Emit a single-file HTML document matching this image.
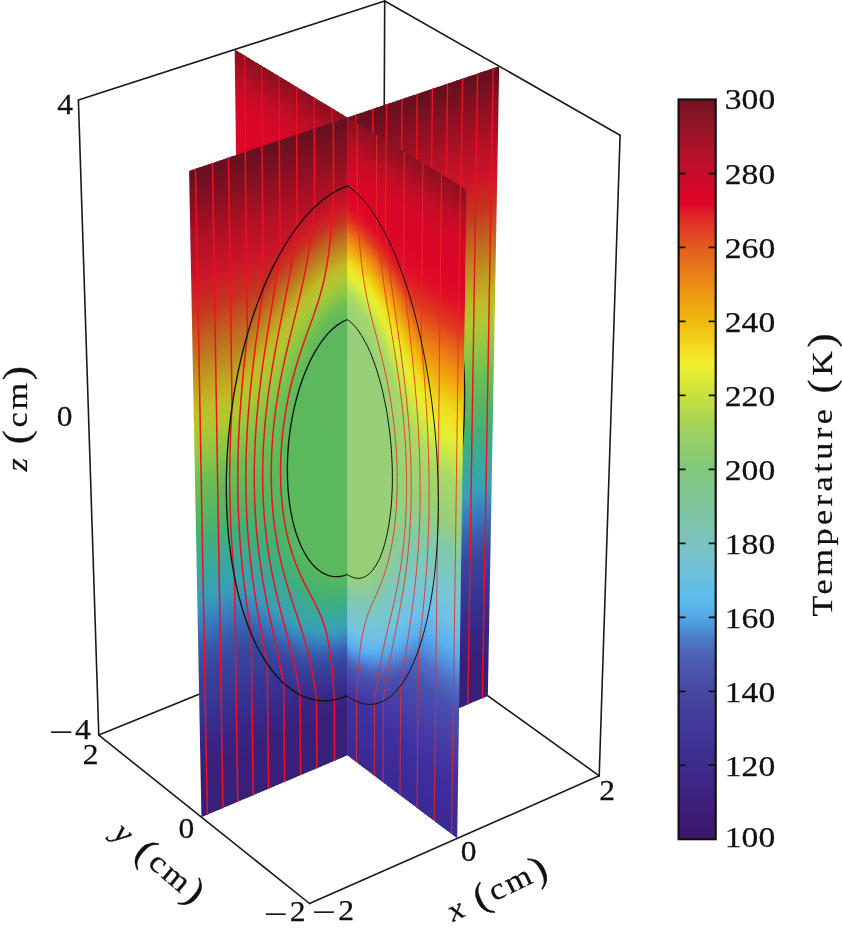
<!DOCTYPE html>
<html><head><meta charset="utf-8"><title>Temperature slices</title>
<style>html,body{margin:0;padding:0;background:#fff}svg{display:block}</style></head>
<body><svg width="842" height="928" viewBox="0 0 842 928">
<defs>
<linearGradient id="g0" gradientUnits="userSpaceOnUse" x1="0" y1="0" x2="0" y2="1" gradientTransform="matrix(-4 -2.7 0.17 637.60 345.31 116.26)"><stop offset="0" stop-color="#8a1020"/><stop offset="0.0405" stop-color="#b50e25"/><stop offset="0.0539" stop-color="#c20c26"/><stop offset="0.0874" stop-color="#d50828"/><stop offset="0.114" stop-color="#db0528"/><stop offset="0.1207" stop-color="#de0428"/><stop offset="0.1406" stop-color="#e00c28"/><stop offset="0.1604" stop-color="#e03420"/><stop offset="0.1802" stop-color="#e96f17"/><stop offset="0.1933" stop-color="#ef9011"/><stop offset="0.213" stop-color="#f0bf12"/><stop offset="0.2261" stop-color="#f0dc1e"/><stop offset="0.2391" stop-color="#ebeb2b"/><stop offset="0.2457" stop-color="#e6f031"/><stop offset="0.2652" stop-color="#c2e54e"/><stop offset="0.2782" stop-color="#abd965"/><stop offset="0.2911" stop-color="#a3d66d"/><stop offset="0.3169" stop-color="#98d078"/><stop offset="0.7164" stop-color="#98d078"/><stop offset="0.7526" stop-color="#80c8b2"/><stop offset="0.7826" stop-color="#77c7d2"/><stop offset="0.8064" stop-color="#6ebfe9"/><stop offset="0.8243" stop-color="#58afef"/><stop offset="0.8362" stop-color="#5091e1"/><stop offset="0.848" stop-color="#506cc3"/><stop offset="0.8598" stop-color="#4a56b4"/><stop offset="0.8657" stop-color="#484faf"/><stop offset="0.8893" stop-color="#473da7"/><stop offset="0.9069" stop-color="#4131a1"/><stop offset="1" stop-color="#3b2994"/></linearGradient>
<linearGradient id="g1" gradientUnits="userSpaceOnUse" x1="0" y1="0" x2="0" y2="1" gradientTransform="matrix(-4 -2.7 0.49 637.21 341.18 113.77)"><stop offset="0" stop-color="#8a1020"/><stop offset="0.0405" stop-color="#b50e25"/><stop offset="0.0539" stop-color="#c20c26"/><stop offset="0.0874" stop-color="#d50828"/><stop offset="0.114" stop-color="#db0528"/><stop offset="0.1207" stop-color="#de0428"/><stop offset="0.1406" stop-color="#e00b28"/><stop offset="0.1538" stop-color="#e02423"/><stop offset="0.1604" stop-color="#e03220"/><stop offset="0.1802" stop-color="#e86d18"/><stop offset="0.1999" stop-color="#f09e10"/><stop offset="0.213" stop-color="#f0be11"/><stop offset="0.2261" stop-color="#f0da1d"/><stop offset="0.2326" stop-color="#eee424"/><stop offset="0.2456" stop-color="#e8f030"/><stop offset="0.2652" stop-color="#c4e64c"/><stop offset="0.2781" stop-color="#addb63"/><stop offset="0.2846" stop-color="#a7d769"/><stop offset="0.3169" stop-color="#99d077"/><stop offset="0.7103" stop-color="#98d078"/><stop offset="0.7164" stop-color="#97d07b"/><stop offset="0.7526" stop-color="#7fc8b3"/><stop offset="0.7825" stop-color="#77c7d3"/><stop offset="0.8064" stop-color="#6dbee9"/><stop offset="0.8243" stop-color="#57adef"/><stop offset="0.8362" stop-color="#508fdf"/><stop offset="0.848" stop-color="#506ac1"/><stop offset="0.8598" stop-color="#4a56b4"/><stop offset="0.8657" stop-color="#484eaf"/><stop offset="0.8893" stop-color="#473da7"/><stop offset="0.9069" stop-color="#4131a1"/><stop offset="1" stop-color="#3b2994"/></linearGradient>
<linearGradient id="g2" gradientUnits="userSpaceOnUse" x1="0" y1="0" x2="0" y2="1" gradientTransform="matrix(-4 -2.7 0.80 636.82 337.05 111.28)"><stop offset="0" stop-color="#8a1020"/><stop offset="0.0405" stop-color="#b50e25"/><stop offset="0.0539" stop-color="#c20c26"/><stop offset="0.0874" stop-color="#d50828"/><stop offset="0.1207" stop-color="#dd0428"/><stop offset="0.1406" stop-color="#e00b28"/><stop offset="0.1472" stop-color="#e01426"/><stop offset="0.1604" stop-color="#e03021"/><stop offset="0.1802" stop-color="#e86a18"/><stop offset="0.1999" stop-color="#f09b10"/><stop offset="0.213" stop-color="#f0ba10"/><stop offset="0.2261" stop-color="#f0d71c"/><stop offset="0.2326" stop-color="#efe222"/><stop offset="0.2456" stop-color="#e9ee2e"/><stop offset="0.2586" stop-color="#d4eb3f"/><stop offset="0.2716" stop-color="#bde253"/><stop offset="0.2846" stop-color="#a8d868"/><stop offset="0.3233" stop-color="#98d078"/><stop offset="0.7103" stop-color="#98d078"/><stop offset="0.7285" stop-color="#8dcc91"/><stop offset="0.7465" stop-color="#81c8af"/><stop offset="0.7825" stop-color="#76c6d5"/><stop offset="0.8005" stop-color="#71c1e6"/><stop offset="0.8124" stop-color="#64b8ec"/><stop offset="0.8183" stop-color="#5cb3ef"/><stop offset="0.8243" stop-color="#56aaed"/><stop offset="0.8361" stop-color="#508bdc"/><stop offset="0.848" stop-color="#5067bf"/><stop offset="0.8598" stop-color="#4954b3"/><stop offset="0.8775" stop-color="#4845aa"/><stop offset="0.9069" stop-color="#4131a1"/><stop offset="1" stop-color="#3b2994"/></linearGradient>
<linearGradient id="g3" gradientUnits="userSpaceOnUse" x1="0" y1="0" x2="0" y2="1" gradientTransform="matrix(-3.9 -2.7 1.11 636.42 332.94 108.80)"><stop offset="0" stop-color="#8a1020"/><stop offset="0.0405" stop-color="#b50e25"/><stop offset="0.0539" stop-color="#c20c26"/><stop offset="0.0874" stop-color="#d50828"/><stop offset="0.1273" stop-color="#de0528"/><stop offset="0.1405" stop-color="#e00a28"/><stop offset="0.1472" stop-color="#e01127"/><stop offset="0.1604" stop-color="#e02c22"/><stop offset="0.167" stop-color="#e13d1f"/><stop offset="0.1867" stop-color="#ea7516"/><stop offset="0.1999" stop-color="#f09510"/><stop offset="0.213" stop-color="#f0b510"/><stop offset="0.226" stop-color="#f0d119"/><stop offset="0.2326" stop-color="#f0df20"/><stop offset="0.2456" stop-color="#eaec2c"/><stop offset="0.2521" stop-color="#e5ef32"/><stop offset="0.2716" stop-color="#c2e54e"/><stop offset="0.2846" stop-color="#acda64"/><stop offset="0.2911" stop-color="#a6d76a"/><stop offset="0.3298" stop-color="#98d078"/><stop offset="0.7042" stop-color="#98d078"/><stop offset="0.7103" stop-color="#96cf7d"/><stop offset="0.7465" stop-color="#7fc8b3"/><stop offset="0.7765" stop-color="#77c7d2"/><stop offset="0.8004" stop-color="#70c0e8"/><stop offset="0.8183" stop-color="#5ab1ef"/><stop offset="0.8302" stop-color="#5296e3"/><stop offset="0.8361" stop-color="#5086d8"/><stop offset="0.8421" stop-color="#5073c9"/><stop offset="0.848" stop-color="#4f64bd"/><stop offset="0.8598" stop-color="#4851b1"/><stop offset="0.8893" stop-color="#463ba6"/><stop offset="0.9069" stop-color="#4131a1"/><stop offset="1" stop-color="#3b2994"/></linearGradient>
<linearGradient id="g4" gradientUnits="userSpaceOnUse" x1="0" y1="0" x2="0" y2="1" gradientTransform="matrix(-3.9 -2.7 1.42 636.03 328.84 106.32)"><stop offset="0" stop-color="#8a1020"/><stop offset="0.0405" stop-color="#b50e25"/><stop offset="0.0539" stop-color="#c20c26"/><stop offset="0.0874" stop-color="#d50828"/><stop offset="0.1273" stop-color="#de0528"/><stop offset="0.1471" stop-color="#e00c28"/><stop offset="0.167" stop-color="#e03620"/><stop offset="0.1867" stop-color="#e96f17"/><stop offset="0.2064" stop-color="#f09e10"/><stop offset="0.2195" stop-color="#f0bd10"/><stop offset="0.2326" stop-color="#f0d81c"/><stop offset="0.2391" stop-color="#efe222"/><stop offset="0.2521" stop-color="#e9ee2e"/><stop offset="0.2651" stop-color="#d5eb3e"/><stop offset="0.2781" stop-color="#bfe351"/><stop offset="0.291" stop-color="#aad966"/><stop offset="0.3362" stop-color="#98d078"/><stop offset="0.6982" stop-color="#98d078"/><stop offset="0.7103" stop-color="#92ce85"/><stop offset="0.7405" stop-color="#80c8b1"/><stop offset="0.7765" stop-color="#76c6d5"/><stop offset="0.7945" stop-color="#71c1e5"/><stop offset="0.8064" stop-color="#65b9ec"/><stop offset="0.8183" stop-color="#57adee"/><stop offset="0.8302" stop-color="#5090e0"/><stop offset="0.8421" stop-color="#506cc3"/><stop offset="0.8539" stop-color="#4a57b5"/><stop offset="0.8598" stop-color="#484faf"/><stop offset="0.8834" stop-color="#473ea7"/><stop offset="0.901" stop-color="#4133a1"/><stop offset="0.9361" stop-color="#3e2e9c"/><stop offset="1" stop-color="#3b2994"/></linearGradient>
<linearGradient id="g5" gradientUnits="userSpaceOnUse" x1="0" y1="0" x2="0" y2="1" gradientTransform="matrix(-3.9 -2.7 1.73 635.64 324.74 103.85)"><stop offset="0" stop-color="#8a1020"/><stop offset="0.0405" stop-color="#b50e25"/><stop offset="0.0539" stop-color="#c20c26"/><stop offset="0.0873" stop-color="#d50828"/><stop offset="0.1273" stop-color="#de0428"/><stop offset="0.1471" stop-color="#e00b28"/><stop offset="0.1537" stop-color="#e01526"/><stop offset="0.1669" stop-color="#e03021"/><stop offset="0.1933" stop-color="#ea7716"/><stop offset="0.2064" stop-color="#f09610"/><stop offset="0.2195" stop-color="#f0b410"/><stop offset="0.226" stop-color="#f0c213"/><stop offset="0.2391" stop-color="#f0dd1f"/><stop offset="0.2586" stop-color="#e8f030"/><stop offset="0.2781" stop-color="#c8e848"/><stop offset="0.2975" stop-color="#a9d967"/><stop offset="0.3426" stop-color="#98d078"/><stop offset="0.6921" stop-color="#98d079"/><stop offset="0.7224" stop-color="#87caa0"/><stop offset="0.7344" stop-color="#80c8b1"/><stop offset="0.7705" stop-color="#77c7d3"/><stop offset="0.7945" stop-color="#6fbfe8"/><stop offset="0.8123" stop-color="#5ab1ef"/><stop offset="0.8242" stop-color="#5297e3"/><stop offset="0.8302" stop-color="#5087d9"/><stop offset="0.842" stop-color="#4f65be"/><stop offset="0.8539" stop-color="#4953b2"/><stop offset="0.8834" stop-color="#463da6"/><stop offset="0.901" stop-color="#4133a1"/><stop offset="0.9361" stop-color="#3e2e9c"/><stop offset="1" stop-color="#3b2994"/></linearGradient>
<linearGradient id="g6" gradientUnits="userSpaceOnUse" x1="0" y1="0" x2="0" y2="1" gradientTransform="matrix(-3.9 -2.7 2.04 635.25 320.65 101.39)"><stop offset="0" stop-color="#8a1020"/><stop offset="0.0405" stop-color="#b50e25"/><stop offset="0.0539" stop-color="#c20c26"/><stop offset="0.0873" stop-color="#d50828"/><stop offset="0.1339" stop-color="#de0528"/><stop offset="0.1537" stop-color="#e00e28"/><stop offset="0.1735" stop-color="#e03720"/><stop offset="0.1933" stop-color="#e86e18"/><stop offset="0.2129" stop-color="#f09b10"/><stop offset="0.226" stop-color="#f0b910"/><stop offset="0.2456" stop-color="#f0e020"/><stop offset="0.2651" stop-color="#e7f031"/><stop offset="0.2845" stop-color="#c8e848"/><stop offset="0.3039" stop-color="#abd965"/><stop offset="0.3168" stop-color="#a4d66c"/><stop offset="0.3554" stop-color="#98d078"/><stop offset="0.6799" stop-color="#98d078"/><stop offset="0.7103" stop-color="#89cb9a"/><stop offset="0.7284" stop-color="#80c8b2"/><stop offset="0.7645" stop-color="#77c7d3"/><stop offset="0.7885" stop-color="#70c0e8"/><stop offset="0.8064" stop-color="#5cb3ef"/><stop offset="0.8123" stop-color="#56aaed"/><stop offset="0.8242" stop-color="#508dde"/><stop offset="0.8361" stop-color="#506ac2"/><stop offset="0.8539" stop-color="#484faf"/><stop offset="0.8775" stop-color="#473fa7"/><stop offset="0.8951" stop-color="#4235a2"/><stop offset="0.9245" stop-color="#3f2f9e"/><stop offset="1" stop-color="#3b2994"/></linearGradient>
<linearGradient id="g7" gradientUnits="userSpaceOnUse" x1="0" y1="0" x2="0" y2="1" gradientTransform="matrix(-3.9 -2.7 2.35 634.85 316.57 98.92)"><stop offset="0" stop-color="#8a1020"/><stop offset="0.0405" stop-color="#b50e25"/><stop offset="0.0539" stop-color="#c20c26"/><stop offset="0.0873" stop-color="#d50828"/><stop offset="0.1339" stop-color="#de0428"/><stop offset="0.1537" stop-color="#e00b28"/><stop offset="0.1603" stop-color="#e01426"/><stop offset="0.1735" stop-color="#e02e21"/><stop offset="0.1867" stop-color="#e4511c"/><stop offset="0.1998" stop-color="#e97317"/><stop offset="0.2129" stop-color="#ef9111"/><stop offset="0.2325" stop-color="#f0bb10"/><stop offset="0.2521" stop-color="#f0e020"/><stop offset="0.2716" stop-color="#e8f030"/><stop offset="0.2975" stop-color="#c0e450"/><stop offset="0.3104" stop-color="#aedb62"/><stop offset="0.3168" stop-color="#a7d869"/><stop offset="0.3745" stop-color="#98d078"/><stop offset="0.6677" stop-color="#98d079"/><stop offset="0.6981" stop-color="#8bcc97"/><stop offset="0.7223" stop-color="#7fc8b4"/><stop offset="0.7585" stop-color="#77c7d3"/><stop offset="0.7825" stop-color="#70c0e7"/><stop offset="0.8004" stop-color="#5db3ee"/><stop offset="0.8064" stop-color="#57adee"/><stop offset="0.8183" stop-color="#5092e1"/><stop offset="0.8302" stop-color="#5070c6"/><stop offset="0.8361" stop-color="#4e63bd"/><stop offset="0.8479" stop-color="#4851b1"/><stop offset="0.8775" stop-color="#463da6"/><stop offset="0.901" stop-color="#4133a1"/><stop offset="0.9361" stop-color="#3e2e9c"/><stop offset="1" stop-color="#3b2994"/></linearGradient>
<linearGradient id="g8" gradientUnits="userSpaceOnUse" x1="0" y1="0" x2="0" y2="1" gradientTransform="matrix(-3.9 -2.7 2.66 634.46 312.50 96.47)"><stop offset="0" stop-color="#8a1020"/><stop offset="0.0404" stop-color="#b50e25"/><stop offset="0.0539" stop-color="#c20c26"/><stop offset="0.0873" stop-color="#d50828"/><stop offset="0.1405" stop-color="#de0528"/><stop offset="0.1603" stop-color="#e00d28"/><stop offset="0.1801" stop-color="#e03320"/><stop offset="0.1998" stop-color="#e76719"/><stop offset="0.2194" stop-color="#f09310"/><stop offset="0.239" stop-color="#f0bd10"/><stop offset="0.2586" stop-color="#f0e020"/><stop offset="0.278" stop-color="#e8ef2f"/><stop offset="0.3039" stop-color="#c4e64c"/><stop offset="0.3232" stop-color="#abd965"/><stop offset="0.3425" stop-color="#a3d66d"/><stop offset="0.3936" stop-color="#98d078"/><stop offset="0.6494" stop-color="#98d079"/><stop offset="0.6799" stop-color="#8dcc91"/><stop offset="0.7102" stop-color="#80c8b2"/><stop offset="0.7525" stop-color="#77c7d4"/><stop offset="0.7765" stop-color="#70c0e7"/><stop offset="0.8004" stop-color="#58aeef"/><stop offset="0.8123" stop-color="#5194e2"/><stop offset="0.8301" stop-color="#4f65be"/><stop offset="0.842" stop-color="#4954b2"/><stop offset="0.8657" stop-color="#4842a9"/><stop offset="0.8834" stop-color="#4438a4"/><stop offset="0.9186" stop-color="#3f2f9f"/><stop offset="1" stop-color="#3b2994"/></linearGradient>
<linearGradient id="g9" gradientUnits="userSpaceOnUse" x1="0" y1="0" x2="0" y2="1" gradientTransform="matrix(-3.9 -2.7 2.96 634.07 308.43 94.02)"><stop offset="0" stop-color="#8a1020"/><stop offset="0.0404" stop-color="#b50e25"/><stop offset="0.0539" stop-color="#c20c26"/><stop offset="0.0873" stop-color="#d50828"/><stop offset="0.1405" stop-color="#de0528"/><stop offset="0.1603" stop-color="#e00b28"/><stop offset="0.1669" stop-color="#e01127"/><stop offset="0.1867" stop-color="#e03720"/><stop offset="0.2063" stop-color="#e86b18"/><stop offset="0.226" stop-color="#f09510"/><stop offset="0.2455" stop-color="#f0bc10"/><stop offset="0.265" stop-color="#f0df1f"/><stop offset="0.2845" stop-color="#e9ee2e"/><stop offset="0.2974" stop-color="#daec3b"/><stop offset="0.3168" stop-color="#c0e450"/><stop offset="0.3361" stop-color="#a9d967"/><stop offset="0.4063" stop-color="#99d077"/><stop offset="0.6249" stop-color="#98d078"/><stop offset="0.6555" stop-color="#90cd8a"/><stop offset="0.6859" stop-color="#85caa5"/><stop offset="0.7042" stop-color="#7fc8b5"/><stop offset="0.7464" stop-color="#76c6d5"/><stop offset="0.7705" stop-color="#70c0e8"/><stop offset="0.7944" stop-color="#58aeef"/><stop offset="0.8063" stop-color="#5195e2"/><stop offset="0.8242" stop-color="#4f66bf"/><stop offset="0.842" stop-color="#484faf"/><stop offset="0.8716" stop-color="#463ba6"/><stop offset="0.9186" stop-color="#3f2f9f"/><stop offset="1" stop-color="#3b2994"/></linearGradient>
<linearGradient id="g10" gradientUnits="userSpaceOnUse" x1="0" y1="0" x2="0" y2="1" gradientTransform="matrix(-3.9 -2.7 3.27 633.68 304.37 91.57)"><stop offset="0" stop-color="#8a1020"/><stop offset="0.0404" stop-color="#b50e25"/><stop offset="0.0539" stop-color="#c20c26"/><stop offset="0.0873" stop-color="#d50828"/><stop offset="0.1405" stop-color="#de0528"/><stop offset="0.1669" stop-color="#e00b28"/><stop offset="0.1735" stop-color="#e01426"/><stop offset="0.1932" stop-color="#e13a1f"/><stop offset="0.2129" stop-color="#e86c18"/><stop offset="0.2325" stop-color="#f09510"/><stop offset="0.252" stop-color="#f0bb10"/><stop offset="0.2715" stop-color="#f0dc1e"/><stop offset="0.2845" stop-color="#ece828"/><stop offset="0.2974" stop-color="#e7f031"/><stop offset="0.3296" stop-color="#bfe351"/><stop offset="0.3489" stop-color="#a9d967"/><stop offset="0.4127" stop-color="#9cd274"/><stop offset="0.4695" stop-color="#98d078"/><stop offset="0.5941" stop-color="#98d079"/><stop offset="0.631" stop-color="#92ce87"/><stop offset="0.6616" stop-color="#89cb9c"/><stop offset="0.692" stop-color="#7fc8b5"/><stop offset="0.7344" stop-color="#77c7d3"/><stop offset="0.7645" stop-color="#6fbfe8"/><stop offset="0.7824" stop-color="#5db3ee"/><stop offset="0.7884" stop-color="#57adef"/><stop offset="0.8004" stop-color="#5194e2"/><stop offset="0.8182" stop-color="#5067bf"/><stop offset="0.8361" stop-color="#484fb0"/><stop offset="0.8657" stop-color="#473da7"/><stop offset="0.9186" stop-color="#3f2f9f"/><stop offset="1" stop-color="#3b2994"/></linearGradient>
<linearGradient id="g11" gradientUnits="userSpaceOnUse" x1="0" y1="0" x2="0" y2="1" gradientTransform="matrix(-3.9 -2.7 3.57 633.29 300.32 89.13)"><stop offset="0" stop-color="#8a1020"/><stop offset="0.0404" stop-color="#b50e25"/><stop offset="0.0539" stop-color="#c20c26"/><stop offset="0.0873" stop-color="#d50828"/><stop offset="0.1405" stop-color="#de0528"/><stop offset="0.1735" stop-color="#e00c28"/><stop offset="0.1932" stop-color="#e02e21"/><stop offset="0.2129" stop-color="#e65d1a"/><stop offset="0.2259" stop-color="#eb7a15"/><stop offset="0.239" stop-color="#f09410"/><stop offset="0.2585" stop-color="#f0b910"/><stop offset="0.278" stop-color="#f0d91d"/><stop offset="0.2845" stop-color="#efe121"/><stop offset="0.3039" stop-color="#e9ee2e"/><stop offset="0.3168" stop-color="#dbed3a"/><stop offset="0.3425" stop-color="#bee352"/><stop offset="0.3617" stop-color="#abd965"/><stop offset="0.3808" stop-color="#a5d66b"/><stop offset="0.4632" stop-color="#9ad176"/><stop offset="0.5632" stop-color="#97d07b"/><stop offset="0.6064" stop-color="#92ce87"/><stop offset="0.6432" stop-color="#89cb9b"/><stop offset="0.6798" stop-color="#7fc8b5"/><stop offset="0.7283" stop-color="#76c6d5"/><stop offset="0.7524" stop-color="#71c1e6"/><stop offset="0.7704" stop-color="#61b6ed"/><stop offset="0.7764" stop-color="#5bb2ef"/><stop offset="0.7824" stop-color="#57abee"/><stop offset="0.7944" stop-color="#5193e2"/><stop offset="0.8123" stop-color="#5067bf"/><stop offset="0.8301" stop-color="#484fb0"/><stop offset="0.8538" stop-color="#4841a8"/><stop offset="0.9186" stop-color="#3f2f9f"/><stop offset="1" stop-color="#3b2994"/></linearGradient>
<linearGradient id="g12" gradientUnits="userSpaceOnUse" x1="0" y1="0" x2="0" y2="1" gradientTransform="matrix(-3.9 -2.6 3.87 632.90 296.28 86.69)"><stop offset="0" stop-color="#8a1020"/><stop offset="0.0404" stop-color="#b50e25"/><stop offset="0.0539" stop-color="#c20c26"/><stop offset="0.0873" stop-color="#d50828"/><stop offset="0.1405" stop-color="#de0528"/><stop offset="0.18" stop-color="#e00d28"/><stop offset="0.1997" stop-color="#e03021"/><stop offset="0.2259" stop-color="#e86d18"/><stop offset="0.2455" stop-color="#f09310"/><stop offset="0.265" stop-color="#f0b610"/><stop offset="0.2844" stop-color="#f0d51b"/><stop offset="0.2909" stop-color="#f0df20"/><stop offset="0.3167" stop-color="#e8f030"/><stop offset="0.3553" stop-color="#bee352"/><stop offset="0.3808" stop-color="#a8d868"/><stop offset="0.4821" stop-color="#9ad176"/><stop offset="0.5321" stop-color="#97d07a"/><stop offset="0.5879" stop-color="#91ce89"/><stop offset="0.631" stop-color="#88cb9e"/><stop offset="0.6615" stop-color="#7fc8b3"/><stop offset="0.7162" stop-color="#77c7d4"/><stop offset="0.7464" stop-color="#70c0e8"/><stop offset="0.7704" stop-color="#5ab1ef"/><stop offset="0.7824" stop-color="#539de6"/><stop offset="0.7884" stop-color="#5091e1"/><stop offset="0.8063" stop-color="#4f66bf"/><stop offset="0.8242" stop-color="#484fb0"/><stop offset="0.8479" stop-color="#4843a9"/><stop offset="0.9186" stop-color="#3f2f9f"/><stop offset="1" stop-color="#3b2994"/></linearGradient>
<linearGradient id="g13" gradientUnits="userSpaceOnUse" x1="0" y1="0" x2="0" y2="1" gradientTransform="matrix(-3.9 -2.6 4.17 632.51 292.25 84.26)"><stop offset="0" stop-color="#8a1020"/><stop offset="0.0404" stop-color="#b50e25"/><stop offset="0.0539" stop-color="#c20c26"/><stop offset="0.0873" stop-color="#d50828"/><stop offset="0.1405" stop-color="#de0528"/><stop offset="0.18" stop-color="#e00d28"/><stop offset="0.1932" stop-color="#e01a25"/><stop offset="0.2063" stop-color="#e03121"/><stop offset="0.2324" stop-color="#e86c18"/><stop offset="0.2585" stop-color="#f09d10"/><stop offset="0.278" stop-color="#f0be11"/><stop offset="0.2974" stop-color="#f0db1e"/><stop offset="0.3103" stop-color="#ede626"/><stop offset="0.3296" stop-color="#e6ef32"/><stop offset="0.368" stop-color="#bee352"/><stop offset="0.3935" stop-color="#a9d867"/><stop offset="0.5008" stop-color="#9ad176"/><stop offset="0.5321" stop-color="#97d07b"/><stop offset="0.594" stop-color="#8ccc93"/><stop offset="0.6554" stop-color="#7ec8b7"/><stop offset="0.7041" stop-color="#77c7d3"/><stop offset="0.7343" stop-color="#71c1e6"/><stop offset="0.7524" stop-color="#63b7ec"/><stop offset="0.7644" stop-color="#58b0f0"/><stop offset="0.7824" stop-color="#508edf"/><stop offset="0.8003" stop-color="#4f65be"/><stop offset="0.8182" stop-color="#484fb0"/><stop offset="0.836" stop-color="#4846ab"/><stop offset="0.8833" stop-color="#4438a4"/><stop offset="0.9186" stop-color="#3f2f9f"/><stop offset="1" stop-color="#3b2994"/></linearGradient>
<linearGradient id="g14" gradientUnits="userSpaceOnUse" x1="0" y1="0" x2="0" y2="1" gradientTransform="matrix(-3.9 -2.6 4.47 632.12 288.23 81.83)"><stop offset="0" stop-color="#8a1020"/><stop offset="0.0404" stop-color="#b50e25"/><stop offset="0.0539" stop-color="#c20c26"/><stop offset="0.0873" stop-color="#d50828"/><stop offset="0.1404" stop-color="#de0528"/><stop offset="0.18" stop-color="#e00d28"/><stop offset="0.2063" stop-color="#e02723"/><stop offset="0.2128" stop-color="#e03121"/><stop offset="0.239" stop-color="#e86c18"/><stop offset="0.265" stop-color="#f09a10"/><stop offset="0.2844" stop-color="#f0bb10"/><stop offset="0.3103" stop-color="#f0e020"/><stop offset="0.336" stop-color="#e9ef2f"/><stop offset="0.3744" stop-color="#c4e64c"/><stop offset="0.4062" stop-color="#a9d967"/><stop offset="0.5133" stop-color="#99d177"/><stop offset="0.5383" stop-color="#95cf7f"/><stop offset="0.6002" stop-color="#87ca9f"/><stop offset="0.637" stop-color="#7fc8b5"/><stop offset="0.6919" stop-color="#77c7d3"/><stop offset="0.7283" stop-color="#70c0e8"/><stop offset="0.7524" stop-color="#5bb2ef"/><stop offset="0.7584" stop-color="#57acee"/><stop offset="0.7764" stop-color="#508bdc"/><stop offset="0.7884" stop-color="#506fc6"/><stop offset="0.7943" stop-color="#4f64be"/><stop offset="0.8122" stop-color="#484fb0"/><stop offset="0.8656" stop-color="#473da7"/><stop offset="0.9186" stop-color="#3f2f9f"/><stop offset="1" stop-color="#3b2994"/></linearGradient>
<linearGradient id="g15" gradientUnits="userSpaceOnUse" x1="0" y1="0" x2="0" y2="1" gradientTransform="matrix(-3.9 -2.6 4.77 631.73 284.21 79.41)"><stop offset="0" stop-color="#8a1020"/><stop offset="0.0404" stop-color="#b50e25"/><stop offset="0.0539" stop-color="#c20c26"/><stop offset="0.0873" stop-color="#d50828"/><stop offset="0.1404" stop-color="#de0528"/><stop offset="0.18" stop-color="#e00d28"/><stop offset="0.2194" stop-color="#e03520"/><stop offset="0.2259" stop-color="#e2401e"/><stop offset="0.2455" stop-color="#e86b18"/><stop offset="0.2714" stop-color="#f09810"/><stop offset="0.2909" stop-color="#f0b810"/><stop offset="0.3167" stop-color="#f0dc1e"/><stop offset="0.336" stop-color="#ebe929"/><stop offset="0.3488" stop-color="#e7f030"/><stop offset="0.3871" stop-color="#c3e54d"/><stop offset="0.4189" stop-color="#a9d867"/><stop offset="0.5258" stop-color="#97d07a"/><stop offset="0.6063" stop-color="#82c9aa"/><stop offset="0.6859" stop-color="#76c6d5"/><stop offset="0.7162" stop-color="#71c1e6"/><stop offset="0.7463" stop-color="#59b1f0"/><stop offset="0.7644" stop-color="#5194e2"/><stop offset="0.7824" stop-color="#506cc3"/><stop offset="0.8003" stop-color="#4954b3"/><stop offset="0.8122" stop-color="#484eaf"/><stop offset="0.8656" stop-color="#473da7"/><stop offset="0.9185" stop-color="#3f2f9f"/><stop offset="1" stop-color="#3b2994"/></linearGradient>
<linearGradient id="g16" gradientUnits="userSpaceOnUse" x1="0" y1="0" x2="0" y2="1" gradientTransform="matrix(-3.9 -2.6 5.07 631.35 280.20 76.99)"><stop offset="0" stop-color="#8a1020"/><stop offset="0.0404" stop-color="#b50e25"/><stop offset="0.0538" stop-color="#c20c26"/><stop offset="0.0873" stop-color="#d50828"/><stop offset="0.1404" stop-color="#de0528"/><stop offset="0.18" stop-color="#e00d28"/><stop offset="0.2193" stop-color="#e03520"/><stop offset="0.2454" stop-color="#e65c1a"/><stop offset="0.2584" stop-color="#ea7616"/><stop offset="0.2779" stop-color="#f09710"/><stop offset="0.3038" stop-color="#f0bf11"/><stop offset="0.3295" stop-color="#f0e121"/><stop offset="0.3552" stop-color="#e9ef2f"/><stop offset="0.3808" stop-color="#d2ea41"/><stop offset="0.4252" stop-color="#acda64"/><stop offset="0.4379" stop-color="#a7d769"/><stop offset="0.5195" stop-color="#98d078"/><stop offset="0.594" stop-color="#83c9a9"/><stop offset="0.6186" stop-color="#7ec8b7"/><stop offset="0.6737" stop-color="#77c7d4"/><stop offset="0.7101" stop-color="#70c0e8"/><stop offset="0.7403" stop-color="#58afef"/><stop offset="0.7584" stop-color="#5091e0"/><stop offset="0.7764" stop-color="#5069c1"/><stop offset="0.7883" stop-color="#4c5db8"/><stop offset="0.8063" stop-color="#4850b0"/><stop offset="0.8656" stop-color="#473da7"/><stop offset="0.9185" stop-color="#3f2f9f"/><stop offset="1" stop-color="#3b2994"/></linearGradient>
<linearGradient id="g17" gradientUnits="userSpaceOnUse" x1="0" y1="0" x2="0" y2="1" gradientTransform="matrix(-3.8 -2.6 5.36 630.96 276.20 74.58)"><stop offset="0" stop-color="#8a1020"/><stop offset="0.0404" stop-color="#b50e25"/><stop offset="0.0538" stop-color="#c20c26"/><stop offset="0.0873" stop-color="#d50828"/><stop offset="0.1404" stop-color="#de0528"/><stop offset="0.18" stop-color="#e00d28"/><stop offset="0.2193" stop-color="#e03520"/><stop offset="0.2714" stop-color="#ec8014"/><stop offset="0.2908" stop-color="#f0a010"/><stop offset="0.3102" stop-color="#f0bd11"/><stop offset="0.3359" stop-color="#f0df20"/><stop offset="0.368" stop-color="#e7f031"/><stop offset="0.4062" stop-color="#c3e54d"/><stop offset="0.4379" stop-color="#a8d868"/><stop offset="0.5195" stop-color="#98d078"/><stop offset="0.6001" stop-color="#7fc8b2"/><stop offset="0.6615" stop-color="#77c7d3"/><stop offset="0.698" stop-color="#71c1e6"/><stop offset="0.7282" stop-color="#5bb2ef"/><stop offset="0.7343" stop-color="#57acee"/><stop offset="0.7523" stop-color="#508dde"/><stop offset="0.7644" stop-color="#5074c9"/><stop offset="0.7764" stop-color="#4f65be"/><stop offset="0.8062" stop-color="#4850b0"/><stop offset="0.8656" stop-color="#473da7"/><stop offset="0.9185" stop-color="#3f2f9f"/><stop offset="1" stop-color="#3b2994"/></linearGradient>
<linearGradient id="g18" gradientUnits="userSpaceOnUse" x1="0" y1="0" x2="0" y2="1" gradientTransform="matrix(-3.8 -2.6 5.66 630.57 272.20 72.17)"><stop offset="0" stop-color="#8a1020"/><stop offset="0.0404" stop-color="#b50e25"/><stop offset="0.0538" stop-color="#c20c26"/><stop offset="0.0873" stop-color="#d50828"/><stop offset="0.1404" stop-color="#de0528"/><stop offset="0.18" stop-color="#e00d28"/><stop offset="0.2193" stop-color="#e03520"/><stop offset="0.2649" stop-color="#ea7516"/><stop offset="0.2908" stop-color="#f09510"/><stop offset="0.3166" stop-color="#f0bc10"/><stop offset="0.3423" stop-color="#f0de1f"/><stop offset="0.3743" stop-color="#e8f030"/><stop offset="0.4125" stop-color="#c3e64d"/><stop offset="0.4442" stop-color="#a8d868"/><stop offset="0.5195" stop-color="#99d077"/><stop offset="0.5939" stop-color="#7fc8b2"/><stop offset="0.6553" stop-color="#77c7d4"/><stop offset="0.6919" stop-color="#70c0e8"/><stop offset="0.7222" stop-color="#59b1f0"/><stop offset="0.7463" stop-color="#508ede"/><stop offset="0.7703" stop-color="#506bc2"/><stop offset="0.8062" stop-color="#4850b0"/><stop offset="0.8656" stop-color="#473da7"/><stop offset="0.9185" stop-color="#3f2f9f"/><stop offset="1" stop-color="#3b2994"/></linearGradient>
<linearGradient id="g19" gradientUnits="userSpaceOnUse" x1="0" y1="0" x2="0" y2="1" gradientTransform="matrix(-3.8 -2.6 5.95 630.18 268.22 69.76)"><stop offset="0" stop-color="#8a1020"/><stop offset="0.0404" stop-color="#b50e25"/><stop offset="0.0538" stop-color="#c20c26"/><stop offset="0.0873" stop-color="#d50828"/><stop offset="0.1404" stop-color="#de0528"/><stop offset="0.18" stop-color="#e00d28"/><stop offset="0.2193" stop-color="#e03520"/><stop offset="0.2649" stop-color="#ea7516"/><stop offset="0.2973" stop-color="#f09c10"/><stop offset="0.3231" stop-color="#f0bc10"/><stop offset="0.3487" stop-color="#f0dd1f"/><stop offset="0.3807" stop-color="#e8f030"/><stop offset="0.4188" stop-color="#c3e64d"/><stop offset="0.4505" stop-color="#a8d868"/><stop offset="0.5195" stop-color="#99d077"/><stop offset="0.5754" stop-color="#84c9a8"/><stop offset="0.5939" stop-color="#7fc8b5"/><stop offset="0.6492" stop-color="#77c7d4"/><stop offset="0.6858" stop-color="#6fc0e8"/><stop offset="0.7161" stop-color="#59b0f0"/><stop offset="0.7463" stop-color="#508ede"/><stop offset="0.7703" stop-color="#506bc2"/><stop offset="0.8062" stop-color="#4850b0"/><stop offset="0.8656" stop-color="#473da7"/><stop offset="0.9185" stop-color="#3f2f9f"/><stop offset="1" stop-color="#3b2994"/></linearGradient>
<linearGradient id="g20" gradientUnits="userSpaceOnUse" x1="0" y1="0" x2="0" y2="1" gradientTransform="matrix(-3.8 -2.6 6.24 629.79 264.24 67.36)"><stop offset="0" stop-color="#8a1020"/><stop offset="0.0404" stop-color="#b50e25"/><stop offset="0.0538" stop-color="#c20c26"/><stop offset="0.0873" stop-color="#d50828"/><stop offset="0.1404" stop-color="#de0528"/><stop offset="0.18" stop-color="#e00d28"/><stop offset="0.2193" stop-color="#e03520"/><stop offset="0.2649" stop-color="#ea7516"/><stop offset="0.2973" stop-color="#f09c10"/><stop offset="0.323" stop-color="#f0bb10"/><stop offset="0.3551" stop-color="#f0de1f"/><stop offset="0.3871" stop-color="#e8f030"/><stop offset="0.4252" stop-color="#c2e54e"/><stop offset="0.4504" stop-color="#aad966"/><stop offset="0.5195" stop-color="#99d077"/><stop offset="0.5568" stop-color="#8acb99"/><stop offset="0.5816" stop-color="#80c8b1"/><stop offset="0.6431" stop-color="#76c6d5"/><stop offset="0.6797" stop-color="#6fbfe8"/><stop offset="0.7161" stop-color="#59b0f0"/><stop offset="0.7463" stop-color="#508ede"/><stop offset="0.7703" stop-color="#506bc2"/><stop offset="0.8062" stop-color="#4850b0"/><stop offset="0.8656" stop-color="#473da7"/><stop offset="0.9185" stop-color="#3f2f9f"/><stop offset="1" stop-color="#3b2994"/></linearGradient>
<linearGradient id="g21" gradientUnits="userSpaceOnUse" x1="0" y1="0" x2="0" y2="1" gradientTransform="matrix(-3.8 -2.6 6.54 629.41 260.27 64.97)"><stop offset="0" stop-color="#8a1020"/><stop offset="0.0404" stop-color="#b50e25"/><stop offset="0.0538" stop-color="#c20c26"/><stop offset="0.0873" stop-color="#d50828"/><stop offset="0.1404" stop-color="#de0528"/><stop offset="0.1799" stop-color="#e00d28"/><stop offset="0.2193" stop-color="#e03520"/><stop offset="0.2649" stop-color="#ea7516"/><stop offset="0.2972" stop-color="#f09c10"/><stop offset="0.323" stop-color="#f0bb10"/><stop offset="0.3551" stop-color="#f0de1f"/><stop offset="0.387" stop-color="#e9ee2e"/><stop offset="0.3998" stop-color="#dfee37"/><stop offset="0.4315" stop-color="#bfe451"/><stop offset="0.4567" stop-color="#a8d868"/><stop offset="0.5194" stop-color="#99d077"/><stop offset="0.5444" stop-color="#8ecd8e"/><stop offset="0.5815" stop-color="#7fc8b3"/><stop offset="0.6369" stop-color="#77c7d4"/><stop offset="0.6797" stop-color="#6fbfe8"/><stop offset="0.7161" stop-color="#59b0f0"/><stop offset="0.7463" stop-color="#508ede"/><stop offset="0.7703" stop-color="#506bc2"/><stop offset="0.8062" stop-color="#4850b0"/><stop offset="0.8656" stop-color="#473da7"/><stop offset="0.9185" stop-color="#3f2f9f"/><stop offset="1" stop-color="#3b2994"/></linearGradient>
<linearGradient id="g22" gradientUnits="userSpaceOnUse" x1="0" y1="0" x2="0" y2="1" gradientTransform="matrix(-3.8 -2.6 6.83 629.02 256.30 62.58)"><stop offset="0" stop-color="#8a1020"/><stop offset="0.0404" stop-color="#b50e25"/><stop offset="0.0538" stop-color="#c20c26"/><stop offset="0.0872" stop-color="#d50828"/><stop offset="0.1404" stop-color="#de0528"/><stop offset="0.1799" stop-color="#e00d28"/><stop offset="0.2193" stop-color="#e03520"/><stop offset="0.2649" stop-color="#ea7516"/><stop offset="0.2972" stop-color="#f09c10"/><stop offset="0.323" stop-color="#f0bb10"/><stop offset="0.3551" stop-color="#f0de1f"/><stop offset="0.387" stop-color="#e9ee2e"/><stop offset="0.3998" stop-color="#dfee37"/><stop offset="0.4315" stop-color="#c1e44f"/><stop offset="0.4567" stop-color="#a8d868"/><stop offset="0.5194" stop-color="#99d077"/><stop offset="0.5443" stop-color="#8ecd8f"/><stop offset="0.5753" stop-color="#80c8b0"/><stop offset="0.6369" stop-color="#77c7d4"/><stop offset="0.6797" stop-color="#6fbfe8"/><stop offset="0.7161" stop-color="#59b0f0"/><stop offset="0.7463" stop-color="#508ede"/><stop offset="0.7703" stop-color="#506bc2"/><stop offset="0.8062" stop-color="#4850b0"/><stop offset="0.8656" stop-color="#473da7"/><stop offset="0.9185" stop-color="#3f2f9f"/><stop offset="1" stop-color="#3b2994"/></linearGradient>
<linearGradient id="g23" gradientUnits="userSpaceOnUse" x1="0" y1="0" x2="0" y2="1" gradientTransform="matrix(-3.8 -2.6 7.12 628.64 252.35 60.19)"><stop offset="0" stop-color="#8a1020"/><stop offset="0.0404" stop-color="#b50e25"/><stop offset="0.0538" stop-color="#c20c26"/><stop offset="0.0872" stop-color="#d50828"/><stop offset="0.1404" stop-color="#de0528"/><stop offset="0.1799" stop-color="#e00d28"/><stop offset="0.2193" stop-color="#e03520"/><stop offset="0.2648" stop-color="#ea7516"/><stop offset="0.2972" stop-color="#f09c10"/><stop offset="0.323" stop-color="#f0bb10"/><stop offset="0.3551" stop-color="#f0de1f"/><stop offset="0.387" stop-color="#e9ee2e"/><stop offset="0.3997" stop-color="#dfee37"/><stop offset="0.4314" stop-color="#c1e44f"/><stop offset="0.4567" stop-color="#a8d868"/><stop offset="0.5194" stop-color="#99d077"/><stop offset="0.5443" stop-color="#8ecd8f"/><stop offset="0.5753" stop-color="#80c8b0"/><stop offset="0.6369" stop-color="#77c7d4"/><stop offset="0.6796" stop-color="#6fbfe8"/><stop offset="0.7161" stop-color="#59b0f0"/><stop offset="0.7462" stop-color="#508ede"/><stop offset="0.7703" stop-color="#506bc2"/><stop offset="0.8062" stop-color="#4850b0"/><stop offset="0.8655" stop-color="#473da7"/><stop offset="0.9185" stop-color="#3f2f9f"/><stop offset="1" stop-color="#3b2994"/></linearGradient>
<linearGradient id="g24" gradientUnits="userSpaceOnUse" x1="0" y1="0" x2="0" y2="1" gradientTransform="matrix(-3.8 -2.6 7.40 628.25 248.40 57.81)"><stop offset="0" stop-color="#8a1020"/><stop offset="0.0404" stop-color="#b50e25"/><stop offset="0.0538" stop-color="#c20c26"/><stop offset="0.0872" stop-color="#d50828"/><stop offset="0.1404" stop-color="#de0528"/><stop offset="0.1799" stop-color="#e00d28"/><stop offset="0.2192" stop-color="#e03520"/><stop offset="0.2648" stop-color="#ea7516"/><stop offset="0.2972" stop-color="#f09c10"/><stop offset="0.323" stop-color="#f0bb10"/><stop offset="0.3551" stop-color="#f0de1f"/><stop offset="0.387" stop-color="#e9ee2e"/><stop offset="0.3997" stop-color="#dfee37"/><stop offset="0.4314" stop-color="#c1e44f"/><stop offset="0.4567" stop-color="#a8d868"/><stop offset="0.5194" stop-color="#99d077"/><stop offset="0.5443" stop-color="#8ecd8f"/><stop offset="0.5753" stop-color="#80c8b0"/><stop offset="0.6369" stop-color="#77c7d4"/><stop offset="0.6796" stop-color="#6fbfe8"/><stop offset="0.716" stop-color="#59b0f0"/><stop offset="0.7462" stop-color="#508ede"/><stop offset="0.7703" stop-color="#506bc2"/><stop offset="0.8062" stop-color="#4850b0"/><stop offset="0.8655" stop-color="#473da7"/><stop offset="0.9185" stop-color="#3f2f9f"/><stop offset="1" stop-color="#3b2994"/></linearGradient>
<linearGradient id="g25" gradientUnits="userSpaceOnUse" x1="0" y1="0" x2="0" y2="1" gradientTransform="matrix(-3.8 -2.6 7.69 627.86 244.46 55.43)"><stop offset="0" stop-color="#8a1020"/><stop offset="0.0404" stop-color="#b50e25"/><stop offset="0.0538" stop-color="#c20c26"/><stop offset="0.0872" stop-color="#d50828"/><stop offset="0.1403" stop-color="#de0528"/><stop offset="0.1799" stop-color="#e00d28"/><stop offset="0.2192" stop-color="#e03520"/><stop offset="0.2648" stop-color="#ea7516"/><stop offset="0.2972" stop-color="#f09c10"/><stop offset="0.323" stop-color="#f0bb10"/><stop offset="0.355" stop-color="#f0de1f"/><stop offset="0.387" stop-color="#e9ee2e"/><stop offset="0.3997" stop-color="#dfee37"/><stop offset="0.4314" stop-color="#c1e44f"/><stop offset="0.4567" stop-color="#a8d868"/><stop offset="0.5194" stop-color="#99d077"/><stop offset="0.5443" stop-color="#8ecd8f"/><stop offset="0.5753" stop-color="#80c8b0"/><stop offset="0.6369" stop-color="#77c7d4"/><stop offset="0.6796" stop-color="#6fbfe8"/><stop offset="0.716" stop-color="#59b0f0"/><stop offset="0.7462" stop-color="#508ede"/><stop offset="0.7703" stop-color="#506bc2"/><stop offset="0.8062" stop-color="#4850b0"/><stop offset="0.8655" stop-color="#473da7"/><stop offset="0.9185" stop-color="#3f2f9f"/><stop offset="1" stop-color="#3b2994"/></linearGradient>
<linearGradient id="g26" gradientUnits="userSpaceOnUse" x1="0" y1="0" x2="0" y2="1" gradientTransform="matrix(-3.8 -2.6 7.98 627.48 240.53 53.06)"><stop offset="0" stop-color="#8a1020"/><stop offset="0.0404" stop-color="#b50e25"/><stop offset="0.0538" stop-color="#c20c26"/><stop offset="0.0872" stop-color="#d50828"/><stop offset="0.1403" stop-color="#de0528"/><stop offset="0.1799" stop-color="#e00d28"/><stop offset="0.2192" stop-color="#e03520"/><stop offset="0.2648" stop-color="#ea7516"/><stop offset="0.2972" stop-color="#f09c10"/><stop offset="0.3229" stop-color="#f0bb10"/><stop offset="0.355" stop-color="#f0de1f"/><stop offset="0.387" stop-color="#e9ee2e"/><stop offset="0.3997" stop-color="#dfee37"/><stop offset="0.4314" stop-color="#c1e44f"/><stop offset="0.4566" stop-color="#a8d868"/><stop offset="0.5194" stop-color="#99d077"/><stop offset="0.5443" stop-color="#8ecd8f"/><stop offset="0.5753" stop-color="#80c8b0"/><stop offset="0.6368" stop-color="#77c7d4"/><stop offset="0.6796" stop-color="#6fbfe8"/><stop offset="0.716" stop-color="#59b0f0"/><stop offset="0.7462" stop-color="#508ede"/><stop offset="0.7702" stop-color="#506bc2"/><stop offset="0.8061" stop-color="#4850b0"/><stop offset="0.8655" stop-color="#473da7"/><stop offset="0.9185" stop-color="#3f2f9f"/><stop offset="1" stop-color="#3b2994"/></linearGradient>
<linearGradient id="g27" gradientUnits="userSpaceOnUse" x1="0" y1="0" x2="0" y2="1" gradientTransform="matrix(-3.8 -2.6 8.26 627.09 236.60 50.70)"><stop offset="0" stop-color="#8a1020"/><stop offset="0.0404" stop-color="#b50e25"/><stop offset="0.0538" stop-color="#c20c26"/><stop offset="0.0872" stop-color="#d50828"/><stop offset="0.1403" stop-color="#de0528"/><stop offset="0.1799" stop-color="#e00d28"/><stop offset="0.2192" stop-color="#e03520"/><stop offset="0.2648" stop-color="#ea7516"/><stop offset="0.2972" stop-color="#f09c10"/><stop offset="0.3229" stop-color="#f0bb10"/><stop offset="0.355" stop-color="#f0de1f"/><stop offset="0.3869" stop-color="#e9ee2e"/><stop offset="0.3997" stop-color="#dfee37"/><stop offset="0.4314" stop-color="#c1e44f"/><stop offset="0.4566" stop-color="#a8d868"/><stop offset="0.5193" stop-color="#99d077"/><stop offset="0.5443" stop-color="#8ecd8f"/><stop offset="0.5753" stop-color="#80c8b0"/><stop offset="0.6368" stop-color="#77c7d4"/><stop offset="0.6796" stop-color="#6fbfe8"/><stop offset="0.716" stop-color="#59b0f0"/><stop offset="0.7462" stop-color="#508ede"/><stop offset="0.7702" stop-color="#506bc2"/><stop offset="0.8061" stop-color="#4850b0"/><stop offset="0.8655" stop-color="#473da7"/><stop offset="0.9185" stop-color="#3f2f9f"/><stop offset="1" stop-color="#3b2994"/></linearGradient>
<linearGradient id="g28" gradientUnits="userSpaceOnUse" x1="0" y1="0" x2="0" y2="1" gradientTransform="matrix(3.9 -1.5 -0.14 637.69 349.41 116.82)"><stop offset="0" stop-color="#661020"/><stop offset="0.0135" stop-color="#6a1020"/><stop offset="0.1007" stop-color="#aa1024"/><stop offset="0.1074" stop-color="#ad1125"/><stop offset="0.1339" stop-color="#ca1428"/><stop offset="0.1538" stop-color="#c92a22"/><stop offset="0.1604" stop-color="#c83220"/><stop offset="0.1802" stop-color="#c05d20"/><stop offset="0.2196" stop-color="#c0a622"/><stop offset="0.2326" stop-color="#c0bc28"/><stop offset="0.2522" stop-color="#adc832"/><stop offset="0.2717" stop-color="#91c743"/><stop offset="0.2911" stop-color="#71c050"/><stop offset="0.3169" stop-color="#5cb85c"/><stop offset="0.7164" stop-color="#5cb85c"/><stop offset="0.7526" stop-color="#3faf7b"/><stop offset="0.7766" stop-color="#38a8a0"/><stop offset="0.7945" stop-color="#38a2b3"/><stop offset="0.8005" stop-color="#389db9"/><stop offset="0.8124" stop-color="#3886be"/><stop offset="0.8184" stop-color="#387abd"/><stop offset="0.8302" stop-color="#3862b1"/><stop offset="0.848" stop-color="#38479f"/><stop offset="0.8775" stop-color="#383494"/><stop offset="0.9011" stop-color="#382684"/><stop offset="0.9128" stop-color="#38237e"/><stop offset="0.9362" stop-color="#382078"/><stop offset="1" stop-color="#36207a"/></linearGradient>
<linearGradient id="g29" gradientUnits="userSpaceOnUse" x1="0" y1="0" x2="0" y2="1" gradientTransform="matrix(3.9 -1.5 -0.45 637.47 353.49 115.44)"><stop offset="0" stop-color="#661020"/><stop offset="0.0135" stop-color="#6a1020"/><stop offset="0.1007" stop-color="#aa1024"/><stop offset="0.1074" stop-color="#ad1125"/><stop offset="0.1339" stop-color="#ca1428"/><stop offset="0.1472" stop-color="#ca2124"/><stop offset="0.1604" stop-color="#c83220"/><stop offset="0.1802" stop-color="#c05c20"/><stop offset="0.2195" stop-color="#c0a522"/><stop offset="0.2326" stop-color="#c0bb28"/><stop offset="0.2522" stop-color="#adc832"/><stop offset="0.2717" stop-color="#92c743"/><stop offset="0.2911" stop-color="#72c04f"/><stop offset="0.3169" stop-color="#5db85c"/><stop offset="0.7164" stop-color="#5bb85d"/><stop offset="0.7466" stop-color="#43b175"/><stop offset="0.7586" stop-color="#3eae84"/><stop offset="0.7766" stop-color="#38a8a0"/><stop offset="0.7945" stop-color="#38a2b3"/><stop offset="0.8005" stop-color="#389db9"/><stop offset="0.8124" stop-color="#3885bf"/><stop offset="0.8183" stop-color="#3879bd"/><stop offset="0.8302" stop-color="#3861b1"/><stop offset="0.848" stop-color="#38479f"/><stop offset="0.8775" stop-color="#383393"/><stop offset="0.9011" stop-color="#382684"/><stop offset="0.9186" stop-color="#38227c"/><stop offset="0.942" stop-color="#382078"/><stop offset="1" stop-color="#36207a"/></linearGradient>
<linearGradient id="g30" gradientUnits="userSpaceOnUse" x1="0" y1="0" x2="0" y2="1" gradientTransform="matrix(3.9 -1.5 -0.76 637.26 357.56 114.07)"><stop offset="0" stop-color="#661020"/><stop offset="0.0135" stop-color="#6a1020"/><stop offset="0.1007" stop-color="#aa1024"/><stop offset="0.114" stop-color="#b41125"/><stop offset="0.1339" stop-color="#c91428"/><stop offset="0.1406" stop-color="#cb1927"/><stop offset="0.1604" stop-color="#c83020"/><stop offset="0.1802" stop-color="#c05b20"/><stop offset="0.2195" stop-color="#c0a421"/><stop offset="0.2326" stop-color="#c0b927"/><stop offset="0.2522" stop-color="#afc831"/><stop offset="0.2717" stop-color="#94c742"/><stop offset="0.2911" stop-color="#74c14e"/><stop offset="0.3105" stop-color="#63bb58"/><stop offset="0.3234" stop-color="#5cb85c"/><stop offset="0.7103" stop-color="#5cb85c"/><stop offset="0.7224" stop-color="#56b662"/><stop offset="0.7465" stop-color="#42b176"/><stop offset="0.7766" stop-color="#38a8a1"/><stop offset="0.7945" stop-color="#38a1b4"/><stop offset="0.8005" stop-color="#389bb9"/><stop offset="0.8124" stop-color="#3884bf"/><stop offset="0.8243" stop-color="#386cb6"/><stop offset="0.8362" stop-color="#3857aa"/><stop offset="0.848" stop-color="#38469f"/><stop offset="0.8775" stop-color="#383393"/><stop offset="0.901" stop-color="#382683"/><stop offset="0.9303" stop-color="#382079"/><stop offset="1" stop-color="#36207a"/></linearGradient>
<linearGradient id="g31" gradientUnits="userSpaceOnUse" x1="0" y1="0" x2="0" y2="1" gradientTransform="matrix(3.9 -1.5 -1.07 637.04 361.62 112.69)"><stop offset="0" stop-color="#661020"/><stop offset="0.0135" stop-color="#6a1020"/><stop offset="0.1007" stop-color="#aa1024"/><stop offset="0.114" stop-color="#b31125"/><stop offset="0.1339" stop-color="#c81428"/><stop offset="0.1406" stop-color="#cb1827"/><stop offset="0.1604" stop-color="#c82f20"/><stop offset="0.1802" stop-color="#c05920"/><stop offset="0.2195" stop-color="#c0a220"/><stop offset="0.2326" stop-color="#c0b727"/><stop offset="0.2456" stop-color="#b7c32d"/><stop offset="0.2522" stop-color="#b1c730"/><stop offset="0.2716" stop-color="#97c841"/><stop offset="0.2975" stop-color="#6fbf51"/><stop offset="0.3233" stop-color="#5cb85c"/><stop offset="0.7103" stop-color="#5cb85c"/><stop offset="0.7465" stop-color="#40b078"/><stop offset="0.7766" stop-color="#38a7a3"/><stop offset="0.7945" stop-color="#38a1b6"/><stop offset="0.8005" stop-color="#3899ba"/><stop offset="0.8124" stop-color="#3881c0"/><stop offset="0.8302" stop-color="#385eaf"/><stop offset="0.8421" stop-color="#384ca2"/><stop offset="0.8598" stop-color="#383e9b"/><stop offset="0.8834" stop-color="#382f8f"/><stop offset="0.901" stop-color="#382583"/><stop offset="0.9362" stop-color="#382078"/><stop offset="1" stop-color="#36207a"/></linearGradient>
<linearGradient id="g32" gradientUnits="userSpaceOnUse" x1="0" y1="0" x2="0" y2="1" gradientTransform="matrix(3.9 -1.5 -1.38 636.82 365.68 111.32)"><stop offset="0" stop-color="#661020"/><stop offset="0.0135" stop-color="#6a1020"/><stop offset="0.1007" stop-color="#aa1024"/><stop offset="0.114" stop-color="#b21125"/><stop offset="0.1339" stop-color="#c71327"/><stop offset="0.1406" stop-color="#cc1727"/><stop offset="0.1604" stop-color="#c82e21"/><stop offset="0.1802" stop-color="#c05620"/><stop offset="0.2195" stop-color="#c09f20"/><stop offset="0.2391" stop-color="#bfbd29"/><stop offset="0.2521" stop-color="#b3c62f"/><stop offset="0.2716" stop-color="#9ac83f"/><stop offset="0.2975" stop-color="#72c04f"/><stop offset="0.3233" stop-color="#5eb95b"/><stop offset="0.349" stop-color="#5cb85c"/><stop offset="0.7043" stop-color="#5cb85c"/><stop offset="0.7164" stop-color="#56b662"/><stop offset="0.7465" stop-color="#3faf7b"/><stop offset="0.7706" stop-color="#38a89e"/><stop offset="0.7945" stop-color="#38a0b8"/><stop offset="0.8124" stop-color="#387ebf"/><stop offset="0.8302" stop-color="#385cad"/><stop offset="0.8421" stop-color="#384aa1"/><stop offset="0.8716" stop-color="#383696"/><stop offset="0.8952" stop-color="#382786"/><stop offset="0.9128" stop-color="#38237e"/><stop offset="0.9362" stop-color="#382078"/><stop offset="1" stop-color="#36207a"/></linearGradient>
<linearGradient id="g33" gradientUnits="userSpaceOnUse" x1="0" y1="0" x2="0" y2="1" gradientTransform="matrix(3.9 -1.5 -1.69 636.61 369.74 109.95)"><stop offset="0" stop-color="#661020"/><stop offset="0.0135" stop-color="#6a1020"/><stop offset="0.1007" stop-color="#aa1024"/><stop offset="0.114" stop-color="#b11125"/><stop offset="0.1405" stop-color="#cc1528"/><stop offset="0.1604" stop-color="#c92c21"/><stop offset="0.167" stop-color="#c73620"/><stop offset="0.1867" stop-color="#c05f20"/><stop offset="0.2261" stop-color="#c0a622"/><stop offset="0.2391" stop-color="#c0bb28"/><stop offset="0.2586" stop-color="#afc831"/><stop offset="0.2846" stop-color="#8bc545"/><stop offset="0.304" stop-color="#6fc051"/><stop offset="0.3298" stop-color="#5db85c"/><stop offset="0.7043" stop-color="#5bb85d"/><stop offset="0.7405" stop-color="#41b077"/><stop offset="0.7705" stop-color="#38a8a1"/><stop offset="0.7885" stop-color="#38a1b4"/><stop offset="0.7945" stop-color="#389db9"/><stop offset="0.8064" stop-color="#3886be"/><stop offset="0.8124" stop-color="#387bbd"/><stop offset="0.8302" stop-color="#3859ac"/><stop offset="0.8421" stop-color="#3848a0"/><stop offset="0.8716" stop-color="#383595"/><stop offset="0.8952" stop-color="#382785"/><stop offset="0.9128" stop-color="#38237e"/><stop offset="0.9361" stop-color="#382078"/><stop offset="1" stop-color="#36207a"/></linearGradient>
<linearGradient id="g34" gradientUnits="userSpaceOnUse" x1="0" y1="0" x2="0" y2="1" gradientTransform="matrix(3.9 -1.5 -2.00 636.39 373.79 108.58)"><stop offset="0" stop-color="#661020"/><stop offset="0.0135" stop-color="#6a1020"/><stop offset="0.1007" stop-color="#aa1024"/><stop offset="0.1206" stop-color="#b61226"/><stop offset="0.1405" stop-color="#cb1428"/><stop offset="0.167" stop-color="#c73320"/><stop offset="0.1867" stop-color="#c05b20"/><stop offset="0.226" stop-color="#c0a220"/><stop offset="0.2391" stop-color="#c0b626"/><stop offset="0.2456" stop-color="#bdbe29"/><stop offset="0.2586" stop-color="#b2c62f"/><stop offset="0.2781" stop-color="#9ac83e"/><stop offset="0.304" stop-color="#74c14e"/><stop offset="0.3233" stop-color="#65bb57"/><stop offset="0.3362" stop-color="#5cb85c"/><stop offset="0.6982" stop-color="#5cb85c"/><stop offset="0.7345" stop-color="#43b175"/><stop offset="0.7525" stop-color="#3cac8c"/><stop offset="0.7705" stop-color="#38a7a4"/><stop offset="0.7885" stop-color="#38a1b6"/><stop offset="0.8004" stop-color="#388dbd"/><stop offset="0.8064" stop-color="#3882c0"/><stop offset="0.8243" stop-color="#385faf"/><stop offset="0.8421" stop-color="#38469f"/><stop offset="0.8716" stop-color="#383494"/><stop offset="0.8952" stop-color="#382684"/><stop offset="0.9361" stop-color="#382078"/><stop offset="1" stop-color="#36207a"/></linearGradient>
<linearGradient id="g35" gradientUnits="userSpaceOnUse" x1="0" y1="0" x2="0" y2="1" gradientTransform="matrix(3.9 -1.5 -2.30 636.17 377.84 107.22)"><stop offset="0" stop-color="#661020"/><stop offset="0.0135" stop-color="#6a1020"/><stop offset="0.1007" stop-color="#aa1024"/><stop offset="0.1206" stop-color="#b41125"/><stop offset="0.1405" stop-color="#c91428"/><stop offset="0.1472" stop-color="#cb1827"/><stop offset="0.167" stop-color="#c82f20"/><stop offset="0.1867" stop-color="#c05720"/><stop offset="0.226" stop-color="#c09d20"/><stop offset="0.2456" stop-color="#c0bb28"/><stop offset="0.2651" stop-color="#b0c830"/><stop offset="0.291" stop-color="#8ec644"/><stop offset="0.3104" stop-color="#72c04f"/><stop offset="0.3426" stop-color="#5db85c"/><stop offset="0.6921" stop-color="#5bb85d"/><stop offset="0.7345" stop-color="#40b07a"/><stop offset="0.7645" stop-color="#38a7a2"/><stop offset="0.7825" stop-color="#38a2b3"/><stop offset="0.7885" stop-color="#389db9"/><stop offset="0.8004" stop-color="#3888be"/><stop offset="0.8064" stop-color="#387cbe"/><stop offset="0.8243" stop-color="#385bad"/><stop offset="0.8361" stop-color="#384aa1"/><stop offset="0.8657" stop-color="#383696"/><stop offset="0.8952" stop-color="#382683"/><stop offset="0.9361" stop-color="#382078"/><stop offset="1" stop-color="#36207a"/></linearGradient>
<linearGradient id="g36" gradientUnits="userSpaceOnUse" x1="0" y1="0" x2="0" y2="1" gradientTransform="matrix(3.9 -1.5 -2.61 635.96 381.88 105.85)"><stop offset="0" stop-color="#661020"/><stop offset="0.0135" stop-color="#6a1020"/><stop offset="0.1007" stop-color="#aa1024"/><stop offset="0.1273" stop-color="#b91226"/><stop offset="0.1471" stop-color="#cc1627"/><stop offset="0.167" stop-color="#c92c21"/><stop offset="0.1735" stop-color="#c73720"/><stop offset="0.1933" stop-color="#c05e20"/><stop offset="0.2326" stop-color="#c0a221"/><stop offset="0.2521" stop-color="#bebd29"/><stop offset="0.2716" stop-color="#adc832"/><stop offset="0.2975" stop-color="#8cc645"/><stop offset="0.3169" stop-color="#72c04f"/><stop offset="0.349" stop-color="#5eb95b"/><stop offset="0.4381" stop-color="#5cb85c"/><stop offset="0.686" stop-color="#5bb85d"/><stop offset="0.7284" stop-color="#40b079"/><stop offset="0.7585" stop-color="#38a8a0"/><stop offset="0.7825" stop-color="#38a0b7"/><stop offset="0.8004" stop-color="#3882c0"/><stop offset="0.8183" stop-color="#3860b0"/><stop offset="0.8361" stop-color="#3847a0"/><stop offset="0.8657" stop-color="#383595"/><stop offset="0.8893" stop-color="#382786"/><stop offset="0.9361" stop-color="#382078"/><stop offset="1" stop-color="#36207a"/></linearGradient>
<linearGradient id="g37" gradientUnits="userSpaceOnUse" x1="0" y1="0" x2="0" y2="1" gradientTransform="matrix(3.9 -1.5 -2.91 635.74 385.92 104.49)"><stop offset="0" stop-color="#661020"/><stop offset="0.0135" stop-color="#6a1020"/><stop offset="0.1007" stop-color="#aa1024"/><stop offset="0.1273" stop-color="#b81226"/><stop offset="0.1471" stop-color="#cb1428"/><stop offset="0.1735" stop-color="#c83120"/><stop offset="0.1933" stop-color="#c05820"/><stop offset="0.2391" stop-color="#c0a622"/><stop offset="0.2521" stop-color="#c0b927"/><stop offset="0.2716" stop-color="#b2c72f"/><stop offset="0.2975" stop-color="#94c742"/><stop offset="0.3233" stop-color="#72c04f"/><stop offset="0.3618" stop-color="#5cb85c"/><stop offset="0.6738" stop-color="#5cb85c"/><stop offset="0.7163" stop-color="#44b174"/><stop offset="0.7284" stop-color="#3faf7f"/><stop offset="0.7585" stop-color="#38a7a4"/><stop offset="0.7765" stop-color="#38a1b5"/><stop offset="0.7825" stop-color="#389bb9"/><stop offset="0.7945" stop-color="#3886be"/><stop offset="0.8004" stop-color="#387bbe"/><stop offset="0.8183" stop-color="#385cad"/><stop offset="0.8302" stop-color="#384aa2"/><stop offset="0.8657" stop-color="#383393"/><stop offset="0.8893" stop-color="#382685"/><stop offset="0.9361" stop-color="#382078"/><stop offset="1" stop-color="#36207a"/></linearGradient>
<linearGradient id="g38" gradientUnits="userSpaceOnUse" x1="0" y1="0" x2="0" y2="1" gradientTransform="matrix(3.9 -1.5 -3.22 635.52 389.96 103.13)"><stop offset="0" stop-color="#661020"/><stop offset="0.0135" stop-color="#6a1020"/><stop offset="0.1007" stop-color="#aa1024"/><stop offset="0.1339" stop-color="#bb1226"/><stop offset="0.1471" stop-color="#c91428"/><stop offset="0.1537" stop-color="#cb1827"/><stop offset="0.1735" stop-color="#c82d21"/><stop offset="0.1998" stop-color="#c05e20"/><stop offset="0.2391" stop-color="#c0a020"/><stop offset="0.2586" stop-color="#c0bc28"/><stop offset="0.2781" stop-color="#b1c730"/><stop offset="0.3039" stop-color="#94c742"/><stop offset="0.3297" stop-color="#74c14e"/><stop offset="0.3426" stop-color="#6bbe53"/><stop offset="0.3746" stop-color="#5cb85c"/><stop offset="0.6616" stop-color="#5cb85c"/><stop offset="0.7042" stop-color="#47b271"/><stop offset="0.7163" stop-color="#40b079"/><stop offset="0.7525" stop-color="#38a7a3"/><stop offset="0.7765" stop-color="#389eb9"/><stop offset="0.7944" stop-color="#387fc0"/><stop offset="0.8123" stop-color="#385faf"/><stop offset="0.8302" stop-color="#3847a0"/><stop offset="0.8598" stop-color="#383595"/><stop offset="0.8834" stop-color="#382787"/><stop offset="0.9361" stop-color="#382078"/><stop offset="1" stop-color="#36207a"/></linearGradient>
<linearGradient id="g39" gradientUnits="userSpaceOnUse" x1="0" y1="0" x2="0" y2="1" gradientTransform="matrix(3.9 -1.5 -3.52 635.31 393.99 101.77)"><stop offset="0" stop-color="#661020"/><stop offset="0.0135" stop-color="#6a1020"/><stop offset="0.1007" stop-color="#aa1024"/><stop offset="0.1405" stop-color="#bf1327"/><stop offset="0.1537" stop-color="#cc1528"/><stop offset="0.1801" stop-color="#c83220"/><stop offset="0.1998" stop-color="#c05820"/><stop offset="0.2456" stop-color="#c0a221"/><stop offset="0.2651" stop-color="#bfbd28"/><stop offset="0.2845" stop-color="#b0c830"/><stop offset="0.3168" stop-color="#8dc644"/><stop offset="0.3425" stop-color="#70c050"/><stop offset="0.3873" stop-color="#5cb85c"/><stop offset="0.6494" stop-color="#5cb85c"/><stop offset="0.6921" stop-color="#49b36f"/><stop offset="0.7103" stop-color="#40b07a"/><stop offset="0.7465" stop-color="#38a7a3"/><stop offset="0.7705" stop-color="#38a0b8"/><stop offset="0.7885" stop-color="#3882bf"/><stop offset="0.8123" stop-color="#385aac"/><stop offset="0.8242" stop-color="#3849a1"/><stop offset="0.8598" stop-color="#383494"/><stop offset="0.8775" stop-color="#382989"/><stop offset="0.9361" stop-color="#382078"/><stop offset="1" stop-color="#36207a"/></linearGradient>
<linearGradient id="g40" gradientUnits="userSpaceOnUse" x1="0" y1="0" x2="0" y2="1" gradientTransform="matrix(3.9 -1.5 -3.83 635.09 398.01 100.41)"><stop offset="0" stop-color="#661020"/><stop offset="0.0135" stop-color="#6a1020"/><stop offset="0.1007" stop-color="#aa1024"/><stop offset="0.1471" stop-color="#c31327"/><stop offset="0.1537" stop-color="#ca1428"/><stop offset="0.1669" stop-color="#ca1f25"/><stop offset="0.1801" stop-color="#c82d21"/><stop offset="0.2064" stop-color="#c05c20"/><stop offset="0.2521" stop-color="#c0a421"/><stop offset="0.2716" stop-color="#bfbd29"/><stop offset="0.291" stop-color="#b0c830"/><stop offset="0.3233" stop-color="#8fc644"/><stop offset="0.349" stop-color="#73c14f"/><stop offset="0.3745" stop-color="#66bc56"/><stop offset="0.4064" stop-color="#5cb85c"/><stop offset="0.6372" stop-color="#5bb85d"/><stop offset="0.6799" stop-color="#4bb36d"/><stop offset="0.7042" stop-color="#3faf7c"/><stop offset="0.7404" stop-color="#38a7a3"/><stop offset="0.7645" stop-color="#38a0b7"/><stop offset="0.7825" stop-color="#3885bf"/><stop offset="0.7885" stop-color="#387bbd"/><stop offset="0.8064" stop-color="#385dae"/><stop offset="0.8242" stop-color="#38469f"/><stop offset="0.8539" stop-color="#383595"/><stop offset="0.8775" stop-color="#382888"/><stop offset="0.9361" stop-color="#382078"/><stop offset="1" stop-color="#36207a"/></linearGradient>
<linearGradient id="g41" gradientUnits="userSpaceOnUse" x1="0" y1="0" x2="0" y2="1" gradientTransform="matrix(3.9 -1.5 -4.13 634.87 402.03 99.05)"><stop offset="0" stop-color="#661020"/><stop offset="0.0135" stop-color="#6a1020"/><stop offset="0.1007" stop-color="#aa1024"/><stop offset="0.1537" stop-color="#c61327"/><stop offset="0.1603" stop-color="#cc1528"/><stop offset="0.1867" stop-color="#c83020"/><stop offset="0.2129" stop-color="#c06020"/><stop offset="0.2586" stop-color="#c0a622"/><stop offset="0.278" stop-color="#bebd29"/><stop offset="0.2975" stop-color="#b1c830"/><stop offset="0.3297" stop-color="#91c743"/><stop offset="0.3618" stop-color="#71c050"/><stop offset="0.4064" stop-color="#61ba59"/><stop offset="0.4317" stop-color="#5cb85c"/><stop offset="0.6188" stop-color="#5bb85d"/><stop offset="0.6677" stop-color="#4bb36d"/><stop offset="0.6921" stop-color="#40b079"/><stop offset="0.7344" stop-color="#38a7a3"/><stop offset="0.7585" stop-color="#38a0b7"/><stop offset="0.7765" stop-color="#3886be"/><stop offset="0.7825" stop-color="#387cbe"/><stop offset="0.8004" stop-color="#385faf"/><stop offset="0.8183" stop-color="#3848a0"/><stop offset="0.8479" stop-color="#383797"/><stop offset="0.8716" stop-color="#382a8a"/><stop offset="0.9361" stop-color="#382078"/><stop offset="1" stop-color="#36207a"/></linearGradient>
<linearGradient id="g42" gradientUnits="userSpaceOnUse" x1="0" y1="0" x2="0" y2="1" gradientTransform="matrix(3.9 -1.5 -4.43 634.66 406.05 97.69)"><stop offset="0" stop-color="#661020"/><stop offset="0.0135" stop-color="#6a1020"/><stop offset="0.1007" stop-color="#aa1024"/><stop offset="0.1603" stop-color="#ca1428"/><stop offset="0.1735" stop-color="#ca1f25"/><stop offset="0.1867" stop-color="#c92c21"/><stop offset="0.1932" stop-color="#c73520"/><stop offset="0.2129" stop-color="#c05920"/><stop offset="0.2586" stop-color="#c09e20"/><stop offset="0.278" stop-color="#c0b727"/><stop offset="0.291" stop-color="#bac12b"/><stop offset="0.3039" stop-color="#b1c72f"/><stop offset="0.3361" stop-color="#94c742"/><stop offset="0.3745" stop-color="#70c050"/><stop offset="0.4254" stop-color="#61ba59"/><stop offset="0.4696" stop-color="#5cb85c"/><stop offset="0.5941" stop-color="#5bb85d"/><stop offset="0.6433" stop-color="#50b568"/><stop offset="0.6799" stop-color="#41b077"/><stop offset="0.7163" stop-color="#39a999"/><stop offset="0.7404" stop-color="#38a4ad"/><stop offset="0.7525" stop-color="#38a0b7"/><stop offset="0.7705" stop-color="#3887be"/><stop offset="0.7765" stop-color="#387ebf"/><stop offset="0.7944" stop-color="#3860b0"/><stop offset="0.8123" stop-color="#3849a1"/><stop offset="0.8479" stop-color="#383595"/><stop offset="0.8657" stop-color="#382c8c"/><stop offset="0.9361" stop-color="#382078"/><stop offset="1" stop-color="#36207a"/></linearGradient>
<linearGradient id="g43" gradientUnits="userSpaceOnUse" x1="0" y1="0" x2="0" y2="1" gradientTransform="matrix(3.9 -1.5 -4.73 634.44 410.06 96.34)"><stop offset="0" stop-color="#661020"/><stop offset="0.0135" stop-color="#6a1020"/><stop offset="0.1007" stop-color="#aa1024"/><stop offset="0.1669" stop-color="#cc1428"/><stop offset="0.1932" stop-color="#c82f20"/><stop offset="0.2194" stop-color="#c05c20"/><stop offset="0.2651" stop-color="#c09f20"/><stop offset="0.291" stop-color="#bebd29"/><stop offset="0.3168" stop-color="#adc832"/><stop offset="0.3489" stop-color="#90c643"/><stop offset="0.3873" stop-color="#70c050"/><stop offset="0.4444" stop-color="#61ba59"/><stop offset="0.5197" stop-color="#5cb85c"/><stop offset="0.5941" stop-color="#57b761"/><stop offset="0.6494" stop-color="#49b36f"/><stop offset="0.6738" stop-color="#40b07a"/><stop offset="0.7223" stop-color="#38a6a5"/><stop offset="0.7464" stop-color="#38a0b7"/><stop offset="0.7705" stop-color="#387fbf"/><stop offset="0.7944" stop-color="#385aac"/><stop offset="0.8063" stop-color="#384ba2"/><stop offset="0.842" stop-color="#383696"/><stop offset="0.8598" stop-color="#382d8d"/><stop offset="0.9069" stop-color="#382480"/><stop offset="0.9361" stop-color="#382078"/><stop offset="1" stop-color="#36207a"/></linearGradient>
<linearGradient id="g44" gradientUnits="userSpaceOnUse" x1="0" y1="0" x2="0" y2="1" gradientTransform="matrix(3.8 -1.5 -5.04 634.23 414.07 94.99)"><stop offset="0" stop-color="#661020"/><stop offset="0.0135" stop-color="#6a1020"/><stop offset="0.1007" stop-color="#aa1024"/><stop offset="0.1669" stop-color="#cc1428"/><stop offset="0.1801" stop-color="#cb1e25"/><stop offset="0.1998" stop-color="#c83220"/><stop offset="0.226" stop-color="#c05f20"/><stop offset="0.2715" stop-color="#c0a020"/><stop offset="0.2974" stop-color="#bfbd29"/><stop offset="0.3232" stop-color="#aec831"/><stop offset="0.3617" stop-color="#8ec644"/><stop offset="0.4" stop-color="#71c050"/><stop offset="0.457" stop-color="#63bb58"/><stop offset="0.5818" stop-color="#56b662"/><stop offset="0.6371" stop-color="#49b36f"/><stop offset="0.6616" stop-color="#40b079"/><stop offset="0.7163" stop-color="#38a6a6"/><stop offset="0.7404" stop-color="#38a0b8"/><stop offset="0.7645" stop-color="#387fbf"/><stop offset="0.7884" stop-color="#385bad"/><stop offset="0.8063" stop-color="#38479f"/><stop offset="0.8361" stop-color="#383797"/><stop offset="0.8598" stop-color="#382d8d"/><stop offset="0.9069" stop-color="#382480"/><stop offset="0.9361" stop-color="#382078"/><stop offset="1" stop-color="#36207a"/></linearGradient>
<linearGradient id="g45" gradientUnits="userSpaceOnUse" x1="0" y1="0" x2="0" y2="1" gradientTransform="matrix(3.8 -1.5 -5.34 634.01 418.08 93.63)"><stop offset="0" stop-color="#661020"/><stop offset="0.0135" stop-color="#6a1020"/><stop offset="0.1007" stop-color="#aa1024"/><stop offset="0.1669" stop-color="#cc1428"/><stop offset="0.1867" stop-color="#ca2024"/><stop offset="0.1998" stop-color="#c82d21"/><stop offset="0.2129" stop-color="#c54120"/><stop offset="0.2325" stop-color="#c06120"/><stop offset="0.278" stop-color="#c0a020"/><stop offset="0.3039" stop-color="#bfbd28"/><stop offset="0.3296" stop-color="#b0c830"/><stop offset="0.3681" stop-color="#91c743"/><stop offset="0.4127" stop-color="#71c050"/><stop offset="0.4758" stop-color="#62ba58"/><stop offset="0.5756" stop-color="#54b664"/><stop offset="0.6371" stop-color="#45b173"/><stop offset="0.6555" stop-color="#3faf7c"/><stop offset="0.7102" stop-color="#38a6a7"/><stop offset="0.7344" stop-color="#38a0b8"/><stop offset="0.7585" stop-color="#387fbf"/><stop offset="0.7824" stop-color="#385cad"/><stop offset="0.8004" stop-color="#3847a0"/><stop offset="0.8361" stop-color="#383595"/><stop offset="0.8892" stop-color="#382685"/><stop offset="0.9361" stop-color="#382078"/><stop offset="1" stop-color="#36207a"/></linearGradient>
<linearGradient id="g46" gradientUnits="userSpaceOnUse" x1="0" y1="0" x2="0" y2="1" gradientTransform="matrix(3.8 -1.5 -5.64 633.80 422.08 92.28)"><stop offset="0" stop-color="#661020"/><stop offset="0.0135" stop-color="#6a1020"/><stop offset="0.1006" stop-color="#aa1024"/><stop offset="0.1669" stop-color="#cc1428"/><stop offset="0.1932" stop-color="#ca2324"/><stop offset="0.2063" stop-color="#c82f20"/><stop offset="0.2325" stop-color="#c05920"/><stop offset="0.2845" stop-color="#c0a020"/><stop offset="0.3103" stop-color="#c0bc28"/><stop offset="0.3361" stop-color="#b1c730"/><stop offset="0.3809" stop-color="#8fc644"/><stop offset="0.4254" stop-color="#70c050"/><stop offset="0.5072" stop-color="#5eb95b"/><stop offset="0.5941" stop-color="#4eb46a"/><stop offset="0.6371" stop-color="#41b077"/><stop offset="0.6799" stop-color="#3aaa96"/><stop offset="0.7041" stop-color="#38a5a8"/><stop offset="0.7283" stop-color="#389fb8"/><stop offset="0.7524" stop-color="#387fbf"/><stop offset="0.7764" stop-color="#385cae"/><stop offset="0.7944" stop-color="#3848a0"/><stop offset="0.8361" stop-color="#383494"/><stop offset="0.8892" stop-color="#382685"/><stop offset="0.9361" stop-color="#382078"/><stop offset="1" stop-color="#36207a"/></linearGradient>
<linearGradient id="g47" gradientUnits="userSpaceOnUse" x1="0" y1="0" x2="0" y2="1" gradientTransform="matrix(3.8 -1.5 -5.94 633.58 426.07 90.94)"><stop offset="0" stop-color="#661020"/><stop offset="0.0135" stop-color="#6a1020"/><stop offset="0.1006" stop-color="#aa1024"/><stop offset="0.1669" stop-color="#cc1428"/><stop offset="0.2063" stop-color="#c92b22"/><stop offset="0.2129" stop-color="#c83120"/><stop offset="0.239" stop-color="#c05b20"/><stop offset="0.2909" stop-color="#c0a020"/><stop offset="0.3168" stop-color="#c0bc28"/><stop offset="0.3489" stop-color="#aec832"/><stop offset="0.3936" stop-color="#8dc645"/><stop offset="0.438" stop-color="#70c050"/><stop offset="0.5446" stop-color="#57b761"/><stop offset="0.6248" stop-color="#41b077"/><stop offset="0.6616" stop-color="#3bab8f"/><stop offset="0.692" stop-color="#38a6a6"/><stop offset="0.7162" stop-color="#38a1b5"/><stop offset="0.7223" stop-color="#389db9"/><stop offset="0.7464" stop-color="#387ebf"/><stop offset="0.7764" stop-color="#3856a9"/><stop offset="0.7884" stop-color="#3848a0"/><stop offset="0.8242" stop-color="#383797"/><stop offset="0.8892" stop-color="#382685"/><stop offset="0.9361" stop-color="#382078"/><stop offset="1" stop-color="#36207a"/></linearGradient>
<linearGradient id="g48" gradientUnits="userSpaceOnUse" x1="0" y1="0" x2="0" y2="1" gradientTransform="matrix(3.8 -1.5 -6.23 633.37 430.06 89.59)"><stop offset="0" stop-color="#661020"/><stop offset="0.0135" stop-color="#6a1020"/><stop offset="0.1006" stop-color="#aa1024"/><stop offset="0.1669" stop-color="#cc1428"/><stop offset="0.2129" stop-color="#c82e21"/><stop offset="0.2194" stop-color="#c73520"/><stop offset="0.2455" stop-color="#c05d20"/><stop offset="0.2974" stop-color="#c0a020"/><stop offset="0.3232" stop-color="#c0bb28"/><stop offset="0.3553" stop-color="#afc831"/><stop offset="0.3999" stop-color="#8fc644"/><stop offset="0.4443" stop-color="#71c050"/><stop offset="0.5383" stop-color="#58b760"/><stop offset="0.6187" stop-color="#40b078"/><stop offset="0.6677" stop-color="#39a99b"/><stop offset="0.7102" stop-color="#38a1b6"/><stop offset="0.7223" stop-color="#3895bb"/><stop offset="0.7404" stop-color="#387ebf"/><stop offset="0.7704" stop-color="#3856aa"/><stop offset="0.7824" stop-color="#3849a1"/><stop offset="0.8182" stop-color="#383999"/><stop offset="0.8892" stop-color="#382685"/><stop offset="0.9361" stop-color="#382078"/><stop offset="1" stop-color="#36207a"/></linearGradient>
<linearGradient id="g49" gradientUnits="userSpaceOnUse" x1="0" y1="0" x2="0" y2="1" gradientTransform="matrix(3.8 -1.5 -6.53 633.15 434.05 88.24)"><stop offset="0" stop-color="#661020"/><stop offset="0.0135" stop-color="#6a1020"/><stop offset="0.1006" stop-color="#aa1024"/><stop offset="0.1669" stop-color="#cc1428"/><stop offset="0.2194" stop-color="#c73420"/><stop offset="0.2325" stop-color="#c44220"/><stop offset="0.252" stop-color="#c05f20"/><stop offset="0.3038" stop-color="#c0a120"/><stop offset="0.3296" stop-color="#c0bb28"/><stop offset="0.3617" stop-color="#b0c830"/><stop offset="0.4063" stop-color="#90c643"/><stop offset="0.4506" stop-color="#71c050"/><stop offset="0.5321" stop-color="#59b75f"/><stop offset="0.6125" stop-color="#40b079"/><stop offset="0.6737" stop-color="#38a7a4"/><stop offset="0.7041" stop-color="#38a0b7"/><stop offset="0.7223" stop-color="#388dbd"/><stop offset="0.7343" stop-color="#387dbf"/><stop offset="0.7644" stop-color="#3857aa"/><stop offset="0.7764" stop-color="#384aa1"/><stop offset="0.8063" stop-color="#383c9a"/><stop offset="0.8656" stop-color="#382c8c"/><stop offset="0.9361" stop-color="#382078"/><stop offset="1" stop-color="#36207a"/></linearGradient>
<linearGradient id="g50" gradientUnits="userSpaceOnUse" x1="0" y1="0" x2="0" y2="1" gradientTransform="matrix(3.8 -1.5 -6.83 632.94 438.03 86.90)"><stop offset="0" stop-color="#661020"/><stop offset="0.0135" stop-color="#6a1020"/><stop offset="0.1006" stop-color="#aa1024"/><stop offset="0.1669" stop-color="#cc1428"/><stop offset="0.2194" stop-color="#c73420"/><stop offset="0.2455" stop-color="#c24f20"/><stop offset="0.278" stop-color="#c07a20"/><stop offset="0.3103" stop-color="#c0a120"/><stop offset="0.336" stop-color="#c0bb28"/><stop offset="0.3681" stop-color="#b0c830"/><stop offset="0.4126" stop-color="#91c743"/><stop offset="0.4569" stop-color="#71c050"/><stop offset="0.5321" stop-color="#59b75f"/><stop offset="0.6064" stop-color="#40b07a"/><stop offset="0.6676" stop-color="#38a6a5"/><stop offset="0.698" stop-color="#38a0b7"/><stop offset="0.7223" stop-color="#3884bf"/><stop offset="0.7283" stop-color="#387dbe"/><stop offset="0.7584" stop-color="#3857aa"/><stop offset="0.7704" stop-color="#384aa1"/><stop offset="0.7884" stop-color="#38429d"/><stop offset="0.836" stop-color="#383494"/><stop offset="0.8892" stop-color="#382685"/><stop offset="0.9361" stop-color="#382078"/><stop offset="1" stop-color="#36207a"/></linearGradient>
<linearGradient id="g51" gradientUnits="userSpaceOnUse" x1="0" y1="0" x2="0" y2="1" gradientTransform="matrix(3.8 -1.5 -7.13 632.72 442.01 85.55)"><stop offset="0" stop-color="#661020"/><stop offset="0.0135" stop-color="#6a1020"/><stop offset="0.1006" stop-color="#aa1024"/><stop offset="0.1669" stop-color="#cc1428"/><stop offset="0.2194" stop-color="#c73420"/><stop offset="0.2585" stop-color="#c05c20"/><stop offset="0.3167" stop-color="#c0a120"/><stop offset="0.3424" stop-color="#c0bb28"/><stop offset="0.3744" stop-color="#b0c830"/><stop offset="0.419" stop-color="#90c643"/><stop offset="0.4632" stop-color="#70c050"/><stop offset="0.5321" stop-color="#58b760"/><stop offset="0.6002" stop-color="#40b07a"/><stop offset="0.6615" stop-color="#38a6a6"/><stop offset="0.692" stop-color="#38a0b8"/><stop offset="0.7162" stop-color="#3884bf"/><stop offset="0.7223" stop-color="#387dbe"/><stop offset="0.7524" stop-color="#3857aa"/><stop offset="0.7644" stop-color="#384ba2"/><stop offset="0.7824" stop-color="#38439e"/><stop offset="0.836" stop-color="#383494"/><stop offset="0.8892" stop-color="#382685"/><stop offset="0.9361" stop-color="#382078"/><stop offset="1" stop-color="#36207a"/></linearGradient>
<linearGradient id="g52" gradientUnits="userSpaceOnUse" x1="0" y1="0" x2="0" y2="1" gradientTransform="matrix(3.8 -1.5 -7.42 632.51 445.98 84.21)"><stop offset="0" stop-color="#661020"/><stop offset="0.0135" stop-color="#6a1020"/><stop offset="0.1006" stop-color="#aa1024"/><stop offset="0.1669" stop-color="#cc1428"/><stop offset="0.2194" stop-color="#c73420"/><stop offset="0.2585" stop-color="#c05c20"/><stop offset="0.2844" stop-color="#c07520"/><stop offset="0.3232" stop-color="#c0a221"/><stop offset="0.3488" stop-color="#c0bb28"/><stop offset="0.3808" stop-color="#b0c830"/><stop offset="0.4253" stop-color="#90c643"/><stop offset="0.4695" stop-color="#6fc051"/><stop offset="0.5321" stop-color="#58b760"/><stop offset="0.594" stop-color="#40b079"/><stop offset="0.6493" stop-color="#38a7a2"/><stop offset="0.6859" stop-color="#38a0b8"/><stop offset="0.7101" stop-color="#3884bf"/><stop offset="0.7162" stop-color="#387dbe"/><stop offset="0.7464" stop-color="#3858ab"/><stop offset="0.7644" stop-color="#3849a1"/><stop offset="0.836" stop-color="#383494"/><stop offset="0.8892" stop-color="#382685"/><stop offset="0.9361" stop-color="#382078"/><stop offset="1" stop-color="#36207a"/></linearGradient>
<linearGradient id="g53" gradientUnits="userSpaceOnUse" x1="0" y1="0" x2="0" y2="1" gradientTransform="matrix(3.8 -1.5 -7.72 632.29 449.95 82.87)"><stop offset="0" stop-color="#661020"/><stop offset="0.0135" stop-color="#6a1020"/><stop offset="0.1006" stop-color="#aa1024"/><stop offset="0.1669" stop-color="#cc1428"/><stop offset="0.2194" stop-color="#c73420"/><stop offset="0.2585" stop-color="#c05c20"/><stop offset="0.3038" stop-color="#c08720"/><stop offset="0.3296" stop-color="#c0a421"/><stop offset="0.3552" stop-color="#c0bc28"/><stop offset="0.3872" stop-color="#afc831"/><stop offset="0.4316" stop-color="#8ec644"/><stop offset="0.4695" stop-color="#70c050"/><stop offset="0.5258" stop-color="#5ab85e"/><stop offset="0.5879" stop-color="#40b078"/><stop offset="0.6432" stop-color="#38a7a2"/><stop offset="0.6798" stop-color="#38a0b8"/><stop offset="0.7041" stop-color="#3884bf"/><stop offset="0.7101" stop-color="#387dbe"/><stop offset="0.7343" stop-color="#385faf"/><stop offset="0.7704" stop-color="#38479f"/><stop offset="0.836" stop-color="#383494"/><stop offset="0.8892" stop-color="#382685"/><stop offset="0.9361" stop-color="#382078"/><stop offset="1" stop-color="#36207a"/></linearGradient>
<linearGradient id="g54" gradientUnits="userSpaceOnUse" x1="0" y1="0" x2="0" y2="1" gradientTransform="matrix(3.8 -1.5 -8.01 632.08 453.92 81.53)"><stop offset="0" stop-color="#661020"/><stop offset="0.0135" stop-color="#6a1020"/><stop offset="0.1006" stop-color="#aa1024"/><stop offset="0.1669" stop-color="#cc1428"/><stop offset="0.2194" stop-color="#c73420"/><stop offset="0.2585" stop-color="#c05c20"/><stop offset="0.3296" stop-color="#c09f20"/><stop offset="0.3616" stop-color="#bfbd28"/><stop offset="0.3935" stop-color="#aec831"/><stop offset="0.4379" stop-color="#8cc645"/><stop offset="0.4757" stop-color="#6ebf51"/><stop offset="0.5258" stop-color="#5ab85e"/><stop offset="0.5878" stop-color="#3faf7b"/><stop offset="0.637" stop-color="#38a7a2"/><stop offset="0.6737" stop-color="#38a0b8"/><stop offset="0.7041" stop-color="#387ebf"/><stop offset="0.7283" stop-color="#3864b2"/><stop offset="0.7644" stop-color="#3849a1"/><stop offset="0.836" stop-color="#383494"/><stop offset="0.8892" stop-color="#382685"/><stop offset="0.9361" stop-color="#382078"/><stop offset="1" stop-color="#36207a"/></linearGradient>
<linearGradient id="g55" gradientUnits="userSpaceOnUse" x1="0" y1="0" x2="0" y2="1" gradientTransform="matrix(3.8 -1.5 -8.31 631.86 457.88 80.20)"><stop offset="0" stop-color="#661020"/><stop offset="0.0135" stop-color="#6a1020"/><stop offset="0.1006" stop-color="#aa1024"/><stop offset="0.1669" stop-color="#cc1428"/><stop offset="0.2194" stop-color="#c73420"/><stop offset="0.2585" stop-color="#c05c20"/><stop offset="0.336" stop-color="#c0a221"/><stop offset="0.3616" stop-color="#c0b927"/><stop offset="0.3935" stop-color="#b1c730"/><stop offset="0.4379" stop-color="#8fc644"/><stop offset="0.4757" stop-color="#6fc050"/><stop offset="0.5258" stop-color="#5ab85e"/><stop offset="0.5817" stop-color="#40b078"/><stop offset="0.637" stop-color="#38a7a4"/><stop offset="0.6676" stop-color="#38a0b7"/><stop offset="0.698" stop-color="#3881c0"/><stop offset="0.7403" stop-color="#385bac"/><stop offset="0.7704" stop-color="#38479f"/><stop offset="0.836" stop-color="#383494"/><stop offset="0.8892" stop-color="#382685"/><stop offset="0.9361" stop-color="#382078"/><stop offset="1" stop-color="#36207a"/></linearGradient>
<linearGradient id="g56" gradientUnits="userSpaceOnUse" x1="0" y1="0" x2="0" y2="1" gradientTransform="matrix(3.8 -1.5 -8.60 631.65 461.83 78.86)"><stop offset="0" stop-color="#661020"/><stop offset="0.0135" stop-color="#6a1020"/><stop offset="0.1006" stop-color="#aa1024"/><stop offset="0.1668" stop-color="#cc1428"/><stop offset="0.2194" stop-color="#c73420"/><stop offset="0.2585" stop-color="#c05c20"/><stop offset="0.336" stop-color="#c0a221"/><stop offset="0.368" stop-color="#c0bc28"/><stop offset="0.3999" stop-color="#afc831"/><stop offset="0.4379" stop-color="#92c743"/><stop offset="0.4757" stop-color="#70c050"/><stop offset="0.5258" stop-color="#5ab75e"/><stop offset="0.5817" stop-color="#40b07a"/><stop offset="0.6309" stop-color="#38a7a3"/><stop offset="0.6676" stop-color="#389eb8"/><stop offset="0.698" stop-color="#3881c0"/><stop offset="0.7403" stop-color="#385bac"/><stop offset="0.7704" stop-color="#38479f"/><stop offset="0.836" stop-color="#383494"/><stop offset="0.8892" stop-color="#382685"/><stop offset="0.9361" stop-color="#382078"/><stop offset="1" stop-color="#36207a"/></linearGradient>
<linearGradient id="g57" gradientUnits="userSpaceOnUse" x1="0" y1="0" x2="0" y2="1" gradientTransform="matrix(3.8 -1.5 -8.89 631.43 465.79 77.53)"><stop offset="0" stop-color="#661020"/><stop offset="0.0135" stop-color="#6a1020"/><stop offset="0.1006" stop-color="#aa1024"/><stop offset="0.1668" stop-color="#cc1428"/><stop offset="0.2193" stop-color="#c73420"/><stop offset="0.2585" stop-color="#c05c20"/><stop offset="0.336" stop-color="#c0a221"/><stop offset="0.368" stop-color="#c0bc28"/><stop offset="0.3999" stop-color="#b0c830"/><stop offset="0.4379" stop-color="#94c742"/><stop offset="0.4757" stop-color="#72c04f"/><stop offset="0.5258" stop-color="#5ab75e"/><stop offset="0.5755" stop-color="#41b077"/><stop offset="0.6248" stop-color="#38a8a1"/><stop offset="0.6676" stop-color="#389eb8"/><stop offset="0.698" stop-color="#3881c0"/><stop offset="0.7403" stop-color="#385bac"/><stop offset="0.7704" stop-color="#38479f"/><stop offset="0.836" stop-color="#383494"/><stop offset="0.8892" stop-color="#382685"/><stop offset="0.9361" stop-color="#382078"/><stop offset="1" stop-color="#36207a"/></linearGradient>
<linearGradient id="g58" gradientUnits="userSpaceOnUse" x1="0" y1="0" x2="0" y2="1" gradientTransform="matrix(3.8 -1.4 -9.19 631.22 469.73 76.19)"><stop offset="0" stop-color="#661020"/><stop offset="0.0135" stop-color="#6a1020"/><stop offset="0.1006" stop-color="#aa1024"/><stop offset="0.1668" stop-color="#cc1428"/><stop offset="0.2193" stop-color="#c73420"/><stop offset="0.2584" stop-color="#c05c20"/><stop offset="0.336" stop-color="#c0a221"/><stop offset="0.368" stop-color="#c0bc28"/><stop offset="0.3999" stop-color="#b0c830"/><stop offset="0.4442" stop-color="#8fc644"/><stop offset="0.482" stop-color="#6ebf51"/><stop offset="0.5258" stop-color="#5ab75e"/><stop offset="0.5754" stop-color="#40b078"/><stop offset="0.6247" stop-color="#38a8a1"/><stop offset="0.6676" stop-color="#389eb8"/><stop offset="0.698" stop-color="#3881c0"/><stop offset="0.7403" stop-color="#385bac"/><stop offset="0.7704" stop-color="#38479f"/><stop offset="0.836" stop-color="#383494"/><stop offset="0.8892" stop-color="#382685"/><stop offset="0.9361" stop-color="#382078"/><stop offset="1" stop-color="#36207a"/></linearGradient>
<linearGradient id="g59" gradientUnits="userSpaceOnUse" x1="0" y1="0" x2="0" y2="1" gradientTransform="matrix(3.8 -1.4 -9.48 631.00 473.68 74.86)"><stop offset="0" stop-color="#661020"/><stop offset="0.0135" stop-color="#6a1020"/><stop offset="0.1006" stop-color="#aa1024"/><stop offset="0.1668" stop-color="#cc1428"/><stop offset="0.2193" stop-color="#c73420"/><stop offset="0.2584" stop-color="#c05c20"/><stop offset="0.3359" stop-color="#c0a221"/><stop offset="0.368" stop-color="#c0bc28"/><stop offset="0.3998" stop-color="#b0c830"/><stop offset="0.4442" stop-color="#8fc644"/><stop offset="0.482" stop-color="#6ebf51"/><stop offset="0.5258" stop-color="#5ab75e"/><stop offset="0.5754" stop-color="#40b078"/><stop offset="0.6247" stop-color="#38a8a1"/><stop offset="0.6676" stop-color="#389eb8"/><stop offset="0.698" stop-color="#3881c0"/><stop offset="0.7403" stop-color="#385bac"/><stop offset="0.7704" stop-color="#38479f"/><stop offset="0.836" stop-color="#383494"/><stop offset="0.8892" stop-color="#382685"/><stop offset="0.9361" stop-color="#382078"/><stop offset="1" stop-color="#36207a"/></linearGradient>
<linearGradient id="g60" gradientUnits="userSpaceOnUse" x1="0" y1="0" x2="0" y2="1" gradientTransform="matrix(3.8 -1.4 -9.77 630.79 477.62 73.53)"><stop offset="0" stop-color="#661020"/><stop offset="0.0135" stop-color="#6a1020"/><stop offset="0.1006" stop-color="#aa1024"/><stop offset="0.1668" stop-color="#cc1428"/><stop offset="0.2193" stop-color="#c73420"/><stop offset="0.2584" stop-color="#c05c20"/><stop offset="0.3359" stop-color="#c0a221"/><stop offset="0.368" stop-color="#c0bc28"/><stop offset="0.3998" stop-color="#b0c830"/><stop offset="0.4442" stop-color="#8fc644"/><stop offset="0.482" stop-color="#6ebf51"/><stop offset="0.5257" stop-color="#5ab75e"/><stop offset="0.5754" stop-color="#40b078"/><stop offset="0.6247" stop-color="#38a8a1"/><stop offset="0.6675" stop-color="#389eb8"/><stop offset="0.698" stop-color="#3881c0"/><stop offset="0.7403" stop-color="#385bac"/><stop offset="0.7704" stop-color="#38479f"/><stop offset="0.836" stop-color="#383494"/><stop offset="0.8892" stop-color="#382685"/><stop offset="0.9361" stop-color="#382078"/><stop offset="1" stop-color="#36207a"/></linearGradient>
<linearGradient id="g61" gradientUnits="userSpaceOnUse" x1="0" y1="0" x2="0" y2="1" gradientTransform="matrix(3.8 -1.4 -10.06 630.58 481.55 72.20)"><stop offset="0" stop-color="#661020"/><stop offset="0.0135" stop-color="#6a1020"/><stop offset="0.1006" stop-color="#aa1024"/><stop offset="0.1668" stop-color="#cc1428"/><stop offset="0.2193" stop-color="#c73420"/><stop offset="0.2584" stop-color="#c05c20"/><stop offset="0.3359" stop-color="#c0a221"/><stop offset="0.368" stop-color="#c0bc28"/><stop offset="0.3998" stop-color="#b0c830"/><stop offset="0.4442" stop-color="#8fc644"/><stop offset="0.4819" stop-color="#6ebf51"/><stop offset="0.5257" stop-color="#5ab75e"/><stop offset="0.5754" stop-color="#40b078"/><stop offset="0.6247" stop-color="#38a8a1"/><stop offset="0.6675" stop-color="#389eb8"/><stop offset="0.698" stop-color="#3881c0"/><stop offset="0.7403" stop-color="#385bac"/><stop offset="0.7703" stop-color="#38479f"/><stop offset="0.836" stop-color="#383494"/><stop offset="0.8892" stop-color="#382685"/><stop offset="0.9361" stop-color="#382078"/><stop offset="1" stop-color="#36207a"/></linearGradient>
<linearGradient id="g62" gradientUnits="userSpaceOnUse" x1="0" y1="0" x2="0" y2="1" gradientTransform="matrix(3.8 -1.4 -10.35 630.36 485.48 70.88)"><stop offset="0" stop-color="#661020"/><stop offset="0.0135" stop-color="#6a1020"/><stop offset="0.1006" stop-color="#aa1024"/><stop offset="0.1668" stop-color="#cc1428"/><stop offset="0.2193" stop-color="#c73420"/><stop offset="0.2584" stop-color="#c05c20"/><stop offset="0.3359" stop-color="#c0a221"/><stop offset="0.3679" stop-color="#c0bc28"/><stop offset="0.3998" stop-color="#b0c830"/><stop offset="0.4442" stop-color="#8fc644"/><stop offset="0.4819" stop-color="#6ebf51"/><stop offset="0.5257" stop-color="#5ab75e"/><stop offset="0.5754" stop-color="#40b078"/><stop offset="0.6247" stop-color="#38a8a1"/><stop offset="0.6675" stop-color="#389eb8"/><stop offset="0.6979" stop-color="#3881c0"/><stop offset="0.7403" stop-color="#385bac"/><stop offset="0.7703" stop-color="#38479f"/><stop offset="0.836" stop-color="#383494"/><stop offset="0.8892" stop-color="#382685"/><stop offset="0.9361" stop-color="#382078"/><stop offset="1" stop-color="#36207a"/></linearGradient>
<linearGradient id="g63" gradientUnits="userSpaceOnUse" x1="0" y1="0" x2="0" y2="1" gradientTransform="matrix(3.8 -1.4 -10.64 630.15 489.41 69.55)"><stop offset="0" stop-color="#661020"/><stop offset="0.0135" stop-color="#6a1020"/><stop offset="0.1006" stop-color="#aa1024"/><stop offset="0.1668" stop-color="#cc1428"/><stop offset="0.2193" stop-color="#c73420"/><stop offset="0.2584" stop-color="#c05c20"/><stop offset="0.3359" stop-color="#c0a221"/><stop offset="0.3679" stop-color="#c0bc28"/><stop offset="0.3998" stop-color="#b0c830"/><stop offset="0.4442" stop-color="#8fc644"/><stop offset="0.4819" stop-color="#6ebf51"/><stop offset="0.5257" stop-color="#5ab75e"/><stop offset="0.5754" stop-color="#40b078"/><stop offset="0.6247" stop-color="#38a8a1"/><stop offset="0.6675" stop-color="#389eb8"/><stop offset="0.6979" stop-color="#3881c0"/><stop offset="0.7403" stop-color="#385bac"/><stop offset="0.7703" stop-color="#38479f"/><stop offset="0.836" stop-color="#383494"/><stop offset="0.8892" stop-color="#382685"/><stop offset="0.9361" stop-color="#382078"/><stop offset="1" stop-color="#36207a"/></linearGradient>
<linearGradient id="g64" gradientUnits="userSpaceOnUse" x1="0" y1="0" x2="0" y2="1" gradientTransform="matrix(3.8 -1.4 -10.93 629.94 493.33 68.23)"><stop offset="0" stop-color="#661020"/><stop offset="0.0135" stop-color="#6a1020"/><stop offset="0.1006" stop-color="#aa1024"/><stop offset="0.1668" stop-color="#cc1428"/><stop offset="0.2193" stop-color="#c73420"/><stop offset="0.2584" stop-color="#c05c20"/><stop offset="0.3359" stop-color="#c0a221"/><stop offset="0.3679" stop-color="#c0bc28"/><stop offset="0.3998" stop-color="#b0c830"/><stop offset="0.4441" stop-color="#8fc644"/><stop offset="0.4819" stop-color="#6ebf51"/><stop offset="0.5257" stop-color="#5ab75e"/><stop offset="0.5754" stop-color="#40b078"/><stop offset="0.6247" stop-color="#38a8a1"/><stop offset="0.6675" stop-color="#389eb8"/><stop offset="0.6979" stop-color="#3881c0"/><stop offset="0.7403" stop-color="#385bac"/><stop offset="0.7703" stop-color="#38479f"/><stop offset="0.836" stop-color="#383494"/><stop offset="0.8892" stop-color="#382685"/><stop offset="0.9361" stop-color="#382078"/><stop offset="1" stop-color="#36207a"/></linearGradient>
<linearGradient id="g65" gradientUnits="userSpaceOnUse" x1="0" y1="0" x2="0" y2="1" gradientTransform="matrix(3.8 -1.4 -11.22 629.72 497.25 66.90)"><stop offset="0" stop-color="#661020"/><stop offset="0.0135" stop-color="#6a1020"/><stop offset="0.1006" stop-color="#aa1024"/><stop offset="0.1668" stop-color="#cc1428"/><stop offset="0.2193" stop-color="#c73420"/><stop offset="0.2584" stop-color="#c05c20"/><stop offset="0.3359" stop-color="#c0a221"/><stop offset="0.3679" stop-color="#c0bc28"/><stop offset="0.3998" stop-color="#b0c830"/><stop offset="0.4441" stop-color="#8fc644"/><stop offset="0.4819" stop-color="#6ebf51"/><stop offset="0.5257" stop-color="#5ab75e"/><stop offset="0.5754" stop-color="#40b078"/><stop offset="0.6247" stop-color="#38a8a1"/><stop offset="0.6675" stop-color="#389eb8"/><stop offset="0.6979" stop-color="#3881c0"/><stop offset="0.7403" stop-color="#385bac"/><stop offset="0.7703" stop-color="#38479f"/><stop offset="0.836" stop-color="#383494"/><stop offset="0.8892" stop-color="#382685"/><stop offset="0.9361" stop-color="#382078"/><stop offset="1" stop-color="#36207a"/></linearGradient>
<linearGradient id="g66" gradientUnits="userSpaceOnUse" x1="0" y1="0" x2="0" y2="1" gradientTransform="matrix(-3.7 1.4 0.16 637.90 345.44 118.16)"><stop offset="0" stop-color="#661020"/><stop offset="0.0135" stop-color="#6a1020"/><stop offset="0.1007" stop-color="#aa1024"/><stop offset="0.1074" stop-color="#ad1125"/><stop offset="0.1339" stop-color="#ca1428"/><stop offset="0.1538" stop-color="#c92a22"/><stop offset="0.1604" stop-color="#c73320"/><stop offset="0.1802" stop-color="#c05d20"/><stop offset="0.2196" stop-color="#c0a622"/><stop offset="0.2326" stop-color="#c0bc28"/><stop offset="0.2522" stop-color="#adc832"/><stop offset="0.2717" stop-color="#91c743"/><stop offset="0.2911" stop-color="#71c050"/><stop offset="0.3169" stop-color="#5cb85c"/><stop offset="0.7164" stop-color="#5cb85c"/><stop offset="0.7526" stop-color="#3faf7b"/><stop offset="0.7766" stop-color="#38a8a0"/><stop offset="0.7945" stop-color="#38a2b3"/><stop offset="0.8005" stop-color="#389db9"/><stop offset="0.8124" stop-color="#3886be"/><stop offset="0.8184" stop-color="#387abd"/><stop offset="0.8302" stop-color="#3862b1"/><stop offset="0.848" stop-color="#38479f"/><stop offset="0.8775" stop-color="#383494"/><stop offset="0.9011" stop-color="#382684"/><stop offset="0.9128" stop-color="#38237e"/><stop offset="0.9362" stop-color="#382078"/><stop offset="1" stop-color="#36207a"/></linearGradient>
<linearGradient id="g67" gradientUnits="userSpaceOnUse" x1="0" y1="0" x2="0" y2="1" gradientTransform="matrix(-3.7 1.4 0.46 638.11 341.56 119.47)"><stop offset="0" stop-color="#661020"/><stop offset="0.0135" stop-color="#6a1020"/><stop offset="0.1007" stop-color="#aa1024"/><stop offset="0.1074" stop-color="#ad1125"/><stop offset="0.134" stop-color="#ca1428"/><stop offset="0.1472" stop-color="#ca2124"/><stop offset="0.1604" stop-color="#c83220"/><stop offset="0.1802" stop-color="#c05c20"/><stop offset="0.2196" stop-color="#c0a522"/><stop offset="0.2326" stop-color="#c0bb28"/><stop offset="0.2522" stop-color="#adc832"/><stop offset="0.2717" stop-color="#92c743"/><stop offset="0.2911" stop-color="#72c04f"/><stop offset="0.3169" stop-color="#5db85c"/><stop offset="0.7164" stop-color="#5bb85d"/><stop offset="0.7466" stop-color="#43b175"/><stop offset="0.7586" stop-color="#3eae84"/><stop offset="0.7766" stop-color="#38a8a0"/><stop offset="0.7945" stop-color="#38a2b3"/><stop offset="0.8005" stop-color="#389db9"/><stop offset="0.8124" stop-color="#3885bf"/><stop offset="0.8184" stop-color="#3879bd"/><stop offset="0.8302" stop-color="#3861b1"/><stop offset="0.848" stop-color="#38479f"/><stop offset="0.8775" stop-color="#383393"/><stop offset="0.9011" stop-color="#382684"/><stop offset="0.9186" stop-color="#38227c"/><stop offset="0.942" stop-color="#382078"/><stop offset="1" stop-color="#36207a"/></linearGradient>
<linearGradient id="g68" gradientUnits="userSpaceOnUse" x1="0" y1="0" x2="0" y2="1" gradientTransform="matrix(-3.7 1.4 0.76 638.32 337.67 120.78)"><stop offset="0" stop-color="#661020"/><stop offset="0.0135" stop-color="#6a1020"/><stop offset="0.1007" stop-color="#aa1024"/><stop offset="0.1074" stop-color="#ad1125"/><stop offset="0.134" stop-color="#c91428"/><stop offset="0.1472" stop-color="#ca2124"/><stop offset="0.1604" stop-color="#c83120"/><stop offset="0.1802" stop-color="#c05b20"/><stop offset="0.2196" stop-color="#c0a421"/><stop offset="0.2326" stop-color="#c0ba27"/><stop offset="0.2522" stop-color="#afc831"/><stop offset="0.2717" stop-color="#93c742"/><stop offset="0.2911" stop-color="#74c14f"/><stop offset="0.3105" stop-color="#63bb58"/><stop offset="0.3234" stop-color="#5cb85c"/><stop offset="0.7104" stop-color="#5cb85c"/><stop offset="0.7225" stop-color="#56b662"/><stop offset="0.7466" stop-color="#42b176"/><stop offset="0.7766" stop-color="#38a8a1"/><stop offset="0.7945" stop-color="#38a1b4"/><stop offset="0.8005" stop-color="#389bb9"/><stop offset="0.8124" stop-color="#3884bf"/><stop offset="0.8184" stop-color="#3878bc"/><stop offset="0.8303" stop-color="#3860b0"/><stop offset="0.848" stop-color="#38469f"/><stop offset="0.8776" stop-color="#383393"/><stop offset="0.9011" stop-color="#382683"/><stop offset="0.9245" stop-color="#38217b"/><stop offset="0.9478" stop-color="#372078"/><stop offset="1" stop-color="#36207a"/></linearGradient>
<linearGradient id="g69" gradientUnits="userSpaceOnUse" x1="0" y1="0" x2="0" y2="1" gradientTransform="matrix(-3.7 1.4 1.05 638.52 333.79 122.09)"><stop offset="0" stop-color="#661020"/><stop offset="0.0135" stop-color="#6a1020"/><stop offset="0.1007" stop-color="#aa1024"/><stop offset="0.114" stop-color="#b31125"/><stop offset="0.134" stop-color="#c91428"/><stop offset="0.1406" stop-color="#cb1827"/><stop offset="0.1604" stop-color="#c82f20"/><stop offset="0.1802" stop-color="#c05920"/><stop offset="0.2196" stop-color="#c0a221"/><stop offset="0.2326" stop-color="#c0b827"/><stop offset="0.2457" stop-color="#b6c32d"/><stop offset="0.2522" stop-color="#b0c830"/><stop offset="0.2717" stop-color="#96c841"/><stop offset="0.2911" stop-color="#77c14d"/><stop offset="0.2976" stop-color="#6ebf51"/><stop offset="0.3234" stop-color="#5cb85c"/><stop offset="0.7104" stop-color="#5cb85c"/><stop offset="0.7466" stop-color="#41b077"/><stop offset="0.7766" stop-color="#38a7a3"/><stop offset="0.7945" stop-color="#38a1b6"/><stop offset="0.8005" stop-color="#3899ba"/><stop offset="0.8124" stop-color="#3882c0"/><stop offset="0.8303" stop-color="#385eaf"/><stop offset="0.8421" stop-color="#384ca3"/><stop offset="0.854" stop-color="#38429d"/><stop offset="0.8776" stop-color="#383393"/><stop offset="0.9011" stop-color="#382583"/><stop offset="0.9362" stop-color="#382078"/><stop offset="1" stop-color="#36207a"/></linearGradient>
<linearGradient id="g70" gradientUnits="userSpaceOnUse" x1="0" y1="0" x2="0" y2="1" gradientTransform="matrix(-3.7 1.4 1.35 638.73 329.90 123.40)"><stop offset="0" stop-color="#661020"/><stop offset="0.0135" stop-color="#6a1020"/><stop offset="0.1007" stop-color="#aa1024"/><stop offset="0.114" stop-color="#b21125"/><stop offset="0.134" stop-color="#c81428"/><stop offset="0.1406" stop-color="#cc1727"/><stop offset="0.1604" stop-color="#c82e21"/><stop offset="0.1802" stop-color="#c05720"/><stop offset="0.2196" stop-color="#c09f20"/><stop offset="0.2392" stop-color="#bebd29"/><stop offset="0.2522" stop-color="#b2c62f"/><stop offset="0.2717" stop-color="#99c83f"/><stop offset="0.2976" stop-color="#71c050"/><stop offset="0.3234" stop-color="#5db95b"/><stop offset="0.7104" stop-color="#5bb85d"/><stop offset="0.7466" stop-color="#40b07a"/><stop offset="0.7706" stop-color="#39a99d"/><stop offset="0.7945" stop-color="#38a0b7"/><stop offset="0.8124" stop-color="#387fc0"/><stop offset="0.8303" stop-color="#385cae"/><stop offset="0.8421" stop-color="#384aa1"/><stop offset="0.8717" stop-color="#383696"/><stop offset="0.8952" stop-color="#382786"/><stop offset="0.9128" stop-color="#38237e"/><stop offset="0.9362" stop-color="#382078"/><stop offset="1" stop-color="#36207a"/></linearGradient>
<linearGradient id="g71" gradientUnits="userSpaceOnUse" x1="0" y1="0" x2="0" y2="1" gradientTransform="matrix(-3.7 1.4 1.65 638.94 326.00 124.72)"><stop offset="0" stop-color="#661020"/><stop offset="0.0135" stop-color="#6a1020"/><stop offset="0.1007" stop-color="#aa1024"/><stop offset="0.1141" stop-color="#b11125"/><stop offset="0.1406" stop-color="#cc1528"/><stop offset="0.1604" stop-color="#c92c21"/><stop offset="0.1736" stop-color="#c44520"/><stop offset="0.1868" stop-color="#c06020"/><stop offset="0.2196" stop-color="#c09c20"/><stop offset="0.2392" stop-color="#c0bc28"/><stop offset="0.2587" stop-color="#aec831"/><stop offset="0.2847" stop-color="#89c546"/><stop offset="0.2976" stop-color="#76c14e"/><stop offset="0.3105" stop-color="#69bd54"/><stop offset="0.3299" stop-color="#5cb85c"/><stop offset="0.7043" stop-color="#5cb85c"/><stop offset="0.7406" stop-color="#42b076"/><stop offset="0.7706" stop-color="#38a8a1"/><stop offset="0.7946" stop-color="#389eb9"/><stop offset="0.8065" stop-color="#3887be"/><stop offset="0.8124" stop-color="#387cbe"/><stop offset="0.8303" stop-color="#385aac"/><stop offset="0.8421" stop-color="#3848a0"/><stop offset="0.8717" stop-color="#383595"/><stop offset="0.8952" stop-color="#382786"/><stop offset="0.9128" stop-color="#38237e"/><stop offset="0.9362" stop-color="#382078"/><stop offset="1" stop-color="#36207a"/></linearGradient>
<linearGradient id="g72" gradientUnits="userSpaceOnUse" x1="0" y1="0" x2="0" y2="1" gradientTransform="matrix(-3.7 1.4 1.95 639.14 322.10 126.04)"><stop offset="0" stop-color="#661020"/><stop offset="0.0135" stop-color="#6a1020"/><stop offset="0.1007" stop-color="#aa1024"/><stop offset="0.1141" stop-color="#b11125"/><stop offset="0.1406" stop-color="#cc1428"/><stop offset="0.167" stop-color="#c73420"/><stop offset="0.1868" stop-color="#c05d20"/><stop offset="0.2261" stop-color="#c0a321"/><stop offset="0.2392" stop-color="#c0b827"/><stop offset="0.2522" stop-color="#b7c32d"/><stop offset="0.2587" stop-color="#b1c72f"/><stop offset="0.2782" stop-color="#99c83f"/><stop offset="0.3041" stop-color="#72c04f"/><stop offset="0.3363" stop-color="#5cb85c"/><stop offset="0.6983" stop-color="#5cb85c"/><stop offset="0.7346" stop-color="#44b174"/><stop offset="0.7466" stop-color="#3eae82"/><stop offset="0.7706" stop-color="#38a7a3"/><stop offset="0.7886" stop-color="#38a1b5"/><stop offset="0.7946" stop-color="#3899ba"/><stop offset="0.8065" stop-color="#3883bf"/><stop offset="0.8184" stop-color="#386cb6"/><stop offset="0.8303" stop-color="#3857aa"/><stop offset="0.8421" stop-color="#38479f"/><stop offset="0.8717" stop-color="#383494"/><stop offset="0.8952" stop-color="#382685"/><stop offset="0.9362" stop-color="#382078"/><stop offset="1" stop-color="#36207a"/></linearGradient>
<linearGradient id="g73" gradientUnits="userSpaceOnUse" x1="0" y1="0" x2="0" y2="1" gradientTransform="matrix(-3.7 1.4 2.25 639.35 318.20 127.35)"><stop offset="0" stop-color="#661020"/><stop offset="0.0135" stop-color="#6a1020"/><stop offset="0.1007" stop-color="#aa1024"/><stop offset="0.1207" stop-color="#b51125"/><stop offset="0.1406" stop-color="#ca1428"/><stop offset="0.1538" stop-color="#ca2124"/><stop offset="0.167" stop-color="#c83020"/><stop offset="0.1868" stop-color="#c05920"/><stop offset="0.2261" stop-color="#c09f20"/><stop offset="0.2457" stop-color="#bfbd28"/><stop offset="0.2652" stop-color="#aec832"/><stop offset="0.2912" stop-color="#8bc545"/><stop offset="0.3106" stop-color="#70c050"/><stop offset="0.3427" stop-color="#5cb85c"/><stop offset="0.6922" stop-color="#5cb85c"/><stop offset="0.7285" stop-color="#45b173"/><stop offset="0.7406" stop-color="#3faf7f"/><stop offset="0.7646" stop-color="#38a8a1"/><stop offset="0.7886" stop-color="#389fb8"/><stop offset="0.8065" stop-color="#387ebf"/><stop offset="0.8243" stop-color="#385dae"/><stop offset="0.8362" stop-color="#384ba2"/><stop offset="0.8717" stop-color="#383393"/><stop offset="0.8952" stop-color="#382684"/><stop offset="0.9362" stop-color="#382078"/><stop offset="1" stop-color="#36207a"/></linearGradient>
<linearGradient id="g74" gradientUnits="userSpaceOnUse" x1="0" y1="0" x2="0" y2="1" gradientTransform="matrix(-3.8 1.4 2.55 639.56 314.29 128.67)"><stop offset="0" stop-color="#661020"/><stop offset="0.0135" stop-color="#6a1020"/><stop offset="0.1007" stop-color="#aa1024"/><stop offset="0.1207" stop-color="#b41125"/><stop offset="0.1406" stop-color="#c81428"/><stop offset="0.1472" stop-color="#cc1727"/><stop offset="0.1671" stop-color="#c82d21"/><stop offset="0.1934" stop-color="#c06020"/><stop offset="0.2327" stop-color="#c0a421"/><stop offset="0.2457" stop-color="#c0b827"/><stop offset="0.2587" stop-color="#b7c32c"/><stop offset="0.2717" stop-color="#abc834"/><stop offset="0.2912" stop-color="#92c742"/><stop offset="0.317" stop-color="#6fc051"/><stop offset="0.3491" stop-color="#5cb85c"/><stop offset="0.6862" stop-color="#5cb85c"/><stop offset="0.7286" stop-color="#41b077"/><stop offset="0.7647" stop-color="#38a7a4"/><stop offset="0.7826" stop-color="#38a1b5"/><stop offset="0.7886" stop-color="#389aba"/><stop offset="0.8005" stop-color="#3884bf"/><stop offset="0.8065" stop-color="#3879bd"/><stop offset="0.8243" stop-color="#3859ab"/><stop offset="0.8362" stop-color="#3848a0"/><stop offset="0.8658" stop-color="#383595"/><stop offset="0.8893" stop-color="#382786"/><stop offset="0.9362" stop-color="#382078"/><stop offset="1" stop-color="#36207a"/></linearGradient>
<linearGradient id="g75" gradientUnits="userSpaceOnUse" x1="0" y1="0" x2="0" y2="1" gradientTransform="matrix(-3.8 1.4 2.85 639.77 310.38 129.99)"><stop offset="0" stop-color="#661020"/><stop offset="0.0135" stop-color="#6a1020"/><stop offset="0.1008" stop-color="#aa1024"/><stop offset="0.1274" stop-color="#b81226"/><stop offset="0.1472" stop-color="#cc1528"/><stop offset="0.1737" stop-color="#c73420"/><stop offset="0.1934" stop-color="#c05b20"/><stop offset="0.2327" stop-color="#c09f20"/><stop offset="0.2523" stop-color="#c0bc28"/><stop offset="0.2718" stop-color="#b0c830"/><stop offset="0.2977" stop-color="#90c643"/><stop offset="0.3235" stop-color="#6fc051"/><stop offset="0.3556" stop-color="#5db85c"/><stop offset="0.6801" stop-color="#5bb85d"/><stop offset="0.7225" stop-color="#42b176"/><stop offset="0.7466" stop-color="#3bab93"/><stop offset="0.7647" stop-color="#38a5a8"/><stop offset="0.7826" stop-color="#389eb8"/><stop offset="0.8005" stop-color="#387fbf"/><stop offset="0.8184" stop-color="#385eaf"/><stop offset="0.8303" stop-color="#384da3"/><stop offset="0.8421" stop-color="#38439d"/><stop offset="0.8658" stop-color="#383494"/><stop offset="0.8893" stop-color="#382785"/><stop offset="0.9362" stop-color="#382078"/><stop offset="1" stop-color="#36207a"/></linearGradient>
<linearGradient id="g76" gradientUnits="userSpaceOnUse" x1="0" y1="0" x2="0" y2="1" gradientTransform="matrix(-3.8 1.4 3.15 639.97 306.46 131.32)"><stop offset="0" stop-color="#661020"/><stop offset="0.0135" stop-color="#6a1020"/><stop offset="0.1008" stop-color="#aa1024"/><stop offset="0.134" stop-color="#bd1226"/><stop offset="0.1472" stop-color="#ca1428"/><stop offset="0.1671" stop-color="#c92822"/><stop offset="0.1737" stop-color="#c82f20"/><stop offset="0.1934" stop-color="#c15520"/><stop offset="0.2392" stop-color="#c0a321"/><stop offset="0.2588" stop-color="#bebd29"/><stop offset="0.2782" stop-color="#aec831"/><stop offset="0.3041" stop-color="#90c643"/><stop offset="0.3299" stop-color="#70c050"/><stop offset="0.3684" stop-color="#5cb85c"/><stop offset="0.6679" stop-color="#5cb85c"/><stop offset="0.7104" stop-color="#46b272"/><stop offset="0.7225" stop-color="#3faf7c"/><stop offset="0.7527" stop-color="#38a8a1"/><stop offset="0.7767" stop-color="#38a0b7"/><stop offset="0.7946" stop-color="#3883bf"/><stop offset="0.8065" stop-color="#386db7"/><stop offset="0.8184" stop-color="#3859ac"/><stop offset="0.8303" stop-color="#3848a0"/><stop offset="0.8599" stop-color="#383696"/><stop offset="0.8835" stop-color="#382888"/><stop offset="0.9362" stop-color="#382078"/><stop offset="1" stop-color="#36207a"/></linearGradient>
<linearGradient id="g77" gradientUnits="userSpaceOnUse" x1="0" y1="0" x2="0" y2="1" gradientTransform="matrix(-3.8 1.4 3.46 640.18 302.54 132.64)"><stop offset="0" stop-color="#661020"/><stop offset="0.0135" stop-color="#6a1020"/><stop offset="0.1008" stop-color="#aa1024"/><stop offset="0.134" stop-color="#bb1226"/><stop offset="0.1539" stop-color="#cc1627"/><stop offset="0.1737" stop-color="#c92c21"/><stop offset="0.1803" stop-color="#c73520"/><stop offset="0.2" stop-color="#c05b20"/><stop offset="0.2392" stop-color="#c09c20"/><stop offset="0.2588" stop-color="#c0b927"/><stop offset="0.2783" stop-color="#b3c62f"/><stop offset="0.2977" stop-color="#9fc83c"/><stop offset="0.3363" stop-color="#71c050"/><stop offset="0.3748" stop-color="#5eb95b"/><stop offset="0.4066" stop-color="#5cb85c"/><stop offset="0.6557" stop-color="#5cb85c"/><stop offset="0.6923" stop-color="#4cb36c"/><stop offset="0.7165" stop-color="#3faf7c"/><stop offset="0.7467" stop-color="#38a8a0"/><stop offset="0.7707" stop-color="#38a1b5"/><stop offset="0.7767" stop-color="#389bb9"/><stop offset="0.7886" stop-color="#3887be"/><stop offset="0.7946" stop-color="#387cbe"/><stop offset="0.8125" stop-color="#385dae"/><stop offset="0.8244" stop-color="#384ca3"/><stop offset="0.8362" stop-color="#38439d"/><stop offset="0.8599" stop-color="#383595"/><stop offset="0.8835" stop-color="#382787"/><stop offset="0.9362" stop-color="#382078"/><stop offset="1" stop-color="#36207a"/></linearGradient>
<linearGradient id="g78" gradientUnits="userSpaceOnUse" x1="0" y1="0" x2="0" y2="1" gradientTransform="matrix(-3.8 1.4 3.76 640.39 298.62 133.96)"><stop offset="0" stop-color="#661020"/><stop offset="0.0135" stop-color="#6a1020"/><stop offset="0.1008" stop-color="#aa1024"/><stop offset="0.1406" stop-color="#bf1327"/><stop offset="0.1539" stop-color="#cb1428"/><stop offset="0.1803" stop-color="#c83020"/><stop offset="0.2065" stop-color="#c06020"/><stop offset="0.2458" stop-color="#c0a020"/><stop offset="0.2653" stop-color="#c0bb28"/><stop offset="0.2847" stop-color="#b2c62f"/><stop offset="0.3106" stop-color="#98c840"/><stop offset="0.3428" stop-color="#73c14f"/><stop offset="0.3684" stop-color="#65bc56"/><stop offset="0.3939" stop-color="#5cb85c"/><stop offset="0.6435" stop-color="#5cb85c"/><stop offset="0.6862" stop-color="#4bb36d"/><stop offset="0.7044" stop-color="#41b077"/><stop offset="0.7467" stop-color="#38a6a5"/><stop offset="0.7647" stop-color="#38a1b4"/><stop offset="0.7707" stop-color="#389db9"/><stop offset="0.7886" stop-color="#387fc0"/><stop offset="0.8065" stop-color="#3860b0"/><stop offset="0.8244" stop-color="#3848a0"/><stop offset="0.854" stop-color="#383696"/><stop offset="0.8776" stop-color="#382888"/><stop offset="0.9362" stop-color="#382078"/><stop offset="1" stop-color="#36207a"/></linearGradient>
<linearGradient id="g79" gradientUnits="userSpaceOnUse" x1="0" y1="0" x2="0" y2="1" gradientTransform="matrix(-3.8 1.4 4.06 640.60 294.69 135.29)"><stop offset="0" stop-color="#661020"/><stop offset="0.0135" stop-color="#6a1020"/><stop offset="0.1008" stop-color="#aa1024"/><stop offset="0.1473" stop-color="#c21327"/><stop offset="0.1539" stop-color="#c91428"/><stop offset="0.1605" stop-color="#cc1727"/><stop offset="0.1803" stop-color="#c92c21"/><stop offset="0.1868" stop-color="#c73520"/><stop offset="0.2065" stop-color="#c05a20"/><stop offset="0.2523" stop-color="#c0a221"/><stop offset="0.2718" stop-color="#c0bc28"/><stop offset="0.2912" stop-color="#b2c72f"/><stop offset="0.3235" stop-color="#92c742"/><stop offset="0.3556" stop-color="#70c050"/><stop offset="0.4066" stop-color="#5db95b"/><stop offset="0.6313" stop-color="#5bb85d"/><stop offset="0.6741" stop-color="#4cb36c"/><stop offset="0.6984" stop-color="#40b079"/><stop offset="0.7407" stop-color="#38a6a5"/><stop offset="0.7647" stop-color="#389fb8"/><stop offset="0.7827" stop-color="#3882c0"/><stop offset="0.8065" stop-color="#385bac"/><stop offset="0.8184" stop-color="#384ba2"/><stop offset="0.854" stop-color="#383595"/><stop offset="0.8776" stop-color="#382888"/><stop offset="0.9362" stop-color="#382078"/><stop offset="1" stop-color="#36207a"/></linearGradient>
<linearGradient id="g80" gradientUnits="userSpaceOnUse" x1="0" y1="0" x2="0" y2="1" gradientTransform="matrix(-3.8 1.4 4.37 640.80 290.76 136.62)"><stop offset="0" stop-color="#661020"/><stop offset="0.0135" stop-color="#6a1020"/><stop offset="0.1008" stop-color="#aa1024"/><stop offset="0.1539" stop-color="#c61327"/><stop offset="0.1605" stop-color="#cc1428"/><stop offset="0.1869" stop-color="#c82f20"/><stop offset="0.2131" stop-color="#c05e20"/><stop offset="0.2588" stop-color="#c0a421"/><stop offset="0.2783" stop-color="#bfbc28"/><stop offset="0.3042" stop-color="#adc832"/><stop offset="0.3364" stop-color="#8dc644"/><stop offset="0.3684" stop-color="#6fc050"/><stop offset="0.4193" stop-color="#5fb95a"/><stop offset="0.4573" stop-color="#5cb85c"/><stop offset="0.6129" stop-color="#5bb85d"/><stop offset="0.6619" stop-color="#4db46b"/><stop offset="0.6923" stop-color="#3faf7b"/><stop offset="0.7346" stop-color="#38a6a5"/><stop offset="0.7587" stop-color="#38a0b8"/><stop offset="0.7767" stop-color="#3884bf"/><stop offset="0.7827" stop-color="#387abd"/><stop offset="0.8065" stop-color="#3855a9"/><stop offset="0.8184" stop-color="#38479f"/><stop offset="0.8481" stop-color="#383696"/><stop offset="0.8717" stop-color="#382a8a"/><stop offset="0.9362" stop-color="#382078"/><stop offset="1" stop-color="#36207a"/></linearGradient>
<linearGradient id="g81" gradientUnits="userSpaceOnUse" x1="0" y1="0" x2="0" y2="1" gradientTransform="matrix(-3.8 1.4 4.67 641.01 286.82 137.95)"><stop offset="0" stop-color="#661020"/><stop offset="0.0135" stop-color="#6a1020"/><stop offset="0.1008" stop-color="#aa1024"/><stop offset="0.1605" stop-color="#c91428"/><stop offset="0.1671" stop-color="#cc1727"/><stop offset="0.1934" stop-color="#c73420"/><stop offset="0.2131" stop-color="#c05720"/><stop offset="0.2588" stop-color="#c09c20"/><stop offset="0.2848" stop-color="#bfbd28"/><stop offset="0.3106" stop-color="#adc832"/><stop offset="0.3428" stop-color="#8fc643"/><stop offset="0.3748" stop-color="#73c14f"/><stop offset="0.413" stop-color="#65bb57"/><stop offset="0.4699" stop-color="#5cb85c"/><stop offset="0.5883" stop-color="#5bb85d"/><stop offset="0.6374" stop-color="#51b567"/><stop offset="0.6802" stop-color="#40b079"/><stop offset="0.7286" stop-color="#38a6a5"/><stop offset="0.7527" stop-color="#38a0b8"/><stop offset="0.7707" stop-color="#3885bf"/><stop offset="0.7767" stop-color="#387cbe"/><stop offset="0.7946" stop-color="#385faf"/><stop offset="0.8125" stop-color="#3848a0"/><stop offset="0.8481" stop-color="#383494"/><stop offset="0.8658" stop-color="#382c8c"/><stop offset="0.9362" stop-color="#382078"/><stop offset="1" stop-color="#36207a"/></linearGradient>
<linearGradient id="g82" gradientUnits="userSpaceOnUse" x1="0" y1="0" x2="0" y2="1" gradientTransform="matrix(-3.8 1.4 4.98 641.22 282.88 139.28)"><stop offset="0" stop-color="#661020"/><stop offset="0.0135" stop-color="#6a1020"/><stop offset="0.1008" stop-color="#aa1024"/><stop offset="0.1671" stop-color="#cc1428"/><stop offset="0.1934" stop-color="#c82e21"/><stop offset="0.2197" stop-color="#c05b20"/><stop offset="0.2653" stop-color="#c09e20"/><stop offset="0.2912" stop-color="#bfbd28"/><stop offset="0.3171" stop-color="#aec831"/><stop offset="0.3492" stop-color="#92c742"/><stop offset="0.3876" stop-color="#72c04f"/><stop offset="0.432" stop-color="#64bb57"/><stop offset="0.495" stop-color="#5db85b"/><stop offset="0.5883" stop-color="#58b760"/><stop offset="0.6436" stop-color="#4ab36e"/><stop offset="0.6741" stop-color="#3faf7b"/><stop offset="0.7226" stop-color="#38a6a6"/><stop offset="0.7467" stop-color="#38a0b8"/><stop offset="0.7647" stop-color="#3886be"/><stop offset="0.7707" stop-color="#387dbe"/><stop offset="0.7887" stop-color="#3860b0"/><stop offset="0.8066" stop-color="#384aa1"/><stop offset="0.8422" stop-color="#383595"/><stop offset="0.8599" stop-color="#382d8d"/><stop offset="0.907" stop-color="#382480"/><stop offset="0.9362" stop-color="#382078"/><stop offset="1" stop-color="#36207a"/></linearGradient>
<linearGradient id="g83" gradientUnits="userSpaceOnUse" x1="0" y1="0" x2="0" y2="1" gradientTransform="matrix(-3.8 1.4 5.28 641.43 278.94 140.61)"><stop offset="0" stop-color="#661020"/><stop offset="0.0135" stop-color="#6a1020"/><stop offset="0.1008" stop-color="#aa1024"/><stop offset="0.1671" stop-color="#cc1428"/><stop offset="0.1869" stop-color="#ca2423"/><stop offset="0.2" stop-color="#c83120"/><stop offset="0.2262" stop-color="#c05e20"/><stop offset="0.2718" stop-color="#c09f20"/><stop offset="0.2977" stop-color="#bfbd28"/><stop offset="0.3235" stop-color="#afc831"/><stop offset="0.362" stop-color="#8fc644"/><stop offset="0.4003" stop-color="#72c04f"/><stop offset="0.451" stop-color="#64bb57"/><stop offset="0.5821" stop-color="#56b662"/><stop offset="0.6375" stop-color="#48b270"/><stop offset="0.6619" stop-color="#40b07a"/><stop offset="0.7166" stop-color="#38a6a7"/><stop offset="0.7407" stop-color="#38a0b8"/><stop offset="0.7647" stop-color="#387ebf"/><stop offset="0.7887" stop-color="#385aac"/><stop offset="0.8066" stop-color="#38469f"/><stop offset="0.8363" stop-color="#383696"/><stop offset="0.8658" stop-color="#382c8c"/><stop offset="0.9362" stop-color="#382078"/><stop offset="1" stop-color="#36207a"/></linearGradient>
<linearGradient id="g84" gradientUnits="userSpaceOnUse" x1="0" y1="0" x2="0" y2="1" gradientTransform="matrix(-3.8 1.4 5.59 641.64 274.99 141.94)"><stop offset="0" stop-color="#661020"/><stop offset="0.0135" stop-color="#6a1020"/><stop offset="0.1008" stop-color="#aa1024"/><stop offset="0.1671" stop-color="#cc1428"/><stop offset="0.1869" stop-color="#ca2025"/><stop offset="0.2066" stop-color="#c73520"/><stop offset="0.2328" stop-color="#c06020"/><stop offset="0.2783" stop-color="#c09f20"/><stop offset="0.3042" stop-color="#bfbc28"/><stop offset="0.33" stop-color="#b0c830"/><stop offset="0.3684" stop-color="#92c742"/><stop offset="0.413" stop-color="#71c04f"/><stop offset="0.4699" stop-color="#63bb58"/><stop offset="0.5697" stop-color="#55b663"/><stop offset="0.6313" stop-color="#46b272"/><stop offset="0.6558" stop-color="#3faf7d"/><stop offset="0.7045" stop-color="#38a7a4"/><stop offset="0.7347" stop-color="#389fb8"/><stop offset="0.7587" stop-color="#387ebf"/><stop offset="0.7827" stop-color="#385bad"/><stop offset="0.8006" stop-color="#3847a0"/><stop offset="0.8422" stop-color="#383292"/><stop offset="0.8894" stop-color="#382685"/><stop offset="0.9362" stop-color="#382078"/><stop offset="1" stop-color="#36207a"/></linearGradient>
<linearGradient id="g85" gradientUnits="userSpaceOnUse" x1="0" y1="0" x2="0" y2="1" gradientTransform="matrix(-3.8 1.4 5.90 641.84 271.04 143.28)"><stop offset="0" stop-color="#661020"/><stop offset="0.0135" stop-color="#6a1020"/><stop offset="0.1008" stop-color="#aa1024"/><stop offset="0.1671" stop-color="#cc1428"/><stop offset="0.2" stop-color="#c92922"/><stop offset="0.2066" stop-color="#c82f20"/><stop offset="0.2328" stop-color="#c05920"/><stop offset="0.2848" stop-color="#c0a020"/><stop offset="0.3107" stop-color="#c0bc28"/><stop offset="0.3364" stop-color="#b1c730"/><stop offset="0.3812" stop-color="#8fc644"/><stop offset="0.4257" stop-color="#71c050"/><stop offset="0.5075" stop-color="#5eb95b"/><stop offset="0.5945" stop-color="#4eb46a"/><stop offset="0.6375" stop-color="#40b078"/><stop offset="0.6802" stop-color="#3aaa97"/><stop offset="0.7045" stop-color="#38a5a8"/><stop offset="0.7286" stop-color="#389eb8"/><stop offset="0.7527" stop-color="#387ebf"/><stop offset="0.7767" stop-color="#385cae"/><stop offset="0.7946" stop-color="#3848a0"/><stop offset="0.8363" stop-color="#383494"/><stop offset="0.8894" stop-color="#382685"/><stop offset="0.9362" stop-color="#382078"/><stop offset="1" stop-color="#36207a"/></linearGradient>
<linearGradient id="g86" gradientUnits="userSpaceOnUse" x1="0" y1="0" x2="0" y2="1" gradientTransform="matrix(-3.8 1.5 6.20 642.05 267.08 144.61)"><stop offset="0" stop-color="#661020"/><stop offset="0.0135" stop-color="#6a1020"/><stop offset="0.1008" stop-color="#aa1024"/><stop offset="0.1671" stop-color="#cc1428"/><stop offset="0.2066" stop-color="#c92b21"/><stop offset="0.2131" stop-color="#c83220"/><stop offset="0.2393" stop-color="#c05c20"/><stop offset="0.2913" stop-color="#c0a020"/><stop offset="0.3171" stop-color="#c0bc28"/><stop offset="0.3493" stop-color="#adc832"/><stop offset="0.394" stop-color="#8cc645"/><stop offset="0.4384" stop-color="#70c050"/><stop offset="0.545" stop-color="#57b761"/><stop offset="0.6252" stop-color="#41b077"/><stop offset="0.6619" stop-color="#3bab8f"/><stop offset="0.6923" stop-color="#38a6a6"/><stop offset="0.7166" stop-color="#38a1b5"/><stop offset="0.7226" stop-color="#389eb9"/><stop offset="0.7467" stop-color="#387ebf"/><stop offset="0.7767" stop-color="#3856a9"/><stop offset="0.7887" stop-color="#3848a0"/><stop offset="0.8244" stop-color="#383797"/><stop offset="0.8894" stop-color="#382685"/><stop offset="0.9362" stop-color="#382078"/><stop offset="1" stop-color="#36207a"/></linearGradient>
<linearGradient id="g87" gradientUnits="userSpaceOnUse" x1="0" y1="0" x2="0" y2="1" gradientTransform="matrix(-3.8 1.5 6.51 642.26 263.12 145.95)"><stop offset="0" stop-color="#661020"/><stop offset="0.0135" stop-color="#6a1020"/><stop offset="0.1008" stop-color="#aa1024"/><stop offset="0.1671" stop-color="#cc1428"/><stop offset="0.2132" stop-color="#c82e21"/><stop offset="0.2197" stop-color="#c73520"/><stop offset="0.2458" stop-color="#c05e20"/><stop offset="0.2978" stop-color="#c0a120"/><stop offset="0.3236" stop-color="#c0bc28"/><stop offset="0.3557" stop-color="#aec831"/><stop offset="0.4004" stop-color="#8ec644"/><stop offset="0.4447" stop-color="#70c050"/><stop offset="0.5388" stop-color="#58b760"/><stop offset="0.6191" stop-color="#40b078"/><stop offset="0.6619" stop-color="#3aaa95"/><stop offset="0.6863" stop-color="#38a6a6"/><stop offset="0.7105" stop-color="#38a1b6"/><stop offset="0.7166" stop-color="#389db9"/><stop offset="0.7407" stop-color="#387ebf"/><stop offset="0.7707" stop-color="#3857aa"/><stop offset="0.7827" stop-color="#3849a1"/><stop offset="0.8185" stop-color="#383999"/><stop offset="0.8894" stop-color="#382685"/><stop offset="0.9362" stop-color="#382078"/><stop offset="1" stop-color="#36207a"/></linearGradient>
<linearGradient id="g88" gradientUnits="userSpaceOnUse" x1="0" y1="0" x2="0" y2="1" gradientTransform="matrix(-3.8 1.5 6.82 642.47 259.16 147.29)"><stop offset="0" stop-color="#661020"/><stop offset="0.0135" stop-color="#6a1020"/><stop offset="0.1008" stop-color="#aa1024"/><stop offset="0.1671" stop-color="#cc1428"/><stop offset="0.2197" stop-color="#c73420"/><stop offset="0.2328" stop-color="#c44320"/><stop offset="0.2524" stop-color="#c06020"/><stop offset="0.3042" stop-color="#c0a120"/><stop offset="0.33" stop-color="#c0bc28"/><stop offset="0.3621" stop-color="#afc831"/><stop offset="0.4067" stop-color="#8fc644"/><stop offset="0.451" stop-color="#71c050"/><stop offset="0.5325" stop-color="#59b75f"/><stop offset="0.613" stop-color="#40b079"/><stop offset="0.6619" stop-color="#39a99b"/><stop offset="0.7045" stop-color="#38a1b6"/><stop offset="0.7166" stop-color="#3895bb"/><stop offset="0.7347" stop-color="#387ebf"/><stop offset="0.7648" stop-color="#3858aa"/><stop offset="0.7767" stop-color="#384aa2"/><stop offset="0.8066" stop-color="#383c9a"/><stop offset="0.8659" stop-color="#382c8c"/><stop offset="0.9362" stop-color="#382078"/><stop offset="1" stop-color="#36207a"/></linearGradient>
<linearGradient id="g89" gradientUnits="userSpaceOnUse" x1="0" y1="0" x2="0" y2="1" gradientTransform="matrix(-3.8 1.5 7.13 642.68 255.19 148.63)"><stop offset="0" stop-color="#661020"/><stop offset="0.0135" stop-color="#6a1020"/><stop offset="0.1008" stop-color="#aa1024"/><stop offset="0.1671" stop-color="#cc1428"/><stop offset="0.2197" stop-color="#c73420"/><stop offset="0.2458" stop-color="#c25020"/><stop offset="0.2913" stop-color="#c08b20"/><stop offset="0.3171" stop-color="#c0a922"/><stop offset="0.3364" stop-color="#c0bc28"/><stop offset="0.3685" stop-color="#afc830"/><stop offset="0.4131" stop-color="#90c643"/><stop offset="0.4574" stop-color="#70c050"/><stop offset="0.5325" stop-color="#59b75f"/><stop offset="0.6068" stop-color="#40b079"/><stop offset="0.6681" stop-color="#38a7a4"/><stop offset="0.6984" stop-color="#38a0b7"/><stop offset="0.7166" stop-color="#388dbd"/><stop offset="0.7287" stop-color="#387ebf"/><stop offset="0.7588" stop-color="#3858ab"/><stop offset="0.7767" stop-color="#38479f"/><stop offset="0.8422" stop-color="#383292"/><stop offset="0.8894" stop-color="#382685"/><stop offset="0.9362" stop-color="#382078"/><stop offset="1" stop-color="#36207a"/></linearGradient>
<linearGradient id="g90" gradientUnits="userSpaceOnUse" x1="0" y1="0" x2="0" y2="1" gradientTransform="matrix(-3.8 1.5 7.44 642.89 251.21 149.97)"><stop offset="0" stop-color="#661020"/><stop offset="0.0135" stop-color="#6a1020"/><stop offset="0.1008" stop-color="#aa1024"/><stop offset="0.1671" stop-color="#cc1428"/><stop offset="0.2197" stop-color="#c73420"/><stop offset="0.2589" stop-color="#c05c20"/><stop offset="0.3107" stop-color="#c09c20"/><stop offset="0.3429" stop-color="#c0bc28"/><stop offset="0.3749" stop-color="#afc830"/><stop offset="0.4194" stop-color="#8fc643"/><stop offset="0.4637" stop-color="#6fc050"/><stop offset="0.5326" stop-color="#58b760"/><stop offset="0.6007" stop-color="#40b079"/><stop offset="0.662" stop-color="#38a6a5"/><stop offset="0.6924" stop-color="#38a0b7"/><stop offset="0.7166" stop-color="#3886bf"/><stop offset="0.7226" stop-color="#387ebf"/><stop offset="0.7528" stop-color="#3859ab"/><stop offset="0.7708" stop-color="#38479f"/><stop offset="0.8363" stop-color="#383494"/><stop offset="0.8894" stop-color="#382685"/><stop offset="0.9362" stop-color="#382078"/><stop offset="1" stop-color="#36207a"/></linearGradient>
<linearGradient id="g91" gradientUnits="userSpaceOnUse" x1="0" y1="0" x2="0" y2="1" gradientTransform="matrix(-3.8 1.5 7.75 643.10 247.24 151.31)"><stop offset="0" stop-color="#661020"/><stop offset="0.0135" stop-color="#6a1020"/><stop offset="0.1008" stop-color="#aa1024"/><stop offset="0.1672" stop-color="#cc1428"/><stop offset="0.2197" stop-color="#c73420"/><stop offset="0.2589" stop-color="#c05c20"/><stop offset="0.2784" stop-color="#c06f20"/><stop offset="0.3236" stop-color="#c0a421"/><stop offset="0.3493" stop-color="#c0bc28"/><stop offset="0.3813" stop-color="#afc831"/><stop offset="0.4258" stop-color="#8fc644"/><stop offset="0.47" stop-color="#6fbf51"/><stop offset="0.5326" stop-color="#58b760"/><stop offset="0.5945" stop-color="#40b078"/><stop offset="0.6559" stop-color="#38a6a5"/><stop offset="0.6863" stop-color="#38a0b7"/><stop offset="0.7106" stop-color="#3886be"/><stop offset="0.7166" stop-color="#387fbf"/><stop offset="0.7468" stop-color="#3859ac"/><stop offset="0.7648" stop-color="#3849a1"/><stop offset="0.8363" stop-color="#383494"/><stop offset="0.8894" stop-color="#382685"/><stop offset="0.9362" stop-color="#382078"/><stop offset="1" stop-color="#36207a"/></linearGradient>
<linearGradient id="g92" gradientUnits="userSpaceOnUse" x1="0" y1="0" x2="0" y2="1" gradientTransform="matrix(-3.8 1.5 8.07 643.31 243.25 152.66)"><stop offset="0" stop-color="#661020"/><stop offset="0.0135" stop-color="#6a1020"/><stop offset="0.1008" stop-color="#aa1024"/><stop offset="0.1672" stop-color="#cc1428"/><stop offset="0.2197" stop-color="#c73420"/><stop offset="0.2589" stop-color="#c05c20"/><stop offset="0.2978" stop-color="#c08120"/><stop offset="0.33" stop-color="#c0a521"/><stop offset="0.3557" stop-color="#bfbd29"/><stop offset="0.3877" stop-color="#aec831"/><stop offset="0.4321" stop-color="#8dc644"/><stop offset="0.47" stop-color="#70c050"/><stop offset="0.5326" stop-color="#58b760"/><stop offset="0.5945" stop-color="#3faf7c"/><stop offset="0.6498" stop-color="#38a6a5"/><stop offset="0.6803" stop-color="#38a0b7"/><stop offset="0.6985" stop-color="#388ebd"/><stop offset="0.7106" stop-color="#387fc0"/><stop offset="0.7408" stop-color="#385bac"/><stop offset="0.7708" stop-color="#38479f"/><stop offset="0.8363" stop-color="#383494"/><stop offset="0.8894" stop-color="#382685"/><stop offset="0.9362" stop-color="#382078"/><stop offset="1" stop-color="#36207a"/></linearGradient>
<linearGradient id="g93" gradientUnits="userSpaceOnUse" x1="0" y1="0" x2="0" y2="1" gradientTransform="matrix(-3.8 1.5 8.38 643.51 239.27 154.00)"><stop offset="0" stop-color="#661020"/><stop offset="0.0135" stop-color="#6a1020"/><stop offset="0.1008" stop-color="#aa1024"/><stop offset="0.1672" stop-color="#cc1428"/><stop offset="0.2197" stop-color="#c73420"/><stop offset="0.2589" stop-color="#c05c20"/><stop offset="0.3172" stop-color="#c09220"/><stop offset="0.3365" stop-color="#c0a722"/><stop offset="0.3557" stop-color="#c0b927"/><stop offset="0.3877" stop-color="#b1c730"/><stop offset="0.4321" stop-color="#90c643"/><stop offset="0.47" stop-color="#71c04f"/><stop offset="0.5264" stop-color="#5ab85e"/><stop offset="0.5884" stop-color="#40b07a"/><stop offset="0.6437" stop-color="#38a7a4"/><stop offset="0.6742" stop-color="#38a1b6"/><stop offset="0.6863" stop-color="#3895bb"/><stop offset="0.7045" stop-color="#3880c0"/><stop offset="0.7287" stop-color="#3864b2"/><stop offset="0.7648" stop-color="#3849a1"/><stop offset="0.8363" stop-color="#383494"/><stop offset="0.8894" stop-color="#382685"/><stop offset="0.9362" stop-color="#382078"/><stop offset="1" stop-color="#36207a"/></linearGradient>
<linearGradient id="g94" gradientUnits="userSpaceOnUse" x1="0" y1="0" x2="0" y2="1" gradientTransform="matrix(-3.8 1.5 8.69 643.72 235.28 155.35)"><stop offset="0" stop-color="#661020"/><stop offset="0.0135" stop-color="#6a1020"/><stop offset="0.1008" stop-color="#aa1024"/><stop offset="0.1672" stop-color="#cc1428"/><stop offset="0.2198" stop-color="#c73420"/><stop offset="0.2589" stop-color="#c05c20"/><stop offset="0.3365" stop-color="#c0a221"/><stop offset="0.3621" stop-color="#c0bb28"/><stop offset="0.3941" stop-color="#b0c830"/><stop offset="0.4385" stop-color="#8ec644"/><stop offset="0.4763" stop-color="#6fc051"/><stop offset="0.5264" stop-color="#5ab85e"/><stop offset="0.5822" stop-color="#40b078"/><stop offset="0.6376" stop-color="#38a7a3"/><stop offset="0.6681" stop-color="#38a1b6"/><stop offset="0.6742" stop-color="#389db9"/><stop offset="0.6985" stop-color="#3881c0"/><stop offset="0.7408" stop-color="#385bac"/><stop offset="0.7708" stop-color="#38479f"/><stop offset="0.8363" stop-color="#383494"/><stop offset="0.8894" stop-color="#382685"/><stop offset="0.9362" stop-color="#382078"/><stop offset="1" stop-color="#36207a"/></linearGradient>
<linearGradient id="g95" gradientUnits="userSpaceOnUse" x1="0" y1="0" x2="0" y2="1" gradientTransform="matrix(-3.8 1.5 9.00 643.93 231.28 156.70)"><stop offset="0" stop-color="#661020"/><stop offset="0.0135" stop-color="#6a1020"/><stop offset="0.1008" stop-color="#aa1024"/><stop offset="0.1672" stop-color="#cc1428"/><stop offset="0.2198" stop-color="#c73420"/><stop offset="0.2589" stop-color="#c05c20"/><stop offset="0.3365" stop-color="#c0a221"/><stop offset="0.3686" stop-color="#bfbd28"/><stop offset="0.4004" stop-color="#aec831"/><stop offset="0.4385" stop-color="#90c643"/><stop offset="0.4763" stop-color="#70c050"/><stop offset="0.5264" stop-color="#5ab75e"/><stop offset="0.5822" stop-color="#40b079"/><stop offset="0.6314" stop-color="#38a7a2"/><stop offset="0.6681" stop-color="#389fb8"/><stop offset="0.6985" stop-color="#3881c0"/><stop offset="0.7408" stop-color="#385bac"/><stop offset="0.7708" stop-color="#38479f"/><stop offset="0.8363" stop-color="#383494"/><stop offset="0.8894" stop-color="#382685"/><stop offset="0.9362" stop-color="#382078"/><stop offset="1" stop-color="#36207a"/></linearGradient>
<linearGradient id="g96" gradientUnits="userSpaceOnUse" x1="0" y1="0" x2="0" y2="1" gradientTransform="matrix(-3.8 1.5 9.32 644.14 227.28 158.05)"><stop offset="0" stop-color="#661020"/><stop offset="0.0135" stop-color="#6a1020"/><stop offset="0.1008" stop-color="#aa1024"/><stop offset="0.1672" stop-color="#cc1428"/><stop offset="0.2198" stop-color="#c73420"/><stop offset="0.2589" stop-color="#c05c20"/><stop offset="0.3365" stop-color="#c0a221"/><stop offset="0.3686" stop-color="#c0bc28"/><stop offset="0.4004" stop-color="#b0c830"/><stop offset="0.4385" stop-color="#93c742"/><stop offset="0.4763" stop-color="#71c050"/><stop offset="0.5264" stop-color="#5ab75e"/><stop offset="0.5822" stop-color="#3faf7b"/><stop offset="0.6315" stop-color="#38a7a4"/><stop offset="0.6681" stop-color="#389eb8"/><stop offset="0.6985" stop-color="#3881c0"/><stop offset="0.7408" stop-color="#385bac"/><stop offset="0.7708" stop-color="#38479f"/><stop offset="0.8363" stop-color="#383494"/><stop offset="0.8894" stop-color="#382685"/><stop offset="0.9362" stop-color="#382078"/><stop offset="1" stop-color="#36207a"/></linearGradient>
<linearGradient id="g97" gradientUnits="userSpaceOnUse" x1="0" y1="0" x2="0" y2="1" gradientTransform="matrix(-3.8 1.5 9.63 644.35 223.28 159.40)"><stop offset="0" stop-color="#661020"/><stop offset="0.0135" stop-color="#6a1020"/><stop offset="0.1008" stop-color="#aa1024"/><stop offset="0.1672" stop-color="#cc1428"/><stop offset="0.2198" stop-color="#c73420"/><stop offset="0.2589" stop-color="#c05c20"/><stop offset="0.3365" stop-color="#c0a221"/><stop offset="0.3686" stop-color="#c0bc28"/><stop offset="0.4005" stop-color="#b0c830"/><stop offset="0.4448" stop-color="#8fc644"/><stop offset="0.4763" stop-color="#72c04f"/><stop offset="0.5264" stop-color="#5ab75e"/><stop offset="0.5761" stop-color="#40b078"/><stop offset="0.6253" stop-color="#38a8a1"/><stop offset="0.6681" stop-color="#389eb8"/><stop offset="0.6985" stop-color="#3881c0"/><stop offset="0.7408" stop-color="#385bac"/><stop offset="0.7708" stop-color="#38479f"/><stop offset="0.8363" stop-color="#383494"/><stop offset="0.8894" stop-color="#382685"/><stop offset="0.9362" stop-color="#382078"/><stop offset="1" stop-color="#36207a"/></linearGradient>
<linearGradient id="g98" gradientUnits="userSpaceOnUse" x1="0" y1="0" x2="0" y2="1" gradientTransform="matrix(-3.8 1.5 9.95 644.56 219.27 160.75)"><stop offset="0" stop-color="#661020"/><stop offset="0.0135" stop-color="#6a1020"/><stop offset="0.1008" stop-color="#aa1024"/><stop offset="0.1672" stop-color="#cc1428"/><stop offset="0.2198" stop-color="#c73420"/><stop offset="0.2589" stop-color="#c05c20"/><stop offset="0.3365" stop-color="#c0a221"/><stop offset="0.3686" stop-color="#c0bc28"/><stop offset="0.4005" stop-color="#b0c830"/><stop offset="0.4448" stop-color="#8fc644"/><stop offset="0.4826" stop-color="#6ebf51"/><stop offset="0.5264" stop-color="#5ab75e"/><stop offset="0.5761" stop-color="#40b078"/><stop offset="0.6253" stop-color="#38a8a1"/><stop offset="0.6681" stop-color="#389eb8"/><stop offset="0.6985" stop-color="#3881c0"/><stop offset="0.7408" stop-color="#385bac"/><stop offset="0.7708" stop-color="#38479f"/><stop offset="0.8364" stop-color="#383494"/><stop offset="0.8894" stop-color="#382685"/><stop offset="0.9362" stop-color="#382078"/><stop offset="1" stop-color="#36207a"/></linearGradient>
<linearGradient id="g99" gradientUnits="userSpaceOnUse" x1="0" y1="0" x2="0" y2="1" gradientTransform="matrix(-3.8 1.5 10.26 644.77 215.26 162.11)"><stop offset="0" stop-color="#661020"/><stop offset="0.0135" stop-color="#6a1020"/><stop offset="0.1008" stop-color="#aa1024"/><stop offset="0.1672" stop-color="#cc1428"/><stop offset="0.2198" stop-color="#c73420"/><stop offset="0.2589" stop-color="#c05c20"/><stop offset="0.3365" stop-color="#c0a221"/><stop offset="0.3686" stop-color="#c0bc28"/><stop offset="0.4005" stop-color="#b0c830"/><stop offset="0.4448" stop-color="#8fc644"/><stop offset="0.4826" stop-color="#6ebf51"/><stop offset="0.5264" stop-color="#5ab75e"/><stop offset="0.5761" stop-color="#40b078"/><stop offset="0.6254" stop-color="#38a8a1"/><stop offset="0.6681" stop-color="#389eb8"/><stop offset="0.6985" stop-color="#3881c0"/><stop offset="0.7408" stop-color="#385bac"/><stop offset="0.7708" stop-color="#38479f"/><stop offset="0.8364" stop-color="#383494"/><stop offset="0.8894" stop-color="#382685"/><stop offset="0.9362" stop-color="#382078"/><stop offset="1" stop-color="#36207a"/></linearGradient>
<linearGradient id="g100" gradientUnits="userSpaceOnUse" x1="0" y1="0" x2="0" y2="1" gradientTransform="matrix(-3.9 1.5 10.58 644.98 211.25 163.46)"><stop offset="0" stop-color="#661020"/><stop offset="0.0135" stop-color="#6a1020"/><stop offset="0.1008" stop-color="#aa1024"/><stop offset="0.1672" stop-color="#cc1428"/><stop offset="0.2198" stop-color="#c73420"/><stop offset="0.259" stop-color="#c05c20"/><stop offset="0.3365" stop-color="#c0a221"/><stop offset="0.3686" stop-color="#c0bc28"/><stop offset="0.4005" stop-color="#b0c830"/><stop offset="0.4449" stop-color="#8fc644"/><stop offset="0.4826" stop-color="#6ebf51"/><stop offset="0.5264" stop-color="#5ab75e"/><stop offset="0.5761" stop-color="#40b078"/><stop offset="0.6254" stop-color="#38a8a1"/><stop offset="0.6682" stop-color="#389eb8"/><stop offset="0.6985" stop-color="#3881c0"/><stop offset="0.7408" stop-color="#385bac"/><stop offset="0.7708" stop-color="#38479f"/><stop offset="0.8364" stop-color="#383494"/><stop offset="0.8894" stop-color="#382685"/><stop offset="0.9362" stop-color="#382078"/><stop offset="1" stop-color="#36207a"/></linearGradient>
<linearGradient id="g101" gradientUnits="userSpaceOnUse" x1="0" y1="0" x2="0" y2="1" gradientTransform="matrix(-3.9 1.5 10.90 645.19 207.23 164.82)"><stop offset="0" stop-color="#661020"/><stop offset="0.0135" stop-color="#6a1020"/><stop offset="0.1008" stop-color="#aa1024"/><stop offset="0.1672" stop-color="#cc1428"/><stop offset="0.2198" stop-color="#c73420"/><stop offset="0.259" stop-color="#c05c20"/><stop offset="0.3366" stop-color="#c0a221"/><stop offset="0.3686" stop-color="#c0bc28"/><stop offset="0.4005" stop-color="#b0c830"/><stop offset="0.4449" stop-color="#8fc644"/><stop offset="0.4826" stop-color="#6ebf51"/><stop offset="0.5264" stop-color="#5ab75e"/><stop offset="0.5761" stop-color="#40b078"/><stop offset="0.6254" stop-color="#38a8a1"/><stop offset="0.6682" stop-color="#389eb8"/><stop offset="0.6985" stop-color="#3881c0"/><stop offset="0.7408" stop-color="#385bac"/><stop offset="0.7708" stop-color="#38479f"/><stop offset="0.8364" stop-color="#383494"/><stop offset="0.8895" stop-color="#382685"/><stop offset="0.9362" stop-color="#382078"/><stop offset="1" stop-color="#36207a"/></linearGradient>
<linearGradient id="g102" gradientUnits="userSpaceOnUse" x1="0" y1="0" x2="0" y2="1" gradientTransform="matrix(-3.9 1.5 11.22 645.40 203.20 166.18)"><stop offset="0" stop-color="#661020"/><stop offset="0.0135" stop-color="#6a1020"/><stop offset="0.1009" stop-color="#aa1024"/><stop offset="0.1672" stop-color="#cc1428"/><stop offset="0.2198" stop-color="#c73420"/><stop offset="0.259" stop-color="#c05c20"/><stop offset="0.3366" stop-color="#c0a221"/><stop offset="0.3686" stop-color="#c0bc28"/><stop offset="0.4005" stop-color="#b0c830"/><stop offset="0.4449" stop-color="#8fc644"/><stop offset="0.4827" stop-color="#6ebf51"/><stop offset="0.5264" stop-color="#5ab75e"/><stop offset="0.5761" stop-color="#40b078"/><stop offset="0.6254" stop-color="#38a8a1"/><stop offset="0.6682" stop-color="#389eb8"/><stop offset="0.6986" stop-color="#3881c0"/><stop offset="0.7408" stop-color="#385bac"/><stop offset="0.7709" stop-color="#38479f"/><stop offset="0.8364" stop-color="#383494"/><stop offset="0.8895" stop-color="#382685"/><stop offset="0.9363" stop-color="#382078"/><stop offset="1" stop-color="#36207a"/></linearGradient>
<linearGradient id="g103" gradientUnits="userSpaceOnUse" x1="0" y1="0" x2="0" y2="1" gradientTransform="matrix(-3.9 1.5 11.54 645.61 199.17 167.54)"><stop offset="0" stop-color="#661020"/><stop offset="0.0135" stop-color="#6a1020"/><stop offset="0.1009" stop-color="#aa1024"/><stop offset="0.1672" stop-color="#cc1428"/><stop offset="0.2198" stop-color="#c73420"/><stop offset="0.259" stop-color="#c05c20"/><stop offset="0.3366" stop-color="#c0a221"/><stop offset="0.3686" stop-color="#c0bc28"/><stop offset="0.4005" stop-color="#b0c830"/><stop offset="0.4449" stop-color="#8fc644"/><stop offset="0.4827" stop-color="#6ebf51"/><stop offset="0.5265" stop-color="#5ab75e"/><stop offset="0.5761" stop-color="#40b078"/><stop offset="0.6254" stop-color="#38a8a1"/><stop offset="0.6682" stop-color="#389eb8"/><stop offset="0.6986" stop-color="#3881c0"/><stop offset="0.7408" stop-color="#385bac"/><stop offset="0.7709" stop-color="#38479f"/><stop offset="0.8364" stop-color="#383494"/><stop offset="0.8895" stop-color="#382685"/><stop offset="0.9363" stop-color="#382078"/><stop offset="1" stop-color="#36207a"/></linearGradient>
<linearGradient id="g104" gradientUnits="userSpaceOnUse" x1="0" y1="0" x2="0" y2="1" gradientTransform="matrix(-3.9 1.5 11.85 645.82 195.14 168.90)"><stop offset="0" stop-color="#661020"/><stop offset="0.0135" stop-color="#6a1020"/><stop offset="0.1009" stop-color="#aa1024"/><stop offset="0.1672" stop-color="#cc1428"/><stop offset="0.2198" stop-color="#c73420"/><stop offset="0.259" stop-color="#c05c20"/><stop offset="0.3366" stop-color="#c0a221"/><stop offset="0.3686" stop-color="#c0bc28"/><stop offset="0.4005" stop-color="#b0c830"/><stop offset="0.4449" stop-color="#8fc644"/><stop offset="0.4827" stop-color="#6ebf51"/><stop offset="0.5265" stop-color="#5ab75e"/><stop offset="0.5761" stop-color="#40b078"/><stop offset="0.6254" stop-color="#38a8a1"/><stop offset="0.6682" stop-color="#389eb8"/><stop offset="0.6986" stop-color="#3881c0"/><stop offset="0.7408" stop-color="#385bac"/><stop offset="0.7709" stop-color="#38479f"/><stop offset="0.8364" stop-color="#383494"/><stop offset="0.8895" stop-color="#382685"/><stop offset="0.9363" stop-color="#382078"/><stop offset="1" stop-color="#36207a"/></linearGradient>
<linearGradient id="g105" gradientUnits="userSpaceOnUse" x1="0" y1="0" x2="0" y2="1" gradientTransform="matrix(-3.9 1.5 12.17 646.03 191.11 170.26)"><stop offset="0" stop-color="#661020"/><stop offset="0.0135" stop-color="#6a1020"/><stop offset="0.1009" stop-color="#aa1024"/><stop offset="0.1672" stop-color="#cc1428"/><stop offset="0.2198" stop-color="#c73420"/><stop offset="0.259" stop-color="#c05c20"/><stop offset="0.3366" stop-color="#c0a221"/><stop offset="0.3686" stop-color="#c0bc28"/><stop offset="0.4005" stop-color="#b0c830"/><stop offset="0.4449" stop-color="#8fc644"/><stop offset="0.4827" stop-color="#6ebf51"/><stop offset="0.5265" stop-color="#5ab75e"/><stop offset="0.5761" stop-color="#40b078"/><stop offset="0.6254" stop-color="#38a8a1"/><stop offset="0.6682" stop-color="#389eb8"/><stop offset="0.6986" stop-color="#3881c0"/><stop offset="0.7409" stop-color="#385bac"/><stop offset="0.7709" stop-color="#38479f"/><stop offset="0.8364" stop-color="#383494"/><stop offset="0.8895" stop-color="#382685"/><stop offset="0.9363" stop-color="#382078"/><stop offset="1" stop-color="#36207a"/></linearGradient>
<clipPath id="cf"><path d="M345.4 115.5L461.4 186.3Q466.5 189.4 466.5 195.4L458.2 839.3L345.4 756.3Z"/></clipPath>
<linearGradient id="g106" gradientUnits="userSpaceOnUse" x1="0" y1="0" x2="0" y2="1" gradientTransform="matrix(3.7 2.5 -0.13 637.98 349.31 118.67)"><stop offset="0" stop-color="#8a1020"/><stop offset="0.0405" stop-color="#b50e25"/><stop offset="0.0539" stop-color="#c20c26"/><stop offset="0.0874" stop-color="#d50828"/><stop offset="0.114" stop-color="#db0528"/><stop offset="0.1207" stop-color="#de0428"/><stop offset="0.1406" stop-color="#e00c28"/><stop offset="0.1604" stop-color="#e03420"/><stop offset="0.1802" stop-color="#e96f17"/><stop offset="0.1933" stop-color="#ef9011"/><stop offset="0.213" stop-color="#f0bf12"/><stop offset="0.2261" stop-color="#f0dc1e"/><stop offset="0.2392" stop-color="#ebeb2b"/><stop offset="0.2457" stop-color="#e6f031"/><stop offset="0.2652" stop-color="#c2e54e"/><stop offset="0.2782" stop-color="#abd965"/><stop offset="0.2911" stop-color="#a3d66d"/><stop offset="0.3169" stop-color="#98d078"/><stop offset="0.7164" stop-color="#98d078"/><stop offset="0.7526" stop-color="#80c8b2"/><stop offset="0.7826" stop-color="#77c7d2"/><stop offset="0.8065" stop-color="#6ebfe9"/><stop offset="0.8243" stop-color="#58aff0"/><stop offset="0.8362" stop-color="#5091e1"/><stop offset="0.848" stop-color="#506cc3"/><stop offset="0.8599" stop-color="#4a57b4"/><stop offset="0.8658" stop-color="#484faf"/><stop offset="0.8893" stop-color="#473da7"/><stop offset="0.9069" stop-color="#4131a1"/><stop offset="1" stop-color="#3b2994"/></linearGradient>
<linearGradient id="g107" gradientUnits="userSpaceOnUse" x1="0" y1="0" x2="0" y2="1" gradientTransform="matrix(3.7 2.5 -0.43 638.35 353.17 121.00)"><stop offset="0" stop-color="#8a1020"/><stop offset="0.0405" stop-color="#b50e25"/><stop offset="0.0539" stop-color="#c20c26"/><stop offset="0.0874" stop-color="#d50828"/><stop offset="0.114" stop-color="#db0528"/><stop offset="0.1207" stop-color="#de0428"/><stop offset="0.1406" stop-color="#e00b28"/><stop offset="0.1538" stop-color="#e02523"/><stop offset="0.1604" stop-color="#e03320"/><stop offset="0.1802" stop-color="#e86d18"/><stop offset="0.1999" stop-color="#f09e10"/><stop offset="0.213" stop-color="#f0be11"/><stop offset="0.2261" stop-color="#f0da1e"/><stop offset="0.2326" stop-color="#eee424"/><stop offset="0.2457" stop-color="#e8f030"/><stop offset="0.2652" stop-color="#c4e64c"/><stop offset="0.2782" stop-color="#adda63"/><stop offset="0.2847" stop-color="#a6d76a"/><stop offset="0.317" stop-color="#99d077"/><stop offset="0.7104" stop-color="#98d078"/><stop offset="0.7164" stop-color="#97d07a"/><stop offset="0.7526" stop-color="#7fc8b3"/><stop offset="0.7826" stop-color="#77c7d3"/><stop offset="0.8065" stop-color="#6ebee9"/><stop offset="0.8243" stop-color="#57aeef"/><stop offset="0.8362" stop-color="#5090e0"/><stop offset="0.848" stop-color="#506ac2"/><stop offset="0.8599" stop-color="#4a56b4"/><stop offset="0.8658" stop-color="#484eaf"/><stop offset="0.8893" stop-color="#473da7"/><stop offset="0.9069" stop-color="#4131a1"/><stop offset="1" stop-color="#3b2994"/></linearGradient>
<linearGradient id="g108" gradientUnits="userSpaceOnUse" x1="0" y1="0" x2="0" y2="1" gradientTransform="matrix(3.7 2.5 -0.73 638.72 357.05 123.34)"><stop offset="0" stop-color="#8a1020"/><stop offset="0.0405" stop-color="#b50e25"/><stop offset="0.0539" stop-color="#c20c26"/><stop offset="0.0874" stop-color="#d50828"/><stop offset="0.1207" stop-color="#de0428"/><stop offset="0.1406" stop-color="#e00b28"/><stop offset="0.1472" stop-color="#e01526"/><stop offset="0.1604" stop-color="#e03121"/><stop offset="0.1802" stop-color="#e86a18"/><stop offset="0.1999" stop-color="#f09b10"/><stop offset="0.213" stop-color="#f0bb10"/><stop offset="0.2261" stop-color="#f0d71c"/><stop offset="0.2327" stop-color="#efe222"/><stop offset="0.2457" stop-color="#e9ef2f"/><stop offset="0.2652" stop-color="#c7e849"/><stop offset="0.2782" stop-color="#b0dc60"/><stop offset="0.2847" stop-color="#a7d869"/><stop offset="0.3234" stop-color="#98d078"/><stop offset="0.7104" stop-color="#98d078"/><stop offset="0.7225" stop-color="#92ce87"/><stop offset="0.7466" stop-color="#81c8ae"/><stop offset="0.7826" stop-color="#77c7d4"/><stop offset="0.8005" stop-color="#71c1e5"/><stop offset="0.8124" stop-color="#64b8ec"/><stop offset="0.8184" stop-color="#5db3ee"/><stop offset="0.8243" stop-color="#57abed"/><stop offset="0.8362" stop-color="#508cdd"/><stop offset="0.848" stop-color="#5067c0"/><stop offset="0.8599" stop-color="#4954b3"/><stop offset="0.8717" stop-color="#4849ad"/><stop offset="0.8893" stop-color="#463da6"/><stop offset="0.9069" stop-color="#4131a1"/><stop offset="1" stop-color="#3b2994"/></linearGradient>
<linearGradient id="g109" gradientUnits="userSpaceOnUse" x1="0" y1="0" x2="0" y2="1" gradientTransform="matrix(3.7 2.5 -1.02 639.09 360.93 125.68)"><stop offset="0" stop-color="#8a1020"/><stop offset="0.0405" stop-color="#b50e25"/><stop offset="0.0539" stop-color="#c20c26"/><stop offset="0.0874" stop-color="#d50828"/><stop offset="0.1207" stop-color="#dd0428"/><stop offset="0.1406" stop-color="#e00b28"/><stop offset="0.1472" stop-color="#e01227"/><stop offset="0.1604" stop-color="#e02d21"/><stop offset="0.1736" stop-color="#e4521c"/><stop offset="0.1868" stop-color="#ea7716"/><stop offset="0.1999" stop-color="#f09710"/><stop offset="0.2131" stop-color="#f0b610"/><stop offset="0.2261" stop-color="#f0d31a"/><stop offset="0.2327" stop-color="#f0e020"/><stop offset="0.2457" stop-color="#eaec2c"/><stop offset="0.2522" stop-color="#e3ef33"/><stop offset="0.2717" stop-color="#c1e44f"/><stop offset="0.2847" stop-color="#abd965"/><stop offset="0.3041" stop-color="#a1d56f"/><stop offset="0.3299" stop-color="#98d078"/><stop offset="0.7044" stop-color="#98d078"/><stop offset="0.7104" stop-color="#97d07b"/><stop offset="0.7466" stop-color="#80c8b2"/><stop offset="0.7826" stop-color="#76c6d6"/><stop offset="0.8005" stop-color="#70c0e7"/><stop offset="0.8184" stop-color="#5bb2ef"/><stop offset="0.8243" stop-color="#56a6eb"/><stop offset="0.8303" stop-color="#5298e4"/><stop offset="0.8362" stop-color="#5087d9"/><stop offset="0.8481" stop-color="#4f65be"/><stop offset="0.8599" stop-color="#4952b1"/><stop offset="0.8893" stop-color="#463ca6"/><stop offset="0.9069" stop-color="#4131a1"/><stop offset="1" stop-color="#3b2994"/></linearGradient>
<linearGradient id="g110" gradientUnits="userSpaceOnUse" x1="0" y1="0" x2="0" y2="1" gradientTransform="matrix(3.7 2.6 -1.32 639.46 364.83 128.03)"><stop offset="0" stop-color="#8a1020"/><stop offset="0.0405" stop-color="#b50e25"/><stop offset="0.0539" stop-color="#c20c26"/><stop offset="0.0874" stop-color="#d50828"/><stop offset="0.1274" stop-color="#de0528"/><stop offset="0.1472" stop-color="#e00e28"/><stop offset="0.1671" stop-color="#e1381f"/><stop offset="0.1868" stop-color="#e97117"/><stop offset="0.2" stop-color="#ef9111"/><stop offset="0.2196" stop-color="#f0bf11"/><stop offset="0.2327" stop-color="#f0da1d"/><stop offset="0.2392" stop-color="#eee323"/><stop offset="0.2522" stop-color="#e8ef2f"/><stop offset="0.2717" stop-color="#c7e849"/><stop offset="0.2912" stop-color="#a8d868"/><stop offset="0.3363" stop-color="#98d078"/><stop offset="0.6983" stop-color="#98d078"/><stop offset="0.7044" stop-color="#97d07b"/><stop offset="0.7346" stop-color="#84c9a6"/><stop offset="0.7406" stop-color="#80c8b0"/><stop offset="0.7766" stop-color="#77c7d4"/><stop offset="0.8005" stop-color="#6ebee9"/><stop offset="0.8184" stop-color="#58aff0"/><stop offset="0.8303" stop-color="#5192e1"/><stop offset="0.8421" stop-color="#506ec5"/><stop offset="0.854" stop-color="#4b58b6"/><stop offset="0.8599" stop-color="#484fb0"/><stop offset="0.8835" stop-color="#473fa7"/><stop offset="0.9011" stop-color="#4133a1"/><stop offset="0.9362" stop-color="#3e2e9c"/><stop offset="1" stop-color="#3b2994"/></linearGradient>
<linearGradient id="g111" gradientUnits="userSpaceOnUse" x1="0" y1="0" x2="0" y2="1" gradientTransform="matrix(3.7 2.6 -1.62 639.83 368.72 130.38)"><stop offset="0" stop-color="#8a1020"/><stop offset="0.0405" stop-color="#b50e25"/><stop offset="0.0539" stop-color="#c20c26"/><stop offset="0.0874" stop-color="#d50828"/><stop offset="0.1274" stop-color="#de0428"/><stop offset="0.1472" stop-color="#e00b28"/><stop offset="0.1605" stop-color="#e02423"/><stop offset="0.1671" stop-color="#e03220"/><stop offset="0.1868" stop-color="#e86a18"/><stop offset="0.2065" stop-color="#f09910"/><stop offset="0.2196" stop-color="#f0b710"/><stop offset="0.2392" stop-color="#f0e020"/><stop offset="0.2588" stop-color="#e5ef32"/><stop offset="0.2782" stop-color="#c5e64b"/><stop offset="0.2912" stop-color="#b0dc60"/><stop offset="0.2977" stop-color="#a7d869"/><stop offset="0.3427" stop-color="#98d078"/><stop offset="0.6923" stop-color="#98d078"/><stop offset="0.6983" stop-color="#96cf7c"/><stop offset="0.7286" stop-color="#85caa5"/><stop offset="0.7406" stop-color="#7fc8b4"/><stop offset="0.7707" stop-color="#77c7d2"/><stop offset="0.7946" stop-color="#70c0e7"/><stop offset="0.8125" stop-color="#5bb2ef"/><stop offset="0.8184" stop-color="#56a8ec"/><stop offset="0.8303" stop-color="#508adc"/><stop offset="0.8422" stop-color="#5067bf"/><stop offset="0.854" stop-color="#4954b3"/><stop offset="0.8658" stop-color="#484aad"/><stop offset="0.8835" stop-color="#473da7"/><stop offset="0.9011" stop-color="#4133a1"/><stop offset="0.9362" stop-color="#3e2e9c"/><stop offset="1" stop-color="#3b2994"/></linearGradient>
<linearGradient id="g112" gradientUnits="userSpaceOnUse" x1="0" y1="0" x2="0" y2="1" gradientTransform="matrix(3.8 2.6 -1.92 640.20 372.63 132.74)"><stop offset="0" stop-color="#8a1020"/><stop offset="0.0405" stop-color="#b50e25"/><stop offset="0.0539" stop-color="#c20c26"/><stop offset="0.0874" stop-color="#d50828"/><stop offset="0.1274" stop-color="#dd0428"/><stop offset="0.1472" stop-color="#e00b28"/><stop offset="0.1539" stop-color="#e01127"/><stop offset="0.1737" stop-color="#e13b1f"/><stop offset="0.1934" stop-color="#e97217"/><stop offset="0.2065" stop-color="#ef9111"/><stop offset="0.2262" stop-color="#f0bd11"/><stop offset="0.2392" stop-color="#f0d71c"/><stop offset="0.2458" stop-color="#efe222"/><stop offset="0.2588" stop-color="#e9ed2d"/><stop offset="0.2653" stop-color="#e3ef34"/><stop offset="0.2847" stop-color="#c3e64d"/><stop offset="0.3041" stop-color="#a7d869"/><stop offset="0.3492" stop-color="#98d078"/><stop offset="0.6862" stop-color="#98d079"/><stop offset="0.7165" stop-color="#88cb9d"/><stop offset="0.7286" stop-color="#81c8ae"/><stop offset="0.7707" stop-color="#76c6d6"/><stop offset="0.7886" stop-color="#71c1e6"/><stop offset="0.8006" stop-color="#65b9ec"/><stop offset="0.8125" stop-color="#57aeef"/><stop offset="0.8244" stop-color="#5092e1"/><stop offset="0.8362" stop-color="#506fc6"/><stop offset="0.8422" stop-color="#4e62bc"/><stop offset="0.854" stop-color="#4850b0"/><stop offset="0.8835" stop-color="#463ca6"/><stop offset="0.9011" stop-color="#4133a1"/><stop offset="0.9362" stop-color="#3e2e9c"/><stop offset="1" stop-color="#3b2994"/></linearGradient>
<linearGradient id="g113" gradientUnits="userSpaceOnUse" x1="0" y1="0" x2="0" y2="1" gradientTransform="matrix(3.8 2.6 -2.23 640.57 376.54 135.10)"><stop offset="0" stop-color="#8a1020"/><stop offset="0.0405" stop-color="#b50e25"/><stop offset="0.0539" stop-color="#c20c26"/><stop offset="0.0874" stop-color="#d50828"/><stop offset="0.134" stop-color="#de0528"/><stop offset="0.1539" stop-color="#e00c28"/><stop offset="0.1737" stop-color="#e03220"/><stop offset="0.1934" stop-color="#e86918"/><stop offset="0.2131" stop-color="#f09610"/><stop offset="0.2327" stop-color="#f0c112"/><stop offset="0.2458" stop-color="#f0da1d"/><stop offset="0.2523" stop-color="#efe323"/><stop offset="0.2653" stop-color="#e9ee2e"/><stop offset="0.2718" stop-color="#e2ef34"/><stop offset="0.2912" stop-color="#c4e64c"/><stop offset="0.3106" stop-color="#a8d868"/><stop offset="0.362" stop-color="#98d078"/><stop offset="0.6741" stop-color="#98d078"/><stop offset="0.7044" stop-color="#8acb98"/><stop offset="0.7226" stop-color="#80c8b0"/><stop offset="0.7647" stop-color="#76c6d5"/><stop offset="0.7886" stop-color="#6ebee9"/><stop offset="0.8065" stop-color="#59b1f0"/><stop offset="0.8184" stop-color="#5297e3"/><stop offset="0.8244" stop-color="#5087d9"/><stop offset="0.8362" stop-color="#4f66bf"/><stop offset="0.8481" stop-color="#4954b3"/><stop offset="0.8658" stop-color="#4846ab"/><stop offset="0.8894" stop-color="#4336a3"/><stop offset="0.9187" stop-color="#3f2f9f"/><stop offset="1" stop-color="#3b2994"/></linearGradient>
<linearGradient id="g114" gradientUnits="userSpaceOnUse" x1="0" y1="0" x2="0" y2="1" gradientTransform="matrix(3.8 2.6 -2.53 640.94 380.46 137.46)"><stop offset="0" stop-color="#8a1020"/><stop offset="0.0405" stop-color="#b50e25"/><stop offset="0.0539" stop-color="#c20c26"/><stop offset="0.0874" stop-color="#d50828"/><stop offset="0.134" stop-color="#de0428"/><stop offset="0.1539" stop-color="#e00b28"/><stop offset="0.1605" stop-color="#e01127"/><stop offset="0.1803" stop-color="#e1391f"/><stop offset="0.2" stop-color="#e86e18"/><stop offset="0.2197" stop-color="#f09a10"/><stop offset="0.2327" stop-color="#f0b610"/><stop offset="0.2458" stop-color="#f0cf19"/><stop offset="0.2523" stop-color="#f0dc1e"/><stop offset="0.2653" stop-color="#ece929"/><stop offset="0.2718" stop-color="#e9ee2e"/><stop offset="0.2783" stop-color="#e2ef34"/><stop offset="0.3042" stop-color="#bde253"/><stop offset="0.3171" stop-color="#abda65"/><stop offset="0.3299" stop-color="#a5d66b"/><stop offset="0.3812" stop-color="#98d078"/><stop offset="0.6558" stop-color="#98d078"/><stop offset="0.668" stop-color="#95cf7f"/><stop offset="0.6984" stop-color="#88cb9d"/><stop offset="0.7165" stop-color="#7fc8b2"/><stop offset="0.7587" stop-color="#76c6d5"/><stop offset="0.7827" stop-color="#6ebfe9"/><stop offset="0.8006" stop-color="#5bb2ef"/><stop offset="0.8065" stop-color="#56a8ec"/><stop offset="0.8184" stop-color="#508cdd"/><stop offset="0.8303" stop-color="#506ac2"/><stop offset="0.8481" stop-color="#484fb0"/><stop offset="0.8776" stop-color="#463ca6"/><stop offset="0.907" stop-color="#4131a1"/><stop offset="1" stop-color="#3b2994"/></linearGradient>
<linearGradient id="g115" gradientUnits="userSpaceOnUse" x1="0" y1="0" x2="0" y2="1" gradientTransform="matrix(3.8 2.6 -2.83 641.31 384.39 139.83)"><stop offset="0" stop-color="#8a1020"/><stop offset="0.0405" stop-color="#b50e25"/><stop offset="0.0539" stop-color="#c20c26"/><stop offset="0.0874" stop-color="#d50828"/><stop offset="0.1407" stop-color="#de0528"/><stop offset="0.1605" stop-color="#e00c28"/><stop offset="0.1803" stop-color="#e02f21"/><stop offset="0.2066" stop-color="#e97217"/><stop offset="0.2262" stop-color="#f09d10"/><stop offset="0.2393" stop-color="#f0b810"/><stop offset="0.2588" stop-color="#f0dc1e"/><stop offset="0.2718" stop-color="#ece828"/><stop offset="0.2783" stop-color="#e9ed2d"/><stop offset="0.2848" stop-color="#e4ef33"/><stop offset="0.3106" stop-color="#c0e450"/><stop offset="0.33" stop-color="#a8d868"/><stop offset="0.4003" stop-color="#98d078"/><stop offset="0.6375" stop-color="#98d078"/><stop offset="0.6497" stop-color="#96cf7d"/><stop offset="0.6802" stop-color="#8bcc96"/><stop offset="0.7044" stop-color="#80c8b0"/><stop offset="0.7467" stop-color="#77c7d2"/><stop offset="0.7767" stop-color="#6fbfe8"/><stop offset="0.7946" stop-color="#5bb2ef"/><stop offset="0.8006" stop-color="#56aaed"/><stop offset="0.8125" stop-color="#508fdf"/><stop offset="0.8244" stop-color="#506ec5"/><stop offset="0.8363" stop-color="#4b5ab7"/><stop offset="0.8422" stop-color="#4851b1"/><stop offset="0.8717" stop-color="#473da7"/><stop offset="0.9128" stop-color="#4030a0"/><stop offset="1" stop-color="#3b2994"/></linearGradient>
<linearGradient id="g116" gradientUnits="userSpaceOnUse" x1="0" y1="0" x2="0" y2="1" gradientTransform="matrix(3.8 2.6 -3.14 641.68 388.32 142.20)"><stop offset="0" stop-color="#8a1020"/><stop offset="0.0405" stop-color="#b50e25"/><stop offset="0.0539" stop-color="#c20c26"/><stop offset="0.0874" stop-color="#d50828"/><stop offset="0.1407" stop-color="#de0528"/><stop offset="0.1605" stop-color="#e00a28"/><stop offset="0.1671" stop-color="#e00e28"/><stop offset="0.1869" stop-color="#e03320"/><stop offset="0.2066" stop-color="#e76619"/><stop offset="0.2262" stop-color="#ef9111"/><stop offset="0.2458" stop-color="#f0b810"/><stop offset="0.2653" stop-color="#f0db1e"/><stop offset="0.2783" stop-color="#ece727"/><stop offset="0.2913" stop-color="#e7f031"/><stop offset="0.3171" stop-color="#c4e64c"/><stop offset="0.3428" stop-color="#a8d868"/><stop offset="0.4194" stop-color="#98d078"/><stop offset="0.6191" stop-color="#98d079"/><stop offset="0.6497" stop-color="#91ce89"/><stop offset="0.6802" stop-color="#86caa2"/><stop offset="0.6984" stop-color="#7fc8b3"/><stop offset="0.7407" stop-color="#77c7d3"/><stop offset="0.7707" stop-color="#6ebfe9"/><stop offset="0.7887" stop-color="#5bb2ef"/><stop offset="0.7946" stop-color="#57aaed"/><stop offset="0.8066" stop-color="#5091e0"/><stop offset="0.8185" stop-color="#5071c7"/><stop offset="0.8244" stop-color="#4f64bd"/><stop offset="0.8363" stop-color="#4953b2"/><stop offset="0.8658" stop-color="#473ea7"/><stop offset="0.9128" stop-color="#4030a0"/><stop offset="1" stop-color="#3b2994"/></linearGradient>
<linearGradient id="g117" gradientUnits="userSpaceOnUse" x1="0" y1="0" x2="0" y2="1" gradientTransform="matrix(3.8 2.6 -3.45 642.05 392.26 144.58)"><stop offset="0" stop-color="#8a1020"/><stop offset="0.0405" stop-color="#b50e25"/><stop offset="0.054" stop-color="#c20c26"/><stop offset="0.0874" stop-color="#d50828"/><stop offset="0.1407" stop-color="#de0528"/><stop offset="0.1671" stop-color="#e00b28"/><stop offset="0.1737" stop-color="#e01227"/><stop offset="0.1935" stop-color="#e03720"/><stop offset="0.2131" stop-color="#e86918"/><stop offset="0.2328" stop-color="#f09210"/><stop offset="0.2523" stop-color="#f0b810"/><stop offset="0.2718" stop-color="#f0d91d"/><stop offset="0.2783" stop-color="#efe222"/><stop offset="0.2978" stop-color="#e8ef2f"/><stop offset="0.33" stop-color="#c2e54e"/><stop offset="0.3557" stop-color="#a8d868"/><stop offset="0.4384" stop-color="#9ad176"/><stop offset="0.5821" stop-color="#98d079"/><stop offset="0.6191" stop-color="#93ce84"/><stop offset="0.6558" stop-color="#8acb9a"/><stop offset="0.6863" stop-color="#7fc8b3"/><stop offset="0.7347" stop-color="#76c6d5"/><stop offset="0.7587" stop-color="#71c1e6"/><stop offset="0.7767" stop-color="#61b6ed"/><stop offset="0.7827" stop-color="#5bb2ef"/><stop offset="0.7887" stop-color="#56aaed"/><stop offset="0.8006" stop-color="#5091e1"/><stop offset="0.8185" stop-color="#4f65be"/><stop offset="0.8363" stop-color="#484eaf"/><stop offset="0.8658" stop-color="#473da7"/><stop offset="0.9187" stop-color="#3f2f9f"/><stop offset="1" stop-color="#3b2994"/></linearGradient>
<linearGradient id="g118" gradientUnits="userSpaceOnUse" x1="0" y1="0" x2="0" y2="1" gradientTransform="matrix(3.8 2.6 -3.75 642.42 396.21 146.96)"><stop offset="0" stop-color="#8a1020"/><stop offset="0.0405" stop-color="#b50e25"/><stop offset="0.054" stop-color="#c20c26"/><stop offset="0.0874" stop-color="#d50828"/><stop offset="0.1407" stop-color="#de0528"/><stop offset="0.1737" stop-color="#e00c28"/><stop offset="0.1935" stop-color="#e02d21"/><stop offset="0.2066" stop-color="#e34a1d"/><stop offset="0.2197" stop-color="#e86b18"/><stop offset="0.2393" stop-color="#f09210"/><stop offset="0.2589" stop-color="#f0b710"/><stop offset="0.2783" stop-color="#f0d71c"/><stop offset="0.2848" stop-color="#f0e020"/><stop offset="0.3042" stop-color="#e9ed2d"/><stop offset="0.3107" stop-color="#e5ef32"/><stop offset="0.3429" stop-color="#c0e450"/><stop offset="0.3685" stop-color="#a8d868"/><stop offset="0.4574" stop-color="#9bd175"/><stop offset="0.5574" stop-color="#97d07b"/><stop offset="0.6007" stop-color="#92ce86"/><stop offset="0.6375" stop-color="#8acb98"/><stop offset="0.6741" stop-color="#7fc8b3"/><stop offset="0.7226" stop-color="#77c7d3"/><stop offset="0.7527" stop-color="#70c0e7"/><stop offset="0.7767" stop-color="#5ab1ef"/><stop offset="0.7887" stop-color="#539de6"/><stop offset="0.7947" stop-color="#5091e0"/><stop offset="0.8125" stop-color="#4f66be"/><stop offset="0.8304" stop-color="#484faf"/><stop offset="0.86" stop-color="#473fa7"/><stop offset="0.9187" stop-color="#3f2f9f"/><stop offset="1" stop-color="#3b2994"/></linearGradient>
<linearGradient id="g119" gradientUnits="userSpaceOnUse" x1="0" y1="0" x2="0" y2="1" gradientTransform="matrix(3.8 2.6 -4.06 642.79 400.17 149.35)"><stop offset="0" stop-color="#8a1020"/><stop offset="0.0405" stop-color="#b50e25"/><stop offset="0.054" stop-color="#c20c26"/><stop offset="0.0875" stop-color="#d50828"/><stop offset="0.1407" stop-color="#de0528"/><stop offset="0.1803" stop-color="#e00d28"/><stop offset="0.2001" stop-color="#e02f21"/><stop offset="0.2263" stop-color="#e86c18"/><stop offset="0.2524" stop-color="#f09d10"/><stop offset="0.2719" stop-color="#f0c012"/><stop offset="0.2913" stop-color="#f0de1f"/><stop offset="0.3171" stop-color="#e8ef2f"/><stop offset="0.3493" stop-color="#c6e74a"/><stop offset="0.3813" stop-color="#a8d868"/><stop offset="0.4825" stop-color="#9bd175"/><stop offset="0.5326" stop-color="#97d07a"/><stop offset="0.5883" stop-color="#91ce89"/><stop offset="0.6314" stop-color="#87ca9f"/><stop offset="0.662" stop-color="#7fc8b4"/><stop offset="0.7166" stop-color="#76c6d5"/><stop offset="0.7468" stop-color="#6fc0e8"/><stop offset="0.7708" stop-color="#59b1f0"/><stop offset="0.7887" stop-color="#5090e0"/><stop offset="0.8066" stop-color="#4f66be"/><stop offset="0.8244" stop-color="#484fb0"/><stop offset="0.8481" stop-color="#4843a9"/><stop offset="0.9187" stop-color="#3f2f9f"/><stop offset="1" stop-color="#3b2994"/></linearGradient>
<linearGradient id="g120" gradientUnits="userSpaceOnUse" x1="0" y1="0" x2="0" y2="1" gradientTransform="matrix(3.8 2.6 -4.37 643.16 404.13 151.74)"><stop offset="0" stop-color="#8a1020"/><stop offset="0.0405" stop-color="#b50e25"/><stop offset="0.054" stop-color="#c20c26"/><stop offset="0.0875" stop-color="#d50828"/><stop offset="0.1407" stop-color="#de0528"/><stop offset="0.1803" stop-color="#e00d28"/><stop offset="0.1935" stop-color="#e01a25"/><stop offset="0.2066" stop-color="#e03021"/><stop offset="0.2328" stop-color="#e86c18"/><stop offset="0.2589" stop-color="#f09c10"/><stop offset="0.2784" stop-color="#f0be11"/><stop offset="0.2978" stop-color="#f0db1e"/><stop offset="0.3043" stop-color="#efe222"/><stop offset="0.33" stop-color="#e6ef32"/><stop offset="0.3685" stop-color="#bfe351"/><stop offset="0.394" stop-color="#a9d967"/><stop offset="0.4888" stop-color="#9bd275"/><stop offset="0.5263" stop-color="#97d079"/><stop offset="0.5945" stop-color="#8ccc94"/><stop offset="0.6559" stop-color="#7ec8b7"/><stop offset="0.7045" stop-color="#77c7d3"/><stop offset="0.7347" stop-color="#71c1e6"/><stop offset="0.7528" stop-color="#63b7ec"/><stop offset="0.7648" stop-color="#58b0f0"/><stop offset="0.7827" stop-color="#508ede"/><stop offset="0.7947" stop-color="#5071c7"/><stop offset="0.8007" stop-color="#4f65be"/><stop offset="0.8185" stop-color="#484fb0"/><stop offset="0.8363" stop-color="#4846ab"/><stop offset="0.8835" stop-color="#4438a4"/><stop offset="0.9187" stop-color="#3f2f9f"/><stop offset="1" stop-color="#3b2994"/></linearGradient>
<linearGradient id="g121" gradientUnits="userSpaceOnUse" x1="0" y1="0" x2="0" y2="1" gradientTransform="matrix(3.8 2.6 -4.68 643.54 408.11 154.13)"><stop offset="0" stop-color="#8a1020"/><stop offset="0.0405" stop-color="#b50e25"/><stop offset="0.054" stop-color="#c20c26"/><stop offset="0.0875" stop-color="#d50828"/><stop offset="0.1407" stop-color="#de0528"/><stop offset="0.1803" stop-color="#e00d28"/><stop offset="0.2066" stop-color="#e02723"/><stop offset="0.2132" stop-color="#e03220"/><stop offset="0.2394" stop-color="#e86c18"/><stop offset="0.2654" stop-color="#f09b10"/><stop offset="0.2849" stop-color="#f0bc10"/><stop offset="0.3107" stop-color="#f0e020"/><stop offset="0.3365" stop-color="#e8ef2f"/><stop offset="0.3749" stop-color="#c4e64c"/><stop offset="0.4068" stop-color="#a9d967"/><stop offset="0.5264" stop-color="#97d07a"/><stop offset="0.6007" stop-color="#88cb9e"/><stop offset="0.6376" stop-color="#7fc8b4"/><stop offset="0.6924" stop-color="#77c7d2"/><stop offset="0.7287" stop-color="#70c0e8"/><stop offset="0.7528" stop-color="#5cb2ef"/><stop offset="0.7588" stop-color="#57adee"/><stop offset="0.7768" stop-color="#508cdc"/><stop offset="0.7887" stop-color="#5070c6"/><stop offset="0.7947" stop-color="#4f65be"/><stop offset="0.8126" stop-color="#484fb0"/><stop offset="0.8659" stop-color="#473da7"/><stop offset="0.9187" stop-color="#3f2f9f"/><stop offset="1" stop-color="#3b2994"/></linearGradient>
<linearGradient id="g122" gradientUnits="userSpaceOnUse" x1="0" y1="0" x2="0" y2="1" gradientTransform="matrix(3.8 2.6 -5.00 643.91 412.09 156.53)"><stop offset="0" stop-color="#8a1020"/><stop offset="0.0405" stop-color="#b50e25"/><stop offset="0.054" stop-color="#c20c26"/><stop offset="0.0875" stop-color="#d50828"/><stop offset="0.1407" stop-color="#de0528"/><stop offset="0.1804" stop-color="#e00d28"/><stop offset="0.2198" stop-color="#e03520"/><stop offset="0.2328" stop-color="#e4501c"/><stop offset="0.2459" stop-color="#e86c18"/><stop offset="0.2719" stop-color="#f09a10"/><stop offset="0.2914" stop-color="#f0b910"/><stop offset="0.3172" stop-color="#f0dd1f"/><stop offset="0.3429" stop-color="#e9ed2d"/><stop offset="0.3493" stop-color="#e6f031"/><stop offset="0.3877" stop-color="#c2e54e"/><stop offset="0.4195" stop-color="#a8d868"/><stop offset="0.5264" stop-color="#97d07a"/><stop offset="0.6007" stop-color="#85caa5"/><stop offset="0.6253" stop-color="#7fc8b4"/><stop offset="0.6864" stop-color="#77c7d4"/><stop offset="0.7227" stop-color="#6ebfe9"/><stop offset="0.7468" stop-color="#5ab1ef"/><stop offset="0.7588" stop-color="#54a0e8"/><stop offset="0.7708" stop-color="#5089da"/><stop offset="0.7828" stop-color="#506ec5"/><stop offset="0.7947" stop-color="#4c5db8"/><stop offset="0.8066" stop-color="#4850b0"/><stop offset="0.8659" stop-color="#473da7"/><stop offset="0.9187" stop-color="#3f2f9f"/><stop offset="1" stop-color="#3b2994"/></linearGradient>
<linearGradient id="g123" gradientUnits="userSpaceOnUse" x1="0" y1="0" x2="0" y2="1" gradientTransform="matrix(3.8 2.6 -5.31 644.28 416.07 158.94)"><stop offset="0" stop-color="#8a1020"/><stop offset="0.0405" stop-color="#b50e25"/><stop offset="0.054" stop-color="#c20c26"/><stop offset="0.0875" stop-color="#d50828"/><stop offset="0.1407" stop-color="#de0528"/><stop offset="0.1804" stop-color="#e00d28"/><stop offset="0.2198" stop-color="#e03520"/><stop offset="0.2394" stop-color="#e4521c"/><stop offset="0.2589" stop-color="#ea7816"/><stop offset="0.2784" stop-color="#f09910"/><stop offset="0.2978" stop-color="#f0b810"/><stop offset="0.3237" stop-color="#f0db1e"/><stop offset="0.3365" stop-color="#ede525"/><stop offset="0.3558" stop-color="#e8ef2f"/><stop offset="0.3941" stop-color="#c5e64b"/><stop offset="0.4258" stop-color="#aad966"/><stop offset="0.4511" stop-color="#a4d66c"/><stop offset="0.5202" stop-color="#98d078"/><stop offset="0.5946" stop-color="#84c9a8"/><stop offset="0.6131" stop-color="#7fc8b3"/><stop offset="0.6742" stop-color="#77c7d3"/><stop offset="0.7106" stop-color="#70c0e7"/><stop offset="0.7408" stop-color="#59b0f0"/><stop offset="0.7588" stop-color="#5193e1"/><stop offset="0.7768" stop-color="#506cc3"/><stop offset="0.7888" stop-color="#4c5db8"/><stop offset="0.8066" stop-color="#4850b0"/><stop offset="0.8659" stop-color="#473da7"/><stop offset="0.9187" stop-color="#3f2f9f"/><stop offset="1" stop-color="#3b2994"/></linearGradient>
<linearGradient id="g124" gradientUnits="userSpaceOnUse" x1="0" y1="0" x2="0" y2="1" gradientTransform="matrix(3.8 2.6 -5.62 644.65 420.07 161.35)"><stop offset="0" stop-color="#8a1020"/><stop offset="0.0405" stop-color="#b50e25"/><stop offset="0.054" stop-color="#c20c26"/><stop offset="0.0875" stop-color="#d50828"/><stop offset="0.1407" stop-color="#de0528"/><stop offset="0.1804" stop-color="#e00d28"/><stop offset="0.2198" stop-color="#e03520"/><stop offset="0.2654" stop-color="#ea7816"/><stop offset="0.2849" stop-color="#f09810"/><stop offset="0.3108" stop-color="#f0c012"/><stop offset="0.3365" stop-color="#f0e121"/><stop offset="0.3622" stop-color="#e9ee2e"/><stop offset="0.375" stop-color="#deee37"/><stop offset="0.4068" stop-color="#c1e44f"/><stop offset="0.4385" stop-color="#a8d868"/><stop offset="0.5202" stop-color="#98d078"/><stop offset="0.6008" stop-color="#80c8b1"/><stop offset="0.6681" stop-color="#76c6d5"/><stop offset="0.7046" stop-color="#6fbfe8"/><stop offset="0.7348" stop-color="#58afef"/><stop offset="0.7528" stop-color="#5091e0"/><stop offset="0.7708" stop-color="#506bc2"/><stop offset="0.8067" stop-color="#4850b0"/><stop offset="0.8659" stop-color="#473da7"/><stop offset="0.9187" stop-color="#3f2f9f"/><stop offset="1" stop-color="#3b2994"/></linearGradient>
<linearGradient id="g125" gradientUnits="userSpaceOnUse" x1="0" y1="0" x2="0" y2="1" gradientTransform="matrix(3.8 2.6 -5.94 645.03 424.07 163.76)"><stop offset="0" stop-color="#8a1020"/><stop offset="0.0405" stop-color="#b50e25"/><stop offset="0.054" stop-color="#c20c26"/><stop offset="0.0875" stop-color="#d50828"/><stop offset="0.1407" stop-color="#de0528"/><stop offset="0.1804" stop-color="#e00d28"/><stop offset="0.2198" stop-color="#e03520"/><stop offset="0.2655" stop-color="#ea7516"/><stop offset="0.2849" stop-color="#ef8e11"/><stop offset="0.3172" stop-color="#f0bf11"/><stop offset="0.343" stop-color="#f0e020"/><stop offset="0.3686" stop-color="#e9ee2e"/><stop offset="0.375" stop-color="#e6ef32"/><stop offset="0.4132" stop-color="#c1e54f"/><stop offset="0.4449" stop-color="#a8d868"/><stop offset="0.5202" stop-color="#99d077"/><stop offset="0.5946" stop-color="#80c8b1"/><stop offset="0.656" stop-color="#77c7d3"/><stop offset="0.6985" stop-color="#6ebfe9"/><stop offset="0.7227" stop-color="#5bb2ef"/><stop offset="0.7288" stop-color="#57acee"/><stop offset="0.7468" stop-color="#508fdf"/><stop offset="0.7708" stop-color="#506bc2"/><stop offset="0.8067" stop-color="#4850b0"/><stop offset="0.8659" stop-color="#473da7"/><stop offset="0.9187" stop-color="#3f2f9f"/><stop offset="1" stop-color="#3b2994"/></linearGradient>
<linearGradient id="g126" gradientUnits="userSpaceOnUse" x1="0" y1="0" x2="0" y2="1" gradientTransform="matrix(3.8 2.6 -6.26 645.40 428.08 166.18)"><stop offset="0" stop-color="#8a1020"/><stop offset="0.0405" stop-color="#b50e25"/><stop offset="0.054" stop-color="#c20c26"/><stop offset="0.0875" stop-color="#d50828"/><stop offset="0.1408" stop-color="#de0528"/><stop offset="0.1804" stop-color="#e00d28"/><stop offset="0.2198" stop-color="#e03520"/><stop offset="0.2655" stop-color="#ea7516"/><stop offset="0.2979" stop-color="#f09c10"/><stop offset="0.3237" stop-color="#f0bf11"/><stop offset="0.3494" stop-color="#f0e020"/><stop offset="0.3814" stop-color="#e6ef32"/><stop offset="0.4196" stop-color="#c1e54f"/><stop offset="0.4449" stop-color="#aad966"/><stop offset="0.4764" stop-color="#a2d56e"/><stop offset="0.5202" stop-color="#99d077"/><stop offset="0.5885" stop-color="#80c8b1"/><stop offset="0.6499" stop-color="#77c7d3"/><stop offset="0.6864" stop-color="#70c0e7"/><stop offset="0.7167" stop-color="#5ab1ef"/><stop offset="0.7408" stop-color="#5195e3"/><stop offset="0.7529" stop-color="#5085d7"/><stop offset="0.7709" stop-color="#506bc2"/><stop offset="0.8067" stop-color="#4850b0"/><stop offset="0.8659" stop-color="#473da7"/><stop offset="0.9187" stop-color="#3f2f9f"/><stop offset="1" stop-color="#3b2994"/></linearGradient>
<linearGradient id="g127" gradientUnits="userSpaceOnUse" x1="0" y1="0" x2="0" y2="1" gradientTransform="matrix(3.9 2.6 -6.57 645.78 432.09 168.60)"><stop offset="0" stop-color="#8a1020"/><stop offset="0.0405" stop-color="#b50e25"/><stop offset="0.054" stop-color="#c20c26"/><stop offset="0.0875" stop-color="#d50828"/><stop offset="0.1408" stop-color="#de0528"/><stop offset="0.1804" stop-color="#e00d28"/><stop offset="0.2198" stop-color="#e03520"/><stop offset="0.2655" stop-color="#ea7516"/><stop offset="0.2979" stop-color="#f09c10"/><stop offset="0.3237" stop-color="#f0bb10"/><stop offset="0.3558" stop-color="#f0e020"/><stop offset="0.3814" stop-color="#e9ee2e"/><stop offset="0.3942" stop-color="#dfee37"/><stop offset="0.4259" stop-color="#c0e450"/><stop offset="0.4512" stop-color="#a8d868"/><stop offset="0.5202" stop-color="#99d077"/><stop offset="0.5638" stop-color="#88cb9e"/><stop offset="0.5823" stop-color="#80c8b0"/><stop offset="0.6438" stop-color="#77c7d3"/><stop offset="0.6804" stop-color="#70c0e7"/><stop offset="0.7167" stop-color="#59b0f0"/><stop offset="0.7469" stop-color="#508ede"/><stop offset="0.7709" stop-color="#506bc2"/><stop offset="0.8067" stop-color="#4850b0"/><stop offset="0.8659" stop-color="#473da7"/><stop offset="0.9188" stop-color="#3f2f9f"/><stop offset="1" stop-color="#3b2994"/></linearGradient>
<linearGradient id="g128" gradientUnits="userSpaceOnUse" x1="0" y1="0" x2="0" y2="1" gradientTransform="matrix(3.9 2.6 -6.89 646.15 436.12 171.03)"><stop offset="0" stop-color="#8a1020"/><stop offset="0.0405" stop-color="#b50e25"/><stop offset="0.054" stop-color="#c20c26"/><stop offset="0.0875" stop-color="#d50828"/><stop offset="0.1408" stop-color="#de0528"/><stop offset="0.1804" stop-color="#e00d28"/><stop offset="0.2198" stop-color="#e03520"/><stop offset="0.2655" stop-color="#ea7516"/><stop offset="0.2979" stop-color="#f09c10"/><stop offset="0.3237" stop-color="#f0bb10"/><stop offset="0.3559" stop-color="#f0de1f"/><stop offset="0.3878" stop-color="#e9ef2f"/><stop offset="0.4196" stop-color="#cae946"/><stop offset="0.4512" stop-color="#abda65"/><stop offset="0.4638" stop-color="#a6d76a"/><stop offset="0.5202" stop-color="#99d077"/><stop offset="0.5514" stop-color="#8ccc94"/><stop offset="0.5823" stop-color="#80c8b2"/><stop offset="0.6377" stop-color="#77c7d3"/><stop offset="0.6804" stop-color="#6fbfe8"/><stop offset="0.7167" stop-color="#59b0f0"/><stop offset="0.7469" stop-color="#508ede"/><stop offset="0.7709" stop-color="#506bc2"/><stop offset="0.8067" stop-color="#4850b0"/><stop offset="0.8659" stop-color="#473da7"/><stop offset="0.9188" stop-color="#3f2f9f"/><stop offset="1" stop-color="#3b2994"/></linearGradient>
<linearGradient id="g129" gradientUnits="userSpaceOnUse" x1="0" y1="0" x2="0" y2="1" gradientTransform="matrix(3.9 2.6 -7.21 646.52 440.15 173.46)"><stop offset="0" stop-color="#8a1020"/><stop offset="0.0405" stop-color="#b50e25"/><stop offset="0.054" stop-color="#c20c26"/><stop offset="0.0875" stop-color="#d50828"/><stop offset="0.1408" stop-color="#de0528"/><stop offset="0.1804" stop-color="#e00d28"/><stop offset="0.2198" stop-color="#e03520"/><stop offset="0.2655" stop-color="#ea7516"/><stop offset="0.2979" stop-color="#f09c10"/><stop offset="0.3237" stop-color="#f0bb10"/><stop offset="0.3559" stop-color="#f0de1f"/><stop offset="0.3878" stop-color="#e9ee2e"/><stop offset="0.4006" stop-color="#dfee37"/><stop offset="0.4323" stop-color="#c1e44f"/><stop offset="0.4576" stop-color="#a8d868"/><stop offset="0.5203" stop-color="#99d077"/><stop offset="0.5452" stop-color="#8ecd8f"/><stop offset="0.5762" stop-color="#80c8af"/><stop offset="0.6377" stop-color="#77c7d4"/><stop offset="0.6804" stop-color="#6fbfe8"/><stop offset="0.7168" stop-color="#59b0f0"/><stop offset="0.7469" stop-color="#508ede"/><stop offset="0.7709" stop-color="#506bc2"/><stop offset="0.8067" stop-color="#4850b0"/><stop offset="0.8659" stop-color="#473da7"/><stop offset="0.9188" stop-color="#3f2f9f"/><stop offset="1" stop-color="#3b2994"/></linearGradient>
<linearGradient id="g130" gradientUnits="userSpaceOnUse" x1="0" y1="0" x2="0" y2="1" gradientTransform="matrix(3.9 2.6 -7.53 646.90 444.19 175.90)"><stop offset="0" stop-color="#8a1020"/><stop offset="0.0405" stop-color="#b50e25"/><stop offset="0.054" stop-color="#c20c26"/><stop offset="0.0875" stop-color="#d50828"/><stop offset="0.1408" stop-color="#de0528"/><stop offset="0.1804" stop-color="#e00d28"/><stop offset="0.2199" stop-color="#e03520"/><stop offset="0.2655" stop-color="#ea7516"/><stop offset="0.2979" stop-color="#f09c10"/><stop offset="0.3238" stop-color="#f0bb10"/><stop offset="0.3559" stop-color="#f0de1f"/><stop offset="0.3878" stop-color="#e9ee2e"/><stop offset="0.4006" stop-color="#dfee37"/><stop offset="0.4323" stop-color="#c1e44f"/><stop offset="0.4576" stop-color="#a8d868"/><stop offset="0.5203" stop-color="#99d077"/><stop offset="0.5452" stop-color="#8ecd8f"/><stop offset="0.5762" stop-color="#80c8b0"/><stop offset="0.6377" stop-color="#77c7d4"/><stop offset="0.6804" stop-color="#6fbfe8"/><stop offset="0.7168" stop-color="#59b0f0"/><stop offset="0.7469" stop-color="#508ede"/><stop offset="0.7709" stop-color="#506bc2"/><stop offset="0.8067" stop-color="#4850b0"/><stop offset="0.866" stop-color="#473da7"/><stop offset="0.9188" stop-color="#3f2f9f"/><stop offset="1" stop-color="#3b2994"/></linearGradient>
<linearGradient id="g131" gradientUnits="userSpaceOnUse" x1="0" y1="0" x2="0" y2="1" gradientTransform="matrix(3.9 2.7 -7.86 647.27 448.24 178.34)"><stop offset="0" stop-color="#8a1020"/><stop offset="0.0405" stop-color="#b50e25"/><stop offset="0.054" stop-color="#c20c26"/><stop offset="0.0875" stop-color="#d50828"/><stop offset="0.1408" stop-color="#de0528"/><stop offset="0.1805" stop-color="#e00d28"/><stop offset="0.2199" stop-color="#e03520"/><stop offset="0.2655" stop-color="#ea7516"/><stop offset="0.298" stop-color="#f09c10"/><stop offset="0.3238" stop-color="#f0bb10"/><stop offset="0.3559" stop-color="#f0de1f"/><stop offset="0.3879" stop-color="#e9ee2e"/><stop offset="0.4006" stop-color="#dfee37"/><stop offset="0.4323" stop-color="#c1e44f"/><stop offset="0.4576" stop-color="#a8d868"/><stop offset="0.5203" stop-color="#99d077"/><stop offset="0.5452" stop-color="#8ecd8f"/><stop offset="0.5762" stop-color="#80c8b0"/><stop offset="0.6377" stop-color="#77c7d4"/><stop offset="0.6804" stop-color="#6fbfe8"/><stop offset="0.7168" stop-color="#59b0f0"/><stop offset="0.7469" stop-color="#508ede"/><stop offset="0.7709" stop-color="#506bc2"/><stop offset="0.8067" stop-color="#4850b0"/><stop offset="0.866" stop-color="#473da7"/><stop offset="0.9188" stop-color="#3f2f9f"/><stop offset="1" stop-color="#3b2994"/></linearGradient>
<linearGradient id="g132" gradientUnits="userSpaceOnUse" x1="0" y1="0" x2="0" y2="1" gradientTransform="matrix(3.9 2.7 -8.18 647.65 452.29 180.78)"><stop offset="0" stop-color="#8a1020"/><stop offset="0.0405" stop-color="#b50e25"/><stop offset="0.054" stop-color="#c20c26"/><stop offset="0.0875" stop-color="#d50828"/><stop offset="0.1408" stop-color="#de0528"/><stop offset="0.1805" stop-color="#e00d28"/><stop offset="0.2199" stop-color="#e03520"/><stop offset="0.2656" stop-color="#ea7516"/><stop offset="0.298" stop-color="#f09c10"/><stop offset="0.3238" stop-color="#f0bb10"/><stop offset="0.3559" stop-color="#f0de1f"/><stop offset="0.3879" stop-color="#e9ee2e"/><stop offset="0.4006" stop-color="#dfee37"/><stop offset="0.4323" stop-color="#c1e44f"/><stop offset="0.4576" stop-color="#a8d868"/><stop offset="0.5203" stop-color="#99d077"/><stop offset="0.5452" stop-color="#8ecd8f"/><stop offset="0.5762" stop-color="#80c8b0"/><stop offset="0.6377" stop-color="#77c7d4"/><stop offset="0.6804" stop-color="#6fbfe8"/><stop offset="0.7168" stop-color="#59b0f0"/><stop offset="0.7469" stop-color="#508ede"/><stop offset="0.7709" stop-color="#506bc2"/><stop offset="0.8067" stop-color="#4850b0"/><stop offset="0.866" stop-color="#473da7"/><stop offset="0.9188" stop-color="#3f2f9f"/><stop offset="1" stop-color="#3b2994"/></linearGradient>
<linearGradient id="g133" gradientUnits="userSpaceOnUse" x1="0" y1="0" x2="0" y2="1" gradientTransform="matrix(3.9 2.7 -8.51 648.03 456.35 183.23)"><stop offset="0" stop-color="#8a1020"/><stop offset="0.0406" stop-color="#b50e25"/><stop offset="0.054" stop-color="#c20c26"/><stop offset="0.0875" stop-color="#d50828"/><stop offset="0.1408" stop-color="#de0528"/><stop offset="0.1805" stop-color="#e00d28"/><stop offset="0.2199" stop-color="#e03520"/><stop offset="0.2656" stop-color="#ea7516"/><stop offset="0.298" stop-color="#f09c10"/><stop offset="0.3238" stop-color="#f0bb10"/><stop offset="0.3559" stop-color="#f0de1f"/><stop offset="0.3879" stop-color="#e9ee2e"/><stop offset="0.4006" stop-color="#dfee37"/><stop offset="0.4324" stop-color="#c1e44f"/><stop offset="0.4576" stop-color="#a8d868"/><stop offset="0.5203" stop-color="#99d077"/><stop offset="0.5452" stop-color="#8ecd8f"/><stop offset="0.5762" stop-color="#80c8b0"/><stop offset="0.6378" stop-color="#77c7d4"/><stop offset="0.6805" stop-color="#6fbfe8"/><stop offset="0.7168" stop-color="#59b0f0"/><stop offset="0.7469" stop-color="#508ede"/><stop offset="0.7709" stop-color="#506bc2"/><stop offset="0.8068" stop-color="#4850b0"/><stop offset="0.866" stop-color="#473da7"/><stop offset="0.9188" stop-color="#3f2f9f"/><stop offset="1" stop-color="#3b2994"/></linearGradient>
<linearGradient id="g134" gradientUnits="userSpaceOnUse" x1="0" y1="0" x2="0" y2="1" gradientTransform="matrix(3.9 2.7 -8.83 648.40 460.42 185.69)"><stop offset="0" stop-color="#8a1020"/><stop offset="0.0406" stop-color="#b50e25"/><stop offset="0.054" stop-color="#c20c26"/><stop offset="0.0875" stop-color="#d50828"/><stop offset="0.1408" stop-color="#de0528"/><stop offset="0.1805" stop-color="#e00d28"/><stop offset="0.2199" stop-color="#e03520"/><stop offset="0.2656" stop-color="#ea7516"/><stop offset="0.298" stop-color="#f09c10"/><stop offset="0.3238" stop-color="#f0bb10"/><stop offset="0.356" stop-color="#f0de1f"/><stop offset="0.3879" stop-color="#e9ee2e"/><stop offset="0.4006" stop-color="#dfee37"/><stop offset="0.4324" stop-color="#c1e44f"/><stop offset="0.4576" stop-color="#a8d868"/><stop offset="0.5204" stop-color="#99d077"/><stop offset="0.5453" stop-color="#8ecd8f"/><stop offset="0.5763" stop-color="#80c8b0"/><stop offset="0.6378" stop-color="#77c7d4"/><stop offset="0.6805" stop-color="#6fbfe8"/><stop offset="0.7168" stop-color="#59b0f0"/><stop offset="0.747" stop-color="#508ede"/><stop offset="0.771" stop-color="#506bc2"/><stop offset="0.8068" stop-color="#4850b0"/><stop offset="0.866" stop-color="#473da7"/><stop offset="0.9188" stop-color="#3f2f9f"/><stop offset="1" stop-color="#3b2994"/></linearGradient>
<linearGradient id="g135" gradientUnits="userSpaceOnUse" x1="0" y1="0" x2="0" y2="1" gradientTransform="matrix(3.9 2.7 -9.16 648.78 464.50 188.15)"><stop offset="0" stop-color="#8a1020"/><stop offset="0.0406" stop-color="#b50e25"/><stop offset="0.054" stop-color="#c20c26"/><stop offset="0.0875" stop-color="#d50828"/><stop offset="0.1408" stop-color="#de0528"/><stop offset="0.1805" stop-color="#e00d28"/><stop offset="0.2199" stop-color="#e03520"/><stop offset="0.2656" stop-color="#ea7516"/><stop offset="0.298" stop-color="#f09c10"/><stop offset="0.3238" stop-color="#f0bb10"/><stop offset="0.356" stop-color="#f0de1f"/><stop offset="0.3879" stop-color="#e9ee2e"/><stop offset="0.4007" stop-color="#dfee37"/><stop offset="0.4324" stop-color="#c1e44f"/><stop offset="0.4577" stop-color="#a8d868"/><stop offset="0.5204" stop-color="#99d077"/><stop offset="0.5453" stop-color="#8ecd8f"/><stop offset="0.5763" stop-color="#80c8b0"/><stop offset="0.6378" stop-color="#77c7d4"/><stop offset="0.6805" stop-color="#6fbfe8"/><stop offset="0.7168" stop-color="#59b0f0"/><stop offset="0.747" stop-color="#508ede"/><stop offset="0.771" stop-color="#506bc2"/><stop offset="0.8068" stop-color="#4850b0"/><stop offset="0.866" stop-color="#473da7"/><stop offset="0.9188" stop-color="#3f2f9f"/><stop offset="1" stop-color="#3b2994"/></linearGradient>
<linearGradient id="cb" x1="0" y1="0" x2="0" y2="1"><stop offset="0.0000" stop-color="#701420"/><stop offset="0.0500" stop-color="#a01428"/><stop offset="0.1000" stop-color="#c80c2c"/><stop offset="0.1400" stop-color="#e00428"/><stop offset="0.1600" stop-color="#e02828"/><stop offset="0.2000" stop-color="#e45c20"/><stop offset="0.2500" stop-color="#ec8c14"/><stop offset="0.3000" stop-color="#f0b810"/><stop offset="0.3400" stop-color="#f4e020"/><stop offset="0.3600" stop-color="#f0f030"/><stop offset="0.4000" stop-color="#c8e040"/><stop offset="0.4500" stop-color="#9cd060"/><stop offset="0.5000" stop-color="#80c87c"/><stop offset="0.5500" stop-color="#7ec49c"/><stop offset="0.6000" stop-color="#7cc4c0"/><stop offset="0.6500" stop-color="#68c0e0"/><stop offset="0.6750" stop-color="#5bbcec"/><stop offset="0.7000" stop-color="#52a8e4"/><stop offset="0.7250" stop-color="#4c82cc"/><stop offset="0.7500" stop-color="#4d62b4"/><stop offset="0.8000" stop-color="#4846a0"/><stop offset="0.8500" stop-color="#41389a"/><stop offset="0.9000" stop-color="#3c2b8c"/><stop offset="0.9500" stop-color="#3d1f7c"/><stop offset="1.0000" stop-color="#3b1765"/></linearGradient>
</defs>
<g stroke="#1a1a1a" stroke-width="1.6" fill="none" stroke-linecap="round"><path d="M78.4 100.1L384.7 1.0"/><path d="M384.7 1.0L620.1 135.2"/><path d="M384.7 1.0L382.0 619.9"/><path d="M98.8 735.1L382.0 619.9"/><path d="M382.0 619.9L599.2 775.8"/><path d="M78.4 100.1L98.8 735.1"/><path d="M620.1 135.2L599.2 775.8"/></g>
<g>
<path d="M347.37 117.50L340.76 113.52L341.28 750.69L347.39 755.30 Z" fill="url(#g0)"/>
<path d="M343.24 115.01L336.64 111.03L337.47 747.81L343.57 752.42 Z" fill="url(#g1)"/>
<path d="M339.11 112.52L332.53 108.55L333.67 744.94L339.76 749.53 Z" fill="url(#g2)"/>
<path d="M335.00 110.04L328.43 106.08L329.88 742.07L335.95 746.66 Z" fill="url(#g3)"/>
<path d="M330.89 107.56L324.33 103.61L326.09 739.20L332.16 743.79 Z" fill="url(#g4)"/>
<path d="M326.79 105.09L320.24 101.14L322.31 736.35L328.36 740.92 Z" fill="url(#g5)"/>
<path d="M322.69 102.62L316.16 98.68L318.54 733.49L324.58 738.06 Z" fill="url(#g6)"/>
<path d="M318.61 100.15L312.09 96.22L314.78 730.65L320.80 735.20 Z" fill="url(#g7)"/>
<path d="M314.53 97.70L308.02 93.77L311.02 727.80L317.03 732.35 Z" fill="url(#g8)"/>
<path d="M310.46 95.24L303.97 91.33L307.26 724.97L313.27 729.51 Z" fill="url(#g9)"/>
<path d="M306.40 92.79L299.92 88.88L303.52 722.14L309.51 726.67 Z" fill="url(#g10)"/>
<path d="M302.35 90.35L295.88 86.45L299.78 719.31L305.77 723.83 Z" fill="url(#g11)"/>
<path d="M298.30 87.91L291.85 84.01L296.05 716.49L302.02 721.00 Z" fill="url(#g12)"/>
<path d="M294.27 85.47L287.82 81.59L292.32 713.67L298.29 718.18 Z" fill="url(#g13)"/>
<path d="M290.24 83.04L283.81 79.16L288.60 710.86L294.56 715.36 Z" fill="url(#g14)"/>
<path d="M286.22 80.62L279.80 76.75L284.89 708.05L290.84 712.55 Z" fill="url(#g15)"/>
<path d="M282.20 78.20L275.80 74.33L281.19 705.25L287.12 709.74 Z" fill="url(#g16)"/>
<path d="M278.20 75.78L271.80 71.93L277.49 702.46L283.41 706.93 Z" fill="url(#g17)"/>
<path d="M274.20 73.37L267.82 69.52L273.80 699.67L279.71 704.13 Z" fill="url(#g18)"/>
<path d="M270.21 70.96L263.84 67.12L270.11 696.88L276.01 701.34 Z" fill="url(#g19)"/>
<path d="M266.23 68.56L259.87 64.73L266.44 694.10L272.32 698.55 Z" fill="url(#g20)"/>
<path d="M262.25 66.16L255.91 62.34L262.76 691.32L268.64 695.77 Z" fill="url(#g21)"/>
<path d="M258.29 63.77L251.95 59.95L259.10 688.55L264.97 692.99 Z" fill="url(#g22)"/>
<path d="M254.33 61.38L248.01 57.57L255.44 685.78L261.30 690.21 Z" fill="url(#g23)"/>
<path d="M250.37 59.00L244.07 55.20L251.79 683.02L257.63 687.44 Z" fill="url(#g24)"/>
<path d="M246.43 56.62L240.14 52.83L248.14 680.27L253.98 684.68 Z" fill="url(#g25)"/>
<path d="M242.49 54.25L236.21 50.46L244.50 677.52L250.33 681.92 Z" fill="url(#g26)"/>
<path d="M238.57 51.88L234.65 49.51L243.05 676.42L246.69 679.17 Z" fill="url(#g27)"/>
<path d="M331.8 108.1L331.8 110.3L331.8 112.4L331.8 114.6L331.8 116.7L331.8 118.9L331.8 121.0L331.8 123.1L331.8 125.3L331.8 127.4L331.8 129.6L331.8 131.7L331.8 133.9L331.8 136.0L331.8 138.1L331.9 140.3L331.9 142.4L331.9 144.5L331.9 146.7L331.9 148.8L331.9 150.9L331.9 153.1L331.9 155.2L331.9 157.3L331.9 159.4L331.9 161.6L331.9 163.7L331.9 165.8L331.9 167.9L331.9 170.1L331.9 172.2L331.9 174.3L331.9 176.4L331.9 178.5L331.9 180.6L331.8 182.7L331.7 184.7L331.6 186.7L331.4 188.8L331.3 190.8L331.2 192.8L331.0 194.9L330.9 196.9L330.8 198.9L330.6 200.9L330.5 202.9L330.3 204.9L330.1 206.9L330.0 208.9L329.8 210.9L329.6 212.8L329.4 214.8L329.2 216.8L329.0 218.8L328.8 220.7L328.6 222.7L328.4 224.6L328.2 226.6L327.9 228.5L327.7 230.4L327.4 232.3L327.1 234.3L326.9 236.2L326.6 238.1L326.3 240.0L326.0 241.8L325.7 243.7L325.4 245.6L325.0 247.5L324.7 249.3L324.3 251.1L324.0 253.0L323.6 254.8L323.2 256.6L322.8 258.4L322.4 260.2L321.9 262.0L321.5 263.8L321.1 265.6L320.6 267.4L320.2 269.1L319.7 270.9L319.2 272.6L318.7 274.4L318.2 276.1L317.7 277.8L317.2 279.5L316.7 281.3L316.2 283.0L315.7 284.7L315.2 286.4L314.6 288.1L314.1 289.8L313.6 291.5L313.1 293.2L312.6 294.9L312.1 296.6L311.6 298.3L311.1 300.1L310.6 301.8L310.1 303.5L309.6 305.2L309.1 306.9L308.7 308.6L308.2 310.4L307.7 312.1L307.3 313.8L306.9 315.6L306.4 317.3L306.0 319.0L305.6 320.8L305.2 322.5L304.8 324.3L304.4 326.1L304.0 327.8L303.7 329.6L303.3 331.4L302.9 333.2L302.6 334.9L302.3 336.7L301.9 338.5L301.6 340.3L301.3 342.1L301.0 343.9L300.7 345.7L300.5 347.6L300.2 349.4L299.9 351.2L299.7 353.0L299.4 354.9L299.2 356.7L299.0 358.6L298.8 360.4L298.5 362.3L298.3 364.1L298.2 366.0L298.0 367.9L297.8 369.7L297.6 371.6L297.5 373.5L297.3 375.4L297.2 377.3L297.0 379.2L296.9 381.1L296.8 383.0L296.7 384.9L296.6 386.8L296.5 388.7L296.4 390.6L296.3 392.5L296.3 394.5L296.2 396.4L296.2 398.3L296.1 400.3L296.1 402.2L296.0 404.2L296.0 406.1L296.0 408.1L296.0 410.1L296.0 412.0L296.0 414.0L296.0 416.0L296.0 417.9L296.1 419.9L296.1 421.9L296.2 423.9L296.2 425.9L296.3 427.9L296.4 429.9L296.4 431.9L296.5 433.9L296.6 436.0L296.7 438.0L296.8 440.0L296.9 442.1L297.1 444.1L297.2 446.1L297.3 448.2L297.5 450.2L297.6 452.3L297.8 454.4L298.0 456.4L298.2 458.5L298.4 460.6L298.6 462.6L298.8 464.7L299.0 466.8L299.2 468.9L299.4 471.0L299.7 473.1L299.9 475.2L300.2 477.4L300.4 479.5L300.7 481.6L301.0 483.7L301.3 485.9L301.6 488.0L301.9 490.2L302.2 492.3L302.5 494.5L302.8 496.6L303.2 498.8L303.5 501.0L303.9 503.1L304.2 505.3L304.6 507.5L305.0 509.7L305.4 511.9L305.8 514.1L306.2 516.3L306.6 518.5L307.0 520.8L307.5 523.0L307.9 525.2L308.3 527.5L308.8 529.7L309.3 531.9L309.7 534.2L310.2 536.4L310.7 538.7L311.2 541.0L311.7 543.2L312.2 545.5L312.7 547.8L313.2 550.0L313.7 552.3L314.2 554.6L314.7 556.9L315.2 559.2L315.7 561.4L316.3 563.7L316.8 566.0L317.3 568.3L317.8 570.5L318.3 572.8L318.8 575.1L319.3 577.3L319.8 579.6L320.3 581.8L320.7 584.1L321.2 586.3L321.7 588.5L322.1 590.8L322.6 593.0L323.0 595.2L323.4 597.4L323.8 599.6L324.2 601.8L324.6 603.9L325.0 606.1L325.3 608.3L325.7 610.4L326.0 612.6L326.4 614.7L326.7 616.8L327.0 618.9L327.3 621.0L327.6 623.1L327.9 625.2L328.1 627.3L328.4 629.4L328.6 631.5L328.9 633.5L329.1 635.6L329.3 637.6L329.6 639.7L329.8 641.7L330.0 643.7L330.2 645.8L330.4 647.8L330.6 649.8L330.7 651.8L330.9 653.8L331.1 655.8L331.2 657.8L331.4 659.8L331.6 661.8L331.7 663.8L331.8 665.7L332.0 667.7L332.1 669.7L332.3 671.7L332.4 673.6L332.5 675.6L332.6 677.5L332.7 679.5L332.9 681.4L332.9 683.3L332.9 685.2L332.9 687.0L332.9 688.9L332.9 690.8L332.9 692.6L332.9 694.5L332.9 696.4L332.9 698.2L332.9 700.1L332.9 701.9L332.9 703.8L332.9 705.6L332.9 707.5L332.9 709.4L332.9 711.2L332.9 713.1L332.9 714.9L332.9 716.8L332.9 718.6L332.9 720.5L332.9 722.3L333.0 724.2L333.0 726.0L333.0 727.8L333.0 729.7L333.0 731.5L333.0 733.4L333.0 735.2L333.0 737.1L333.0 738.9L333.0 740.7L333.0 742.6L333.0 744.4" fill="none" stroke="#f01020" stroke-width="1.1" />
<path d="M314.0 97.4L314.1 99.5L314.1 101.7L314.1 103.8L314.1 106.0L314.1 108.1L314.1 110.3L314.1 112.4L314.1 114.5L314.1 116.7L314.1 118.8L314.1 120.9L314.1 123.1L314.2 125.2L314.2 127.3L314.2 129.5L314.2 131.6L314.2 133.7L314.2 135.8L314.2 138.0L314.2 140.1L314.2 142.2L314.2 144.3L314.2 146.5L314.2 148.6L314.3 150.7L314.3 152.8L314.3 154.9L314.3 157.1L314.3 159.2L314.3 161.3L314.3 163.4L314.3 165.5L314.3 167.6L314.3 169.7L314.3 171.8L314.3 173.9L314.4 176.0L314.4 178.2L314.4 180.3L314.4 182.4L314.3 184.4L314.1 186.4L313.9 188.4L313.7 190.3L313.5 192.3L313.3 194.2L313.0 196.2L312.8 198.1L312.6 200.1L312.3 202.0L312.1 203.9L311.8 205.9L311.6 207.8L311.3 209.7L311.1 211.6L310.8 213.5L310.5 215.4L310.3 217.3L310.0 219.2L309.7 221.1L309.4 223.0L309.1 224.9L308.8 226.8L308.5 228.7L308.2 230.6L307.9 232.4L307.6 234.3L307.3 236.2L307.0 238.0L306.7 239.9L306.4 241.7L306.0 243.6L305.7 245.4L305.4 247.3L305.1 249.1L304.7 251.0L304.4 252.8L304.1 254.7L303.7 256.5L303.4 258.3L303.0 260.2L302.7 262.0L302.4 263.8L302.0 265.6L301.7 267.5L301.4 269.3L301.0 271.1L300.7 272.9L300.4 274.8L300.0 276.6L299.7 278.4L299.4 280.2L299.0 282.0L298.7 283.9L298.4 285.7L298.1 287.5L297.7 289.3L297.4 291.2L297.1 293.0L296.8 294.8L296.5 296.6L296.2 298.5L295.9 300.3L295.6 302.1L295.3 304.0L295.1 305.8L294.8 307.6L294.5 309.5L294.2 311.3L294.0 313.1L293.7 315.0L293.4 316.8L293.2 318.7L293.0 320.5L292.7 322.4L292.5 324.2L292.2 326.1L292.0 327.9L291.8 329.8L291.6 331.7L291.4 333.5L291.2 335.4L291.0 337.2L290.8 339.1L290.6 341.0L290.4 342.9L290.2 344.7L290.1 346.6L289.9 348.5L289.7 350.4L289.6 352.3L289.4 354.2L289.3 356.1L289.2 358.0L289.0 359.9L288.9 361.8L288.8 363.7L288.7 365.6L288.6 367.5L288.5 369.4L288.4 371.3L288.3 373.2L288.2 375.2L288.1 377.1L288.0 379.0L288.0 380.9L287.9 382.9L287.8 384.8L287.8 386.7L287.7 388.7L287.7 390.6L287.7 392.6L287.6 394.5L287.6 396.5L287.6 398.4L287.6 400.4L287.6 402.4L287.6 404.3L287.6 406.3L287.6 408.3L287.6 410.2L287.7 412.2L287.7 414.2L287.7 416.2L287.8 418.2L287.8 420.1L287.9 422.1L287.9 424.1L288.0 426.1L288.0 428.1L288.1 430.1L288.2 432.1L288.3 434.1L288.4 436.1L288.5 438.2L288.6 440.2L288.7 442.2L288.8 444.2L288.9 446.2L289.0 448.3L289.2 450.3L289.3 452.3L289.4 454.4L289.6 456.4L289.7 458.5L289.9 460.5L290.1 462.6L290.2 464.6L290.4 466.7L290.6 468.7L290.8 470.8L291.0 472.9L291.2 474.9L291.4 477.0L291.6 479.1L291.8 481.2L292.0 483.2L292.2 485.3L292.4 487.4L292.7 489.5L292.9 491.6L293.1 493.7L293.4 495.8L293.6 497.9L293.9 500.0L294.2 502.1L294.4 504.2L294.7 506.3L295.0 508.4L295.3 510.5L295.5 512.6L295.8 514.8L296.1 516.9L296.4 519.0L296.7 521.1L297.0 523.3L297.3 525.4L297.7 527.5L298.0 529.7L298.3 531.8L298.6 533.9L298.9 536.1L299.3 538.2L299.6 540.4L299.9 542.5L300.3 544.7L300.6 546.8L300.9 548.9L301.3 551.1L301.6 553.2L302.0 555.4L302.3 557.5L302.7 559.7L303.0 561.8L303.4 564.0L303.7 566.1L304.0 568.3L304.4 570.4L304.7 572.6L305.1 574.7L305.4 576.8L305.8 579.0L306.1 581.1L306.5 583.3L306.8 585.4L307.1 587.5L307.5 589.7L307.8 591.8L308.1 593.9L308.5 596.0L308.8 598.2L309.1 600.3L309.4 602.4L309.7 604.5L310.0 606.6L310.3 608.7L310.6 610.8L310.9 612.9L311.2 615.0L311.5 617.1L311.8 619.2L312.1 621.3L312.4 623.3L312.6 625.4L312.9 627.5L313.2 629.6L313.4 631.6L313.7 633.7L313.9 635.7L314.2 637.8L314.4 639.8L314.7 641.9L314.9 643.9L315.1 646.0L315.4 648.0L315.6 650.0L315.8 652.0L316.0 654.1L316.2 656.1L316.3 658.0L316.3 659.9L316.3 661.7L316.3 663.6L316.3 665.5L316.3 667.3L316.3 669.2L316.3 671.1L316.3 672.9L316.4 674.8L316.4 676.6L316.4 678.5L316.4 680.3L316.4 682.2L316.4 684.1L316.4 685.9L316.4 687.8L316.4 689.6L316.4 691.5L316.4 693.3L316.4 695.2L316.4 697.0L316.4 698.9L316.5 700.7L316.5 702.6L316.5 704.4L316.5 706.3L316.5 708.1L316.5 710.0L316.5 711.8L316.5 713.6L316.5 715.5L316.5 717.3L316.5 719.2L316.5 721.0L316.5 722.8L316.6 724.7L316.6 726.5L316.6 728.3L316.6 730.2L316.6 732.0" fill="none" stroke="#f01020" stroke-width="1.1" />
<path d="M296.4 86.8L296.5 88.9L296.5 91.1L296.5 93.2L296.5 95.3L296.5 97.5L296.5 99.6L296.5 101.7L296.5 103.9L296.6 106.0L296.6 108.1L296.6 110.3L296.6 112.4L296.6 114.5L296.6 116.6L296.6 118.8L296.7 120.9L296.7 123.0L296.7 125.1L296.7 127.2L296.7 129.4L296.7 131.5L296.7 133.6L296.7 135.7L296.8 137.8L296.8 139.9L296.8 142.0L296.8 144.2L296.8 146.3L296.8 148.4L296.8 150.5L296.8 152.6L296.9 154.7L296.9 156.8L296.9 158.9L296.9 161.0L296.9 163.1L296.9 165.2L296.9 167.3L296.9 169.4L297.0 171.5L297.0 173.6L297.0 175.7L297.0 177.8L297.0 179.9L297.0 182.0L297.0 184.1L297.1 186.1L297.1 188.2L297.1 190.3L297.1 192.4L297.1 194.5L297.1 196.6L297.1 198.7L297.0 200.7L296.8 202.6L296.6 204.5L296.3 206.5L296.1 208.4L295.9 210.3L295.6 212.2L295.4 214.1L295.1 216.0L294.9 217.9L294.6 219.8L294.4 221.7L294.1 223.6L293.9 225.5L293.6 227.4L293.4 229.3L293.1 231.2L292.9 233.1L292.6 235.0L292.3 236.9L292.1 238.8L291.8 240.7L291.6 242.5L291.3 244.4L291.1 246.3L290.8 248.2L290.6 250.1L290.3 251.9L290.1 253.8L289.8 255.7L289.6 257.6L289.3 259.5L289.1 261.3L288.8 263.2L288.6 265.1L288.3 267.0L288.1 268.8L287.8 270.7L287.6 272.6L287.4 274.5L287.1 276.3L286.9 278.2L286.7 280.1L286.4 282.0L286.2 283.8L286.0 285.7L285.8 287.6L285.5 289.5L285.3 291.3L285.1 293.2L284.9 295.1L284.7 297.0L284.5 298.9L284.3 300.7L284.1 302.6L283.9 304.5L283.7 306.4L283.5 308.3L283.4 310.2L283.2 312.1L283.0 313.9L282.8 315.8L282.7 317.7L282.5 319.6L282.3 321.5L282.2 323.4L282.0 325.3L281.9 327.2L281.7 329.1L281.6 331.0L281.4 332.9L281.3 334.8L281.2 336.7L281.0 338.6L280.9 340.5L280.8 342.4L280.7 344.4L280.6 346.3L280.5 348.2L280.4 350.1L280.3 352.0L280.2 353.9L280.1 355.9L280.0 357.8L279.9 359.7L279.9 361.6L279.8 363.6L279.7 365.5L279.7 367.4L279.6 369.4L279.5 371.3L279.5 373.2L279.4 375.2L279.4 377.1L279.4 379.1L279.3 381.0L279.3 383.0L279.3 384.9L279.3 386.9L279.2 388.8L279.2 390.8L279.2 392.7L279.2 394.7L279.2 396.7L279.2 398.6L279.2 400.6L279.3 402.6L279.3 404.5L279.3 406.5L279.3 408.5L279.4 410.4L279.4 412.4L279.4 414.4L279.5 416.4L279.5 418.4L279.6 420.4L279.6 422.3L279.7 424.3L279.8 426.3L279.8 428.3L279.9 430.3L280.0 432.3L280.1 434.3L280.2 436.3L280.2 438.3L280.3 440.3L280.4 442.3L280.5 444.3L280.7 446.4L280.8 448.4L280.9 450.4L281.0 452.4L281.1 454.4L281.3 456.4L281.4 458.5L281.5 460.5L281.7 462.5L281.8 464.6L282.0 466.6L282.1 468.6L282.3 470.7L282.4 472.7L282.6 474.7L282.8 476.8L282.9 478.8L283.1 480.9L283.3 482.9L283.5 485.0L283.7 487.0L283.8 489.1L284.0 491.1L284.2 493.2L284.4 495.2L284.6 497.3L284.8 499.3L285.1 501.4L285.3 503.5L285.5 505.5L285.7 507.6L285.9 509.7L286.1 511.7L286.4 513.8L286.6 515.9L286.8 518.0L287.1 520.0L287.3 522.1L287.6 524.2L287.8 526.3L288.0 528.3L288.3 530.4L288.5 532.5L288.8 534.6L289.0 536.7L289.3 538.7L289.6 540.8L289.8 542.9L290.1 545.0L290.3 547.1L290.6 549.1L290.9 551.2L291.1 553.3L291.4 555.4L291.7 557.5L291.9 559.6L292.2 561.7L292.5 563.7L292.8 565.8L293.0 567.9L293.3 570.0L293.6 572.1L293.8 574.2L294.1 576.2L294.4 578.3L294.6 580.4L294.9 582.5L295.2 584.5L295.5 586.6L295.7 588.7L296.0 590.8L296.3 592.8L296.5 594.9L296.8 597.0L297.1 599.0L297.3 601.1L297.6 603.2L297.8 605.2L298.1 607.3L298.4 609.4L298.6 611.4L298.9 613.5L299.1 615.5L299.4 617.6L299.6 619.6L299.7 621.6L299.7 623.4L299.7 625.3L299.7 627.2L299.8 629.1L299.8 630.9L299.8 632.8L299.8 634.7L299.8 636.5L299.8 638.4L299.8 640.3L299.8 642.1L299.8 644.0L299.9 645.9L299.9 647.7L299.9 649.6L299.9 651.5L299.9 653.3L299.9 655.2L299.9 657.0L299.9 658.9L299.9 660.7L300.0 662.6L300.0 664.5L300.0 666.3L300.0 668.2L300.0 670.0L300.0 671.9L300.0 673.7L300.0 675.6L300.0 677.4L300.1 679.3L300.1 681.1L300.1 683.0L300.1 684.8L300.1 686.6L300.1 688.5L300.1 690.3L300.1 692.2L300.1 694.0L300.2 695.9L300.2 697.7L300.2 699.5L300.2 701.4L300.2 703.2L300.2 705.0L300.2 706.9L300.2 708.7L300.2 710.6L300.3 712.4L300.3 714.2L300.3 716.0L300.3 717.9L300.3 719.7" fill="none" stroke="#f01020" stroke-width="1.1" />
<path d="M279.0 76.3L279.0 78.4L279.0 80.5L279.0 82.7L279.1 84.8L279.1 86.9L279.1 89.0L279.1 91.2L279.1 93.3L279.2 95.4L279.2 97.5L279.2 99.7L279.2 101.8L279.2 103.9L279.2 106.0L279.3 108.1L279.3 110.3L279.3 112.4L279.3 114.5L279.3 116.6L279.3 118.7L279.4 120.8L279.4 122.9L279.4 125.0L279.4 127.1L279.4 129.3L279.4 131.4L279.5 133.5L279.5 135.6L279.5 137.7L279.5 139.8L279.5 141.9L279.5 144.0L279.6 146.1L279.6 148.2L279.6 150.3L279.6 152.4L279.6 154.4L279.7 156.5L279.7 158.6L279.7 160.7L279.7 162.8L279.7 164.9L279.7 167.0L279.8 169.1L279.8 171.2L279.8 173.2L279.8 175.3L279.8 177.4L279.8 179.5L279.9 181.6L279.9 183.7L279.9 185.7L279.9 187.8L279.9 189.9L279.9 192.0L280.0 194.0L280.0 196.1L280.0 198.2L280.0 200.3L280.0 202.3L280.0 204.4L280.1 206.5L280.1 208.5L280.1 210.6L280.1 212.7L280.1 214.7L280.1 216.8L280.2 218.8L280.2 220.9L280.2 223.0L280.2 225.0L280.2 227.1L280.2 229.1L280.3 231.2L280.3 233.2L280.2 235.2L280.0 237.1L279.8 239.0L279.6 240.9L279.4 242.9L279.2 244.8L279.0 246.7L278.8 248.6L278.6 250.5L278.4 252.4L278.2 254.3L278.0 256.2L277.8 258.1L277.6 260.0L277.4 261.9L277.3 263.8L277.1 265.7L276.9 267.7L276.7 269.6L276.5 271.5L276.4 273.4L276.2 275.3L276.0 277.2L275.8 279.1L275.7 281.0L275.5 282.9L275.4 284.8L275.2 286.7L275.0 288.6L274.9 290.5L274.7 292.4L274.6 294.4L274.4 296.3L274.3 298.2L274.1 300.1L274.0 302.0L273.9 303.9L273.7 305.8L273.6 307.7L273.5 309.7L273.3 311.6L273.2 313.5L273.1 315.4L273.0 317.3L272.9 319.2L272.8 321.2L272.6 323.1L272.5 325.0L272.4 326.9L272.3 328.8L272.2 330.8L272.2 332.7L272.1 334.6L272.0 336.5L271.9 338.5L271.8 340.4L271.7 342.3L271.7 344.3L271.6 346.2L271.5 348.1L271.5 350.1L271.4 352.0L271.3 353.9L271.3 355.9L271.2 357.8L271.2 359.8L271.1 361.7L271.1 363.6L271.1 365.6L271.0 367.5L271.0 369.5L271.0 371.4L270.9 373.4L270.9 375.3L270.9 377.3L270.9 379.2L270.9 381.2L270.9 383.1L270.9 385.1L270.9 387.1L270.9 389.0L270.9 391.0L270.9 392.9L270.9 394.9L270.9 396.9L270.9 398.8L271.0 400.8L271.0 402.8L271.0 404.7L271.1 406.7L271.1 408.7L271.1 410.7L271.2 412.6L271.2 414.6L271.3 416.6L271.3 418.6L271.4 420.6L271.5 422.5L271.5 424.5L271.6 426.5L271.7 428.5L271.7 430.5L271.8 432.5L271.9 434.5L272.0 436.5L272.1 438.5L272.2 440.5L272.2 442.5L272.3 444.5L272.4 446.5L272.5 448.5L272.7 450.5L272.8 452.5L272.9 454.5L273.0 456.5L273.1 458.5L273.2 460.5L273.4 462.5L273.5 464.5L273.6 466.5L273.7 468.5L273.9 470.6L274.0 472.6L274.2 474.6L274.3 476.6L274.5 478.6L274.6 480.7L274.8 482.7L274.9 484.7L275.1 486.7L275.2 488.8L275.4 490.8L275.6 492.8L275.7 494.8L275.9 496.9L276.1 498.9L276.3 500.9L276.4 503.0L276.6 505.0L276.8 507.0L277.0 509.1L277.2 511.1L277.4 513.1L277.6 515.2L277.8 517.2L277.9 519.2L278.1 521.3L278.3 523.3L278.5 525.4L278.7 527.4L279.0 529.5L279.2 531.5L279.4 533.5L279.6 535.6L279.8 537.6L280.0 539.7L280.2 541.7L280.4 543.7L280.6 545.8L280.9 547.8L281.1 549.9L281.3 551.9L281.5 554.0L281.7 556.0L282.0 558.1L282.2 560.1L282.4 562.1L282.6 564.2L282.9 566.2L283.0 568.2L283.0 570.1L283.0 572.0L283.1 573.9L283.1 575.8L283.1 577.7L283.1 579.5L283.1 581.4L283.1 583.3L283.2 585.2L283.2 587.1L283.2 589.0L283.2 590.8L283.2 592.7L283.2 594.6L283.2 596.5L283.3 598.3L283.3 600.2L283.3 602.1L283.3 604.0L283.3 605.8L283.3 607.7L283.4 609.6L283.4 611.5L283.4 613.3L283.4 615.2L283.4 617.1L283.4 618.9L283.4 620.8L283.5 622.7L283.5 624.5L283.5 626.4L283.5 628.2L283.5 630.1L283.5 632.0L283.6 633.8L283.6 635.7L283.6 637.5L283.6 639.4L283.6 641.3L283.6 643.1L283.6 645.0L283.7 646.8L283.7 648.7L283.7 650.5L283.7 652.4L283.7 654.2L283.7 656.1L283.7 657.9L283.8 659.8L283.8 661.6L283.8 663.5L283.8 665.3L283.8 667.2L283.8 669.0L283.9 670.8L283.9 672.7L283.9 674.5L283.9 676.4L283.9 678.2L283.9 680.0L283.9 681.9L284.0 683.7L284.0 685.5L284.0 687.4L284.0 689.2L284.0 691.0L284.0 692.9L284.0 694.7L284.1 696.5L284.1 698.4L284.1 700.2L284.1 702.0L284.1 703.8L284.1 705.7L284.2 707.5" fill="none" stroke="#f01020" stroke-width="1.1" />
<path d="M261.7 65.8L261.7 68.0L261.7 70.1L261.8 72.2L261.8 74.3L261.8 76.4L261.8 78.6L261.8 80.7L261.9 82.8L261.9 84.9L261.9 87.0L261.9 89.2L262.0 91.3L262.0 93.4L262.0 95.5L262.0 97.6L262.0 99.7L262.1 101.8L262.1 103.9L262.1 106.0L262.1 108.1L262.1 110.3L262.2 112.4L262.2 114.5L262.2 116.6L262.2 118.7L262.3 120.8L262.3 122.9L262.3 125.0L262.3 127.1L262.3 129.1L262.4 131.2L262.4 133.3L262.4 135.4L262.4 137.5L262.4 139.6L262.5 141.7L262.5 143.8L262.5 145.9L262.5 148.0L262.6 150.0L262.6 152.1L262.6 154.2L262.6 156.3L262.6 158.4L262.7 160.4L262.7 162.5L262.7 164.6L262.7 166.7L262.7 168.8L262.8 170.8L262.8 172.9L262.8 175.0L262.8 177.0L262.9 179.1L262.9 181.2L262.9 183.3L262.9 185.3L262.9 187.4L263.0 189.5L263.0 191.5L263.0 193.6L263.0 195.6L263.0 197.7L263.1 199.8L263.1 201.8L263.1 203.9L263.1 205.9L263.1 208.0L263.2 210.0L263.2 212.1L263.2 214.2L263.2 216.2L263.3 218.3L263.3 220.3L263.3 222.4L263.3 224.4L263.3 226.4L263.4 228.5L263.4 230.5L263.4 232.6L263.4 234.6L263.4 236.7L263.5 238.7L263.5 240.7L263.5 242.8L263.5 244.8L263.5 246.9L263.6 248.9L263.6 250.9L263.6 253.0L263.6 255.0L263.6 257.0L263.7 259.1L263.7 261.1L263.7 263.1L263.7 265.1L263.8 267.2L263.8 269.2L263.8 271.2L263.8 273.2L263.8 275.3L263.9 277.3L263.9 279.3L263.9 281.3L263.9 283.3L263.9 285.4L264.0 287.4L264.0 289.4L264.0 291.4L264.0 293.4L264.0 295.4L264.1 297.4L264.1 299.5L264.1 301.5L264.1 303.5L264.1 305.5L264.2 307.5L264.1 309.5L264.1 311.4L264.0 313.3L263.9 315.3L263.8 317.2L263.7 319.1L263.7 321.1L263.6 323.0L263.5 324.9L263.4 326.9L263.4 328.8L263.3 330.8L263.2 332.7L263.2 334.6L263.1 336.6L263.1 338.5L263.0 340.5L263.0 342.4L262.9 344.3L262.9 346.3L262.8 348.2L262.8 350.2L262.8 352.1L262.7 354.1L262.7 356.0L262.7 358.0L262.7 359.9L262.6 361.9L262.6 363.8L262.6 365.8L262.6 367.7L262.6 369.7L262.6 371.6L262.6 373.6L262.6 375.5L262.6 377.5L262.6 379.4L262.6 381.4L262.6 383.4L262.6 385.3L262.6 387.3L262.6 389.2L262.6 391.2L262.7 393.2L262.7 395.1L262.7 397.1L262.7 399.1L262.8 401.0L262.8 403.0L262.8 405.0L262.9 406.9L262.9 408.9L263.0 410.9L263.0 412.9L263.1 414.8L263.1 416.8L263.2 418.8L263.2 420.8L263.3 422.7L263.4 424.7L263.4 426.7L263.5 428.7L263.6 430.7L263.7 432.7L263.7 434.6L263.8 436.6L263.9 438.6L264.0 440.6L264.1 442.6L264.2 444.6L264.3 446.6L264.4 448.5L264.5 450.5L264.6 452.5L264.7 454.5L264.8 456.5L264.9 458.5L265.0 460.5L265.1 462.5L265.2 464.5L265.3 466.5L265.5 468.5L265.6 470.5L265.7 472.5L265.8 474.5L265.9 476.4L265.9 478.4L265.9 480.3L265.9 482.2L266.0 484.1L266.0 486.0L266.0 488.0L266.0 489.9L266.0 491.8L266.1 493.7L266.1 495.6L266.1 497.5L266.1 499.5L266.1 501.4L266.2 503.3L266.2 505.2L266.2 507.1L266.2 509.0L266.2 510.9L266.3 512.8L266.3 514.7L266.3 516.6L266.3 518.5L266.3 520.4L266.4 522.4L266.4 524.3L266.4 526.2L266.4 528.1L266.4 530.0L266.5 531.8L266.5 533.7L266.5 535.6L266.5 537.5L266.5 539.4L266.6 541.3L266.6 543.2L266.6 545.1L266.6 547.0L266.6 548.9L266.6 550.8L266.7 552.7L266.7 554.6L266.7 556.4L266.7 558.3L266.7 560.2L266.8 562.1L266.8 564.0L266.8 565.9L266.8 567.7L266.8 569.6L266.9 571.5L266.9 573.4L266.9 575.2L266.9 577.1L266.9 579.0L267.0 580.9L267.0 582.7L267.0 584.6L267.0 586.5L267.0 588.4L267.1 590.2L267.1 592.1L267.1 594.0L267.1 595.8L267.1 597.7L267.1 599.6L267.2 601.4L267.2 603.3L267.2 605.2L267.2 607.0L267.2 608.9L267.3 610.7L267.3 612.6L267.3 614.5L267.3 616.3L267.3 618.2L267.4 620.0L267.4 621.9L267.4 623.7L267.4 625.6L267.4 627.4L267.5 629.3L267.5 631.2L267.5 633.0L267.5 634.8L267.5 636.7L267.5 638.5L267.6 640.4L267.6 642.2L267.6 644.1L267.6 645.9L267.6 647.8L267.7 649.6L267.7 651.4L267.7 653.3L267.7 655.1L267.7 657.0L267.8 658.8L267.8 660.6L267.8 662.5L267.8 664.3L267.8 666.1L267.8 668.0L267.9 669.8L267.9 671.6L267.9 673.5L267.9 675.3L267.9 677.1L268.0 679.0L268.0 680.8L268.0 682.6L268.0 684.4L268.0 686.3L268.1 688.1L268.1 689.9L268.1 691.7L268.1 693.6L268.1 695.4" fill="none" stroke="#f01020" stroke-width="1.1" />
<path d="M244.5 55.5L244.6 57.6L244.6 59.7L244.6 61.8L244.6 64.0L244.7 66.1L244.7 68.2L244.7 70.3L244.7 72.4L244.8 74.5L244.8 76.6L244.8 78.7L244.9 80.8L244.9 83.0L244.9 85.1L244.9 87.2L245.0 89.3L245.0 91.4L245.0 93.5L245.0 95.6L245.1 97.7L245.1 99.8L245.1 101.9L245.1 104.0L245.2 106.1L245.2 108.2L245.2 110.3L245.2 112.3L245.3 114.4L245.3 116.5L245.3 118.6L245.3 120.7L245.4 122.8L245.4 124.9L245.4 127.0L245.4 129.0L245.5 131.1L245.5 133.2L245.5 135.3L245.5 137.4L245.6 139.4L245.6 141.5L245.6 143.6L245.6 145.7L245.7 147.8L245.7 149.8L245.7 151.9L245.7 154.0L245.8 156.0L245.8 158.1L245.8 160.2L245.8 162.2L245.9 164.3L245.9 166.4L245.9 168.4L245.9 170.5L246.0 172.6L246.0 174.6L246.0 176.7L246.0 178.7L246.1 180.8L246.1 182.9L246.1 184.9L246.1 187.0L246.2 189.0L246.2 191.1L246.2 193.1L246.3 195.2L246.3 197.2L246.3 199.3L246.3 201.3L246.4 203.4L246.4 205.4L246.4 207.5L246.4 209.5L246.5 211.6L246.5 213.6L246.5 215.6L246.5 217.7L246.6 219.7L246.6 221.8L246.6 223.8L246.6 225.8L246.7 227.9L246.7 229.9L246.7 231.9L246.7 234.0L246.7 236.0L246.8 238.0L246.8 240.0L246.8 242.1L246.8 244.1L246.9 246.1L246.9 248.2L246.9 250.2L246.9 252.2L247.0 254.2L247.0 256.2L247.0 258.3L247.0 260.3L247.1 262.3L247.1 264.3L247.1 266.3L247.1 268.3L247.2 270.4L247.2 272.4L247.2 274.4L247.2 276.4L247.3 278.4L247.3 280.4L247.3 282.4L247.3 284.4L247.4 286.4L247.4 288.4L247.4 290.4L247.4 292.4L247.5 294.5L247.5 296.5L247.5 298.5L247.5 300.5L247.6 302.4L247.6 304.4L247.6 306.4L247.6 308.4L247.7 310.4L247.7 312.4L247.7 314.4L247.7 316.4L247.8 318.4L247.8 320.4L247.8 322.4L247.8 324.4L247.9 326.4L247.9 328.3L247.9 330.3L247.9 332.3L248.0 334.3L248.0 336.3L248.0 338.2L248.0 340.2L248.0 342.2L248.1 344.2L248.1 346.2L248.1 348.1L248.1 350.1L248.2 352.1L248.2 354.1L248.2 356.0L248.2 358.0L248.3 360.0L248.3 361.9L248.3 363.9L248.3 365.9L248.4 367.8L248.4 369.8L248.4 371.8L248.4 373.7L248.5 375.7L248.5 377.7L248.5 379.6L248.5 381.6L248.6 383.5L248.6 385.5L248.6 387.5L248.6 389.4L248.7 391.4L248.7 393.3L248.7 395.3L248.7 397.2L248.7 399.2L248.8 401.1L248.8 403.1L248.8 405.0L248.8 407.0L248.9 408.9L248.9 410.9L248.9 412.8L248.9 414.8L249.0 416.7L249.0 418.6L249.0 420.6L249.0 422.5L249.1 424.5L249.1 426.4L249.1 428.3L249.1 430.3L249.2 432.2L249.2 434.1L249.2 436.1L249.2 438.0L249.2 439.9L249.3 441.9L249.3 443.8L249.3 445.7L249.3 447.6L249.4 449.6L249.4 451.5L249.4 453.4L249.4 455.4L249.5 457.3L249.5 459.2L249.5 461.1L249.5 463.0L249.6 465.0L249.6 466.9L249.6 468.8L249.6 470.7L249.6 472.6L249.7 474.5L249.7 476.5L249.7 478.4L249.7 480.3L249.8 482.2L249.8 484.1L249.8 486.0L249.8 487.9L249.9 489.8L249.9 491.7L249.9 493.6L249.9 495.5L250.0 497.4L250.0 499.4L250.0 501.3L250.0 503.2L250.0 505.1L250.1 507.0L250.1 508.9L250.1 510.7L250.1 512.6L250.2 514.5L250.2 516.4L250.2 518.3L250.2 520.2L250.3 522.1L250.3 524.0L250.3 525.9L250.3 527.8L250.3 529.7L250.4 531.6L250.4 533.4L250.4 535.3L250.4 537.2L250.5 539.1L250.5 541.0L250.5 542.9L250.5 544.8L250.6 546.6L250.6 548.5L250.6 550.4L250.6 552.3L250.6 554.1L250.7 556.0L250.7 557.9L250.7 559.8L250.7 561.6L250.8 563.5L250.8 565.4L250.8 567.3L250.8 569.1L250.9 571.0L250.9 572.9L250.9 574.7L250.9 576.6L250.9 578.5L251.0 580.3L251.0 582.2L251.0 584.1L251.0 585.9L251.1 587.8L251.1 589.6L251.1 591.5L251.1 593.4L251.1 595.2L251.2 597.1L251.2 598.9L251.2 600.8L251.2 602.6L251.3 604.5L251.3 606.3L251.3 608.2L251.3 610.0L251.4 611.9L251.4 613.7L251.4 615.6L251.4 617.4L251.4 619.3L251.5 621.1L251.5 623.0L251.5 624.8L251.5 626.7L251.6 628.5L251.6 630.3L251.6 632.2L251.6 634.0L251.6 635.9L251.7 637.7L251.7 639.5L251.7 641.4L251.7 643.2L251.8 645.0L251.8 646.9L251.8 648.7L251.8 650.5L251.8 652.4L251.9 654.2L251.9 656.0L251.9 657.9L251.9 659.7L252.0 661.5L252.0 663.3L252.0 665.2L252.0 667.0L252.0 668.8L252.1 670.6L252.1 672.4L252.1 674.3L252.1 676.1L252.2 677.9L252.2 679.7L252.2 681.5L252.2 683.4" fill="none" stroke="#f01020" stroke-width="1.1" />
<path d="M347.4 186.0L344.1 184.2L340.9 182.7L337.7 181.5L334.5 180.7L331.3 180.2L328.2 180.1L325.0 180.3L321.9 180.9L318.9 181.8L315.9 183.1L312.9 184.7L310.0 186.6L307.2 188.8L304.4 191.4L301.7 194.3L299.0 197.5L296.4 201.0L293.9 204.8L291.4 209.0L289.0 213.4L286.7 218.1L284.5 223.0L282.4 228.3L280.3 233.8L278.4 239.6L276.5 245.6L274.7 251.8L273.1 258.3L271.5 265.0L270.0 271.9L268.6 279.0L267.4 286.3L266.2 293.8L265.1 301.4L264.1 309.2L263.3 317.2L262.5 325.3L261.9 333.5L261.3 341.9L260.9 350.4L260.5 358.9L260.3 367.6L260.2 376.3L260.2 385.1L260.3 394.0L260.5 402.9L260.8 411.9L261.2 420.9L261.7 429.9L262.3 438.9L263.1 447.9L263.9 456.8L264.8 465.8L265.8 474.7L266.9 483.6L268.2 492.4L269.5 501.2L270.9 509.9L272.3 518.5L273.9 527.0L275.6 535.4L277.3 543.7L279.2 551.8L281.1 559.9L283.1 567.8L285.1 575.5L287.3 583.1L289.5 590.6L291.8 597.8L294.1 604.9L296.5 611.8L299.0 618.5L301.5 625.0L304.1 631.3L306.7 637.3L309.4 643.2L312.1 648.8L314.9 654.1L317.7 659.3L320.6 664.1L323.5 668.8L326.4 673.1L329.3 677.2L332.3 681.0L335.3 684.6L338.3 687.9L341.3 690.8L344.3 693.5L347.4 695.9" fill="none" stroke="#111" stroke-width="1.0" />
<path d="M347.4 319.6L345.8 318.7L344.2 317.9L342.6 317.3L341.0 316.8L339.5 316.5L337.9 316.4L336.4 316.4L334.8 316.7L333.3 317.0L331.8 317.6L330.3 318.3L328.9 319.2L327.5 320.2L326.1 321.4L324.7 322.7L323.4 324.3L322.1 325.9L320.8 327.7L319.6 329.7L318.4 331.8L317.2 334.1L316.1 336.5L315.0 339.0L313.9 341.7L312.9 344.5L312.0 347.4L311.1 350.5L310.2 353.7L309.4 356.9L308.6 360.3L307.9 363.8L307.3 367.4L306.6 371.1L306.1 374.9L305.6 378.8L305.1 382.8L304.7 386.8L304.3 390.9L304.0 395.1L303.8 399.3L303.6 403.6L303.5 408.0L303.4 412.3L303.3 416.8L303.4 421.2L303.4 425.7L303.6 430.2L303.8 434.8L304.0 439.3L304.3 443.9L304.6 448.4L305.0 453.0L305.5 457.6L306.0 462.1L306.5 466.6L307.1 471.1L307.8 475.5L308.5 480.0L309.2 484.3L310.0 488.7L310.9 493.0L311.7 497.2L312.7 501.4L313.6 505.5L314.6 509.5L315.7 513.5L316.8 517.3L317.9 521.1L319.0 524.8L320.2 528.4L321.5 531.9L322.7 535.4L324.0 538.7L325.3 541.9L326.7 544.9L328.0 547.9L329.4 550.8L330.8 553.5L332.3 556.1L333.7 558.5L335.2 560.9L336.7 563.1L338.2 565.1L339.7 567.0L341.2 568.8L342.8 570.4L344.3 571.9L345.8 573.3L347.4 574.4" fill="none" stroke="#111" stroke-width="1.0" />
</g>
<g>
<path d="M347.37 117.50L353.89 115.30L353.41 752.75L347.39 755.30 Z" fill="url(#g28)"/>
<path d="M351.45 116.13L357.96 113.93L357.17 751.16L351.15 753.71 Z" fill="url(#g29)"/>
<path d="M355.52 114.75L362.03 112.56L360.93 749.57L354.91 752.12 Z" fill="url(#g30)"/>
<path d="M359.59 113.38L366.09 111.19L364.68 747.99L358.67 750.53 Z" fill="url(#g31)"/>
<path d="M363.65 112.01L370.14 109.82L368.43 746.40L362.43 748.94 Z" fill="url(#g32)"/>
<path d="M367.71 110.64L374.20 108.45L372.17 744.82L366.18 747.35 Z" fill="url(#g33)"/>
<path d="M371.77 109.27L378.24 107.08L375.91 743.23L369.92 745.77 Z" fill="url(#g34)"/>
<path d="M375.82 107.90L382.29 105.72L379.65 741.65L373.67 744.18 Z" fill="url(#g35)"/>
<path d="M379.86 106.54L386.33 104.35L383.38 740.07L377.41 742.60 Z" fill="url(#g36)"/>
<path d="M383.90 105.17L390.36 102.99L387.11 738.49L381.14 741.02 Z" fill="url(#g37)"/>
<path d="M387.94 103.81L394.39 101.63L390.83 736.92L384.87 739.44 Z" fill="url(#g38)"/>
<path d="M391.97 102.45L398.41 100.27L394.56 735.34L388.60 737.86 Z" fill="url(#g39)"/>
<path d="M396.00 101.09L402.44 98.91L398.27 733.77L392.32 736.29 Z" fill="url(#g40)"/>
<path d="M400.02 99.73L406.45 97.56L401.99 732.20L396.04 734.71 Z" fill="url(#g41)"/>
<path d="M404.04 98.37L410.46 96.20L405.70 730.63L399.76 733.14 Z" fill="url(#g42)"/>
<path d="M408.06 97.02L414.47 94.85L409.41 729.06L403.47 731.57 Z" fill="url(#g43)"/>
<path d="M412.07 95.66L418.48 93.50L413.11 727.49L407.18 730.00 Z" fill="url(#g44)"/>
<path d="M416.07 94.31L422.47 92.15L416.81 725.92L410.89 728.43 Z" fill="url(#g45)"/>
<path d="M420.08 92.96L426.47 90.80L420.50 724.36L414.59 726.86 Z" fill="url(#g46)"/>
<path d="M424.07 91.61L430.46 89.45L424.20 722.80L418.29 725.30 Z" fill="url(#g47)"/>
<path d="M428.07 90.26L434.45 88.11L427.88 721.24L421.98 723.73 Z" fill="url(#g48)"/>
<path d="M432.06 88.91L438.43 86.76L431.57 719.68L425.67 722.17 Z" fill="url(#g49)"/>
<path d="M436.04 87.57L442.41 85.42L435.25 718.12L429.36 720.61 Z" fill="url(#g50)"/>
<path d="M440.02 86.23L446.38 84.08L438.93 716.56L433.04 719.05 Z" fill="url(#g51)"/>
<path d="M444.00 84.88L450.35 82.74L442.60 715.01L436.72 717.50 Z" fill="url(#g52)"/>
<path d="M447.97 83.54L454.31 81.40L446.27 713.45L440.40 715.94 Z" fill="url(#g53)"/>
<path d="M451.93 82.20L458.27 80.06L449.94 711.90L444.07 714.39 Z" fill="url(#g54)"/>
<path d="M455.90 80.87L462.23 78.73L453.60 710.35L447.74 712.83 Z" fill="url(#g55)"/>
<path d="M459.86 79.53L466.18 77.39L457.26 708.80L451.40 711.28 Z" fill="url(#g56)"/>
<path d="M463.81 78.19L470.13 76.06L460.91 707.26L455.06 709.73 Z" fill="url(#g57)"/>
<path d="M467.76 76.86L474.07 74.73L464.57 705.71L458.72 708.19 Z" fill="url(#g58)"/>
<path d="M471.71 75.53L478.01 73.40L468.21 704.17L462.38 706.64 Z" fill="url(#g59)"/>
<path d="M475.65 74.20L481.95 72.07L471.86 702.63L466.03 705.09 Z" fill="url(#g60)"/>
<path d="M479.59 72.87L485.88 70.74L475.50 701.09L469.67 703.55 Z" fill="url(#g61)"/>
<path d="M483.52 71.54L489.80 69.42L479.14 699.55L473.32 702.01 Z" fill="url(#g62)"/>
<path d="M487.45 70.21L493.73 68.09L482.77 698.01L476.95 700.47 Z" fill="url(#g63)"/>
<path d="M491.37 68.89L497.64 66.77L486.40 696.47L480.59 698.93 Z" fill="url(#g64)"/>
<path d="M495.29 67.56L499.21 66.24L487.85 695.86L484.22 697.39 Z" fill="url(#g65)"/>
<path d="M355.9 114.6L355.9 116.8L355.9 118.9L355.9 121.1L355.9 123.2L355.9 125.4L355.9 127.5L355.9 129.7L355.9 131.8L355.9 134.0L355.9 136.1L355.9 138.3L355.9 140.4L355.9 142.6L355.9 144.7L355.9 146.8L355.9 149.0L355.9 151.1L355.8 153.3L355.8 155.4L355.8 157.5L355.8 159.7L355.8 161.8L355.8 163.9L355.8 166.1L355.8 168.2L355.8 170.3L355.8 172.4L355.8 174.6L355.8 176.7L355.8 178.8L355.8 180.9L355.8 183.1L355.9 185.2L355.9 187.3L356.0 189.4L356.1 191.4L356.1 193.5L356.2 195.6L356.3 197.7L356.4 199.8L356.5 201.9L356.5 204.0L356.6 206.0L356.7 208.1L356.8 210.2L356.9 212.3L357.0 214.3L357.1 216.4L357.2 218.4L357.4 220.5L357.5 222.6L357.6 224.6L357.7 226.7L357.9 228.7L358.0 230.8L358.2 232.8L358.3 234.8L358.5 236.9L358.7 238.9L358.9 240.9L359.1 242.9L359.3 245.0L359.5 247.0L359.7 249.0L360.0 251.0L360.2 253.0L360.5 254.9L360.8 256.9L361.1 258.9L361.4 260.9L361.7 262.8L362.1 264.8L362.5 266.7L362.9 268.6L363.3 270.5L363.8 272.4L364.3 274.3L364.9 276.2L365.4 278.1L366.0 279.9L366.7 281.7L367.4 283.6L368.1 285.4L368.9 287.1L369.7 288.9L370.6 290.6L371.5 292.4L372.4 294.1L373.4 295.8L374.4 297.5L375.4 299.2L376.4 300.9L377.5 302.5L378.5 304.2L379.6 305.9L380.6 307.5L381.7 309.2L382.7 310.9L383.7 312.5L384.7 314.2L385.7 315.9L386.7 317.6L387.6 319.3L388.5 320.9L389.4 322.7L390.3 324.4L391.2 326.1L392.0 327.8L392.8 329.5L393.6 331.3L394.4 333.0L395.1 334.8L395.8 336.5L396.5 338.3L397.2 340.1L397.8 341.8L398.5 343.6L399.1 345.4L399.7 347.2L400.3 349.0L400.8 350.8L401.4 352.6L401.9 354.5L402.4 356.3L402.9 358.1L403.3 360.0L403.8 361.8L404.2 363.6L404.6 365.5L405.1 367.3L405.4 369.2L405.8 371.1L406.2 372.9L406.5 374.8L406.8 376.7L407.1 378.6L407.4 380.5L407.7 382.3L408.0 384.2L408.2 386.1L408.5 388.0L408.7 389.9L408.9 391.9L409.1 393.8L409.3 395.7L409.4 397.6L409.6 399.5L409.8 401.5L409.9 403.4L410.0 405.4L410.1 407.3L410.2 409.2L410.3 411.2L410.3 413.1L410.4 415.1L410.4 417.1L410.5 419.0L410.5 421.0L410.5 423.0L410.5 425.0L410.5 426.9L410.4 428.9L410.4 430.9L410.3 432.9L410.2 434.9L410.2 436.9L410.1 438.9L409.9 440.9L409.8 442.9L409.7 444.9L409.5 447.0L409.4 449.0L409.2 451.0L409.0 453.0L408.8 455.1L408.6 457.1L408.4 459.2L408.2 461.2L407.9 463.3L407.6 465.3L407.4 467.4L407.1 469.4L406.8 471.5L406.4 473.6L406.1 475.7L405.8 477.8L405.4 479.9L405.0 481.9L404.6 484.0L404.2 486.2L403.8 488.3L403.3 490.4L402.9 492.5L402.4 494.6L401.9 496.8L401.4 498.9L400.9 501.0L400.4 503.2L399.8 505.3L399.2 507.5L398.7 509.7L398.0 511.9L397.4 514.0L396.8 516.2L396.1 518.4L395.4 520.6L394.7 522.8L394.0 525.1L393.2 527.3L392.5 529.5L391.7 531.8L390.9 534.0L390.0 536.3L389.2 538.5L388.3 540.8L387.4 543.1L386.5 545.4L385.6 547.7L384.6 550.0L383.6 552.3L382.6 554.6L381.6 556.9L380.6 559.2L379.6 561.6L378.6 563.9L377.5 566.2L376.5 568.6L375.5 570.9L374.5 573.2L373.5 575.5L372.5 577.8L371.5 580.1L370.6 582.4L369.8 584.7L368.9 586.9L368.1 589.2L367.4 591.4L366.6 593.6L366.0 595.8L365.3 597.9L364.7 600.1L364.2 602.2L363.6 604.3L363.1 606.4L362.7 608.5L362.3 610.6L361.9 612.7L361.5 614.7L361.1 616.8L360.8 618.8L360.5 620.8L360.2 622.9L359.9 624.9L359.6 626.9L359.4 628.9L359.1 630.9L358.9 632.9L358.7 634.8L358.5 636.8L358.3 638.8L358.1 640.7L358.0 642.7L357.8 644.7L357.6 646.6L357.5 648.6L357.4 650.5L357.2 652.5L357.1 654.4L357.0 656.3L356.8 658.3L356.7 660.2L356.6 662.1L356.5 664.0L356.4 666.0L356.3 667.9L356.2 669.8L356.1 671.7L356.0 673.6L355.9 675.5L355.9 677.5L355.8 679.4L355.7 681.3L355.6 683.2L355.6 685.1L355.5 687.0L355.4 688.9L355.4 690.8L355.3 692.6L355.3 694.5L355.3 696.4L355.3 698.2L355.3 700.1L355.3 702.0L355.3 703.8L355.3 705.7L355.3 707.6L355.3 709.4L355.3 711.3L355.3 713.1L355.3 715.0L355.3 716.9L355.3 718.7L355.3 720.6L355.3 722.4L355.3 724.3L355.3 726.1L355.3 728.0L355.3 729.8L355.3 731.7L355.3 733.5L355.3 735.4L355.3 737.2L355.3 739.1L355.3 740.9L355.3 742.8L355.3 744.6L355.3 746.5L355.3 748.3L355.3 750.1L355.3 752.0" fill="none" stroke="#f01020" stroke-width="1.4" />
<path d="M372.9 108.9L372.9 111.1L372.8 113.2L372.8 115.4L372.8 117.5L372.8 119.6L372.8 121.8L372.8 123.9L372.8 126.1L372.8 128.2L372.8 130.4L372.8 132.5L372.8 134.7L372.8 136.8L372.8 138.9L372.8 141.1L372.8 143.2L372.7 145.3L372.7 147.5L372.7 149.6L372.7 151.7L372.7 153.9L372.7 156.0L372.7 158.1L372.7 160.2L372.7 162.4L372.7 164.5L372.7 166.6L372.7 168.7L372.7 170.9L372.7 173.0L372.7 175.1L372.7 177.2L372.6 179.3L372.6 181.5L372.7 183.6L372.9 185.6L373.0 187.6L373.2 189.7L373.4 191.7L373.6 193.8L373.9 195.8L374.1 197.8L374.3 199.9L374.5 201.9L374.8 203.9L375.0 205.9L375.2 207.9L375.5 209.9L375.8 211.9L376.0 213.9L376.3 215.9L376.6 217.9L376.9 219.9L377.2 221.9L377.5 223.9L377.9 225.8L378.2 227.8L378.5 229.8L378.9 231.7L379.3 233.7L379.6 235.6L380.0 237.6L380.4 239.5L380.8 241.5L381.3 243.4L381.7 245.3L382.1 247.2L382.6 249.1L383.1 251.0L383.6 252.9L384.1 254.8L384.6 256.7L385.1 258.6L385.6 260.5L386.1 262.4L386.7 264.2L387.3 266.1L387.8 267.9L388.4 269.8L389.0 271.6L389.6 273.5L390.2 275.3L390.8 277.2L391.4 279.0L392.0 280.8L392.6 282.7L393.3 284.5L393.9 286.3L394.5 288.1L395.1 290.0L395.8 291.8L396.4 293.6L397.0 295.4L397.6 297.2L398.3 299.0L398.9 300.9L399.5 302.7L400.1 304.5L400.7 306.3L401.3 308.1L401.8 310.0L402.4 311.8L403.0 313.6L403.5 315.4L404.1 317.3L404.6 319.1L405.2 320.9L405.7 322.8L406.2 324.6L406.7 326.4L407.2 328.3L407.7 330.1L408.1 332.0L408.6 333.8L409.1 335.7L409.5 337.5L409.9 339.4L410.3 341.3L410.8 343.1L411.2 345.0L411.5 346.9L411.9 348.7L412.3 350.6L412.6 352.5L413.0 354.4L413.3 356.2L413.6 358.1L414.0 360.0L414.3 361.9L414.5 363.8L414.8 365.7L415.1 367.6L415.4 369.5L415.6 371.4L415.8 373.3L416.1 375.2L416.3 377.1L416.5 379.0L416.7 381.0L416.9 382.9L417.1 384.8L417.2 386.7L417.4 388.7L417.5 390.6L417.7 392.5L417.8 394.5L417.9 396.4L418.0 398.3L418.1 400.3L418.2 402.2L418.3 404.2L418.3 406.1L418.4 408.1L418.4 410.1L418.5 412.0L418.5 414.0L418.5 416.0L418.5 417.9L418.5 419.9L418.5 421.9L418.5 423.9L418.5 425.8L418.4 427.8L418.4 429.8L418.3 431.8L418.2 433.8L418.2 435.8L418.1 437.8L418.0 439.8L417.8 441.8L417.7 443.8L417.6 445.8L417.5 447.8L417.3 449.8L417.1 451.9L417.0 453.9L416.8 455.9L416.6 457.9L416.4 460.0L416.2 462.0L416.0 464.0L415.8 466.1L415.5 468.1L415.3 470.2L415.0 472.2L414.7 474.3L414.5 476.3L414.2 478.4L413.9 480.4L413.6 482.5L413.2 484.6L412.9 486.6L412.6 488.7L412.2 490.8L411.9 492.9L411.5 495.0L411.1 497.0L410.7 499.1L410.3 501.2L409.9 503.3L409.5 505.4L409.1 507.5L408.6 509.6L408.2 511.7L407.7 513.9L407.2 516.0L406.8 518.1L406.3 520.2L405.8 522.3L405.3 524.5L404.7 526.6L404.2 528.7L403.7 530.9L403.1 533.0L402.6 535.1L402.0 537.3L401.4 539.4L400.9 541.6L400.3 543.7L399.7 545.9L399.1 548.1L398.5 550.2L397.9 552.4L397.3 554.5L396.7 556.7L396.0 558.8L395.4 561.0L394.8 563.2L394.2 565.3L393.5 567.5L392.9 569.7L392.3 571.8L391.7 574.0L391.0 576.1L390.4 578.3L389.8 580.5L389.2 582.6L388.6 584.8L388.0 586.9L387.4 589.0L386.8 591.2L386.2 593.3L385.7 595.4L385.1 597.6L384.6 599.7L384.0 601.8L383.5 603.9L383.0 606.0L382.5 608.1L382.0 610.2L381.5 612.3L381.0 614.4L380.6 616.5L380.1 618.5L379.7 620.6L379.3 622.7L378.9 624.7L378.5 626.8L378.1 628.8L377.7 630.9L377.4 632.9L377.0 634.9L376.7 636.9L376.3 639.0L376.0 641.0L375.7 643.0L375.4 645.0L375.1 647.0L374.8 649.0L374.5 651.0L374.3 653.0L374.0 655.0L373.7 657.0L373.5 658.9L373.2 660.9L373.0 662.9L372.8 664.8L372.6 666.8L372.3 668.8L372.1 670.7L371.9 672.7L371.7 674.6L371.5 676.6L371.4 678.5L371.2 680.5L371.1 682.4L371.1 684.2L371.1 686.1L371.1 688.0L371.1 689.8L371.1 691.7L371.1 693.5L371.1 695.4L371.1 697.3L371.1 699.1L371.1 701.0L371.1 702.8L371.1 704.7L371.1 706.6L371.0 708.4L371.0 710.3L371.0 712.1L371.0 714.0L371.0 715.8L371.0 717.7L371.0 719.5L371.0 721.4L371.0 723.2L371.0 725.1L371.0 726.9L371.0 728.8L371.0 730.6L371.0 732.5L371.0 734.3L371.0 736.1L371.0 738.0L371.0 739.8L370.9 741.7L370.9 743.5L370.9 745.3" fill="none" stroke="#f01020" stroke-width="1.4" />
<path d="M386.7 104.2L386.7 106.4L386.7 108.5L386.7 110.7L386.6 112.8L386.6 115.0L386.6 117.1L386.6 119.3L386.6 121.4L386.6 123.5L386.6 125.7L386.6 127.8L386.6 130.0L386.6 132.1L386.5 134.2L386.5 136.4L386.5 138.5L386.5 140.6L386.5 142.8L386.5 144.9L386.5 147.0L386.5 149.1L386.5 151.3L386.5 153.4L386.4 155.5L386.4 157.6L386.4 159.8L386.4 161.9L386.4 164.0L386.4 166.1L386.4 168.2L386.4 170.4L386.4 172.5L386.4 174.6L386.3 176.7L386.3 178.8L386.3 180.9L386.3 183.0L386.3 185.1L386.4 187.2L386.6 189.2L386.9 191.2L387.2 193.2L387.4 195.3L387.7 197.3L388.0 199.3L388.3 201.2L388.6 203.2L388.9 205.2L389.2 207.2L389.5 209.2L389.8 211.2L390.2 213.1L390.5 215.1L390.9 217.1L391.2 219.0L391.6 221.0L391.9 223.0L392.3 224.9L392.7 226.9L393.1 228.8L393.4 230.7L393.8 232.7L394.2 234.6L394.7 236.5L395.1 238.5L395.5 240.4L395.9 242.3L396.4 244.2L396.8 246.1L397.3 248.0L397.7 249.9L398.2 251.8L398.6 253.7L399.1 255.6L399.6 257.5L400.0 259.4L400.5 261.3L401.0 263.2L401.5 265.1L402.0 267.0L402.5 268.8L402.9 270.7L403.4 272.6L403.9 274.5L404.4 276.4L404.9 278.2L405.4 280.1L405.9 282.0L406.4 283.8L406.9 285.7L407.4 287.6L407.8 289.4L408.3 291.3L408.8 293.2L409.3 295.0L409.7 296.9L410.2 298.8L410.7 300.6L411.1 302.5L411.6 304.4L412.0 306.2L412.5 308.1L412.9 310.0L413.3 311.9L413.7 313.7L414.2 315.6L414.6 317.5L415.0 319.4L415.4 321.2L415.8 323.1L416.1 325.0L416.5 326.9L416.9 328.8L417.2 330.6L417.6 332.5L417.9 334.4L418.3 336.3L418.6 338.2L418.9 340.1L419.2 342.0L419.6 343.9L419.8 345.8L420.1 347.7L420.4 349.6L420.7 351.5L421.0 353.4L421.2 355.3L421.5 357.2L421.7 359.1L421.9 361.0L422.2 362.9L422.4 364.9L422.6 366.8L422.8 368.7L423.0 370.6L423.2 372.5L423.3 374.5L423.5 376.4L423.7 378.3L423.8 380.3L424.0 382.2L424.1 384.1L424.2 386.1L424.3 388.0L424.4 390.0L424.5 391.9L424.6 393.9L424.7 395.8L424.8 397.8L424.9 399.7L424.9 401.7L425.0 403.6L425.0 405.6L425.0 407.6L425.1 409.5L425.1 411.5L425.1 413.5L425.1 415.4L425.1 417.4L425.1 419.4L425.1 421.3L425.0 423.3L425.0 425.3L424.9 427.3L424.9 429.3L424.8 431.3L424.7 433.3L424.7 435.3L424.6 437.2L424.5 439.2L424.4 441.2L424.3 443.2L424.1 445.3L424.0 447.3L423.9 449.3L423.7 451.3L423.6 453.3L423.4 455.3L423.2 457.3L423.1 459.3L422.9 461.4L422.7 463.4L422.5 465.4L422.3 467.4L422.1 469.5L421.8 471.5L421.6 473.5L421.4 475.6L421.1 477.6L420.9 479.7L420.6 481.7L420.3 483.8L420.0 485.8L419.7 487.9L419.4 489.9L419.1 492.0L418.8 494.0L418.5 496.1L418.2 498.1L417.8 500.2L417.5 502.3L417.2 504.3L416.8 506.4L416.4 508.5L416.1 510.6L415.7 512.6L415.3 514.7L414.9 516.8L414.5 518.9L414.1 521.0L413.7 523.1L413.3 525.1L412.8 527.2L412.4 529.3L412.0 531.4L411.5 533.5L411.1 535.6L410.6 537.7L410.2 539.8L409.7 541.9L409.2 544.0L408.8 546.1L408.3 548.2L407.8 550.3L407.3 552.4L406.8 554.5L406.3 556.6L405.8 558.7L405.4 560.9L404.9 563.0L404.4 565.1L403.9 567.2L403.4 569.3L402.9 571.4L402.4 573.5L401.9 575.6L401.4 577.7L400.9 579.8L400.4 581.9L399.9 584.0L399.4 586.1L398.9 588.2L398.4 590.3L397.9 592.4L397.4 594.5L397.0 596.6L396.5 598.7L396.0 600.7L395.6 602.8L395.1 604.9L394.6 607.0L394.2 609.0L393.8 611.1L393.3 613.2L392.9 615.2L392.5 617.3L392.1 619.3L391.7 621.4L391.3 623.4L390.9 625.5L390.5 627.5L390.1 629.6L389.7 631.6L389.4 633.6L389.0 635.7L388.6 637.7L388.3 639.7L388.0 641.7L387.6 643.7L387.3 645.8L387.0 647.8L386.7 649.8L386.4 651.8L386.1 653.8L385.8 655.7L385.5 657.7L385.2 659.7L384.9 661.7L384.7 663.7L384.4 665.7L384.1 667.6L384.0 669.5L384.0 671.4L384.0 673.3L384.0 675.1L384.0 677.0L384.0 678.9L384.0 680.7L384.0 682.6L384.0 684.5L384.0 686.3L384.0 688.2L383.9 690.0L383.9 691.9L383.9 693.8L383.9 695.6L383.9 697.5L383.9 699.3L383.9 701.2L383.9 703.0L383.9 704.9L383.9 706.7L383.9 708.6L383.9 710.4L383.8 712.3L383.8 714.1L383.8 716.0L383.8 717.8L383.8 719.7L383.8 721.5L383.8 723.4L383.8 725.2L383.8 727.1L383.8 728.9L383.8 730.7L383.8 732.6L383.7 734.4L383.7 736.3L383.7 738.1L383.7 739.9" fill="none" stroke="#f01020" stroke-width="1.4" />
<path d="M402.0 99.1L402.0 101.2L402.0 103.4L402.0 105.5L401.9 107.6L401.9 109.8L401.9 111.9L401.9 114.1L401.9 116.2L401.9 118.3L401.9 120.5L401.8 122.6L401.8 124.7L401.8 126.9L401.8 129.0L401.8 131.1L401.8 133.3L401.8 135.4L401.7 137.5L401.7 139.7L401.7 141.8L401.7 143.9L401.7 146.0L401.7 148.2L401.7 150.3L401.6 152.4L401.6 154.5L401.6 156.6L401.6 158.7L401.6 160.9L401.6 163.0L401.6 165.1L401.6 167.2L401.5 169.3L401.5 171.4L401.5 173.5L401.5 175.6L401.5 177.7L401.5 179.9L401.5 182.0L401.4 184.1L401.4 186.2L401.4 188.3L401.4 190.4L401.4 192.5L401.4 194.6L401.6 196.6L401.9 198.6L402.2 200.6L402.5 202.5L402.8 204.5L403.2 206.5L403.5 208.5L403.8 210.4L404.1 212.4L404.5 214.3L404.8 216.3L405.2 218.3L405.5 220.2L405.9 222.2L406.2 224.1L406.6 226.1L407.0 228.0L407.3 229.9L407.7 231.9L408.1 233.8L408.5 235.8L408.9 237.7L409.2 239.6L409.6 241.5L410.0 243.5L410.4 245.4L410.8 247.3L411.2 249.2L411.6 251.2L412.0 253.1L412.4 255.0L412.8 256.9L413.2 258.8L413.6 260.7L414.0 262.6L414.4 264.5L414.8 266.4L415.2 268.4L415.6 270.3L416.0 272.2L416.4 274.1L416.8 276.0L417.2 277.9L417.6 279.8L418.0 281.7L418.3 283.6L418.7 285.5L419.1 287.4L419.5 289.3L419.9 291.2L420.2 293.1L420.6 295.0L421.0 296.9L421.3 298.8L421.7 300.7L422.0 302.6L422.4 304.5L422.7 306.4L423.1 308.3L423.4 310.2L423.7 312.1L424.1 314.0L424.4 315.9L424.7 317.8L425.0 319.7L425.3 321.6L425.6 323.5L425.9 325.4L426.2 327.3L426.5 329.2L426.7 331.2L427.0 333.1L427.3 335.0L427.5 336.9L427.8 338.8L428.0 340.7L428.2 342.6L428.5 344.6L428.7 346.5L428.9 348.4L429.1 350.3L429.3 352.3L429.5 354.2L429.7 356.1L429.9 358.0L430.1 360.0L430.3 361.9L430.4 363.8L430.6 365.8L430.7 367.7L430.9 369.6L431.0 371.6L431.2 373.5L431.3 375.5L431.4 377.4L431.5 379.3L431.6 381.3L431.7 383.2L431.8 385.2L431.9 387.1L432.0 389.1L432.1 391.0L432.1 393.0L432.2 395.0L432.2 396.9L432.3 398.9L432.3 400.8L432.3 402.8L432.4 404.8L432.4 406.7L432.4 408.7L432.4 410.7L432.4 412.6L432.4 414.6L432.4 416.6L432.3 418.6L432.3 420.5L432.3 422.5L432.2 424.5L432.2 426.5L432.1 428.5L432.0 430.5L432.0 432.4L431.9 434.4L431.8 436.4L431.7 438.4L431.6 440.4L431.5 442.4L431.4 444.4L431.3 446.4L431.2 448.4L431.0 450.4L430.9 452.4L430.7 454.4L430.6 456.4L430.4 458.4L430.3 460.4L430.1 462.5L429.9 464.5L429.7 466.5L429.5 468.5L429.3 470.5L429.1 472.5L428.9 474.6L428.7 476.6L428.5 478.6L428.3 480.6L428.0 482.7L427.8 484.7L427.5 486.7L427.3 488.8L427.0 490.8L426.8 492.8L426.5 494.9L426.2 496.9L425.9 499.0L425.6 501.0L425.3 503.1L425.0 505.1L424.7 507.1L424.4 509.2L424.1 511.2L423.8 513.3L423.5 515.3L423.1 517.4L422.8 519.5L422.4 521.5L422.1 523.6L421.7 525.6L421.4 527.7L421.0 529.7L420.7 531.8L420.3 533.9L419.9 535.9L419.5 538.0L419.1 540.1L418.8 542.1L418.4 544.2L418.0 546.3L417.6 548.3L417.2 550.4L416.8 552.5L416.4 554.5L416.0 556.6L415.6 558.7L415.2 560.7L414.8 562.8L414.3 564.9L413.9 566.9L413.5 569.0L413.1 571.1L412.7 573.1L412.3 575.2L411.8 577.3L411.4 579.3L411.0 581.4L410.6 583.5L410.2 585.5L409.8 587.6L409.4 589.7L408.9 591.7L408.5 593.8L408.1 595.8L407.7 597.9L407.3 599.9L406.9 602.0L406.5 604.0L406.1 606.1L405.7 608.1L405.3 610.2L404.9 612.2L404.6 614.3L404.2 616.3L403.8 618.3L403.4 620.4L403.1 622.4L402.7 624.4L402.3 626.5L402.0 628.5L401.6 630.5L401.3 632.5L400.9 634.5L400.6 636.5L400.2 638.6L399.9 640.6L399.6 642.6L399.3 644.6L398.9 646.6L398.6 648.6L398.4 650.5L398.4 652.4L398.4 654.3L398.4 656.2L398.4 658.0L398.3 659.9L398.3 661.8L398.3 663.6L398.3 665.5L398.3 667.4L398.3 669.2L398.3 671.1L398.3 673.0L398.3 674.8L398.2 676.7L398.2 678.5L398.2 680.4L398.2 682.3L398.2 684.1L398.2 686.0L398.2 687.8L398.2 689.7L398.1 691.5L398.1 693.4L398.1 695.2L398.1 697.1L398.1 698.9L398.1 700.8L398.1 702.6L398.1 704.5L398.0 706.3L398.0 708.2L398.0 710.0L398.0 711.9L398.0 713.7L398.0 715.6L398.0 717.4L398.0 719.2L397.9 721.1L397.9 722.9L397.9 724.8L397.9 726.6L397.9 728.4L397.9 730.3L397.9 732.1L397.9 733.9" fill="none" stroke="#f01020" stroke-width="1.4" />
<path d="M417.2 93.9L417.2 96.1L417.2 98.2L417.2 100.3L417.2 102.5L417.1 104.6L417.1 106.8L417.1 108.9L417.1 111.0L417.1 113.2L417.1 115.3L417.0 117.4L417.0 119.6L417.0 121.7L417.0 123.8L417.0 126.0L417.0 128.1L416.9 130.2L416.9 132.3L416.9 134.5L416.9 136.6L416.9 138.7L416.8 140.8L416.8 142.9L416.8 145.1L416.8 147.2L416.8 149.3L416.8 151.4L416.7 153.5L416.7 155.6L416.7 157.7L416.7 159.8L416.7 162.0L416.7 164.1L416.6 166.2L416.6 168.3L416.6 170.4L416.6 172.5L416.6 174.6L416.5 176.7L416.5 178.8L416.5 180.9L416.5 183.0L416.5 185.1L416.5 187.2L416.4 189.3L416.4 191.4L416.4 193.5L416.4 195.6L416.4 197.7L416.4 199.7L416.3 201.8L416.3 203.9L416.3 206.0L416.3 208.1L416.4 210.2L416.7 212.1L417.0 214.1L417.3 216.0L417.6 218.0L418.0 220.0L418.3 221.9L418.6 223.9L418.9 225.8L419.3 227.8L419.6 229.7L419.9 231.7L420.3 233.6L420.6 235.6L420.9 237.5L421.3 239.4L421.6 241.4L422.0 243.3L422.3 245.3L422.6 247.2L423.0 249.1L423.3 251.1L423.7 253.0L424.0 254.9L424.3 256.9L424.7 258.8L425.0 260.7L425.3 262.6L425.7 264.6L426.0 266.5L426.3 268.4L426.7 270.3L427.0 272.3L427.3 274.2L427.6 276.1L428.0 278.0L428.3 280.0L428.6 281.9L428.9 283.8L429.2 285.7L429.5 287.7L429.8 289.6L430.1 291.5L430.4 293.4L430.7 295.3L431.0 297.3L431.3 299.2L431.6 301.1L431.9 303.0L432.1 304.9L432.4 306.9L432.7 308.8L432.9 310.7L433.2 312.6L433.5 314.6L433.7 316.5L434.0 318.4L434.2 320.3L434.4 322.3L434.7 324.2L434.9 326.1L435.1 328.0L435.3 330.0L435.6 331.9L435.8 333.8L436.0 335.8L436.2 337.7L436.4 339.6L436.6 341.6L436.7 343.5L436.9 345.4L437.1 347.4L437.3 349.3L437.4 351.2L437.6 353.2L437.7 355.1L437.9 357.1L438.0 359.0L438.1 360.9L438.3 362.9L438.4 364.8L438.5 366.8L438.6 368.7L438.7 370.7L438.8 372.6L438.9 374.6L439.0 376.5L439.1 378.5L439.2 380.4L439.2 382.4L439.3 384.3L439.4 386.3L439.4 388.3L439.5 390.2L439.5 392.2L439.6 394.1L439.6 396.1L439.6 398.1L439.6 400.0L439.7 402.0L439.7 404.0L439.7 405.9L439.7 407.9L439.7 409.9L439.6 411.8L439.6 413.8L439.6 415.8L439.6 417.8L439.5 419.7L439.5 421.7L439.4 423.7L439.4 425.7L439.3 427.7L439.3 429.6L439.2 431.6L439.1 433.6L439.0 435.6L438.9 437.6L438.8 439.6L438.7 441.6L438.6 443.6L438.5 445.6L438.4 447.6L438.3 449.5L438.2 451.5L438.0 453.5L437.9 455.5L437.8 457.5L437.6 459.5L437.4 461.5L437.3 463.6L437.1 465.6L437.0 467.6L436.8 469.6L436.6 471.6L436.4 473.6L436.2 475.6L436.0 477.6L435.8 479.6L435.6 481.6L435.4 483.7L435.2 485.7L435.0 487.7L434.7 489.7L434.5 491.7L434.3 493.8L434.0 495.8L433.8 497.8L433.5 499.8L433.3 501.9L433.0 503.9L432.7 505.9L432.5 507.9L432.2 510.0L431.9 512.0L431.6 514.0L431.3 516.1L431.1 518.1L430.8 520.1L430.5 522.2L430.2 524.2L429.9 526.2L429.5 528.3L429.2 530.3L428.9 532.4L428.6 534.4L428.3 536.4L427.9 538.5L427.6 540.5L427.3 542.6L427.0 544.6L426.6 546.6L426.3 548.7L425.9 550.7L425.6 552.8L425.2 554.8L424.9 556.8L424.5 558.9L424.2 560.9L423.8 563.0L423.5 565.0L423.1 567.0L422.8 569.1L422.4 571.1L422.1 573.2L421.7 575.2L421.3 577.2L421.0 579.3L420.6 581.3L420.3 583.4L419.9 585.4L419.5 587.4L419.2 589.5L418.8 591.5L418.5 593.5L418.1 595.6L417.7 597.6L417.4 599.6L417.0 601.7L416.7 603.7L416.3 605.7L416.0 607.7L415.6 609.8L415.3 611.8L414.9 613.8L414.6 615.8L414.2 617.8L413.9 619.8L413.6 621.9L413.2 623.9L412.9 625.9L412.8 627.8L412.8 629.7L412.8 631.6L412.7 633.4L412.7 635.3L412.7 637.2L412.7 639.1L412.7 640.9L412.7 642.8L412.7 644.7L412.6 646.5L412.6 648.4L412.6 650.3L412.6 652.1L412.6 654.0L412.6 655.9L412.5 657.7L412.5 659.6L412.5 661.5L412.5 663.3L412.5 665.2L412.5 667.1L412.5 668.9L412.4 670.8L412.4 672.6L412.4 674.5L412.4 676.4L412.4 678.2L412.4 680.1L412.3 681.9L412.3 683.8L412.3 685.6L412.3 687.5L412.3 689.3L412.3 691.2L412.3 693.0L412.2 694.9L412.2 696.7L412.2 698.6L412.2 700.4L412.2 702.2L412.2 704.1L412.1 705.9L412.1 707.8L412.1 709.6L412.1 711.5L412.1 713.3L412.1 715.1L412.1 717.0L412.0 718.8L412.0 720.6L412.0 722.5L412.0 724.3L412.0 726.1L412.0 728.0" fill="none" stroke="#f01020" stroke-width="1.4" />
<path d="M432.4 88.8L432.4 90.9L432.4 93.1L432.3 95.2L432.3 97.3L432.3 99.5L432.3 101.6L432.3 103.8L432.2 105.9L432.2 108.0L432.2 110.1L432.2 112.3L432.2 114.4L432.1 116.5L432.1 118.7L432.1 120.8L432.1 122.9L432.0 125.0L432.0 127.1L432.0 129.3L432.0 131.4L432.0 133.5L431.9 135.6L431.9 137.7L431.9 139.9L431.9 142.0L431.9 144.1L431.8 146.2L431.8 148.3L431.8 150.4L431.8 152.5L431.7 154.6L431.7 156.7L431.7 158.8L431.7 160.9L431.7 163.0L431.6 165.2L431.6 167.3L431.6 169.4L431.6 171.5L431.6 173.6L431.5 175.6L431.5 177.7L431.5 179.8L431.5 181.9L431.5 184.0L431.4 186.1L431.4 188.2L431.4 190.3L431.4 192.4L431.3 194.5L431.3 196.6L431.3 198.6L431.3 200.7L431.3 202.8L431.2 204.9L431.2 207.0L431.2 209.1L431.2 211.1L431.2 213.2L431.1 215.3L431.1 217.4L431.1 219.4L431.1 221.5L431.0 223.6L431.0 225.7L431.0 227.7L431.0 229.8L431.0 231.8L431.3 233.8L431.6 235.8L431.9 237.7L432.2 239.7L432.5 241.6L432.8 243.6L433.1 245.5L433.4 247.5L433.7 249.4L433.9 251.4L434.2 253.3L434.5 255.2L434.8 257.2L435.1 259.1L435.4 261.1L435.6 263.0L435.9 265.0L436.2 266.9L436.5 268.8L436.8 270.8L437.0 272.7L437.3 274.7L437.6 276.6L437.8 278.5L438.1 280.5L438.3 282.4L438.6 284.3L438.9 286.3L439.1 288.2L439.4 290.2L439.6 292.1L439.9 294.0L440.1 296.0L440.3 297.9L440.6 299.8L440.8 301.8L441.0 303.7L441.2 305.6L441.5 307.6L441.7 309.5L441.9 311.5L442.1 313.4L442.3 315.3L442.5 317.3L442.7 319.2L442.9 321.2L443.1 323.1L443.3 325.0L443.4 327.0L443.6 328.9L443.8 330.9L444.0 332.8L444.1 334.7L444.3 336.7L444.4 338.6L444.6 340.6L444.7 342.5L444.9 344.5L445.0 346.4L445.2 348.4L445.3 350.3L445.4 352.2L445.5 354.2L445.6 356.1L445.7 358.1L445.8 360.0L445.9 362.0L446.0 363.9L446.1 365.9L446.2 367.9L446.3 369.8L446.4 371.8L446.4 373.7L446.5 375.7L446.6 377.6L446.6 379.6L446.7 381.6L446.7 383.5L446.8 385.5L446.8 387.4L446.8 389.4L446.9 391.4L446.9 393.3L446.9 395.3L446.9 397.3L446.9 399.2L446.9 401.2L446.9 403.2L446.9 405.1L446.9 407.1L446.9 409.1L446.9 411.0L446.8 413.0L446.8 415.0L446.8 417.0L446.7 418.9L446.7 420.9L446.6 422.9L446.6 424.9L446.5 426.9L446.5 428.8L446.4 430.8L446.3 432.8L446.2 434.8L446.1 436.8L446.1 438.8L446.0 440.7L445.9 442.7L445.8 444.7L445.6 446.7L445.5 448.7L445.4 450.7L445.3 452.7L445.2 454.7L445.0 456.7L444.9 458.7L444.8 460.7L444.6 462.6L444.5 464.6L444.3 466.6L444.1 468.6L444.0 470.6L443.8 472.6L443.6 474.6L443.5 476.6L443.3 478.6L443.1 480.7L442.9 482.7L442.7 484.7L442.5 486.7L442.3 488.7L442.1 490.7L441.9 492.7L441.7 494.7L441.4 496.7L441.2 498.7L441.0 500.7L440.8 502.7L440.5 504.8L440.3 506.8L440.1 508.8L439.8 510.8L439.6 512.8L439.3 514.8L439.1 516.9L438.8 518.9L438.5 520.9L438.3 522.9L438.0 524.9L437.7 526.9L437.5 529.0L437.2 531.0L436.9 533.0L436.6 535.0L436.3 537.0L436.0 539.1L435.8 541.1L435.5 543.1L435.2 545.1L434.9 547.1L434.6 549.2L434.3 551.2L434.0 553.2L433.7 555.2L433.4 557.2L433.0 559.3L432.7 561.3L432.4 563.3L432.1 565.3L431.8 567.4L431.5 569.4L431.2 571.4L430.9 573.4L430.5 575.4L430.2 577.4L429.9 579.5L429.6 581.5L429.3 583.5L428.9 585.5L428.6 587.5L428.3 589.5L428.0 591.6L427.7 593.6L427.3 595.6L427.3 597.5L427.2 599.4L427.2 601.3L427.2 603.2L427.2 605.0L427.2 606.9L427.2 608.8L427.1 610.7L427.1 612.6L427.1 614.5L427.1 616.3L427.1 618.2L427.0 620.1L427.0 622.0L427.0 623.8L427.0 625.7L427.0 627.6L426.9 629.5L426.9 631.3L426.9 633.2L426.9 635.1L426.9 637.0L426.8 638.8L426.8 640.7L426.8 642.6L426.8 644.4L426.8 646.3L426.8 648.2L426.7 650.0L426.7 651.9L426.7 653.7L426.7 655.6L426.7 657.5L426.6 659.3L426.6 661.2L426.6 663.0L426.6 664.9L426.6 666.8L426.5 668.6L426.5 670.5L426.5 672.3L426.5 674.2L426.5 676.0L426.5 677.9L426.4 679.7L426.4 681.6L426.4 683.4L426.4 685.3L426.4 687.1L426.3 689.0L426.3 690.8L426.3 692.7L426.3 694.5L426.3 696.3L426.2 698.2L426.2 700.0L426.2 701.9L426.2 703.7L426.2 705.5L426.2 707.4L426.1 709.2L426.1 711.0L426.1 712.9L426.1 714.7L426.1 716.5L426.0 718.4L426.0 720.2L426.0 722.0" fill="none" stroke="#f01020" stroke-width="1.4" />
<path d="M447.5 83.7L447.5 85.8L447.5 88.0L447.5 90.1L447.4 92.2L447.4 94.4L447.4 96.5L447.4 98.6L447.3 100.8L447.3 102.9L447.3 105.0L447.3 107.1L447.2 109.3L447.2 111.4L447.2 113.5L447.1 115.6L447.1 117.8L447.1 119.9L447.1 122.0L447.0 124.1L447.0 126.2L447.0 128.3L447.0 130.5L446.9 132.6L446.9 134.7L446.9 136.8L446.9 138.9L446.8 141.0L446.8 143.1L446.8 145.2L446.8 147.3L446.7 149.4L446.7 151.5L446.7 153.6L446.7 155.7L446.6 157.8L446.6 159.9L446.6 162.0L446.6 164.1L446.5 166.2L446.5 168.3L446.5 170.4L446.5 172.5L446.4 174.6L446.4 176.7L446.4 178.8L446.4 180.9L446.3 183.0L446.3 185.0L446.3 187.1L446.3 189.2L446.2 191.3L446.2 193.4L446.2 195.5L446.2 197.5L446.1 199.6L446.1 201.7L446.1 203.8L446.1 205.9L446.0 207.9L446.0 210.0L446.0 212.1L446.0 214.2L446.0 216.2L445.9 218.3L445.9 220.4L445.9 222.4L445.9 224.5L445.8 226.6L445.8 228.6L445.8 230.7L445.8 232.8L445.7 234.8L445.7 236.9L445.7 238.9L445.7 241.0L445.6 243.1L445.6 245.1L445.6 247.2L445.6 249.2L445.5 251.3L445.5 253.3L445.5 255.4L445.5 257.4L445.4 259.5L445.4 261.5L445.4 263.6L445.5 265.6L445.7 267.5L446.0 269.5L446.2 271.4L446.4 273.4L446.6 275.3L446.9 277.3L447.1 279.2L447.3 281.2L447.5 283.1L447.7 285.1L447.9 287.0L448.1 289.0L448.4 290.9L448.6 292.9L448.8 294.8L448.9 296.8L449.1 298.7L449.3 300.7L449.5 302.6L449.7 304.6L449.9 306.5L450.1 308.4L450.2 310.4L450.4 312.3L450.6 314.3L450.7 316.2L450.9 318.2L451.1 320.1L451.2 322.1L451.4 324.0L451.5 326.0L451.7 327.9L451.8 329.9L451.9 331.8L452.1 333.8L452.2 335.7L452.3 337.7L452.4 339.6L452.6 341.6L452.7 343.5L452.8 345.5L452.9 347.5L453.0 349.4L453.1 351.4L453.2 353.3L453.3 355.3L453.4 357.2L453.4 359.2L453.5 361.1L453.6 363.1L453.7 365.1L453.7 367.0L453.8 369.0L453.8 370.9L453.9 372.9L453.9 374.9L454.0 376.8L454.0 378.8L454.1 380.7L454.1 382.7L454.1 384.7L454.1 386.6L454.2 388.6L454.2 390.6L454.2 392.5L454.2 394.5L454.2 396.5L454.2 398.4L454.2 400.4L454.2 402.4L454.2 404.3L454.1 406.3L454.1 408.3L454.1 410.2L454.1 412.2L454.0 414.2L454.0 416.2L453.9 418.1L453.9 420.1L453.8 422.1L453.8 424.1L453.7 426.0L453.6 428.0L453.6 430.0L453.5 432.0L453.4 434.0L453.3 435.9L453.2 437.9L453.2 439.9L453.1 441.9L453.0 443.9L452.9 445.9L452.8 447.8L452.6 449.8L452.5 451.8L452.4 453.8L452.3 455.8L452.2 457.8L452.0 459.8L451.9 461.8L451.7 463.7L451.6 465.7L451.5 467.7L451.3 469.7L451.2 471.7L451.0 473.7L450.8 475.7L450.7 477.7L450.5 479.7L450.3 481.7L450.1 483.7L450.0 485.7L449.8 487.7L449.6 489.7L449.4 491.7L449.2 493.7L449.0 495.7L448.8 497.7L448.6 499.7L448.4 501.7L448.2 503.7L448.0 505.7L447.8 507.7L447.5 509.7L447.3 511.7L447.1 513.7L446.9 515.7L446.6 517.7L446.4 519.7L446.2 521.7L445.9 523.7L445.7 525.7L445.4 527.7L445.2 529.7L444.9 531.7L444.7 533.7L444.4 535.7L444.2 537.7L443.9 539.7L443.7 541.7L443.4 543.7L443.1 545.7L442.9 547.7L442.6 549.7L442.3 551.8L442.1 553.8L441.9 555.7L441.9 557.6L441.9 559.5L441.8 561.4L441.8 563.3L441.8 565.2L441.8 567.1L441.7 569.0L441.7 570.9L441.7 572.8L441.7 574.7L441.7 576.6L441.6 578.5L441.6 580.4L441.6 582.3L441.6 584.2L441.5 586.1L441.5 587.9L441.5 589.8L441.5 591.7L441.5 593.6L441.4 595.5L441.4 597.4L441.4 599.3L441.4 601.1L441.3 603.0L441.3 604.9L441.3 606.8L441.3 608.7L441.3 610.5L441.2 612.4L441.2 614.3L441.2 616.2L441.2 618.0L441.1 619.9L441.1 621.8L441.1 623.7L441.1 625.5L441.1 627.4L441.0 629.3L441.0 631.1L441.0 633.0L441.0 634.9L440.9 636.7L440.9 638.6L440.9 640.5L440.9 642.3L440.9 644.2L440.8 646.0L440.8 647.9L440.8 649.8L440.8 651.6L440.7 653.5L440.7 655.3L440.7 657.2L440.7 659.0L440.7 660.9L440.6 662.8L440.6 664.6L440.6 666.5L440.6 668.3L440.5 670.2L440.5 672.0L440.5 673.9L440.5 675.7L440.5 677.5L440.4 679.4L440.4 681.2L440.4 683.1L440.4 684.9L440.3 686.8L440.3 688.6L440.3 690.4L440.3 692.3L440.3 694.1L440.2 696.0L440.2 697.8L440.2 699.6L440.2 701.5L440.1 703.3L440.1 705.1L440.1 707.0L440.1 708.8L440.1 710.6L440.0 712.5L440.0 714.3L440.0 716.1" fill="none" stroke="#f01020" stroke-width="1.4" />
<path d="M462.6 78.6L462.6 80.7L462.5 82.9L462.5 85.0L462.5 87.1L462.4 89.3L462.4 91.4L462.4 93.5L462.4 95.6L462.3 97.8L462.3 99.9L462.3 102.0L462.2 104.1L462.2 106.3L462.2 108.4L462.1 110.5L462.1 112.6L462.1 114.7L462.1 116.9L462.0 119.0L462.0 121.1L462.0 123.2L461.9 125.3L461.9 127.4L461.9 129.5L461.9 131.6L461.8 133.7L461.8 135.8L461.8 137.9L461.7 140.1L461.7 142.2L461.7 144.3L461.7 146.4L461.6 148.5L461.6 150.6L461.6 152.7L461.5 154.7L461.5 156.8L461.5 158.9L461.5 161.0L461.4 163.1L461.4 165.2L461.4 167.3L461.3 169.4L461.3 171.5L461.3 173.6L461.3 175.7L461.2 177.7L461.2 179.8L461.2 181.9L461.1 184.0L461.1 186.1L461.1 188.1L461.1 190.2L461.0 192.3L461.0 194.4L461.0 196.5L460.9 198.5L460.9 200.6L460.9 202.7L460.9 204.7L460.8 206.8L460.8 208.9L460.8 211.0L460.7 213.0L460.7 215.1L460.7 217.2L460.7 219.2L460.6 221.3L460.6 223.3L460.6 225.4L460.5 227.5L460.5 229.5L460.5 231.6L460.5 233.6L460.4 235.7L460.4 237.7L460.4 239.8L460.3 241.9L460.3 243.9L460.3 246.0L460.3 248.0L460.2 250.1L460.2 252.1L460.2 254.1L460.2 256.2L460.1 258.2L460.1 260.3L460.1 262.3L460.0 264.4L460.0 266.4L460.0 268.4L460.0 270.5L459.9 272.5L459.9 274.6L459.9 276.6L459.8 278.6L459.8 280.7L459.8 282.7L459.8 284.7L459.7 286.8L459.7 288.8L459.7 290.8L459.6 292.8L459.6 294.9L459.6 296.9L459.6 298.9L459.5 300.9L459.5 303.0L459.5 305.0L459.5 307.0L459.4 309.0L459.4 311.0L459.4 313.1L459.3 315.1L459.3 317.1L459.3 319.1L459.3 321.1L459.3 323.1L459.4 325.1L459.5 327.0L459.6 329.0L459.7 330.9L459.9 332.9L460.0 334.9L460.1 336.8L460.2 338.8L460.2 340.7L460.3 342.7L460.4 344.6L460.5 346.6L460.6 348.6L460.7 350.5L460.7 352.5L460.8 354.4L460.9 356.4L460.9 358.4L461.0 360.3L461.1 362.3L461.1 364.2L461.2 366.2L461.2 368.2L461.2 370.1L461.3 372.1L461.3 374.0L461.3 376.0L461.4 378.0L461.4 379.9L461.4 381.9L461.4 383.9L461.4 385.8L461.4 387.8L461.4 389.8L461.4 391.7L461.4 393.7L461.4 395.7L461.4 397.6L461.4 399.6L461.4 401.6L461.4 403.5L461.3 405.5L461.3 407.5L461.3 409.5L461.2 411.4L461.2 413.4L461.2 415.4L461.1 417.3L461.1 419.3L461.0 421.3L460.9 423.3L460.9 425.2L460.8 427.2L460.7 429.2L460.7 431.2L460.6 433.1L460.5 435.1L460.4 437.1L460.3 439.1L460.2 441.1L460.1 443.0L460.0 445.0L459.9 447.0L459.8 449.0L459.7 451.0L459.6 452.9L459.5 454.9L459.4 456.9L459.3 458.9L459.1 460.9L459.0 462.8L458.9 464.8L458.7 466.8L458.6 468.8L458.4 470.8L458.3 472.8L458.1 474.8L458.0 476.7L457.8 478.7L457.7 480.7L457.5 482.7L457.4 484.7L457.2 486.7L457.0 488.7L456.9 490.6L456.9 492.5L456.9 494.5L456.9 496.4L456.8 498.3L456.8 500.3L456.8 502.2L456.8 504.1L456.7 506.0L456.7 508.0L456.7 509.9L456.6 511.8L456.6 513.7L456.6 515.6L456.6 517.5L456.5 519.5L456.5 521.4L456.5 523.3L456.5 525.2L456.4 527.1L456.4 529.0L456.4 530.9L456.4 532.9L456.3 534.8L456.3 536.7L456.3 538.6L456.3 540.5L456.2 542.4L456.2 544.3L456.2 546.2L456.2 548.1L456.1 550.0L456.1 551.9L456.1 553.8L456.0 555.7L456.0 557.6L456.0 559.5L456.0 561.4L455.9 563.3L455.9 565.2L455.9 567.1L455.9 569.0L455.8 570.9L455.8 572.8L455.8 574.6L455.8 576.5L455.7 578.4L455.7 580.3L455.7 582.2L455.7 584.1L455.6 586.0L455.6 587.8L455.6 589.7L455.6 591.6L455.5 593.5L455.5 595.4L455.5 597.3L455.5 599.1L455.4 601.0L455.4 602.9L455.4 604.8L455.3 606.6L455.3 608.5L455.3 610.4L455.3 612.3L455.2 614.1L455.2 616.0L455.2 617.9L455.2 619.7L455.1 621.6L455.1 623.5L455.1 625.3L455.1 627.2L455.0 629.1L455.0 630.9L455.0 632.8L455.0 634.7L454.9 636.5L454.9 638.4L454.9 640.2L454.9 642.1L454.8 643.9L454.8 645.8L454.8 647.7L454.8 649.5L454.7 651.4L454.7 653.2L454.7 655.1L454.7 656.9L454.6 658.8L454.6 660.6L454.6 662.5L454.6 664.3L454.5 666.2L454.5 668.0L454.5 669.8L454.5 671.7L454.4 673.5L454.4 675.4L454.4 677.2L454.4 679.1L454.3 680.9L454.3 682.7L454.3 684.6L454.3 686.4L454.2 688.2L454.2 690.1L454.2 691.9L454.2 693.8L454.1 695.6L454.1 697.4L454.1 699.2L454.1 701.1L454.0 702.9L454.0 704.7L454.0 706.6L454.0 708.4L453.9 710.2" fill="none" stroke="#f01020" stroke-width="1.4" />
<path d="M477.6 73.5L477.5 75.7L477.5 77.8L477.5 79.9L477.4 82.1L477.4 84.2L477.4 86.3L477.3 88.4L477.3 90.6L477.3 92.7L477.2 94.8L477.2 96.9L477.2 99.0L477.2 101.2L477.1 103.3L477.1 105.4L477.1 107.5L477.0 109.6L477.0 111.7L477.0 113.8L476.9 116.0L476.9 118.1L476.9 120.2L476.8 122.3L476.8 124.4L476.8 126.5L476.7 128.6L476.7 130.7L476.7 132.8L476.6 134.9L476.6 137.0L476.6 139.1L476.5 141.2L476.5 143.3L476.5 145.4L476.4 147.5L476.4 149.6L476.4 151.7L476.3 153.8L476.3 155.9L476.3 157.9L476.2 160.0L476.2 162.1L476.2 164.2L476.1 166.3L476.1 168.4L476.1 170.5L476.0 172.5L476.0 174.6L476.0 176.7L475.9 178.8L475.9 180.9L475.9 182.9L475.9 185.0L475.8 187.1L475.8 189.2L475.8 191.2L475.7 193.3L475.7 195.4L475.7 197.4L475.6 199.5L475.6 201.6L475.6 203.6L475.5 205.7L475.5 207.8L475.5 209.8L475.4 211.9L475.4 214.0L475.4 216.0L475.3 218.1L475.3 220.1L475.3 222.2L475.2 224.2L475.2 226.3L475.2 228.4L475.2 230.4L475.1 232.5L475.1 234.5L475.1 236.6L475.0 238.6L475.0 240.7L475.0 242.7L474.9 244.8L474.9 246.8L474.9 248.8L474.8 250.9L474.8 252.9L474.8 255.0L474.7 257.0L474.7 259.0L474.7 261.1L474.6 263.1L474.6 265.2L474.6 267.2L474.5 269.2L474.5 271.3L474.5 273.3L474.5 275.3L474.4 277.3L474.4 279.4L474.4 281.4L474.3 283.4L474.3 285.5L474.3 287.5L474.2 289.5L474.2 291.5L474.2 293.5L474.1 295.6L474.1 297.6L474.1 299.6L474.0 301.6L474.0 303.6L474.0 305.7L474.0 307.7L473.9 309.7L473.9 311.7L473.9 313.7L473.8 315.7L473.8 317.7L473.8 319.7L473.7 321.7L473.7 323.8L473.7 325.8L473.6 327.8L473.6 329.8L473.6 331.8L473.5 333.8L473.5 335.8L473.5 337.8L473.5 339.8L473.4 341.8L473.4 343.8L473.4 345.8L473.3 347.8L473.3 349.7L473.3 351.7L473.2 353.7L473.2 355.7L473.2 357.7L473.1 359.7L473.1 361.7L473.1 363.7L473.1 365.7L473.0 367.6L473.0 369.6L473.0 371.6L472.9 373.6L472.9 375.6L472.9 377.6L472.8 379.5L472.8 381.5L472.8 383.5L472.7 385.5L472.7 387.4L472.7 389.4L472.7 391.4L472.6 393.4L472.6 395.3L472.6 397.3L472.5 399.3L472.5 401.2L472.5 403.2L472.4 405.2L472.4 407.1L472.4 409.1L472.4 411.1L472.3 413.0L472.3 415.0L472.3 417.0L472.2 418.9L472.2 420.9L472.2 422.8L472.1 424.8L472.1 426.8L472.1 428.7L472.0 430.7L472.0 432.6L472.0 434.6L472.0 436.5L471.9 438.5L471.9 440.4L471.9 442.4L471.8 444.3L471.8 446.3L471.8 448.2L471.7 450.2L471.7 452.1L471.7 454.0L471.7 456.0L471.6 457.9L471.6 459.9L471.6 461.8L471.5 463.7L471.5 465.7L471.5 467.6L471.4 469.6L471.4 471.5L471.4 473.4L471.4 475.4L471.3 477.3L471.3 479.2L471.3 481.1L471.2 483.1L471.2 485.0L471.2 486.9L471.1 488.9L471.1 490.8L471.1 492.7L471.1 494.6L471.0 496.6L471.0 498.5L471.0 500.4L470.9 502.3L470.9 504.2L470.9 506.2L470.9 508.1L470.8 510.0L470.8 511.9L470.8 513.8L470.7 515.7L470.7 517.6L470.7 519.6L470.6 521.5L470.6 523.4L470.6 525.3L470.6 527.2L470.5 529.1L470.5 531.0L470.5 532.9L470.4 534.8L470.4 536.7L470.4 538.6L470.3 540.5L470.3 542.4L470.3 544.3L470.3 546.2L470.2 548.1L470.2 550.0L470.2 551.9L470.1 553.8L470.1 555.7L470.1 557.6L470.1 559.5L470.0 561.4L470.0 563.3L470.0 565.2L469.9 567.0L469.9 568.9L469.9 570.8L469.9 572.7L469.8 574.6L469.8 576.5L469.8 578.4L469.7 580.2L469.7 582.1L469.7 584.0L469.6 585.9L469.6 587.8L469.6 589.6L469.6 591.5L469.5 593.4L469.5 595.3L469.5 597.1L469.4 599.0L469.4 600.9L469.4 602.8L469.4 604.6L469.3 606.5L469.3 608.4L469.3 610.2L469.2 612.1L469.2 614.0L469.2 615.8L469.2 617.7L469.1 619.6L469.1 621.4L469.1 623.3L469.0 625.1L469.0 627.0L469.0 628.9L469.0 630.7L468.9 632.6L468.9 634.4L468.9 636.3L468.8 638.1L468.8 640.0L468.8 641.9L468.8 643.7L468.7 645.6L468.7 647.4L468.7 649.3L468.6 651.1L468.6 653.0L468.6 654.8L468.6 656.6L468.5 658.5L468.5 660.3L468.5 662.2L468.4 664.0L468.4 665.9L468.4 667.7L468.4 669.5L468.3 671.4L468.3 673.2L468.3 675.1L468.2 676.9L468.2 678.7L468.2 680.6L468.2 682.4L468.1 684.2L468.1 686.1L468.1 687.9L468.0 689.7L468.0 691.6L468.0 693.4L468.0 695.2L467.9 697.0L467.9 698.9L467.9 700.7L467.8 702.5L467.8 704.3" fill="none" stroke="#f01020" stroke-width="1.4" />
<path d="M493.3 68.3L493.2 70.4L493.2 72.5L493.1 74.6L493.1 76.8L493.1 78.9L493.0 81.0L493.0 83.1L493.0 85.2L492.9 87.4L492.9 89.5L492.9 91.6L492.8 93.7L492.8 95.8L492.7 97.9L492.7 100.1L492.7 102.2L492.6 104.3L492.6 106.4L492.6 108.5L492.5 110.6L492.5 112.7L492.4 114.8L492.4 116.9L492.4 119.0L492.3 121.1L492.3 123.2L492.3 125.3L492.2 127.4L492.2 129.5L492.2 131.6L492.1 133.7L492.1 135.8L492.0 137.9L492.0 140.0L492.0 142.1L491.9 144.2L491.9 146.3L491.9 148.3L491.8 150.4L491.8 152.5L491.8 154.6L491.7 156.7L491.7 158.8L491.7 160.9L491.6 162.9L491.6 165.0L491.5 167.1L491.5 169.2L491.5 171.3L491.4 173.3L491.4 175.4L491.4 177.5L491.3 179.5L491.3 181.6L491.3 183.7L491.2 185.8L491.2 187.8L491.1 189.9L491.1 192.0L491.1 194.0L491.0 196.1L491.0 198.2L491.0 200.2L490.9 202.3L490.9 204.3L490.9 206.4L490.8 208.5L490.8 210.5L490.8 212.6L490.7 214.6L490.7 216.7L490.6 218.7L490.6 220.8L490.6 222.8L490.5 224.9L490.5 226.9L490.5 229.0L490.4 231.0L490.4 233.1L490.4 235.1L490.3 237.2L490.3 239.2L490.3 241.2L490.2 243.3L490.2 245.3L490.2 247.4L490.1 249.4L490.1 251.4L490.0 253.5L490.0 255.5L490.0 257.5L489.9 259.6L489.9 261.6L489.9 263.6L489.8 265.7L489.8 267.7L489.8 269.7L489.7 271.8L489.7 273.8L489.7 275.8L489.6 277.8L489.6 279.9L489.6 281.9L489.5 283.9L489.5 285.9L489.4 287.9L489.4 290.0L489.4 292.0L489.3 294.0L489.3 296.0L489.3 298.0L489.2 300.0L489.2 302.0L489.2 304.0L489.1 306.1L489.1 308.1L489.1 310.1L489.0 312.1L489.0 314.1L489.0 316.1L488.9 318.1L488.9 320.1L488.9 322.1L488.8 324.1L488.8 326.1L488.8 328.1L488.7 330.1L488.7 332.1L488.6 334.1L488.6 336.1L488.6 338.1L488.5 340.1L488.5 342.1L488.5 344.1L488.4 346.0L488.4 348.0L488.4 350.0L488.3 352.0L488.3 354.0L488.3 356.0L488.2 358.0L488.2 360.0L488.2 361.9L488.1 363.9L488.1 365.9L488.1 367.9L488.0 369.9L488.0 371.8L488.0 373.8L487.9 375.8L487.9 377.8L487.9 379.7L487.8 381.7L487.8 383.7L487.8 385.6L487.7 387.6L487.7 389.6L487.7 391.6L487.6 393.5L487.6 395.5L487.5 397.5L487.5 399.4L487.5 401.4L487.4 403.3L487.4 405.3L487.4 407.3L487.3 409.2L487.3 411.2L487.3 413.1L487.2 415.1L487.2 417.1L487.2 419.0L487.1 421.0L487.1 422.9L487.1 424.9L487.0 426.8L487.0 428.8L487.0 430.7L486.9 432.7L486.9 434.6L486.9 436.6L486.8 438.5L486.8 440.4L486.8 442.4L486.7 444.3L486.7 446.3L486.7 448.2L486.6 450.2L486.6 452.1L486.6 454.0L486.5 456.0L486.5 457.9L486.5 459.8L486.4 461.8L486.4 463.7L486.4 465.6L486.3 467.6L486.3 469.5L486.3 471.4L486.2 473.4L486.2 475.3L486.2 477.2L486.1 479.1L486.1 481.1L486.1 483.0L486.0 484.9L486.0 486.8L486.0 488.7L485.9 490.7L485.9 492.6L485.9 494.5L485.8 496.4L485.8 498.3L485.8 500.3L485.7 502.2L485.7 504.1L485.7 506.0L485.6 507.9L485.6 509.8L485.6 511.7L485.5 513.6L485.5 515.5L485.5 517.4L485.4 519.4L485.4 521.3L485.4 523.2L485.3 525.1L485.3 527.0L485.3 528.9L485.2 530.8L485.2 532.7L485.2 534.6L485.1 536.5L485.1 538.4L485.1 540.3L485.0 542.2L485.0 544.1L485.0 545.9L484.9 547.8L484.9 549.7L484.9 551.6L484.8 553.5L484.8 555.4L484.8 557.3L484.7 559.2L484.7 561.1L484.7 562.9L484.6 564.8L484.6 566.7L484.6 568.6L484.5 570.5L484.5 572.4L484.5 574.2L484.5 576.1L484.4 578.0L484.4 579.9L484.4 581.8L484.3 583.6L484.3 585.5L484.3 587.4L484.2 589.2L484.2 591.1L484.2 593.0L484.1 594.9L484.1 596.7L484.1 598.6L484.0 600.5L484.0 602.3L484.0 604.2L483.9 606.1L483.9 607.9L483.9 609.8L483.8 611.7L483.8 613.5L483.8 615.4L483.7 617.2L483.7 619.1L483.7 621.0L483.6 622.8L483.6 624.7L483.6 626.5L483.5 628.4L483.5 630.2L483.5 632.1L483.4 633.9L483.4 635.8L483.4 637.6L483.4 639.5L483.3 641.3L483.3 643.2L483.3 645.0L483.2 646.9L483.2 648.7L483.2 650.6L483.1 652.4L483.1 654.2L483.1 656.1L483.0 657.9L483.0 659.8L483.0 661.6L482.9 663.4L482.9 665.3L482.9 667.1L482.8 668.9L482.8 670.8L482.8 672.6L482.7 674.4L482.7 676.3L482.7 678.1L482.7 679.9L482.6 681.8L482.6 683.6L482.6 685.4L482.5 687.3L482.5 689.1L482.5 690.9L482.4 692.7L482.4 694.5L482.4 696.4L482.3 698.2" fill="none" stroke="#f01020" stroke-width="1.4" />
<path d="M347.4 186.0L351.7 184.7L356.0 183.7L360.3 183.0L364.6 182.7L368.9 182.7L373.1 183.1L377.3 183.8L381.4 184.9L385.5 186.3L389.6 188.0L393.5 190.0L397.4 192.4L401.3 195.1L405.0 198.1L408.7 201.5L412.3 205.1L415.8 209.0L419.2 213.3L422.5 217.8L425.7 222.6L428.8 227.7L431.8 233.0L434.7 238.6L437.4 244.5L440.1 250.6L442.6 256.9L445.0 263.4L447.2 270.2L449.4 277.2L451.4 284.4L453.2 291.7L455.0 299.3L456.5 307.0L458.0 314.8L459.3 322.9L460.5 331.0L461.5 339.3L462.4 347.7L463.1 356.2L463.7 364.7L464.2 373.4L464.5 382.2L464.6 391.0L464.6 399.8L464.5 408.7L464.2 417.7L463.8 426.6L463.3 435.6L462.6 444.5L461.7 453.5L460.8 462.4L459.6 471.3L458.4 480.1L457.0 488.9L455.5 497.6L453.9 506.3L452.1 514.9L450.2 523.3L448.2 531.7L446.1 540.0L443.9 548.1L441.5 556.1L439.0 564.0L436.5 571.7L433.8 579.3L431.0 586.7L428.1 594.0L425.1 601.0L422.1 607.9L418.9 614.6L415.7 621.0L412.3 627.3L408.9 633.4L405.5 639.2L401.9 644.8L398.3 650.1L394.7 655.2L390.9 660.1L387.1 664.7L383.3 669.1L379.4 673.2L375.5 677.0L371.6 680.6L367.6 683.8L363.6 686.8L359.6 689.5L355.5 692.0L351.5 694.1L347.4 695.9" fill="none" stroke="#111" stroke-width="1.3" />
<path d="M347.4 319.6L349.5 318.9L351.6 318.4L353.8 318.1L355.9 317.9L358.0 317.8L360.1 317.9L362.1 318.2L364.2 318.7L366.2 319.3L368.2 320.1L370.2 321.1L372.1 322.2L374.0 323.5L375.9 324.9L377.7 326.5L379.5 328.2L381.3 330.1L383.0 332.1L384.7 334.3L386.3 336.6L387.8 339.1L389.3 341.7L390.8 344.4L392.2 347.2L393.5 350.2L394.8 353.3L396.0 356.5L397.2 359.8L398.3 363.3L399.3 366.8L400.3 370.4L401.2 374.1L402.0 377.9L402.8 381.8L403.5 385.8L404.1 389.9L404.6 394.0L405.1 398.2L405.5 402.4L405.9 406.7L406.1 411.0L406.3 415.4L406.4 419.8L406.5 424.3L406.4 428.7L406.3 433.2L406.1 437.7L405.9 442.2L405.6 446.8L405.2 451.3L404.7 455.8L404.2 460.3L403.6 464.8L402.9 469.2L402.2 473.7L401.3 478.1L400.5 482.4L399.5 486.7L398.5 491.0L397.5 495.2L396.3 499.3L395.2 503.4L393.9 507.4L392.6 511.4L391.3 515.2L389.9 519.0L388.4 522.7L386.9 526.3L385.4 529.8L383.8 533.2L382.1 536.5L380.4 539.7L378.7 542.8L376.9 545.8L375.1 548.6L373.3 551.3L371.4 553.9L369.5 556.4L367.6 558.8L365.7 561.0L363.7 563.0L361.7 565.0L359.7 566.8L357.7 568.4L355.6 569.9L353.6 571.3L351.5 572.5L349.5 573.5L347.4 574.4" fill="none" stroke="#111" stroke-width="1.3" />
</g>
<g>
<path d="M347.37 117.50L341.17 119.60L341.66 757.73L347.39 755.30 Z" fill="url(#g66)"/>
<path d="M343.50 118.81L337.28 120.91L338.07 759.25L343.81 756.82 Z" fill="url(#g67)"/>
<path d="M339.62 120.12L333.40 122.22L334.48 760.77L340.22 758.34 Z" fill="url(#g68)"/>
<path d="M335.73 121.43L329.51 123.54L330.89 762.29L336.63 759.85 Z" fill="url(#g69)"/>
<path d="M331.84 122.75L325.61 124.85L327.29 763.81L333.04 761.37 Z" fill="url(#g70)"/>
<path d="M327.95 124.06L321.71 126.17L323.69 765.33L329.45 762.90 Z" fill="url(#g71)"/>
<path d="M324.05 125.38L317.81 127.49L320.09 766.86L325.85 764.42 Z" fill="url(#g72)"/>
<path d="M320.15 126.69L313.90 128.81L316.48 768.38L322.25 765.94 Z" fill="url(#g73)"/>
<path d="M316.24 128.01L309.99 130.13L312.87 769.91L318.64 767.47 Z" fill="url(#g74)"/>
<path d="M312.34 129.33L306.07 131.45L309.26 771.44L315.04 769.00 Z" fill="url(#g75)"/>
<path d="M308.42 130.65L302.15 132.77L305.64 772.97L311.42 770.52 Z" fill="url(#g76)"/>
<path d="M304.50 131.98L298.23 134.10L302.02 774.51L307.81 772.05 Z" fill="url(#g77)"/>
<path d="M300.58 133.30L294.30 135.42L298.39 776.04L304.19 773.59 Z" fill="url(#g78)"/>
<path d="M296.66 134.63L290.37 136.75L294.76 777.57L300.57 775.12 Z" fill="url(#g79)"/>
<path d="M292.73 135.95L286.43 138.08L291.13 779.11L296.94 776.65 Z" fill="url(#g80)"/>
<path d="M288.79 137.28L282.49 139.41L287.50 780.65L293.31 778.19 Z" fill="url(#g81)"/>
<path d="M284.85 138.61L278.55 140.74L283.86 782.19L289.68 779.73 Z" fill="url(#g82)"/>
<path d="M280.91 139.94L274.60 142.07L280.22 783.73L286.04 781.27 Z" fill="url(#g83)"/>
<path d="M276.97 141.27L270.64 143.41L276.57 785.27L282.40 782.81 Z" fill="url(#g84)"/>
<path d="M273.02 142.61L266.69 144.74L272.92 786.82L278.76 784.35 Z" fill="url(#g85)"/>
<path d="M269.06 143.94L262.72 146.08L269.27 788.36L275.11 785.89 Z" fill="url(#g86)"/>
<path d="M265.10 145.28L258.76 147.42L265.61 789.91L271.46 787.44 Z" fill="url(#g87)"/>
<path d="M261.14 146.62L254.79 148.76L261.95 791.46L267.81 788.98 Z" fill="url(#g88)"/>
<path d="M257.17 147.96L250.82 150.10L258.29 793.01L264.15 790.53 Z" fill="url(#g89)"/>
<path d="M253.20 149.30L246.84 151.45L254.62 794.56L260.49 792.08 Z" fill="url(#g90)"/>
<path d="M249.23 150.64L242.86 152.79L250.95 796.12L256.82 793.63 Z" fill="url(#g91)"/>
<path d="M245.25 151.98L238.87 154.14L247.28 797.67L253.15 795.18 Z" fill="url(#g92)"/>
<path d="M241.26 153.33L234.88 155.48L243.60 799.23L249.48 796.74 Z" fill="url(#g93)"/>
<path d="M237.27 154.67L230.88 156.83L239.92 800.79L245.81 798.29 Z" fill="url(#g94)"/>
<path d="M233.28 156.02L226.88 158.18L236.23 802.35L242.13 799.85 Z" fill="url(#g95)"/>
<path d="M229.28 157.37L222.88 159.53L232.55 803.91L238.45 801.41 Z" fill="url(#g96)"/>
<path d="M225.28 158.72L218.87 160.89L228.85 805.47L234.76 802.97 Z" fill="url(#g97)"/>
<path d="M221.28 160.07L214.86 162.24L225.16 807.03L231.07 804.53 Z" fill="url(#g98)"/>
<path d="M217.27 161.43L210.85 163.60L221.46 808.60L227.38 806.09 Z" fill="url(#g99)"/>
<path d="M213.26 162.78L206.83 164.95L217.76 810.17L223.68 807.66 Z" fill="url(#g100)"/>
<path d="M209.24 164.14L202.80 166.31L214.05 811.73L219.98 809.23 Z" fill="url(#g101)"/>
<path d="M205.22 165.50L198.77 167.67L210.34 813.30L216.27 810.79 Z" fill="url(#g102)"/>
<path d="M201.19 166.86L194.74 169.03L206.63 814.88L212.57 812.36 Z" fill="url(#g103)"/>
<path d="M197.16 168.22L190.70 170.40L202.91 816.45L208.85 813.93 Z" fill="url(#g104)"/>
<path d="M193.12 169.58L189.08 170.94L201.42 817.08L205.14 815.51 Z" fill="url(#g105)"/>
<path d="M333.4 122.2L333.4 124.4L333.4 126.5L333.4 128.7L333.4 130.9L333.4 133.0L333.4 135.2L333.4 137.3L333.4 139.5L333.4 141.6L333.4 143.8L333.4 145.9L333.4 148.1L333.4 150.2L333.4 152.4L333.5 154.5L333.5 156.7L333.5 158.8L333.5 160.9L333.5 163.1L333.5 165.2L333.5 167.4L333.5 169.5L333.5 171.6L333.5 173.8L333.5 175.9L333.5 178.0L333.5 180.2L333.5 182.3L333.5 184.4L333.5 186.5L333.5 188.7L333.5 190.8L333.5 192.9L333.4 195.1L333.3 197.3L333.2 199.4L333.1 201.6L332.9 203.7L332.8 205.9L332.7 208.1L332.6 210.2L332.4 212.4L332.3 214.6L332.1 216.7L332.0 218.9L331.8 221.1L331.7 223.2L331.5 225.4L331.3 227.6L331.1 229.7L330.9 231.9L330.8 234.1L330.5 236.3L330.3 238.4L330.1 240.6L329.9 242.8L329.6 245.0L329.4 247.2L329.1 249.4L328.9 251.6L328.6 253.8L328.3 256.0L328.0 258.2L327.6 260.4L327.3 262.6L326.9 264.8L326.5 267.1L326.1 269.3L325.7 271.5L325.3 273.8L324.8 276.0L324.4 278.3L323.9 280.5L323.4 282.8L322.8 285.1L322.2 287.4L321.6 289.7L321.0 292.0L320.4 294.3L319.7 296.6L319.0 298.9L318.3 301.3L317.6 303.6L316.8 306.0L316.0 308.3L315.2 310.7L314.4 313.1L313.6 315.4L312.8 317.8L311.9 320.2L311.0 322.6L310.2 324.9L309.3 327.3L308.5 329.7L307.6 332.1L306.7 334.5L305.9 336.8L305.1 339.2L304.2 341.6L303.4 343.9L302.6 346.3L301.8 348.7L301.0 351.0L300.2 353.4L299.5 355.7L298.7 358.0L298.0 360.3L297.3 362.7L296.6 365.0L295.9 367.3L295.2 369.6L294.6 371.9L294.0 374.2L293.3 376.4L292.7 378.7L292.2 381.0L291.6 383.2L291.0 385.5L290.5 387.7L290.0 390.0L289.5 392.2L289.0 394.4L288.5 396.7L288.1 398.9L287.6 401.1L287.2 403.3L286.8 405.5L286.4 407.7L286.0 409.8L285.6 412.0L285.2 414.2L284.9 416.4L284.6 418.5L284.3 420.7L284.0 422.8L283.7 424.9L283.4 427.1L283.1 429.2L282.9 431.3L282.6 433.4L282.4 435.6L282.2 437.7L282.0 439.8L281.8 441.9L281.7 443.9L281.5 446.0L281.4 448.1L281.2 450.2L281.1 452.2L281.0 454.3L280.9 456.4L280.8 458.4L280.7 460.4L280.7 462.5L280.6 464.5L280.6 466.5L280.6 468.6L280.5 470.6L280.5 472.6L280.6 474.6L280.6 476.6L280.6 478.6L280.7 480.6L280.7 482.6L280.8 484.5L280.9 486.5L281.0 488.5L281.1 490.4L281.2 492.4L281.3 494.3L281.5 496.3L281.6 498.2L281.8 500.1L282.0 502.1L282.2 504.0L282.4 505.9L282.6 507.8L282.8 509.7L283.0 511.6L283.3 513.5L283.6 515.4L283.8 517.3L284.1 519.1L284.4 521.0L284.7 522.9L285.1 524.7L285.4 526.6L285.8 528.4L286.1 530.2L286.5 532.1L286.9 533.9L287.3 535.7L287.8 537.5L288.2 539.3L288.6 541.1L289.1 542.9L289.6 544.7L290.1 546.4L290.6 548.2L291.1 550.0L291.7 551.7L292.2 553.5L292.8 555.2L293.4 556.9L294.0 558.7L294.6 560.4L295.2 562.1L295.8 563.8L296.5 565.5L297.2 567.2L297.9 568.9L298.6 570.5L299.3 572.2L300.0 573.9L300.8 575.5L301.5 577.2L302.3 578.8L303.1 580.4L303.9 582.1L304.7 583.7L305.5 585.3L306.4 586.9L307.2 588.5L308.0 590.1L308.9 591.7L309.7 593.3L310.6 594.9L311.4 596.5L312.3 598.1L313.1 599.7L314.0 601.3L314.8 602.9L315.6 604.5L316.4 606.1L317.2 607.7L318.0 609.3L318.7 611.0L319.4 612.6L320.1 614.2L320.8 615.9L321.5 617.5L322.1 619.2L322.7 620.9L323.3 622.5L323.8 624.2L324.4 625.9L324.9 627.6L325.4 629.4L325.8 631.1L326.3 632.8L326.7 634.5L327.1 636.3L327.5 638.0L327.9 639.8L328.2 641.6L328.6 643.3L328.9 645.1L329.2 646.9L329.5 648.7L329.8 650.4L330.0 652.2L330.3 654.0L330.5 655.8L330.8 657.6L331.0 659.4L331.2 661.2L331.4 663.0L331.6 664.8L331.8 666.6L332.0 668.5L332.2 670.3L332.4 672.1L332.5 673.9L332.7 675.7L332.8 677.6L333.0 679.4L333.1 681.2L333.3 683.0L333.4 684.8L333.5 686.7L333.7 688.5L333.8 690.3L333.9 692.2L334.0 694.0L334.1 695.8L334.3 697.6L334.4 699.5L334.4 701.3L334.4 703.2L334.4 705.1L334.4 707.0L334.4 708.8L334.4 710.7L334.4 712.6L334.4 714.4L334.4 716.3L334.4 718.1L334.4 720.0L334.4 721.9L334.4 723.7L334.4 725.6L334.4 727.5L334.4 729.3L334.4 731.2L334.4 733.0L334.4 734.9L334.4 736.7L334.4 738.6L334.4 740.4L334.4 742.3L334.5 744.1L334.5 746.0L334.5 747.8L334.5 749.7L334.5 751.5L334.5 753.4L334.5 755.2L334.5 757.1L334.5 758.9L334.5 760.8" fill="none" stroke="#f01020" stroke-width="1.5" />
<path d="M314.3 128.7L314.3 130.8L314.3 133.0L314.3 135.2L314.3 137.3L314.3 139.5L314.3 141.6L314.4 143.8L314.4 146.0L314.4 148.1L314.4 150.3L314.4 152.4L314.4 154.6L314.4 156.7L314.4 158.9L314.4 161.0L314.4 163.2L314.4 165.3L314.4 167.5L314.5 169.6L314.5 171.7L314.5 173.9L314.5 176.0L314.5 178.2L314.5 180.3L314.5 182.4L314.5 184.6L314.5 186.7L314.5 188.8L314.5 191.0L314.5 193.1L314.6 195.2L314.6 197.4L314.6 199.5L314.6 201.6L314.6 203.8L314.6 205.9L314.5 208.0L314.3 210.2L314.1 212.4L313.8 214.7L313.6 216.9L313.3 219.1L313.1 221.3L312.8 223.5L312.5 225.7L312.2 227.9L312.0 230.1L311.7 232.4L311.4 234.6L311.1 236.8L310.7 239.0L310.4 241.3L310.1 243.5L309.7 245.7L309.4 247.9L309.0 250.2L308.7 252.4L308.3 254.7L307.9 256.9L307.5 259.1L307.1 261.4L306.7 263.6L306.3 265.9L305.9 268.1L305.4 270.4L305.0 272.6L304.5 274.9L304.1 277.2L303.6 279.4L303.1 281.7L302.6 284.0L302.1 286.2L301.6 288.5L301.1 290.8L300.6 293.1L300.1 295.3L299.5 297.6L299.0 299.9L298.5 302.2L297.9 304.5L297.4 306.7L296.8 309.0L296.3 311.3L295.7 313.6L295.1 315.9L294.6 318.2L294.0 320.4L293.5 322.7L292.9 325.0L292.3 327.3L291.8 329.6L291.2 331.8L290.7 334.1L290.1 336.4L289.6 338.7L289.0 340.9L288.5 343.2L288.0 345.5L287.4 347.7L286.9 350.0L286.4 352.2L285.9 354.5L285.4 356.7L284.9 359.0L284.4 361.2L283.9 363.5L283.4 365.7L283.0 367.9L282.5 370.2L282.0 372.4L281.6 374.6L281.2 376.8L280.7 379.0L280.3 381.3L279.9 383.5L279.5 385.7L279.1 387.9L278.7 390.1L278.4 392.2L278.0 394.4L277.7 396.6L277.3 398.8L277.0 400.9L276.6 403.1L276.3 405.3L276.0 407.4L275.7 409.6L275.4 411.7L275.2 413.9L274.9 416.0L274.6 418.2L274.4 420.3L274.1 422.4L273.9 424.5L273.7 426.7L273.5 428.8L273.3 430.9L273.1 433.0L272.9 435.1L272.7 437.2L272.6 439.3L272.4 441.4L272.3 443.4L272.1 445.5L272.0 447.6L271.9 449.7L271.8 451.7L271.7 453.8L271.6 455.8L271.5 457.9L271.5 459.9L271.4 462.0L271.4 464.0L271.3 466.0L271.3 468.1L271.3 470.1L271.2 472.1L271.2 474.1L271.2 476.1L271.3 478.1L271.3 480.1L271.3 482.1L271.4 484.1L271.4 486.1L271.5 488.1L271.5 490.1L271.6 492.1L271.7 494.0L271.8 496.0L271.9 497.9L272.0 499.9L272.2 501.9L272.3 503.8L272.4 505.7L272.6 507.7L272.7 509.6L272.9 511.5L273.1 513.5L273.3 515.4L273.5 517.3L273.7 519.2L273.9 521.1L274.1 523.0L274.4 524.9L274.6 526.8L274.9 528.7L275.1 530.6L275.4 532.4L275.7 534.3L276.0 536.2L276.3 538.0L276.6 539.9L276.9 541.7L277.2 543.6L277.6 545.4L277.9 547.3L278.3 549.1L278.6 550.9L279.0 552.8L279.4 554.6L279.8 556.4L280.2 558.2L280.6 560.0L281.0 561.8L281.4 563.6L281.8 565.4L282.3 567.2L282.7 569.0L283.2 570.8L283.7 572.5L284.1 574.3L284.6 576.1L285.1 577.8L285.6 579.6L286.1 581.3L286.6 583.1L287.1 584.8L287.6 586.6L288.2 588.3L288.7 590.1L289.2 591.8L289.8 593.5L290.3 595.3L290.9 597.0L291.4 598.7L292.0 600.4L292.5 602.1L293.1 603.8L293.7 605.6L294.2 607.3L294.8 609.0L295.4 610.7L295.9 612.4L296.5 614.1L297.1 615.8L297.6 617.5L298.2 619.2L298.8 620.9L299.3 622.6L299.9 624.3L300.4 626.0L300.9 627.7L301.5 629.4L302.0 631.1L302.5 632.8L303.1 634.6L303.6 636.3L304.1 638.0L304.6 639.7L305.1 641.4L305.5 643.1L306.0 644.9L306.5 646.6L306.9 648.3L307.4 650.0L307.8 651.8L308.2 653.5L308.7 655.2L309.1 657.0L309.5 658.7L309.9 660.5L310.2 662.2L310.6 664.0L311.0 665.7L311.3 667.5L311.7 669.2L312.0 671.0L312.4 672.7L312.7 674.5L313.0 676.3L313.3 678.0L313.6 679.8L313.9 681.6L314.2 683.3L314.5 685.1L314.7 686.9L315.0 688.7L315.3 690.5L315.5 692.2L315.8 694.0L316.0 695.8L316.2 697.6L316.5 699.4L316.6 701.2L316.6 703.1L316.6 705.0L316.6 706.8L316.6 708.7L316.6 710.6L316.6 712.5L316.6 714.3L316.6 716.2L316.6 718.1L316.6 720.0L316.7 721.8L316.7 723.7L316.7 725.6L316.7 727.4L316.7 729.3L316.7 731.1L316.7 733.0L316.7 734.9L316.7 736.7L316.7 738.6L316.7 740.5L316.7 742.3L316.7 744.2L316.8 746.0L316.8 747.9L316.8 749.7L316.8 751.6L316.8 753.4L316.8 755.3L316.8 757.1L316.8 759.0L316.8 760.8L316.8 762.7L316.8 764.5L316.8 766.4L316.8 768.2" fill="none" stroke="#f01020" stroke-width="1.5" />
<path d="M296.7 134.6L296.7 136.8L296.7 139.0L296.7 141.1L296.7 143.3L296.7 145.5L296.7 147.6L296.7 149.8L296.8 151.9L296.8 154.1L296.8 156.3L296.8 158.4L296.8 160.6L296.8 162.7L296.8 164.9L296.9 167.0L296.9 169.2L296.9 171.3L296.9 173.5L296.9 175.6L296.9 177.8L296.9 179.9L296.9 182.1L297.0 184.2L297.0 186.3L297.0 188.5L297.0 190.6L297.0 192.8L297.0 194.9L297.0 197.0L297.1 199.2L297.1 201.3L297.1 203.4L297.1 205.6L297.1 207.7L297.1 209.8L297.1 212.0L297.1 214.1L297.2 216.2L297.2 218.3L297.2 220.5L297.2 222.6L297.2 224.7L297.2 226.8L296.9 229.0L296.6 231.3L296.3 233.5L296.0 235.7L295.7 238.0L295.4 240.2L295.0 242.4L294.7 244.7L294.4 246.9L294.0 249.2L293.7 251.4L293.3 253.6L292.9 255.9L292.6 258.1L292.2 260.4L291.8 262.6L291.5 264.8L291.1 267.1L290.7 269.3L290.3 271.6L289.9 273.8L289.5 276.1L289.1 278.3L288.7 280.6L288.3 282.8L287.8 285.1L287.4 287.3L287.0 289.6L286.6 291.8L286.1 294.1L285.7 296.3L285.3 298.6L284.8 300.8L284.4 303.1L284.0 305.3L283.5 307.6L283.1 309.8L282.7 312.0L282.2 314.3L281.8 316.5L281.3 318.8L280.9 321.0L280.5 323.3L280.0 325.5L279.6 327.7L279.2 330.0L278.7 332.2L278.3 334.5L277.9 336.7L277.5 338.9L277.0 341.1L276.6 343.4L276.2 345.6L275.8 347.8L275.4 350.0L275.0 352.3L274.6 354.5L274.2 356.7L273.8 358.9L273.5 361.1L273.1 363.3L272.7 365.5L272.3 367.7L272.0 369.9L271.6 372.1L271.3 374.3L270.9 376.5L270.6 378.7L270.3 380.9L269.9 383.0L269.6 385.2L269.3 387.4L269.0 389.6L268.7 391.7L268.4 393.9L268.1 396.0L267.8 398.2L267.6 400.3L267.3 402.5L267.1 404.6L266.8 406.8L266.6 408.9L266.3 411.1L266.1 413.2L265.9 415.3L265.7 417.4L265.4 419.6L265.2 421.7L265.1 423.8L264.9 425.9L264.7 428.0L264.5 430.1L264.4 432.2L264.2 434.3L264.1 436.4L263.9 438.5L263.8 440.6L263.7 442.6L263.5 444.7L263.4 446.8L263.3 448.8L263.2 450.9L263.1 453.0L263.1 455.0L263.0 457.1L262.9 459.1L262.9 461.2L262.8 463.2L262.8 465.3L262.7 467.3L262.7 469.3L262.7 471.3L262.7 473.4L262.7 475.4L262.7 477.4L262.7 479.4L262.7 481.4L262.7 483.4L262.8 485.4L262.8 487.4L262.8 489.4L262.9 491.4L263.0 493.4L263.0 495.4L263.1 497.3L263.2 499.3L263.3 501.3L263.4 503.2L263.5 505.2L263.6 507.1L263.7 509.1L263.9 511.0L264.0 513.0L264.1 514.9L264.3 516.9L264.5 518.8L264.6 520.7L264.8 522.7L265.0 524.6L265.2 526.5L265.4 528.4L265.6 530.3L265.8 532.2L266.0 534.1L266.2 536.0L266.4 537.9L266.7 539.8L266.9 541.7L267.2 543.6L267.4 545.4L267.7 547.3L268.0 549.2L268.2 551.1L268.5 552.9L268.8 554.8L269.1 556.6L269.4 558.5L269.7 560.3L270.1 562.2L270.4 564.0L270.7 565.9L271.1 567.7L271.4 569.5L271.7 571.4L272.1 573.2L272.5 575.0L272.8 576.8L273.2 578.6L273.6 580.4L274.0 582.2L274.3 584.0L274.7 585.8L275.1 587.6L275.5 589.4L275.9 591.2L276.4 593.0L276.8 594.8L277.2 596.6L277.6 598.4L278.0 600.1L278.5 601.9L278.9 603.7L279.3 605.5L279.8 607.2L280.2 609.0L280.7 610.8L281.1 612.5L281.6 614.3L282.0 616.0L282.5 617.8L282.9 619.6L283.4 621.3L283.8 623.1L284.3 624.8L284.7 626.6L285.2 628.3L285.6 630.1L286.1 631.8L286.5 633.5L287.0 635.3L287.4 637.0L287.9 638.8L288.3 640.5L288.8 642.3L289.2 644.0L289.6 645.8L290.1 647.5L290.5 649.2L290.9 651.0L291.3 652.7L291.8 654.5L292.2 656.2L292.6 658.0L293.0 659.7L293.4 661.5L293.8 663.2L294.2 665.0L294.6 666.7L295.0 668.5L295.3 670.2L295.7 672.0L296.1 673.7L296.4 675.5L296.8 677.2L297.2 679.0L297.5 680.7L297.8 682.5L298.2 684.3L298.5 686.0L298.8 687.8L299.2 689.5L299.5 691.3L299.8 693.1L300.1 694.8L300.1 696.7L300.1 698.6L300.1 700.5L300.1 702.4L300.1 704.3L300.1 706.1L300.2 708.0L300.2 709.9L300.2 711.8L300.2 713.7L300.2 715.5L300.2 717.4L300.2 719.3L300.2 721.2L300.2 723.0L300.3 724.9L300.3 726.8L300.3 728.6L300.3 730.5L300.3 732.4L300.3 734.3L300.3 736.1L300.3 738.0L300.4 739.9L300.4 741.7L300.4 743.6L300.4 745.4L300.4 747.3L300.4 749.2L300.4 751.0L300.4 752.9L300.4 754.7L300.5 756.6L300.5 758.5L300.5 760.3L300.5 762.2L300.5 764.0L300.5 765.9L300.5 767.7L300.5 769.6L300.5 771.4L300.6 773.3L300.6 775.1" fill="none" stroke="#f01020" stroke-width="1.5" />
<path d="M279.3 140.5L279.4 142.6L279.4 144.8L279.4 147.0L279.4 149.2L279.4 151.3L279.4 153.5L279.5 155.6L279.5 157.8L279.5 160.0L279.5 162.1L279.5 164.3L279.5 166.5L279.6 168.6L279.6 170.8L279.6 172.9L279.6 175.1L279.6 177.2L279.7 179.4L279.7 181.5L279.7 183.7L279.7 185.8L279.7 188.0L279.7 190.1L279.8 192.3L279.8 194.4L279.8 196.6L279.8 198.7L279.8 200.8L279.8 203.0L279.9 205.1L279.9 207.3L279.9 209.4L279.9 211.5L279.9 213.7L280.0 215.8L280.0 217.9L280.0 220.1L280.0 222.2L280.0 224.3L280.0 226.4L280.1 228.6L280.1 230.7L280.1 232.8L280.1 234.9L280.1 237.1L280.1 239.2L280.2 241.3L280.2 243.4L280.2 245.5L280.2 247.7L280.2 249.8L280.2 251.9L280.1 254.1L279.8 256.3L279.5 258.5L279.1 260.8L278.8 263.0L278.5 265.2L278.1 267.5L277.8 269.7L277.4 271.9L277.1 274.2L276.7 276.4L276.4 278.6L276.0 280.9L275.7 283.1L275.3 285.3L274.9 287.6L274.6 289.8L274.2 292.0L273.9 294.3L273.5 296.5L273.1 298.7L272.8 300.9L272.4 303.2L272.0 305.4L271.7 307.6L271.3 309.9L271.0 312.1L270.6 314.3L270.2 316.5L269.9 318.7L269.5 321.0L269.2 323.2L268.8 325.4L268.4 327.6L268.1 329.8L267.7 332.0L267.4 334.3L267.0 336.5L266.7 338.7L266.4 340.9L266.0 343.1L265.7 345.3L265.3 347.5L265.0 349.7L264.7 351.9L264.4 354.1L264.0 356.3L263.7 358.5L263.4 360.6L263.1 362.8L262.8 365.0L262.5 367.2L262.2 369.4L261.9 371.6L261.6 373.7L261.3 375.9L261.1 378.1L260.8 380.2L260.5 382.4L260.3 384.6L260.0 386.7L259.7 388.9L259.5 391.0L259.2 393.2L259.0 395.3L258.8 397.5L258.5 399.6L258.3 401.7L258.1 403.9L257.9 406.0L257.7 408.1L257.5 410.2L257.3 412.4L257.1 414.5L256.9 416.6L256.8 418.7L256.6 420.8L256.4 422.9L256.3 425.0L256.1 427.1L256.0 429.2L255.8 431.3L255.7 433.4L255.6 435.5L255.4 437.6L255.3 439.7L255.2 441.8L255.1 443.8L255.0 445.9L254.9 448.0L254.8 450.0L254.7 452.1L254.7 454.1L254.6 456.2L254.5 458.3L254.5 460.3L254.4 462.3L254.4 464.4L254.4 466.4L254.3 468.5L254.3 470.5L254.3 472.5L254.3 474.5L254.3 476.6L254.3 478.6L254.3 480.6L254.3 482.6L254.3 484.6L254.3 486.6L254.4 488.6L254.4 490.6L254.5 492.6L254.5 494.6L254.6 496.6L254.6 498.6L254.7 500.6L254.8 502.5L254.9 504.5L255.0 506.5L255.0 508.4L255.2 510.4L255.3 512.4L255.4 514.3L255.5 516.3L255.6 518.2L255.7 520.2L255.9 522.1L256.0 524.1L256.2 526.0L256.3 527.9L256.5 529.9L256.7 531.8L256.8 533.7L257.0 535.6L257.2 537.5L257.4 539.5L257.6 541.4L257.8 543.3L258.0 545.2L258.2 547.1L258.4 549.0L258.6 550.9L258.9 552.8L259.1 554.6L259.3 556.5L259.6 558.4L259.8 560.3L260.1 562.2L260.4 564.0L260.6 565.9L260.9 567.8L261.2 569.6L261.5 571.5L261.7 573.3L262.0 575.2L262.3 577.0L262.6 578.9L262.9 580.7L263.2 582.6L263.6 584.4L263.9 586.2L264.2 588.1L264.5 589.9L264.9 591.7L265.2 593.5L265.5 595.4L265.9 597.2L266.2 599.0L266.6 600.8L266.9 602.6L267.3 604.4L267.6 606.2L268.0 608.1L268.3 609.9L268.7 611.7L269.1 613.5L269.4 615.3L269.8 617.0L270.2 618.8L270.6 620.6L270.9 622.4L271.3 624.2L271.7 626.0L272.1 627.8L272.5 629.6L272.8 631.3L273.2 633.1L273.6 634.9L274.0 636.7L274.4 638.4L274.8 640.2L275.2 642.0L275.5 643.8L275.9 645.5L276.3 647.3L276.7 649.1L277.1 650.8L277.5 652.6L277.8 654.4L278.2 656.1L278.6 657.9L279.0 659.7L279.3 661.4L279.7 663.2L280.1 665.0L280.4 666.7L280.8 668.5L281.2 670.3L281.5 672.0L281.9 673.8L282.2 675.6L282.6 677.3L282.9 679.1L283.3 680.9L283.6 682.6L283.8 684.5L283.8 686.4L283.8 688.3L283.8 690.1L283.9 692.0L283.9 693.9L283.9 695.8L283.9 697.7L283.9 699.6L283.9 701.5L283.9 703.4L284.0 705.3L284.0 707.2L284.0 709.0L284.0 710.9L284.0 712.8L284.0 714.7L284.1 716.6L284.1 718.5L284.1 720.3L284.1 722.2L284.1 724.1L284.1 726.0L284.1 727.9L284.2 729.7L284.2 731.6L284.2 733.5L284.2 735.3L284.2 737.2L284.2 739.1L284.3 741.0L284.3 742.8L284.3 744.7L284.3 746.6L284.3 748.4L284.3 750.3L284.3 752.2L284.4 754.0L284.4 755.9L284.4 757.8L284.4 759.6L284.4 761.5L284.4 763.3L284.5 765.2L284.5 767.1L284.5 768.9L284.5 770.8L284.5 772.6L284.5 774.5L284.5 776.3L284.6 778.2L284.6 780.0L284.6 781.9" fill="none" stroke="#f01020" stroke-width="1.5" />
<path d="M261.9 146.3L262.0 148.5L262.0 150.7L262.0 152.9L262.0 155.0L262.0 157.2L262.1 159.4L262.1 161.5L262.1 163.7L262.1 165.9L262.2 168.0L262.2 170.2L262.2 172.4L262.2 174.5L262.2 176.7L262.3 178.8L262.3 181.0L262.3 183.2L262.3 185.3L262.4 187.5L262.4 189.6L262.4 191.8L262.4 193.9L262.4 196.1L262.5 198.2L262.5 200.4L262.5 202.5L262.5 204.7L262.6 206.8L262.6 209.0L262.6 211.1L262.6 213.2L262.6 215.4L262.7 217.5L262.7 219.7L262.7 221.8L262.7 223.9L262.8 226.1L262.8 228.2L262.8 230.3L262.8 232.5L262.8 234.6L262.9 236.7L262.9 238.8L262.9 241.0L262.9 243.1L262.9 245.2L263.0 247.3L263.0 249.5L263.0 251.6L263.0 253.7L263.1 255.8L263.1 257.9L263.1 260.1L263.1 262.2L263.1 264.3L263.2 266.4L263.2 268.5L263.2 270.6L263.2 272.7L263.3 274.8L263.3 276.9L263.3 279.1L263.3 281.2L263.3 283.3L263.4 285.4L263.4 287.5L263.2 289.7L262.9 291.9L262.6 294.1L262.2 296.3L261.9 298.5L261.6 300.7L261.3 303.0L261.0 305.2L260.7 307.4L260.4 309.6L260.1 311.8L259.8 314.0L259.5 316.2L259.2 318.4L258.9 320.6L258.5 322.8L258.2 325.0L257.9 327.2L257.7 329.4L257.4 331.6L257.1 333.8L256.8 336.0L256.5 338.2L256.2 340.4L255.9 342.6L255.6 344.8L255.3 347.0L255.1 349.2L254.8 351.3L254.5 353.5L254.3 355.7L254.0 357.9L253.7 360.0L253.5 362.2L253.2 364.4L253.0 366.6L252.7 368.7L252.5 370.9L252.2 373.0L252.0 375.2L251.7 377.4L251.5 379.5L251.3 381.7L251.1 383.8L250.8 386.0L250.6 388.1L250.4 390.2L250.2 392.4L250.0 394.5L249.8 396.7L249.6 398.8L249.4 400.9L249.2 403.0L249.1 405.2L248.9 407.3L248.7 409.4L248.5 411.5L248.4 413.6L248.2 415.8L248.1 417.9L247.9 420.0L247.8 422.1L247.6 424.2L247.5 426.3L247.4 428.4L247.3 430.5L247.1 432.5L247.0 434.6L246.9 436.7L246.8 438.8L246.7 440.9L246.6 442.9L246.5 445.0L246.5 447.1L246.4 449.1L246.3 451.2L246.2 453.3L246.2 455.3L246.1 457.4L246.1 459.4L246.0 461.5L246.0 463.5L246.0 465.6L245.9 467.6L245.9 469.6L245.9 471.7L245.9 473.7L245.9 475.7L245.9 477.8L245.9 479.8L245.9 481.8L245.9 483.8L245.9 485.8L245.9 487.8L245.9 489.8L246.0 491.8L246.0 493.8L246.1 495.8L246.1 497.8L246.2 499.8L246.2 501.8L246.3 503.8L246.4 505.8L246.4 507.8L246.5 509.7L246.6 511.7L246.7 513.7L246.8 515.6L246.9 517.6L247.0 519.6L247.1 521.5L247.2 523.5L247.3 525.4L247.5 527.4L247.6 529.3L247.7 531.3L247.9 533.2L248.0 535.1L248.2 537.1L248.3 539.0L248.5 540.9L248.7 542.8L248.8 544.8L249.0 546.7L249.2 548.6L249.4 550.5L249.6 552.4L249.8 554.3L250.0 556.2L250.2 558.1L250.4 560.0L250.6 561.9L250.8 563.8L251.0 565.7L251.2 567.6L251.5 569.5L251.7 571.4L251.9 573.3L252.2 575.1L252.4 577.0L252.7 578.9L252.9 580.7L253.2 582.6L253.5 584.5L253.7 586.3L254.0 588.2L254.3 590.0L254.5 591.9L254.8 593.7L255.1 595.6L255.4 597.4L255.7 599.3L256.0 601.1L256.3 603.0L256.6 604.8L256.9 606.6L257.2 608.5L257.5 610.3L257.8 612.1L258.1 614.0L258.4 615.8L258.7 617.6L259.0 619.4L259.3 621.2L259.7 623.1L260.0 624.9L260.3 626.7L260.6 628.5L261.0 630.3L261.3 632.1L261.6 633.9L262.0 635.7L262.3 637.5L262.6 639.3L263.0 641.1L263.3 642.9L263.6 644.7L264.0 646.5L264.3 648.3L264.7 650.1L265.0 651.9L265.3 653.7L265.7 655.5L266.0 657.3L266.3 659.0L266.7 660.8L267.0 662.6L267.3 664.4L267.3 666.4L267.3 668.3L267.3 670.2L267.3 672.1L267.4 674.0L267.4 675.9L267.4 677.8L267.4 679.7L267.4 681.6L267.5 683.5L267.5 685.4L267.5 687.3L267.5 689.2L267.5 691.1L267.6 693.0L267.6 694.9L267.6 696.8L267.6 698.7L267.6 700.6L267.7 702.5L267.7 704.4L267.7 706.3L267.7 708.2L267.7 710.1L267.7 712.0L267.8 713.9L267.8 715.7L267.8 717.6L267.8 719.5L267.8 721.4L267.9 723.3L267.9 725.2L267.9 727.1L267.9 728.9L267.9 730.8L268.0 732.7L268.0 734.6L268.0 736.5L268.0 738.3L268.0 740.2L268.1 742.1L268.1 744.0L268.1 745.8L268.1 747.7L268.1 749.6L268.2 751.4L268.2 753.3L268.2 755.2L268.2 757.1L268.2 758.9L268.3 760.8L268.3 762.7L268.3 764.5L268.3 766.4L268.3 768.2L268.3 770.1L268.4 772.0L268.4 773.8L268.4 775.7L268.4 777.5L268.4 779.4L268.5 781.3L268.5 783.1L268.5 785.0L268.5 786.8L268.5 788.7" fill="none" stroke="#f01020" stroke-width="1.5" />
<path d="M245.2 152.0L245.3 154.2L245.3 156.3L245.3 158.5L245.4 160.7L245.4 162.9L245.4 165.0L245.4 167.2L245.5 169.4L245.5 171.5L245.5 173.7L245.5 175.9L245.6 178.0L245.6 180.2L245.6 182.4L245.6 184.5L245.7 186.7L245.7 188.9L245.7 191.0L245.8 193.2L245.8 195.3L245.8 197.5L245.8 199.6L245.9 201.8L245.9 203.9L245.9 206.1L245.9 208.2L246.0 210.4L246.0 212.5L246.0 214.7L246.0 216.8L246.1 219.0L246.1 221.1L246.1 223.3L246.1 225.4L246.2 227.5L246.2 229.7L246.2 231.8L246.3 233.9L246.3 236.1L246.3 238.2L246.3 240.3L246.4 242.5L246.4 244.6L246.4 246.7L246.4 248.9L246.5 251.0L246.5 253.1L246.5 255.2L246.5 257.4L246.6 259.5L246.6 261.6L246.6 263.7L246.6 265.9L246.7 268.0L246.7 270.1L246.7 272.2L246.7 274.3L246.8 276.4L246.8 278.6L246.8 280.7L246.9 282.8L246.9 284.9L246.9 287.0L246.9 289.1L247.0 291.2L247.0 293.3L247.0 295.4L247.0 297.5L247.1 299.6L247.1 301.7L247.1 303.8L247.1 305.9L247.2 308.0L247.2 310.1L247.2 312.2L247.2 314.3L247.3 316.4L247.3 318.5L247.3 320.6L247.3 322.7L247.4 324.8L247.4 326.9L247.4 328.9L247.4 331.0L247.5 333.1L247.3 335.3L247.1 337.4L246.8 339.6L246.6 341.8L246.3 344.0L246.1 346.2L245.9 348.3L245.6 350.5L245.4 352.7L245.2 354.8L244.9 357.0L244.7 359.2L244.5 361.3L244.3 363.5L244.0 365.7L243.8 367.8L243.6 370.0L243.4 372.1L243.2 374.3L243.0 376.4L242.8 378.6L242.6 380.7L242.4 382.9L242.2 385.0L242.0 387.1L241.8 389.3L241.7 391.4L241.5 393.5L241.3 395.7L241.1 397.8L241.0 399.9L240.8 402.0L240.7 404.2L240.5 406.3L240.4 408.4L240.2 410.5L240.1 412.6L239.9 414.7L239.8 416.8L239.7 418.9L239.5 421.0L239.4 423.1L239.3 425.2L239.2 427.3L239.1 429.4L239.0 431.5L238.9 433.6L238.8 435.7L238.7 437.8L238.6 439.8L238.5 441.9L238.4 444.0L238.4 446.0L238.3 448.1L238.2 450.2L238.2 452.2L238.1 454.3L238.1 456.4L238.0 458.4L238.0 460.5L237.9 462.5L237.9 464.6L237.9 466.6L237.9 468.6L237.8 470.7L237.8 472.7L237.8 474.7L237.8 476.8L237.8 478.8L237.8 480.8L237.8 482.8L237.8 484.9L237.8 486.9L237.9 488.9L237.9 490.9L237.9 492.9L237.9 494.9L238.0 496.9L238.0 498.9L238.1 500.9L238.1 502.9L238.2 504.9L238.2 506.9L238.3 508.9L238.4 510.8L238.5 512.8L238.5 514.8L238.6 516.8L238.7 518.8L238.8 520.7L238.9 522.7L239.0 524.7L239.1 526.6L239.2 528.6L239.3 530.5L239.5 532.5L239.6 534.4L239.7 536.4L239.8 538.3L240.0 540.3L240.1 542.2L240.3 544.1L240.4 546.1L240.6 548.0L240.7 549.9L240.9 551.9L241.0 553.8L241.2 555.7L241.4 557.6L241.6 559.5L241.7 561.4L241.9 563.4L242.1 565.3L242.3 567.2L242.5 569.1L242.7 571.0L242.9 572.9L243.1 574.8L243.3 576.7L243.5 578.5L243.7 580.4L244.0 582.3L244.2 584.2L244.4 586.1L244.6 588.0L244.9 589.8L245.1 591.7L245.4 593.6L245.6 595.4L245.8 597.3L246.1 599.2L246.3 601.0L246.6 602.9L246.9 604.8L247.1 606.6L247.4 608.5L247.6 610.3L247.9 612.2L248.2 614.0L248.4 615.9L248.7 617.7L249.0 619.5L249.3 621.4L249.6 623.2L249.8 625.0L250.1 626.9L250.4 628.7L250.7 630.5L251.0 632.4L251.2 634.2L251.2 636.2L251.2 638.1L251.2 640.0L251.3 642.0L251.3 643.9L251.3 645.8L251.3 647.7L251.4 649.7L251.4 651.6L251.4 653.5L251.4 655.4L251.5 657.4L251.5 659.3L251.5 661.2L251.5 663.1L251.6 665.0L251.6 667.0L251.6 668.9L251.6 670.8L251.6 672.7L251.7 674.6L251.7 676.5L251.7 678.4L251.7 680.4L251.8 682.3L251.8 684.2L251.8 686.1L251.8 688.0L251.9 689.9L251.9 691.8L251.9 693.7L251.9 695.6L252.0 697.5L252.0 699.4L252.0 701.3L252.0 703.2L252.0 705.1L252.1 707.0L252.1 708.9L252.1 710.8L252.1 712.7L252.2 714.6L252.2 716.5L252.2 718.4L252.2 720.3L252.3 722.2L252.3 724.1L252.3 725.9L252.3 727.8L252.3 729.7L252.4 731.6L252.4 733.5L252.4 735.4L252.4 737.3L252.5 739.1L252.5 741.0L252.5 742.9L252.5 744.8L252.6 746.7L252.6 748.5L252.6 750.4L252.6 752.3L252.7 754.2L252.7 756.0L252.7 757.9L252.7 759.8L252.7 761.7L252.8 763.5L252.8 765.4L252.8 767.3L252.8 769.1L252.9 771.0L252.9 772.9L252.9 774.7L252.9 776.6L252.9 778.5L253.0 780.3L253.0 782.2L253.0 784.0L253.0 785.9L253.1 787.8L253.1 789.6L253.1 791.5L253.1 793.3L253.2 795.2" fill="none" stroke="#f01020" stroke-width="1.5" />
<path d="M228.5 157.6L228.5 159.8L228.5 162.0L228.6 164.2L228.6 166.4L228.6 168.5L228.7 170.7L228.7 172.9L228.7 175.1L228.8 177.2L228.8 179.4L228.8 181.6L228.9 183.7L228.9 185.9L228.9 188.1L229.0 190.2L229.0 192.4L229.0 194.6L229.0 196.7L229.1 198.9L229.1 201.0L229.1 203.2L229.2 205.4L229.2 207.5L229.2 209.7L229.3 211.8L229.3 214.0L229.3 216.1L229.4 218.3L229.4 220.4L229.4 222.6L229.4 224.7L229.5 226.9L229.5 229.0L229.5 231.2L229.6 233.3L229.6 235.5L229.6 237.6L229.7 239.7L229.7 241.9L229.7 244.0L229.8 246.1L229.8 248.3L229.8 250.4L229.8 252.5L229.9 254.7L229.9 256.8L229.9 258.9L230.0 261.1L230.0 263.2L230.0 265.3L230.1 267.4L230.1 269.6L230.1 271.7L230.1 273.8L230.2 275.9L230.2 278.1L230.2 280.2L230.3 282.3L230.3 284.4L230.3 286.5L230.4 288.6L230.4 290.7L230.4 292.9L230.5 295.0L230.5 297.1L230.5 299.2L230.5 301.3L230.6 303.4L230.6 305.5L230.6 307.6L230.7 309.7L230.7 311.8L230.7 313.9L230.8 316.0L230.8 318.1L230.8 320.2L230.8 322.3L230.9 324.4L230.9 326.5L230.9 328.6L231.0 330.7L231.0 332.8L231.0 334.9L231.1 337.0L231.1 339.0L231.1 341.1L231.1 343.2L231.2 345.3L231.2 347.4L231.2 349.5L231.3 351.6L231.3 353.6L231.3 355.7L231.4 357.8L231.4 359.9L231.4 361.9L231.4 364.0L231.5 366.1L231.5 368.2L231.5 370.2L231.6 372.3L231.6 374.4L231.6 376.4L231.6 378.5L231.7 380.6L231.7 382.6L231.7 384.7L231.8 386.8L231.8 388.8L231.8 390.9L231.9 393.0L231.9 395.0L231.9 397.1L231.9 399.1L232.0 401.2L232.0 403.2L232.0 405.3L232.0 407.4L231.9 409.5L231.8 411.6L231.6 413.7L231.5 415.8L231.4 417.9L231.3 420.0L231.2 422.1L231.1 424.2L231.0 426.3L230.9 428.4L230.8 430.5L230.7 432.6L230.6 434.6L230.5 436.7L230.5 438.8L230.4 440.9L230.3 442.9L230.3 445.0L230.2 447.1L230.1 449.1L230.1 451.2L230.0 453.3L230.0 455.3L229.9 457.4L229.9 459.4L229.9 461.5L229.8 463.5L229.8 465.6L229.8 467.6L229.8 469.7L229.7 471.7L229.7 473.8L229.7 475.8L229.7 477.8L229.7 479.8L229.7 481.9L229.7 483.9L229.7 485.9L229.8 487.9L229.8 490.0L229.8 492.0L229.8 494.0L229.9 496.0L229.9 498.0L229.9 500.0L230.0 502.0L230.0 504.0L230.1 506.0L230.1 508.0L230.2 510.0L230.3 512.0L230.3 514.0L230.4 515.9L230.5 517.9L230.5 519.9L230.6 521.9L230.7 523.8L230.8 525.8L230.9 527.8L231.0 529.7L231.1 531.7L231.2 533.7L231.3 535.6L231.4 537.6L231.5 539.5L231.7 541.5L231.8 543.4L231.9 545.4L232.0 547.3L232.2 549.3L232.3 551.2L232.5 553.1L232.6 555.1L232.8 557.0L232.9 558.9L233.1 560.9L233.2 562.8L233.4 564.7L233.5 566.6L233.7 568.5L233.9 570.5L234.1 572.4L234.2 574.3L234.4 576.2L234.5 578.1L234.5 580.1L234.6 582.1L234.6 584.0L234.6 586.0L234.6 588.0L234.7 589.9L234.7 591.9L234.7 593.8L234.8 595.8L234.8 597.8L234.8 599.7L234.8 601.7L234.9 603.6L234.9 605.6L234.9 607.5L235.0 609.5L235.0 611.4L235.0 613.4L235.0 615.3L235.1 617.3L235.1 619.2L235.1 621.2L235.2 623.1L235.2 625.1L235.2 627.0L235.2 628.9L235.3 630.9L235.3 632.8L235.3 634.8L235.3 636.7L235.4 638.6L235.4 640.6L235.4 642.5L235.5 644.4L235.5 646.4L235.5 648.3L235.5 650.2L235.6 652.2L235.6 654.1L235.6 656.0L235.6 658.0L235.7 659.9L235.7 661.8L235.7 663.7L235.8 665.7L235.8 667.6L235.8 669.5L235.8 671.4L235.9 673.3L235.9 675.3L235.9 677.2L236.0 679.1L236.0 681.0L236.0 682.9L236.0 684.8L236.1 686.8L236.1 688.7L236.1 690.6L236.1 692.5L236.2 694.4L236.2 696.3L236.2 698.2L236.3 700.1L236.3 702.0L236.3 703.9L236.3 705.8L236.4 707.7L236.4 709.6L236.4 711.5L236.4 713.4L236.5 715.3L236.5 717.2L236.5 719.1L236.6 721.0L236.6 722.9L236.6 724.8L236.6 726.7L236.7 728.6L236.7 730.5L236.7 732.4L236.7 734.3L236.8 736.2L236.8 738.1L236.8 740.0L236.9 741.8L236.9 743.7L236.9 745.6L236.9 747.5L237.0 749.4L237.0 751.3L237.0 753.1L237.0 755.0L237.1 756.9L237.1 758.8L237.1 760.7L237.1 762.5L237.2 764.4L237.2 766.3L237.2 768.2L237.3 770.0L237.3 771.9L237.3 773.8L237.3 775.6L237.4 777.5L237.4 779.4L237.4 781.2L237.4 783.1L237.5 785.0L237.5 786.8L237.5 788.7L237.5 790.6L237.6 792.4L237.6 794.3L237.6 796.1L237.7 798.0L237.7 799.9L237.7 801.7" fill="none" stroke="#f01020" stroke-width="1.5" />
<path d="M212.5 163.1L212.5 165.2L212.5 167.4L212.6 169.6L212.6 171.8L212.6 174.0L212.7 176.1L212.7 178.3L212.7 180.5L212.8 182.7L212.8 184.8L212.8 187.0L212.9 189.2L212.9 191.4L212.9 193.5L213.0 195.7L213.0 197.9L213.1 200.0L213.1 202.2L213.1 204.4L213.2 206.5L213.2 208.7L213.2 210.8L213.3 213.0L213.3 215.2L213.3 217.3L213.4 219.5L213.4 221.6L213.4 223.8L213.5 225.9L213.5 228.1L213.5 230.2L213.6 232.4L213.6 234.5L213.6 236.7L213.7 238.8L213.7 241.0L213.8 243.1L213.8 245.3L213.8 247.4L213.9 249.5L213.9 251.7L213.9 253.8L214.0 256.0L214.0 258.1L214.0 260.2L214.1 262.4L214.1 264.5L214.1 266.6L214.2 268.8L214.2 270.9L214.2 273.0L214.3 275.1L214.3 277.3L214.3 279.4L214.4 281.5L214.4 283.6L214.4 285.8L214.5 287.9L214.5 290.0L214.6 292.1L214.6 294.2L214.6 296.3L214.7 298.5L214.7 300.6L214.7 302.7L214.8 304.8L214.8 306.9L214.8 309.0L214.9 311.1L214.9 313.2L214.9 315.3L215.0 317.4L215.0 319.6L215.0 321.7L215.1 323.8L215.1 325.9L215.1 328.0L215.2 330.1L215.2 332.2L215.2 334.2L215.3 336.3L215.3 338.4L215.3 340.5L215.4 342.6L215.4 344.7L215.4 346.8L215.5 348.9L215.5 351.0L215.5 353.1L215.6 355.2L215.6 357.2L215.6 359.3L215.7 361.4L215.7 363.5L215.7 365.6L215.8 367.6L215.8 369.7L215.8 371.8L215.9 373.9L215.9 376.0L215.9 378.0L216.0 380.1L216.0 382.2L216.0 384.2L216.1 386.3L216.1 388.4L216.1 390.4L216.2 392.5L216.2 394.6L216.3 396.6L216.3 398.7L216.3 400.8L216.4 402.8L216.4 404.9L216.4 406.9L216.5 409.0L216.5 411.1L216.5 413.1L216.6 415.2L216.6 417.2L216.6 419.3L216.7 421.3L216.7 423.4L216.7 425.4L216.8 427.5L216.8 429.5L216.8 431.6L216.9 433.6L216.9 435.7L216.9 437.7L217.0 439.8L217.0 441.8L217.0 443.8L217.1 445.9L217.1 447.9L217.1 449.9L217.2 452.0L217.2 454.0L217.2 456.1L217.2 458.1L217.3 460.1L217.3 462.1L217.3 464.2L217.4 466.2L217.4 468.2L217.4 470.3L217.5 472.3L217.5 474.3L217.5 476.3L217.6 478.4L217.6 480.4L217.6 482.4L217.7 484.4L217.7 486.4L217.7 488.5L217.8 490.5L217.8 492.5L217.8 494.5L217.9 496.5L217.9 498.5L217.9 500.5L218.0 502.6L218.0 504.6L218.0 506.6L218.1 508.6L218.1 510.6L218.1 512.6L218.2 514.6L218.2 516.6L218.2 518.6L218.3 520.6L218.3 522.6L218.3 524.6L218.4 526.6L218.4 528.6L218.4 530.6L218.5 532.6L218.5 534.6L218.5 536.6L218.6 538.6L218.6 540.6L218.6 542.6L218.7 544.5L218.7 546.5L218.7 548.5L218.8 550.5L218.8 552.5L218.8 554.5L218.8 556.5L218.9 558.4L218.9 560.4L218.9 562.4L219.0 564.4L219.0 566.4L219.0 568.3L219.1 570.3L219.1 572.3L219.1 574.3L219.2 576.2L219.2 578.2L219.2 580.2L219.3 582.2L219.3 584.1L219.3 586.1L219.4 588.1L219.4 590.0L219.4 592.0L219.5 594.0L219.5 595.9L219.5 597.9L219.6 599.8L219.6 601.8L219.6 603.8L219.7 605.7L219.7 607.7L219.7 609.6L219.7 611.6L219.8 613.5L219.8 615.5L219.8 617.5L219.9 619.4L219.9 621.4L219.9 623.3L220.0 625.3L220.0 627.2L220.0 629.2L220.1 631.1L220.1 633.0L220.1 635.0L220.2 636.9L220.2 638.9L220.2 640.8L220.3 642.8L220.3 644.7L220.3 646.6L220.3 648.6L220.4 650.5L220.4 652.4L220.4 654.4L220.5 656.3L220.5 658.2L220.5 660.2L220.6 662.1L220.6 664.0L220.6 666.0L220.7 667.9L220.7 669.8L220.7 671.7L220.8 673.7L220.8 675.6L220.8 677.5L220.8 679.4L220.9 681.4L220.9 683.3L220.9 685.2L221.0 687.1L221.0 689.0L221.0 691.0L221.1 692.9L221.1 694.8L221.1 696.7L221.2 698.6L221.2 700.5L221.2 702.4L221.3 704.3L221.3 706.3L221.3 708.2L221.3 710.1L221.4 712.0L221.4 713.9L221.4 715.8L221.5 717.7L221.5 719.6L221.5 721.5L221.6 723.4L221.6 725.3L221.6 727.2L221.7 729.1L221.7 731.0L221.7 732.9L221.7 734.8L221.8 736.7L221.8 738.6L221.8 740.5L221.9 742.4L221.9 744.2L221.9 746.1L222.0 748.0L222.0 749.9L222.0 751.8L222.1 753.7L222.1 755.6L222.1 757.4L222.1 759.3L222.2 761.2L222.2 763.1L222.2 765.0L222.3 766.9L222.3 768.7L222.3 770.6L222.4 772.5L222.4 774.4L222.4 776.2L222.5 778.1L222.5 780.0L222.5 781.9L222.5 783.7L222.6 785.6L222.6 787.5L222.6 789.3L222.7 791.2L222.7 793.1L222.7 794.9L222.8 796.8L222.8 798.7L222.8 800.5L222.8 802.4L222.9 804.3L222.9 806.1L222.9 808.0" fill="none" stroke="#f01020" stroke-width="1.5" />
<path d="M195.5 168.8L195.6 171.0L195.6 173.1L195.7 175.3L195.7 177.5L195.7 179.7L195.8 181.9L195.8 184.1L195.9 186.2L195.9 188.4L195.9 190.6L196.0 192.8L196.0 194.9L196.1 197.1L196.1 199.3L196.1 201.5L196.2 203.6L196.2 205.8L196.3 208.0L196.3 210.1L196.3 212.3L196.4 214.5L196.4 216.6L196.5 218.8L196.5 221.0L196.5 223.1L196.6 225.3L196.6 227.4L196.7 229.6L196.7 231.7L196.7 233.9L196.8 236.1L196.8 238.2L196.9 240.4L196.9 242.5L196.9 244.7L197.0 246.8L197.0 248.9L197.1 251.1L197.1 253.2L197.1 255.4L197.2 257.5L197.2 259.7L197.2 261.8L197.3 263.9L197.3 266.1L197.4 268.2L197.4 270.4L197.4 272.5L197.5 274.6L197.5 276.8L197.6 278.9L197.6 281.0L197.6 283.1L197.7 285.3L197.7 287.4L197.8 289.5L197.8 291.7L197.8 293.8L197.9 295.9L197.9 298.0L198.0 300.1L198.0 302.3L198.0 304.4L198.1 306.5L198.1 308.6L198.1 310.7L198.2 312.8L198.2 314.9L198.3 317.1L198.3 319.2L198.3 321.3L198.4 323.4L198.4 325.5L198.5 327.6L198.5 329.7L198.5 331.8L198.6 333.9L198.6 336.0L198.6 338.1L198.7 340.2L198.7 342.3L198.8 344.4L198.8 346.5L198.8 348.6L198.9 350.7L198.9 352.8L199.0 354.9L199.0 357.0L199.0 359.1L199.1 361.1L199.1 363.2L199.1 365.3L199.2 367.4L199.2 369.5L199.3 371.6L199.3 373.7L199.3 375.7L199.4 377.8L199.4 379.9L199.4 382.0L199.5 384.1L199.5 386.1L199.6 388.2L199.6 390.3L199.6 392.3L199.7 394.4L199.7 396.5L199.8 398.6L199.8 400.6L199.8 402.7L199.9 404.8L199.9 406.8L199.9 408.9L200.0 411.0L200.0 413.0L200.1 415.1L200.1 417.1L200.1 419.2L200.2 421.3L200.2 423.3L200.2 425.4L200.3 427.4L200.3 429.5L200.4 431.5L200.4 433.6L200.4 435.6L200.5 437.7L200.5 439.7L200.5 441.8L200.6 443.8L200.6 445.9L200.7 447.9L200.7 450.0L200.7 452.0L200.8 454.0L200.8 456.1L200.8 458.1L200.9 460.2L200.9 462.2L201.0 464.2L201.0 466.3L201.0 468.3L201.1 470.3L201.1 472.4L201.1 474.4L201.2 476.4L201.2 478.4L201.3 480.5L201.3 482.5L201.3 484.5L201.4 486.6L201.4 488.6L201.4 490.6L201.5 492.6L201.5 494.6L201.5 496.7L201.6 498.7L201.6 500.7L201.7 502.7L201.7 504.7L201.7 506.7L201.8 508.8L201.8 510.8L201.8 512.8L201.9 514.8L201.9 516.8L202.0 518.8L202.0 520.8L202.0 522.8L202.1 524.8L202.1 526.8L202.1 528.8L202.2 530.8L202.2 532.8L202.2 534.8L202.3 536.8L202.3 538.8L202.4 540.8L202.4 542.8L202.4 544.8L202.5 546.8L202.5 548.8L202.5 550.8L202.6 552.8L202.6 554.8L202.6 556.8L202.7 558.8L202.7 560.7L202.8 562.7L202.8 564.7L202.8 566.7L202.9 568.7L202.9 570.7L202.9 572.6L203.0 574.6L203.0 576.6L203.0 578.6L203.1 580.6L203.1 582.5L203.2 584.5L203.2 586.5L203.2 588.5L203.3 590.4L203.3 592.4L203.3 594.4L203.4 596.3L203.4 598.3L203.4 600.3L203.5 602.2L203.5 604.2L203.6 606.2L203.6 608.1L203.6 610.1L203.7 612.1L203.7 614.0L203.7 616.0L203.8 617.9L203.8 619.9L203.8 621.9L203.9 623.8L203.9 625.8L203.9 627.7L204.0 629.7L204.0 631.6L204.1 633.6L204.1 635.5L204.1 637.5L204.2 639.4L204.2 641.4L204.2 643.3L204.3 645.3L204.3 647.2L204.3 649.1L204.4 651.1L204.4 653.0L204.4 655.0L204.5 656.9L204.5 658.8L204.6 660.8L204.6 662.7L204.6 664.7L204.7 666.6L204.7 668.5L204.7 670.5L204.8 672.4L204.8 674.3L204.8 676.2L204.9 678.2L204.9 680.1L204.9 682.0L205.0 684.0L205.0 685.9L205.0 687.8L205.1 689.7L205.1 691.6L205.2 693.6L205.2 695.5L205.2 697.4L205.3 699.3L205.3 701.2L205.3 703.2L205.4 705.1L205.4 707.0L205.4 708.9L205.5 710.8L205.5 712.7L205.5 714.6L205.6 716.5L205.6 718.5L205.6 720.4L205.7 722.3L205.7 724.2L205.7 726.1L205.8 728.0L205.8 729.9L205.9 731.8L205.9 733.7L205.9 735.6L206.0 737.5L206.0 739.4L206.0 741.3L206.1 743.2L206.1 745.1L206.1 747.0L206.2 748.9L206.2 750.8L206.2 752.6L206.3 754.5L206.3 756.4L206.3 758.3L206.4 760.2L206.4 762.1L206.4 764.0L206.5 765.9L206.5 767.7L206.5 769.6L206.6 771.5L206.6 773.4L206.6 775.3L206.7 777.2L206.7 779.0L206.8 780.9L206.8 782.8L206.8 784.7L206.9 786.5L206.9 788.4L206.9 790.3L207.0 792.2L207.0 794.0L207.0 795.9L207.1 797.8L207.1 799.6L207.1 801.5L207.2 803.4L207.2 805.2L207.2 807.1L207.3 809.0L207.3 810.8L207.3 812.7L207.4 814.6" fill="none" stroke="#f01020" stroke-width="1.5" />
<path d="M347.4 186.0L343.0 187.7L338.7 189.7L334.4 192.0L330.0 194.7L325.7 197.7L321.5 201.1L317.2 204.7L313.0 208.7L308.8 213.0L304.7 217.6L300.6 222.5L296.6 227.7L292.7 233.2L288.8 238.9L285.0 245.0L281.3 251.3L277.7 257.8L274.1 264.6L270.7 271.6L267.4 278.9L264.1 286.3L261.0 294.0L258.0 301.9L255.1 309.9L252.3 318.1L249.7 326.5L247.2 335.0L244.8 343.7L242.5 352.5L240.4 361.4L238.4 370.4L236.6 379.5L234.9 388.6L233.4 397.9L232.0 407.1L230.7 416.4L229.7 425.8L228.7 435.1L227.9 444.5L227.3 453.8L226.8 463.1L226.5 472.4L226.3 481.6L226.3 490.7L226.5 499.8L226.7 508.8L227.2 517.7L227.8 526.5L228.5 535.2L229.4 543.8L230.5 552.2L231.6 560.4L233.0 568.5L234.4 576.4L236.0 584.2L237.7 591.8L239.6 599.1L241.6 606.3L243.7 613.2L246.0 619.9L248.3 626.4L250.8 632.7L253.4 638.7L256.1 644.5L258.9 650.0L261.9 655.2L264.9 660.2L268.0 664.9L271.2 669.4L274.5 673.5L277.8 677.4L281.3 681.0L284.8 684.3L288.4 687.3L292.0 690.0L295.7 692.4L299.5 694.5L303.3 696.3L307.2 697.8L311.1 699.0L315.0 699.8L319.0 700.4L323.0 700.7L327.1 700.7L331.1 700.3L335.2 699.7L339.2 698.7L343.3 697.5L347.4 695.9" fill="none" stroke="#111" stroke-width="1.35" />
<path d="M347.4 319.6L345.2 320.5L343.1 321.5L341.0 322.7L338.9 324.1L336.7 325.6L334.6 327.2L332.6 329.1L330.5 331.0L328.4 333.1L326.4 335.4L324.4 337.8L322.5 340.4L320.5 343.1L318.6 345.9L316.8 348.9L314.9 351.9L313.2 355.1L311.4 358.5L309.7 361.9L308.1 365.5L306.5 369.1L304.9 372.9L303.4 376.7L302.0 380.7L300.6 384.7L299.3 388.8L298.1 393.0L296.9 397.2L295.8 401.5L294.7 405.9L293.7 410.3L292.8 414.8L291.9 419.3L291.1 423.8L290.4 428.4L289.8 433.0L289.2 437.6L288.7 442.2L288.3 446.8L288.0 451.4L287.7 456.0L287.5 460.6L287.4 465.2L287.4 469.7L287.4 474.2L287.5 478.7L287.7 483.2L287.9 487.6L288.3 491.9L288.7 496.2L289.2 500.4L289.7 504.5L290.3 508.6L291.0 512.6L291.8 516.5L292.6 520.3L293.5 524.1L294.5 527.7L295.5 531.2L296.6 534.6L297.8 537.9L299.0 541.1L300.3 544.2L301.6 547.2L303.0 550.0L304.4 552.7L305.9 555.2L307.4 557.7L309.0 560.0L310.7 562.1L312.3 564.1L314.0 566.0L315.8 567.7L317.6 569.3L319.4 570.7L321.3 572.0L323.2 573.1L325.1 574.1L327.0 574.9L329.0 575.6L331.0 576.1L333.0 576.4L335.0 576.6L337.1 576.6L339.1 576.5L341.2 576.2L343.2 575.8L345.3 575.2L347.4 574.4" fill="none" stroke="#111" stroke-width="1.35" />
</g>
<g clip-path="url(#cf)">
<path d="M347.37 117.50L353.56 121.24L353.10 759.63L347.39 755.30 Z" fill="url(#g106)"/>
<path d="M351.24 119.84L357.44 123.57L356.68 762.33L350.96 758.00 Z" fill="url(#g107)"/>
<path d="M355.11 122.17L361.32 125.92L360.27 765.04L354.53 760.71 Z" fill="url(#g108)"/>
<path d="M358.99 124.51L365.21 128.26L363.86 767.76L358.12 763.42 Z" fill="url(#g109)"/>
<path d="M362.88 126.86L369.11 130.62L367.46 770.48L361.71 766.13 Z" fill="url(#g110)"/>
<path d="M366.77 129.20L373.02 132.97L371.06 773.21L365.30 768.85 Z" fill="url(#g111)"/>
<path d="M370.67 131.56L376.93 135.33L374.68 775.94L368.90 771.57 Z" fill="url(#g112)"/>
<path d="M374.58 133.92L380.85 137.70L378.29 778.67L372.51 774.30 Z" fill="url(#g113)"/>
<path d="M378.50 136.28L384.78 140.07L381.92 781.41L376.12 777.03 Z" fill="url(#g114)"/>
<path d="M382.42 138.64L388.72 142.44L385.55 784.15L379.74 779.77 Z" fill="url(#g115)"/>
<path d="M386.35 141.01L392.66 144.82L389.18 786.90L383.37 782.51 Z" fill="url(#g116)"/>
<path d="M390.29 143.39L396.61 147.20L392.82 789.66L387.00 785.25 Z" fill="url(#g117)"/>
<path d="M394.24 145.77L400.57 149.59L396.47 792.42L390.64 788.00 Z" fill="url(#g118)"/>
<path d="M398.19 148.15L404.53 151.98L400.13 795.18L394.28 790.76 Z" fill="url(#g119)"/>
<path d="M402.15 150.54L408.50 154.37L403.79 797.95L397.93 793.52 Z" fill="url(#g120)"/>
<path d="M406.12 152.94L412.48 156.77L407.46 800.72L401.59 796.29 Z" fill="url(#g121)"/>
<path d="M410.09 155.33L416.47 159.18L411.13 803.50L405.25 799.06 Z" fill="url(#g122)"/>
<path d="M414.08 157.74L420.47 161.59L414.81 806.28L408.92 801.83 Z" fill="url(#g123)"/>
<path d="M418.07 160.14L424.47 164.00L418.50 809.07L412.60 804.61 Z" fill="url(#g124)"/>
<path d="M422.07 162.55L428.48 166.42L422.19 811.86L416.28 807.39 Z" fill="url(#g125)"/>
<path d="M426.07 164.97L432.50 168.84L425.89 814.66L419.97 810.18 Z" fill="url(#g126)"/>
<path d="M430.08 167.39L436.52 171.27L429.60 817.46L423.67 812.98 Z" fill="url(#g127)"/>
<path d="M434.10 169.81L440.55 173.70L433.31 820.27L427.37 815.78 Z" fill="url(#g128)"/>
<path d="M438.13 172.24L444.59 176.14L437.03 823.08L431.08 818.58 Z" fill="url(#g129)"/>
<path d="M442.17 174.68L448.64 178.58L440.75 825.89L434.79 821.39 Z" fill="url(#g130)"/>
<path d="M446.21 177.12L452.70 181.03L444.48 828.72L438.52 824.20 Z" fill="url(#g131)"/>
<path d="M450.26 179.56L456.76 183.48L448.22 831.54L442.24 827.02 Z" fill="url(#g132)"/>
<path d="M454.32 182.01L460.83 185.93L451.97 834.37L445.98 829.85 Z" fill="url(#g133)"/>
<path d="M458.39 184.46L464.91 188.39L455.72 837.21L449.72 832.67 Z" fill="url(#g134)"/>
<path d="M462.46 186.92L466.54 189.38L457.22 838.35L453.47 835.51 Z" fill="url(#g135)"/>
<path d="M357.2 123.5L357.2 125.6L357.2 127.8L357.2 129.9L357.2 132.1L357.2 134.3L357.2 136.4L357.2 138.6L357.2 140.7L357.2 142.9L357.2 145.0L357.2 147.2L357.2 149.3L357.2 151.5L357.2 153.6L357.2 155.8L357.2 157.9L357.2 160.0L357.2 162.2L357.2 164.3L357.2 166.5L357.2 168.6L357.2 170.7L357.2 172.9L357.2 175.0L357.2 177.1L357.2 179.3L357.2 181.4L357.2 183.5L357.2 185.7L357.2 187.8L357.2 189.9L357.2 192.1L357.2 194.2L357.3 196.4L357.3 198.5L357.4 200.7L357.5 202.9L357.6 205.1L357.7 207.2L357.8 209.4L357.9 211.6L358.0 213.8L358.1 215.9L358.2 218.1L358.3 220.3L358.4 222.5L358.5 224.7L358.6 226.9L358.7 229.1L358.9 231.2L359.0 233.4L359.1 235.6L359.3 237.8L359.4 240.0L359.6 242.2L359.8 244.4L359.9 246.7L360.1 248.9L360.3 251.1L360.5 253.3L360.7 255.5L360.9 257.8L361.2 260.0L361.4 262.3L361.6 264.5L361.9 266.8L362.2 269.0L362.5 271.3L362.8 273.6L363.1 275.9L363.4 278.2L363.8 280.5L364.1 282.8L364.5 285.2L364.9 287.5L365.3 289.9L365.8 292.2L366.2 294.6L366.7 297.0L367.2 299.4L367.7 301.8L368.3 304.2L368.8 306.7L369.4 309.1L370.0 311.6L370.6 314.1L371.2 316.5L371.9 319.0L372.5 321.5L373.2 324.0L373.8 326.5L374.5 329.0L375.1 331.5L375.8 334.0L376.5 336.5L377.1 339.0L377.8 341.5L378.4 344.0L379.1 346.5L379.7 349.0L380.3 351.5L380.9 353.9L381.5 356.4L382.1 358.8L382.7 361.3L383.3 363.7L383.9 366.2L384.4 368.6L384.9 371.0L385.5 373.4L386.0 375.8L386.5 378.2L387.0 380.5L387.4 382.9L387.9 385.3L388.3 387.6L388.8 390.0L389.2 392.3L389.6 394.6L390.0 396.9L390.4 399.2L390.8 401.5L391.1 403.8L391.5 406.1L391.8 408.4L392.1 410.7L392.5 412.9L392.8 415.2L393.1 417.4L393.3 419.6L393.6 421.9L393.9 424.1L394.1 426.3L394.4 428.5L394.6 430.7L394.8 432.9L395.0 435.0L395.2 437.2L395.4 439.4L395.6 441.5L395.8 443.7L395.9 445.8L396.1 447.9L396.2 450.1L396.4 452.2L396.5 454.3L396.6 456.4L396.7 458.5L396.8 460.6L396.9 462.7L396.9 464.7L397.0 466.8L397.1 468.9L397.1 470.9L397.2 473.0L397.2 475.0L397.2 477.0L397.2 479.0L397.2 481.1L397.2 483.1L397.2 485.1L397.2 487.1L397.1 489.1L397.1 491.0L397.0 493.0L397.0 495.0L396.9 496.9L396.8 498.9L396.7 500.8L396.6 502.8L396.5 504.7L396.4 506.6L396.3 508.5L396.1 510.4L396.0 512.3L395.8 514.2L395.7 516.1L395.5 518.0L395.3 519.8L395.1 521.7L394.9 523.6L394.7 525.4L394.5 527.2L394.3 529.1L394.0 530.9L393.8 532.7L393.5 534.5L393.2 536.3L393.0 538.1L392.7 539.9L392.4 541.6L392.0 543.4L391.7 545.2L391.4 546.9L391.0 548.6L390.7 550.4L390.3 552.1L389.9 553.8L389.6 555.5L389.2 557.2L388.7 558.9L388.3 560.5L387.9 562.2L387.4 563.9L387.0 565.5L386.5 567.1L386.0 568.8L385.5 570.4L385.0 572.0L384.5 573.6L384.0 575.2L383.5 576.7L382.9 578.3L382.3 579.9L381.8 581.4L381.2 582.9L380.6 584.5L380.0 586.0L379.4 587.5L378.8 589.0L378.1 590.5L377.5 592.0L376.8 593.5L376.2 595.0L375.5 596.4L374.9 597.9L374.2 599.4L373.6 600.8L372.9 602.3L372.3 603.8L371.6 605.3L371.0 606.7L370.4 608.2L369.8 609.7L369.2 611.2L368.6 612.7L368.0 614.3L367.5 615.8L367.0 617.3L366.4 618.9L366.0 620.5L365.5 622.0L365.0 623.6L364.6 625.2L364.2 626.9L363.8 628.5L363.4 630.1L363.1 631.8L362.7 633.5L362.4 635.1L362.1 636.8L361.8 638.5L361.5 640.2L361.2 641.9L361.0 643.6L360.7 645.4L360.5 647.1L360.3 648.8L360.1 650.6L359.9 652.4L359.7 654.1L359.5 655.9L359.3 657.6L359.1 659.4L359.0 661.2L358.8 663.0L358.7 664.8L358.5 666.5L358.4 668.3L358.3 670.1L358.1 671.9L358.0 673.7L357.9 675.5L357.8 677.3L357.7 679.1L357.6 680.9L357.5 682.7L357.4 684.6L357.3 686.4L357.2 688.2L357.1 690.0L357.0 691.8L356.9 693.6L356.8 695.4L356.7 697.3L356.7 699.1L356.6 700.9L356.6 702.8L356.6 704.6L356.6 706.5L356.6 708.4L356.6 710.2L356.6 712.1L356.6 714.0L356.6 715.8L356.6 717.7L356.6 719.6L356.6 721.4L356.5 723.3L356.5 725.2L356.5 727.0L356.5 728.9L356.5 730.7L356.5 732.6L356.5 734.4L356.5 736.3L356.5 738.2L356.5 740.0L356.5 741.9L356.5 743.7L356.5 745.6L356.5 747.4L356.5 749.3L356.5 751.1L356.5 753.0L356.5 754.8L356.5 756.7L356.5 758.5L356.5 760.4L356.5 762.2" fill="none" stroke="#e83020" stroke-width="0.9" />
<path d="M376.5 135.1L376.5 137.3L376.5 139.4L376.5 141.6L376.5 143.8L376.5 145.9L376.5 148.1L376.5 150.2L376.5 152.4L376.5 154.6L376.5 156.7L376.5 158.9L376.5 161.0L376.4 163.2L376.4 165.3L376.4 167.5L376.4 169.6L376.4 171.8L376.4 173.9L376.4 176.1L376.4 178.2L376.4 180.4L376.4 182.5L376.4 184.7L376.4 186.8L376.4 189.0L376.3 191.1L376.3 193.2L376.3 195.4L376.3 197.5L376.3 199.6L376.3 201.8L376.3 203.9L376.3 206.0L376.3 208.2L376.3 210.3L376.3 212.4L376.3 214.6L376.3 216.7L376.4 218.9L376.6 221.1L376.8 223.4L377.0 225.6L377.2 227.9L377.4 230.2L377.6 232.4L377.8 234.7L378.0 236.9L378.3 239.2L378.5 241.5L378.8 243.7L379.0 246.0L379.3 248.3L379.5 250.6L379.8 252.9L380.0 255.1L380.3 257.4L380.6 259.7L380.9 262.0L381.2 264.3L381.5 266.6L381.8 268.9L382.1 271.2L382.4 273.5L382.7 275.8L383.0 278.1L383.4 280.4L383.7 282.8L384.0 285.1L384.4 287.4L384.7 289.7L385.1 292.0L385.4 294.4L385.8 296.7L386.1 299.0L386.5 301.4L386.9 303.7L387.3 306.0L387.6 308.4L388.0 310.7L388.4 313.0L388.8 315.4L389.2 317.7L389.5 320.0L389.9 322.4L390.3 324.7L390.7 327.1L391.1 329.4L391.5 331.7L391.8 334.1L392.2 336.4L392.6 338.7L393.0 341.0L393.4 343.4L393.7 345.7L394.1 348.0L394.5 350.3L394.8 352.7L395.2 355.0L395.6 357.3L395.9 359.6L396.3 361.9L396.6 364.2L397.0 366.5L397.3 368.8L397.6 371.1L398.0 373.4L398.3 375.6L398.6 377.9L398.9 380.2L399.2 382.5L399.5 384.7L399.8 387.0L400.1 389.2L400.4 391.5L400.7 393.7L401.0 396.0L401.2 398.2L401.5 400.4L401.7 402.7L402.0 404.9L402.2 407.1L402.5 409.3L402.7 411.5L402.9 413.7L403.1 415.9L403.4 418.1L403.6 420.3L403.8 422.5L403.9 424.7L404.1 426.8L404.3 429.0L404.5 431.2L404.6 433.3L404.8 435.5L405.0 437.6L405.1 439.8L405.2 441.9L405.4 444.0L405.5 446.1L405.6 448.3L405.7 450.4L405.8 452.5L405.9 454.6L406.0 456.7L406.1 458.8L406.2 460.9L406.3 462.9L406.3 465.0L406.4 467.1L406.4 469.1L406.5 471.2L406.5 473.3L406.6 475.3L406.6 477.4L406.6 479.4L406.6 481.4L406.6 483.5L406.6 485.5L406.6 487.5L406.6 489.5L406.6 491.5L406.6 493.5L406.5 495.5L406.5 497.5L406.5 499.5L406.4 501.5L406.4 503.4L406.3 505.4L406.2 507.4L406.2 509.3L406.1 511.3L406.0 513.2L405.9 515.1L405.8 517.1L405.7 519.0L405.6 520.9L405.4 522.8L405.3 524.8L405.2 526.7L405.0 528.6L404.9 530.5L404.7 532.4L404.6 534.2L404.4 536.1L404.2 538.0L404.1 539.9L403.9 541.7L403.7 543.6L403.5 545.4L403.3 547.3L403.1 549.1L402.9 550.9L402.6 552.8L402.4 554.6L402.2 556.4L401.9 558.2L401.7 560.0L401.4 561.8L401.2 563.6L400.9 565.4L400.6 567.2L400.4 569.0L400.1 570.8L399.8 572.5L399.5 574.3L399.2 576.1L398.9 577.8L398.6 579.6L398.3 581.3L398.0 583.1L397.6 584.8L397.3 586.5L397.0 588.2L396.6 590.0L396.3 591.7L395.9 593.4L395.6 595.1L395.2 596.8L394.9 598.5L394.5 600.2L394.1 601.9L393.8 603.6L393.4 605.3L393.0 606.9L392.6 608.6L392.2 610.3L391.9 612.0L391.5 613.6L391.1 615.3L390.7 617.0L390.3 618.6L389.9 620.3L389.5 621.9L389.1 623.6L388.7 625.3L388.3 626.9L387.9 628.6L387.6 630.2L387.2 631.9L386.8 633.5L386.4 635.2L386.0 636.8L385.6 638.5L385.3 640.2L384.9 641.8L384.5 643.5L384.2 645.1L383.8 646.8L383.4 648.5L383.1 650.1L382.7 651.8L382.4 653.5L382.0 655.1L381.7 656.8L381.4 658.5L381.1 660.1L380.7 661.8L380.4 663.5L380.1 665.2L379.8 666.9L379.5 668.6L379.2 670.3L378.9 672.0L378.7 673.7L378.4 675.4L378.1 677.1L377.8 678.8L377.6 680.5L377.3 682.2L377.1 683.9L376.8 685.7L376.6 687.4L376.4 689.1L376.1 690.8L375.9 692.6L375.7 694.3L375.5 696.0L375.3 697.8L375.1 699.5L374.9 701.2L374.7 703.0L374.6 704.8L374.6 706.7L374.5 708.6L374.5 710.4L374.5 712.3L374.5 714.2L374.5 716.1L374.5 717.9L374.5 719.8L374.5 721.7L374.5 723.6L374.5 725.4L374.5 727.3L374.5 729.2L374.5 731.1L374.5 732.9L374.5 734.8L374.4 736.7L374.4 738.5L374.4 740.4L374.4 742.3L374.4 744.1L374.4 746.0L374.4 747.8L374.4 749.7L374.4 751.6L374.4 753.4L374.4 755.3L374.4 757.1L374.4 759.0L374.4 760.9L374.4 762.7L374.4 764.6L374.3 766.4L374.3 768.3L374.3 770.1L374.3 772.0L374.3 773.8L374.3 775.7" fill="none" stroke="#e83020" stroke-width="0.9" />
<path d="M386.0 140.8L386.0 142.9L385.9 145.1L385.9 147.3L385.9 149.5L385.9 151.6L385.9 153.8L385.9 156.0L385.9 158.1L385.9 160.3L385.9 162.4L385.9 164.6L385.8 166.8L385.8 168.9L385.8 171.1L385.8 173.2L385.8 175.4L385.8 177.5L385.8 179.7L385.8 181.8L385.8 184.0L385.8 186.1L385.7 188.3L385.7 190.4L385.7 192.6L385.7 194.7L385.7 196.9L385.7 199.0L385.7 201.1L385.7 203.3L385.7 205.4L385.7 207.6L385.6 209.7L385.6 211.8L385.6 214.0L385.6 216.1L385.6 218.2L385.6 220.4L385.6 222.5L385.6 224.6L385.6 226.8L385.6 228.9L385.5 231.0L385.5 233.1L385.7 235.3L385.9 237.6L386.1 239.9L386.4 242.2L386.6 244.4L386.8 246.7L387.1 249.0L387.3 251.3L387.6 253.6L387.9 255.8L388.1 258.1L388.4 260.4L388.7 262.7L388.9 265.0L389.2 267.3L389.5 269.6L389.8 271.9L390.1 274.2L390.4 276.5L390.7 278.8L391.0 281.1L391.3 283.4L391.6 285.7L391.9 288.0L392.2 290.3L392.5 292.6L392.8 294.9L393.1 297.2L393.4 299.5L393.7 301.8L394.1 304.1L394.4 306.4L394.7 308.7L395.0 311.0L395.4 313.3L395.7 315.6L396.0 317.9L396.3 320.3L396.7 322.6L397.0 324.9L397.3 327.2L397.6 329.5L398.0 331.8L398.3 334.1L398.6 336.4L398.9 338.7L399.3 341.0L399.6 343.2L399.9 345.5L400.2 347.8L400.5 350.1L400.8 352.4L401.1 354.7L401.4 357.0L401.7 359.2L402.0 361.5L402.3 363.8L402.6 366.0L402.9 368.3L403.2 370.6L403.5 372.8L403.8 375.1L404.0 377.3L404.3 379.6L404.6 381.8L404.8 384.1L405.1 386.3L405.3 388.5L405.6 390.8L405.8 393.0L406.1 395.2L406.3 397.4L406.5 399.6L406.7 401.9L407.0 404.1L407.2 406.3L407.4 408.5L407.6 410.7L407.8 412.8L408.0 415.0L408.2 417.2L408.3 419.4L408.5 421.6L408.7 423.7L408.8 425.9L409.0 428.0L409.2 430.2L409.3 432.3L409.5 434.5L409.6 436.6L409.7 438.8L409.9 440.9L410.0 443.0L410.1 445.1L410.2 447.3L410.3 449.4L410.4 451.5L410.5 453.6L410.6 455.7L410.7 457.8L410.7 459.9L410.8 461.9L410.9 464.0L410.9 466.1L411.0 468.2L411.0 470.2L411.1 472.3L411.1 474.3L411.2 476.4L411.2 478.4L411.2 480.5L411.2 482.5L411.2 484.6L411.2 486.6L411.2 488.6L411.2 490.6L411.2 492.6L411.2 494.6L411.2 496.6L411.1 498.6L411.1 500.6L411.1 502.6L411.0 504.6L411.0 506.6L410.9 508.5L410.8 510.5L410.8 512.5L410.7 514.4L410.6 516.4L410.5 518.3L410.4 520.3L410.3 522.2L410.2 524.2L410.1 526.1L410.0 528.0L409.9 529.9L409.8 531.8L409.6 533.8L409.5 535.7L409.4 537.6L409.2 539.5L409.1 541.3L408.9 543.2L408.8 545.1L408.6 547.0L408.4 548.9L408.2 550.7L408.1 552.6L407.9 554.4L407.7 556.3L407.5 558.1L407.3 560.0L407.1 561.8L406.9 563.7L406.6 565.5L406.4 567.3L406.2 569.1L406.0 570.9L405.7 572.8L405.5 574.6L405.2 576.4L405.0 578.2L404.7 579.9L404.5 581.7L404.2 583.5L403.9 585.3L403.7 587.1L403.4 588.8L403.1 590.6L402.8 592.4L402.5 594.1L402.2 595.9L401.9 597.6L401.6 599.4L401.3 601.1L401.0 602.9L400.7 604.6L400.4 606.3L400.1 608.1L399.8 609.8L399.4 611.5L399.1 613.3L398.8 615.0L398.5 616.7L398.1 618.4L397.8 620.1L397.5 621.8L397.1 623.5L396.8 625.2L396.5 626.9L396.1 628.6L395.8 630.3L395.5 632.0L395.1 633.7L394.8 635.4L394.4 637.1L394.1 638.8L393.8 640.5L393.4 642.2L393.1 643.9L392.8 645.6L392.4 647.3L392.1 648.9L391.8 650.6L391.4 652.3L391.1 654.0L390.8 655.7L390.5 657.4L390.2 659.1L389.8 660.8L389.5 662.5L389.2 664.2L388.9 665.9L388.6 667.6L388.3 669.3L388.0 671.0L387.7 672.7L387.4 674.4L387.1 676.1L386.9 677.8L386.6 679.5L386.3 681.2L386.0 682.9L385.8 684.6L385.5 686.3L385.2 688.0L385.0 689.7L384.7 691.4L384.5 693.2L384.2 694.9L384.0 696.6L383.8 698.3L383.5 700.1L383.4 701.8L383.4 703.7L383.4 705.6L383.3 707.5L383.3 709.4L383.3 711.3L383.3 713.2L383.3 715.0L383.3 716.9L383.3 718.8L383.3 720.7L383.3 722.6L383.3 724.4L383.3 726.3L383.3 728.2L383.2 730.1L383.2 732.0L383.2 733.8L383.2 735.7L383.2 737.6L383.2 739.4L383.2 741.3L383.2 743.2L383.2 745.0L383.2 746.9L383.2 748.8L383.1 750.7L383.1 752.5L383.1 754.4L383.1 756.2L383.1 758.1L383.1 760.0L383.1 761.8L383.1 763.7L383.1 765.5L383.1 767.4L383.1 769.3L383.1 771.1L383.0 773.0L383.0 774.8L383.0 776.7L383.0 778.5L383.0 780.4L383.0 782.2" fill="none" stroke="#e83020" stroke-width="0.9" />
<path d="M404.3 151.9L404.3 154.0L404.3 156.2L404.3 158.4L404.3 160.6L404.3 162.7L404.2 164.9L404.2 167.1L404.2 169.2L404.2 171.4L404.2 173.6L404.2 175.8L404.2 177.9L404.1 180.1L404.1 182.2L404.1 184.4L404.1 186.6L404.1 188.7L404.1 190.9L404.1 193.0L404.0 195.2L404.0 197.4L404.0 199.5L404.0 201.7L404.0 203.8L404.0 206.0L403.9 208.1L403.9 210.3L403.9 212.4L403.9 214.6L403.9 216.7L403.9 218.8L403.9 221.0L403.8 223.1L403.8 225.3L403.8 227.4L403.8 229.5L403.8 231.7L403.8 233.8L403.8 236.0L403.7 238.1L403.7 240.2L403.7 242.4L403.7 244.5L403.7 246.6L403.7 248.7L403.7 250.9L403.6 253.0L403.6 255.1L403.6 257.2L403.6 259.4L403.6 261.5L403.6 263.6L403.6 265.7L403.5 267.8L403.5 270.0L403.5 272.1L403.5 274.2L403.5 276.3L403.7 278.6L403.9 280.8L404.2 283.1L404.4 285.4L404.7 287.7L404.9 289.9L405.2 292.2L405.4 294.5L405.7 296.8L405.9 299.0L406.2 301.3L406.4 303.6L406.7 305.9L406.9 308.1L407.2 310.4L407.4 312.7L407.7 314.9L408.0 317.2L408.2 319.5L408.5 321.8L408.7 324.0L409.0 326.3L409.2 328.5L409.5 330.8L409.7 333.1L410.0 335.3L410.2 337.6L410.5 339.8L410.7 342.1L410.9 344.3L411.2 346.6L411.4 348.8L411.7 351.1L411.9 353.3L412.1 355.6L412.4 357.8L412.6 360.1L412.8 362.3L413.0 364.5L413.3 366.8L413.5 369.0L413.7 371.2L413.9 373.4L414.1 375.7L414.3 377.9L414.5 380.1L414.8 382.3L415.0 384.5L415.2 386.7L415.3 388.9L415.5 391.1L415.7 393.3L415.9 395.5L416.1 397.7L416.3 399.9L416.4 402.1L416.6 404.3L416.8 406.4L416.9 408.6L417.1 410.8L417.3 413.0L417.4 415.1L417.6 417.3L417.7 419.4L417.8 421.6L418.0 423.7L418.1 425.9L418.2 428.0L418.4 430.2L418.5 432.3L418.6 434.4L418.7 436.6L418.8 438.7L418.9 440.8L419.0 442.9L419.1 445.1L419.2 447.2L419.3 449.3L419.4 451.4L419.5 453.5L419.5 455.6L419.6 457.7L419.7 459.8L419.7 461.8L419.8 463.9L419.8 466.0L419.9 468.1L419.9 470.2L420.0 472.2L420.0 474.3L420.1 476.3L420.1 478.4L420.1 480.4L420.1 482.5L420.1 484.5L420.1 486.6L420.2 488.6L420.2 490.6L420.1 492.7L420.1 494.7L420.1 496.7L420.1 498.7L420.1 500.7L420.1 502.7L420.0 504.7L420.0 506.7L420.0 508.7L419.9 510.7L419.9 512.7L419.8 514.7L419.8 516.7L419.7 518.6L419.7 520.6L419.6 522.6L419.5 524.5L419.4 526.5L419.4 528.4L419.3 530.4L419.2 532.3L419.1 534.3L419.0 536.2L418.9 538.2L418.8 540.1L418.7 542.0L418.6 543.9L418.4 545.9L418.3 547.8L418.2 549.7L418.1 551.6L417.9 553.5L417.8 555.4L417.6 557.3L417.5 559.2L417.3 561.1L417.2 562.9L417.0 564.8L416.9 566.7L416.7 568.6L416.5 570.4L416.4 572.3L416.2 574.2L416.0 576.0L415.8 577.9L415.6 579.7L415.5 581.6L415.3 583.4L415.1 585.3L414.9 587.1L414.7 588.9L414.5 590.8L414.2 592.6L414.0 594.4L413.8 596.2L413.6 598.0L413.4 599.9L413.1 601.7L412.9 603.5L412.7 605.3L412.5 607.1L412.2 608.9L412.0 610.7L411.7 612.5L411.5 614.2L411.2 616.0L411.0 617.8L410.8 619.6L410.5 621.4L410.2 623.1L410.0 624.9L409.7 626.7L409.5 628.5L409.2 630.2L408.9 632.0L408.7 633.7L408.4 635.5L408.2 637.3L407.9 639.0L407.6 640.8L407.4 642.5L407.1 644.3L406.8 646.0L406.5 647.8L406.3 649.5L406.0 651.2L405.7 653.0L405.5 654.7L405.2 656.5L404.9 658.2L404.6 659.9L404.4 661.7L404.1 663.4L403.8 665.1L403.6 666.9L403.3 668.6L403.0 670.3L402.7 672.1L402.5 673.8L402.2 675.5L401.9 677.3L401.7 679.0L401.4 680.7L401.2 682.5L400.9 684.2L400.7 685.9L400.7 687.9L400.7 689.8L400.6 691.7L400.6 693.6L400.6 695.5L400.6 697.4L400.6 699.3L400.6 701.2L400.6 703.1L400.6 705.0L400.5 706.9L400.5 708.8L400.5 710.7L400.5 712.6L400.5 714.5L400.5 716.4L400.5 718.2L400.5 720.1L400.4 722.0L400.4 723.9L400.4 725.8L400.4 727.7L400.4 729.6L400.4 731.5L400.4 733.3L400.4 735.2L400.3 737.1L400.3 739.0L400.3 740.9L400.3 742.8L400.3 744.6L400.3 746.5L400.3 748.4L400.2 750.3L400.2 752.1L400.2 754.0L400.2 755.9L400.2 757.8L400.2 759.6L400.2 761.5L400.2 763.4L400.1 765.3L400.1 767.1L400.1 769.0L400.1 770.9L400.1 772.7L400.1 774.6L400.1 776.5L400.1 778.3L400.0 780.2L400.0 782.0L400.0 783.9L400.0 785.8L400.0 787.6L400.0 789.5L400.0 791.3L400.0 793.2L399.9 795.0" fill="none" stroke="#e83020" stroke-width="0.9" />
<path d="M422.9 163.0L422.8 165.2L422.8 167.4L422.8 169.6L422.8 171.8L422.8 173.9L422.7 176.1L422.7 178.3L422.7 180.5L422.7 182.7L422.7 184.8L422.6 187.0L422.6 189.2L422.6 191.3L422.6 193.5L422.6 195.7L422.6 197.8L422.5 200.0L422.5 202.2L422.5 204.3L422.5 206.5L422.5 208.7L422.4 210.8L422.4 213.0L422.4 215.1L422.4 217.3L422.4 219.5L422.3 221.6L422.3 223.8L422.3 225.9L422.3 228.1L422.3 230.2L422.2 232.4L422.2 234.5L422.2 236.7L422.2 238.8L422.2 241.0L422.1 243.1L422.1 245.2L422.1 247.4L422.1 249.5L422.1 251.7L422.0 253.8L422.0 255.9L422.0 258.1L422.0 260.2L422.0 262.3L421.9 264.5L421.9 266.6L421.9 268.7L421.9 270.9L421.9 273.0L421.9 275.1L421.8 277.2L421.8 279.4L421.8 281.5L421.8 283.6L421.8 285.7L421.7 287.9L421.7 290.0L421.7 292.1L421.7 294.2L421.7 296.3L421.6 298.4L421.6 300.6L421.6 302.7L421.6 304.8L421.6 306.9L421.5 309.0L421.5 311.1L421.5 313.2L421.5 315.3L421.5 317.4L421.4 319.5L421.4 321.6L421.4 323.7L421.4 325.8L421.4 327.9L421.4 330.0L421.3 332.1L421.3 334.2L421.3 336.3L421.3 338.4L421.3 340.5L421.4 342.7L421.6 344.9L421.8 347.2L422.0 349.4L422.2 351.6L422.4 353.8L422.6 356.1L422.7 358.3L422.9 360.5L423.1 362.7L423.3 364.9L423.5 367.1L423.6 369.3L423.8 371.5L424.0 373.7L424.2 375.9L424.3 378.1L424.5 380.3L424.6 382.5L424.8 384.7L425.0 386.9L425.1 389.1L425.3 391.3L425.4 393.5L425.6 395.6L425.7 397.8L425.9 400.0L426.0 402.2L426.1 404.3L426.3 406.5L426.4 408.7L426.5 410.8L426.7 413.0L426.8 415.1L426.9 417.3L427.0 419.4L427.1 421.6L427.3 423.7L427.4 425.9L427.5 428.0L427.6 430.1L427.7 432.3L427.8 434.4L427.9 436.5L428.0 438.6L428.0 440.8L428.1 442.9L428.2 445.0L428.3 447.1L428.4 449.2L428.4 451.3L428.5 453.4L428.6 455.5L428.6 457.6L428.7 459.7L428.7 461.8L428.8 463.8L428.8 465.9L428.9 468.0L428.9 470.1L428.9 472.1L429.0 474.2L429.0 476.3L429.0 478.3L429.1 480.4L429.1 482.4L429.1 484.5L429.1 486.5L429.1 488.6L429.1 490.6L429.1 492.7L429.1 494.7L429.1 496.7L429.1 498.8L429.1 500.8L429.1 502.8L429.1 504.8L429.0 506.8L429.0 508.8L429.0 510.8L428.9 512.8L428.9 514.8L428.9 516.8L428.8 518.8L428.8 520.8L428.7 522.8L428.7 524.8L428.6 526.8L428.6 528.7L428.5 530.7L428.4 532.7L428.4 534.7L428.3 536.6L428.2 538.6L428.1 540.5L428.0 542.5L428.0 544.4L427.9 546.4L427.8 548.3L427.7 550.3L427.6 552.2L427.5 554.1L427.4 556.1L427.3 558.0L427.1 559.9L427.0 561.8L426.9 563.7L426.8 565.6L426.7 567.6L426.5 569.5L426.4 571.4L426.3 573.3L426.1 575.2L426.0 577.1L425.8 578.9L425.7 580.8L425.6 582.7L425.4 584.6L425.2 586.5L425.1 588.3L424.9 590.2L424.8 592.1L424.6 594.0L424.4 595.8L424.3 597.7L424.1 599.5L423.9 601.4L423.7 603.2L423.6 605.1L423.4 606.9L423.2 608.8L423.0 610.6L422.8 612.4L422.6 614.3L422.4 616.1L422.2 617.9L422.0 619.8L421.8 621.6L421.6 623.4L421.4 625.2L421.2 627.1L421.0 628.9L420.8 630.7L420.6 632.5L420.4 634.3L420.2 636.1L419.9 637.9L419.7 639.7L419.5 641.5L419.3 643.3L419.1 645.1L418.9 646.9L418.6 648.7L418.4 650.5L418.4 652.4L418.4 654.4L418.4 656.3L418.4 658.2L418.4 660.2L418.3 662.1L418.3 664.0L418.3 665.9L418.3 667.9L418.3 669.8L418.3 671.7L418.2 673.7L418.2 675.6L418.2 677.5L418.2 679.4L418.2 681.3L418.2 683.3L418.1 685.2L418.1 687.1L418.1 689.0L418.1 690.9L418.1 692.9L418.0 694.8L418.0 696.7L418.0 698.6L418.0 700.5L418.0 702.4L418.0 704.3L417.9 706.2L417.9 708.1L417.9 710.1L417.9 712.0L417.9 713.9L417.9 715.8L417.8 717.7L417.8 719.6L417.8 721.5L417.8 723.4L417.8 725.3L417.8 727.2L417.7 729.1L417.7 731.0L417.7 732.9L417.7 734.8L417.7 736.7L417.7 738.5L417.6 740.4L417.6 742.3L417.6 744.2L417.6 746.1L417.6 748.0L417.5 749.9L417.5 751.8L417.5 753.7L417.5 755.5L417.5 757.4L417.5 759.3L417.4 761.2L417.4 763.1L417.4 765.0L417.4 766.8L417.4 768.7L417.4 770.6L417.3 772.5L417.3 774.3L417.3 776.2L417.3 778.1L417.3 780.0L417.3 781.8L417.2 783.7L417.2 785.6L417.2 787.4L417.2 789.3L417.2 791.2L417.2 793.1L417.1 794.9L417.1 796.8L417.1 798.6L417.1 800.5L417.1 802.4L417.1 804.2L417.0 806.1L417.0 808.0" fill="none" stroke="#e83020" stroke-width="0.9" />
<path d="M441.6 174.3L441.5 176.5L441.5 178.7L441.5 180.9L441.5 183.1L441.4 185.3L441.4 187.4L441.4 189.6L441.4 191.8L441.3 194.0L441.3 196.2L441.3 198.4L441.3 200.5L441.2 202.7L441.2 204.9L441.2 207.1L441.2 209.2L441.1 211.4L441.1 213.6L441.1 215.7L441.1 217.9L441.0 220.1L441.0 222.2L441.0 224.4L441.0 226.6L440.9 228.7L440.9 230.9L440.9 233.1L440.9 235.2L440.8 237.4L440.8 239.5L440.8 241.7L440.8 243.9L440.8 246.0L440.7 248.2L440.7 250.3L440.7 252.5L440.7 254.6L440.6 256.8L440.6 258.9L440.6 261.1L440.6 263.2L440.5 265.3L440.5 267.5L440.5 269.6L440.5 271.8L440.4 273.9L440.4 276.1L440.4 278.2L440.4 280.3L440.3 282.5L440.3 284.6L440.3 286.7L440.3 288.9L440.2 291.0L440.2 293.1L440.2 295.3L440.2 297.4L440.1 299.5L440.1 301.6L440.1 303.8L440.1 305.9L440.0 308.0L440.0 310.1L440.0 312.2L440.0 314.4L440.0 316.5L439.9 318.6L439.9 320.7L439.9 322.8L439.9 324.9L439.8 327.1L439.8 329.2L439.8 331.3L439.8 333.4L439.7 335.5L439.7 337.6L439.7 339.7L439.7 341.8L439.6 343.9L439.6 346.0L439.6 348.1L439.6 350.2L439.5 352.3L439.5 354.4L439.5 356.5L439.5 358.6L439.5 360.7L439.4 362.8L439.4 364.9L439.4 367.0L439.4 369.1L439.3 371.2L439.3 373.2L439.3 375.3L439.3 377.4L439.2 379.5L439.2 381.6L439.2 383.7L439.2 385.8L439.1 387.8L439.1 389.9L439.1 392.0L439.1 394.1L439.0 396.1L439.0 398.2L439.0 400.3L439.0 402.4L439.0 404.4L438.9 406.5L438.9 408.6L438.9 410.7L438.9 412.7L438.8 414.8L438.8 416.9L438.8 418.9L438.8 421.0L438.7 423.0L438.7 425.1L438.7 427.2L438.7 429.2L438.7 431.3L438.6 433.3L438.6 435.4L438.6 437.5L438.6 439.5L438.5 441.6L438.5 443.6L438.5 445.7L438.5 447.7L438.4 449.8L438.4 451.8L438.4 453.9L438.4 455.9L438.3 457.9L438.3 460.0L438.3 462.0L438.3 464.1L438.3 466.1L438.2 468.2L438.2 470.2L438.2 472.2L438.2 474.3L438.1 476.3L438.1 478.3L438.1 480.4L438.1 482.4L438.1 484.5L438.1 486.5L438.1 488.6L438.1 490.6L438.1 492.7L438.1 494.7L438.1 496.8L438.1 498.8L438.1 500.8L438.1 502.9L438.1 504.9L438.1 506.9L438.1 508.9L438.0 510.9L438.0 513.0L438.0 515.0L438.0 517.0L437.9 519.0L437.9 521.0L437.9 523.0L437.8 525.0L437.8 527.0L437.7 529.0L437.7 531.0L437.6 533.0L437.6 534.9L437.5 536.9L437.4 538.9L437.4 540.9L437.4 542.9L437.4 544.9L437.3 546.9L437.3 548.9L437.3 550.9L437.3 552.9L437.3 554.9L437.2 556.9L437.2 558.9L437.2 560.9L437.2 562.9L437.1 564.9L437.1 566.8L437.1 568.8L437.1 570.8L437.0 572.8L437.0 574.8L437.0 576.8L437.0 578.8L437.0 580.7L436.9 582.7L436.9 584.7L436.9 586.7L436.9 588.7L436.8 590.6L436.8 592.6L436.8 594.6L436.8 596.6L436.8 598.5L436.7 600.5L436.7 602.5L436.7 604.5L436.7 606.4L436.6 608.4L436.6 610.4L436.6 612.3L436.6 614.3L436.6 616.3L436.5 618.2L436.5 620.2L436.5 622.1L436.5 624.1L436.4 626.1L436.4 628.0L436.4 630.0L436.4 631.9L436.4 633.9L436.3 635.9L436.3 637.8L436.3 639.8L436.3 641.7L436.2 643.7L436.2 645.6L436.2 647.6L436.2 649.5L436.2 651.5L436.1 653.4L436.1 655.4L436.1 657.3L436.1 659.2L436.0 661.2L436.0 663.1L436.0 665.1L436.0 667.0L436.0 668.9L435.9 670.9L435.9 672.8L435.9 674.8L435.9 676.7L435.8 678.6L435.8 680.6L435.8 682.5L435.8 684.4L435.8 686.3L435.7 688.3L435.7 690.2L435.7 692.1L435.7 694.1L435.7 696.0L435.6 697.9L435.6 699.8L435.6 701.8L435.6 703.7L435.5 705.6L435.5 707.5L435.5 709.4L435.5 711.3L435.5 713.3L435.4 715.2L435.4 717.1L435.4 719.0L435.4 720.9L435.3 722.8L435.3 724.7L435.3 726.7L435.3 728.6L435.3 730.5L435.2 732.4L435.2 734.3L435.2 736.2L435.2 738.1L435.2 740.0L435.1 741.9L435.1 743.8L435.1 745.7L435.1 747.6L435.0 749.5L435.0 751.4L435.0 753.3L435.0 755.2L435.0 757.1L434.9 759.0L434.9 760.9L434.9 762.8L434.9 764.7L434.9 766.5L434.8 768.4L434.8 770.3L434.8 772.2L434.8 774.1L434.7 776.0L434.7 777.9L434.7 779.8L434.7 781.6L434.7 783.5L434.6 785.4L434.6 787.3L434.6 789.2L434.6 791.0L434.6 792.9L434.5 794.8L434.5 796.7L434.5 798.5L434.5 800.4L434.4 802.3L434.4 804.2L434.4 806.0L434.4 807.9L434.4 809.8L434.3 811.6L434.3 813.5L434.3 815.4L434.3 817.2L434.3 819.1L434.2 821.0" fill="none" stroke="#e83020" stroke-width="0.9" />
<path d="M460.4 185.7L460.4 187.9L460.4 190.1L460.3 192.3L460.3 194.5L460.3 196.7L460.2 198.9L460.2 201.0L460.2 203.2L460.2 205.4L460.1 207.6L460.1 209.8L460.1 212.0L460.0 214.2L460.0 216.4L460.0 218.5L459.9 220.7L459.9 222.9L459.9 225.1L459.9 227.2L459.8 229.4L459.8 231.6L459.8 233.8L459.7 235.9L459.7 238.1L459.7 240.3L459.7 242.5L459.6 244.6L459.6 246.8L459.6 249.0L459.5 251.1L459.5 253.3L459.5 255.4L459.4 257.6L459.4 259.8L459.4 261.9L459.4 264.1L459.3 266.2L459.3 268.4L459.3 270.5L459.2 272.7L459.2 274.8L459.2 277.0L459.2 279.1L459.1 281.3L459.1 283.4L459.1 285.6L459.0 287.7L459.0 289.9L459.0 292.0L458.9 294.2L458.9 296.3L458.9 298.4L458.9 300.6L458.8 302.7L458.8 304.9L458.8 307.0L458.7 309.1L458.7 311.3L458.7 313.4L458.7 315.5L458.6 317.6L458.6 319.8L458.6 321.9L458.5 324.0L458.5 326.2L458.5 328.3L458.5 330.4L458.4 332.5L458.4 334.6L458.4 336.8L458.3 338.9L458.3 341.0L458.3 343.1L458.3 345.2L458.2 347.3L458.2 349.5L458.2 351.6L458.1 353.7L458.1 355.8L458.1 357.9L458.1 360.0L458.0 362.1L458.0 364.2L458.0 366.3L457.9 368.4L457.9 370.5L457.9 372.6L457.8 374.7L457.8 376.8L457.8 378.9L457.8 381.0L457.7 383.1L457.7 385.2L457.7 387.3L457.6 389.4L457.6 391.5L457.6 393.6L457.6 395.7L457.5 397.7L457.5 399.8L457.5 401.9L457.5 404.0L457.4 406.1L457.4 408.2L457.4 410.3L457.3 412.3L457.3 414.4L457.3 416.5L457.3 418.6L457.2 420.6L457.2 422.7L457.2 424.8L457.1 426.9L457.1 428.9L457.1 431.0L457.1 433.1L457.0 435.1L457.0 437.2L457.0 439.3L456.9 441.3L456.9 443.4L456.9 445.5L456.9 447.5L456.8 449.6L456.8 451.7L456.8 453.7L456.7 455.8L456.7 457.8L456.7 459.9L456.7 461.9L456.6 464.0L456.6 466.0L456.6 468.1L456.5 470.1L456.5 472.2L456.5 474.2L456.5 476.3L456.4 478.3L456.4 480.4L456.4 482.4L456.4 484.5L456.3 486.5L456.3 488.6L456.3 490.6L456.2 492.6L456.2 494.7L456.2 496.7L456.2 498.7L456.1 500.8L456.1 502.8L456.1 504.8L456.0 506.9L456.0 508.9L456.0 510.9L456.0 513.0L455.9 515.0L455.9 517.0L455.9 519.0L455.9 521.1L455.8 523.1L455.8 525.1L455.8 527.1L455.7 529.2L455.7 531.2L455.7 533.2L455.7 535.2L455.6 537.2L455.6 539.2L455.6 541.3L455.6 543.3L455.5 545.3L455.5 547.3L455.5 549.3L455.4 551.3L455.4 553.3L455.4 555.3L455.4 557.3L455.3 559.3L455.3 561.3L455.3 563.3L455.3 565.3L455.2 567.3L455.2 569.3L455.2 571.3L455.1 573.3L455.1 575.3L455.1 577.3L455.1 579.3L455.0 581.3L455.0 583.3L455.0 585.3L455.0 587.3L454.9 589.3L454.9 591.3L454.9 593.3L454.8 595.3L454.8 597.2L454.8 599.2L454.8 601.2L454.7 603.2L454.7 605.2L454.7 607.2L454.7 609.1L454.6 611.1L454.6 613.1L454.6 615.1L454.5 617.0L454.5 619.0L454.5 621.0L454.5 623.0L454.4 624.9L454.4 626.9L454.4 628.9L454.4 630.8L454.3 632.8L454.3 634.8L454.3 636.7L454.3 638.7L454.2 640.7L454.2 642.6L454.2 644.6L454.1 646.6L454.1 648.5L454.1 650.5L454.1 652.4L454.0 654.4L454.0 656.4L454.0 658.3L454.0 660.3L453.9 662.2L453.9 664.2L453.9 666.1L453.9 668.1L453.8 670.0L453.8 672.0L453.8 673.9L453.7 675.9L453.7 677.8L453.7 679.7L453.7 681.7L453.6 683.6L453.6 685.6L453.6 687.5L453.6 689.5L453.5 691.4L453.5 693.3L453.5 695.3L453.5 697.2L453.4 699.1L453.4 701.1L453.4 703.0L453.4 704.9L453.3 706.9L453.3 708.8L453.3 710.7L453.2 712.7L453.2 714.6L453.2 716.5L453.2 718.4L453.1 720.4L453.1 722.3L453.1 724.2L453.1 726.1L453.0 728.0L453.0 730.0L453.0 731.9L453.0 733.8L452.9 735.7L452.9 737.6L452.9 739.5L452.9 741.5L452.8 743.4L452.8 745.3L452.8 747.2L452.8 749.1L452.7 751.0L452.7 752.9L452.7 754.8L452.6 756.7L452.6 758.6L452.6 760.5L452.6 762.5L452.5 764.4L452.5 766.3L452.5 768.2L452.5 770.1L452.4 772.0L452.4 773.9L452.4 775.7L452.4 777.6L452.3 779.5L452.3 781.4L452.3 783.3L452.3 785.2L452.2 787.1L452.2 789.0L452.2 790.9L452.2 792.8L452.1 794.7L452.1 796.6L452.1 798.4L452.1 800.3L452.0 802.2L452.0 804.1L452.0 806.0L452.0 807.9L451.9 809.7L451.9 811.6L451.9 813.5L451.8 815.4L451.8 817.2L451.8 819.1L451.8 821.0L451.7 822.9L451.7 824.7L451.7 826.6L451.7 828.5L451.6 830.4L451.6 832.2L451.6 834.1" fill="none" stroke="#e83020" stroke-width="0.9" />
<path d="M347.4 186.0L350.6 188.2L353.9 190.7L357.1 193.5L360.3 196.7L363.6 200.3L366.8 204.1L370.0 208.3L373.1 212.8L376.2 217.5L379.3 222.6L382.4 228.0L385.4 233.7L388.4 239.7L391.3 245.9L394.1 252.4L396.9 259.2L399.6 266.2L402.3 273.4L404.9 280.9L407.4 288.5L409.8 296.4L412.2 304.5L414.5 312.8L416.6 321.2L418.7 329.8L420.7 338.5L422.6 347.4L424.4 356.4L426.1 365.5L427.7 374.7L429.2 384.0L430.6 393.4L431.9 402.8L433.0 412.3L434.1 421.8L435.0 431.3L435.8 440.8L436.6 450.3L437.1 459.8L437.6 469.3L438.0 478.7L438.2 488.1L438.4 497.4L438.4 506.6L438.3 515.7L438.0 524.7L437.7 533.6L437.3 542.4L436.7 551.0L436.0 559.5L435.3 567.8L434.4 575.9L433.4 583.9L432.3 591.6L431.1 599.2L429.7 606.6L428.3 613.7L426.8 620.6L425.2 627.3L423.5 633.8L421.7 640.0L419.9 645.9L417.9 651.6L415.9 657.0L413.8 662.2L411.6 667.0L409.3 671.6L407.0 675.9L404.5 679.9L402.1 683.6L399.5 687.1L396.9 690.2L394.3 693.0L391.6 695.5L388.9 697.7L386.1 699.6L383.2 701.2L380.4 702.4L377.5 703.4L374.6 704.0L371.6 704.4L368.6 704.4L365.6 704.1L362.6 703.5L359.6 702.6L356.5 701.4L353.5 699.9L350.4 698.1L347.4 695.9" fill="none" stroke="#111" stroke-width="1.0" />
<path d="M347.4 319.6L349.0 320.8L350.6 322.1L352.2 323.5L353.8 325.1L355.3 326.9L356.9 328.8L358.5 330.9L360.0 333.1L361.5 335.5L363.1 338.0L364.5 340.7L366.0 343.5L367.5 346.4L368.9 349.5L370.3 352.6L371.7 356.0L373.0 359.4L374.3 362.9L375.6 366.6L376.8 370.4L378.0 374.2L379.2 378.2L380.3 382.2L381.4 386.3L382.4 390.5L383.4 394.8L384.3 399.2L385.2 403.6L386.1 408.0L386.9 412.5L387.6 417.1L388.3 421.7L388.9 426.3L389.5 431.0L390.1 435.6L390.5 440.3L391.0 445.0L391.3 449.7L391.6 454.4L391.9 459.0L392.1 463.7L392.3 468.3L392.3 472.9L392.4 477.5L392.3 482.0L392.3 486.5L392.1 490.9L391.9 495.3L391.7 499.6L391.4 503.8L391.0 508.0L390.6 512.1L390.1 516.1L389.6 520.0L389.0 523.8L388.4 527.5L387.7 531.2L387.0 534.7L386.2 538.1L385.4 541.3L384.6 544.5L383.6 547.5L382.7 550.5L381.7 553.2L380.7 555.9L379.6 558.4L378.5 560.8L377.3 563.0L376.1 565.1L374.9 567.0L373.6 568.8L372.3 570.5L371.0 572.0L369.7 573.3L368.3 574.5L366.9 575.5L365.5 576.4L364.1 577.1L362.6 577.6L361.1 578.0L359.6 578.3L358.1 578.3L356.6 578.2L355.1 578.0L353.6 577.6L352.0 577.0L350.5 576.3L348.9 575.5L347.4 574.4" fill="none" stroke="#111" stroke-width="1.0" />
</g>
<g stroke="#1a1a1a" stroke-width="1.6" fill="none" stroke-linecap="round"><path d="M98.8 735.1L309.5 903.5"/><path d="M309.5 903.5L599.2 775.8"/></g>
<rect x="678.6" y="99.5" width="37.10000000000002" height="739.7" fill="url(#cb)" stroke="#111" stroke-width="2.2"/>
<path d="M678.6 173.5h7M715.7 173.5h-7M678.6 247.4h7M715.7 247.4h-7M678.6 321.4h7M715.7 321.4h-7M678.6 395.4h7M715.7 395.4h-7M678.6 469.4h7M715.7 469.4h-7M678.6 543.3h7M715.7 543.3h-7M678.6 617.3h7M715.7 617.3h-7M678.6 691.3h7M715.7 691.3h-7M678.6 765.2h7M715.7 765.2h-7" stroke="#111" stroke-width="1.8" fill="none"/>
<g font-family="'Liberation Serif', serif" font-size="30" fill="#111" stroke="#111" stroke-width="0.25"><text x="724.8" y="109.4" font-size="30" textLength="50.4" lengthAdjust="spacingAndGlyphs">300</text>
<text x="724.8" y="184.2" font-size="30" textLength="50.4" lengthAdjust="spacingAndGlyphs">280</text>
<text x="724.8" y="258.1" font-size="30" textLength="50.4" lengthAdjust="spacingAndGlyphs">260</text>
<text x="724.8" y="332.1" font-size="30" textLength="50.4" lengthAdjust="spacingAndGlyphs">240</text>
<text x="724.8" y="406.1" font-size="30" textLength="50.4" lengthAdjust="spacingAndGlyphs">220</text>
<text x="724.8" y="480.1" font-size="30" textLength="50.4" lengthAdjust="spacingAndGlyphs">200</text>
<text x="724.8" y="554.0" font-size="30" textLength="50.4" lengthAdjust="spacingAndGlyphs">180</text>
<text x="724.8" y="628.0" font-size="30" textLength="50.4" lengthAdjust="spacingAndGlyphs">160</text>
<text x="724.8" y="702.0" font-size="30" textLength="50.4" lengthAdjust="spacingAndGlyphs">140</text>
<text x="724.8" y="775.9" font-size="30" textLength="50.4" lengthAdjust="spacingAndGlyphs">120</text>
<text x="724.8" y="846.6" font-size="30" textLength="50.4" lengthAdjust="spacingAndGlyphs">100</text>
<text font-size="30.5" transform="translate(831.5 616.4) rotate(-90) scale(1.12 1)" letter-spacing="3.15">Temperature <tspan font-size="38" dy="2">(</tspan><tspan dy="-2">K</tspan><tspan font-size="38" dy="2">)</tspan></text>
<text font-size="30.5" transform="translate(27.2 471.5) rotate(-90) scale(1.12 1)" letter-spacing="2.4"><tspan font-style="italic">z</tspan> <tspan font-size="38" dy="2">(</tspan><tspan dy="-2">cm</tspan><tspan font-size="38" dy="2">)</tspan></text>
<text font-size="30.5" transform="translate(111.5 835.5) rotate(40) scale(1.12 1)" letter-spacing="2.4"><tspan font-style="italic">y</tspan> <tspan font-size="38" dy="2">(</tspan><tspan dy="-2">cm</tspan><tspan font-size="38" dy="2">)</tspan></text>
<text font-size="30.5" transform="translate(453 922) rotate(-26) scale(1.12 1)" letter-spacing="2.4"><tspan font-style="italic">x</tspan> <tspan font-size="38" dy="2">(</tspan><tspan dy="-2">cm</tspan><tspan font-size="38" dy="2">)</tspan></text>
<text font-size="30" transform="translate(65 114.2) scale(1.05 1)" text-anchor="middle">4</text>
<text font-size="30" transform="translate(64.7 426.2) scale(1.05 1)" text-anchor="middle">0</text>
<text x="49.6" y="739.2"><tspan textLength="24.0" lengthAdjust="spacingAndGlyphs" dy="3.0">−</tspan><tspan dy="-3.0" dx="1.3" textLength="15.8" lengthAdjust="spacingAndGlyphs">4</tspan></text>
<text font-size="30" transform="translate(90.5 764.2) scale(1.05 1)" text-anchor="middle">2</text>
<text font-size="30" transform="translate(186.3 838.2) scale(1.05 1)" text-anchor="middle">0</text>
<text x="264.3" y="921.3"><tspan textLength="23.5" lengthAdjust="spacingAndGlyphs" dy="3.1">−</tspan><tspan dy="-3.1" dx="2.0" textLength="15.8" lengthAdjust="spacingAndGlyphs">2</tspan></text>
<text x="312.5" y="919.9"><tspan textLength="23.5" lengthAdjust="spacingAndGlyphs" dy="2.3">−</tspan><tspan dy="-2.3" dx="2.3" textLength="15.8" lengthAdjust="spacingAndGlyphs">2</tspan></text>
<text font-size="30" transform="translate(468.7 860.7) scale(1.05 1)" text-anchor="middle">0</text>
<text font-size="30" transform="translate(607 799.9000000000001) scale(1.05 1)" text-anchor="middle">2</text></g>
</svg></body></html>
